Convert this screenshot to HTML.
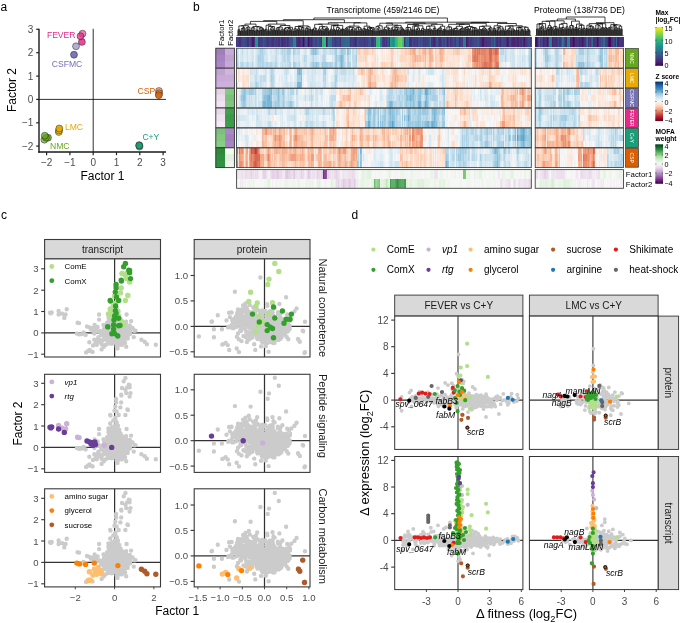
<!DOCTYPE html>
<html><head><meta charset="utf-8"><title>Figure</title>
<style>html,body{margin:0;padding:0;background:#fff;overflow:hidden;width:685px;height:623px;}svg{display:block;font-family:"Liberation Sans", sans-serif;will-change:transform;}</style>
</head><body>
<svg width="685" height="623" viewBox="0 0 685 623" font-family="'Liberation Sans', sans-serif">
<rect width="685" height="623" fill="#fff"/>
<text x="0.5" y="10.5" font-size="12">a</text>
<line x1="93.2" y1="28.8" x2="93.2" y2="152" stroke="#1a1a1a" stroke-width="0.9"/>
<line x1="39" y1="99.4" x2="166" y2="99.4" stroke="#1a1a1a" stroke-width="0.9"/>
<line x1="39" y1="28.8" x2="39" y2="152.7" stroke="#1a1a1a" stroke-width="1.4"/>
<line x1="38.3" y1="152" x2="166" y2="152" stroke="#1a1a1a" stroke-width="1.4"/>
<line x1="36.2" y1="146.1" x2="39" y2="146.1" stroke="#222" stroke-width="1.2"/>
<text x="33.4" y="149.7" font-size="10" text-anchor="end" fill="#4d4d4d">−2</text>
<line x1="46.6" y1="152" x2="46.6" y2="155.2" stroke="#222" stroke-width="1.2"/>
<text x="46.6" y="166.2" font-size="10" text-anchor="middle" fill="#4d4d4d">−2</text>
<line x1="36.2" y1="122.8" x2="39" y2="122.8" stroke="#222" stroke-width="1.2"/>
<text x="33.4" y="126.3" font-size="10" text-anchor="end" fill="#4d4d4d">−1</text>
<line x1="69.9" y1="152" x2="69.9" y2="155.2" stroke="#222" stroke-width="1.2"/>
<text x="69.9" y="166.2" font-size="10" text-anchor="middle" fill="#4d4d4d">−1</text>
<line x1="36.2" y1="99.4" x2="39" y2="99.4" stroke="#222" stroke-width="1.2"/>
<text x="33.4" y="103" font-size="10" text-anchor="end" fill="#4d4d4d">0</text>
<line x1="93.2" y1="152" x2="93.2" y2="155.2" stroke="#222" stroke-width="1.2"/>
<text x="93.2" y="166.2" font-size="10" text-anchor="middle" fill="#4d4d4d">0</text>
<line x1="36.2" y1="76.1" x2="39" y2="76.1" stroke="#222" stroke-width="1.2"/>
<text x="33.4" y="79.7" font-size="10" text-anchor="end" fill="#4d4d4d">1</text>
<line x1="116.5" y1="152" x2="116.5" y2="155.2" stroke="#222" stroke-width="1.2"/>
<text x="116.5" y="166.2" font-size="10" text-anchor="middle" fill="#4d4d4d">1</text>
<line x1="36.2" y1="52.7" x2="39" y2="52.7" stroke="#222" stroke-width="1.2"/>
<text x="33.4" y="56.3" font-size="10" text-anchor="end" fill="#4d4d4d">2</text>
<line x1="139.8" y1="152" x2="139.8" y2="155.2" stroke="#222" stroke-width="1.2"/>
<text x="139.8" y="166.2" font-size="10" text-anchor="middle" fill="#4d4d4d">2</text>
<line x1="36.2" y1="29.3" x2="39" y2="29.3" stroke="#222" stroke-width="1.2"/>
<text x="33.4" y="32.9" font-size="10" text-anchor="end" fill="#4d4d4d">3</text>
<line x1="163.1" y1="152" x2="163.1" y2="155.2" stroke="#222" stroke-width="1.2"/>
<text x="163.1" y="166.2" font-size="10" text-anchor="middle" fill="#4d4d4d">3</text>
<text x="102.4" y="180" font-size="12" text-anchor="middle">Factor 1</text>
<text x="16.3" y="90.1" font-size="12" text-anchor="middle" transform="rotate(-90 16.3 90.1)">Factor 2</text>
<circle cx="82.5" cy="33.7" r="3.45" fill="#e7298a" fill-opacity="0.6" stroke="#222" stroke-width="0.65" stroke-opacity="0.75"/>
<circle cx="81.9" cy="41.9" r="3.45" fill="#e7298a" fill-opacity="0.85" stroke="#222" stroke-width="0.65" stroke-opacity="0.75"/>
<circle cx="80.5" cy="36.2" r="3.45" fill="#e7298a" fill-opacity="0.75" stroke="#222" stroke-width="0.65" stroke-opacity="0.75"/>
<circle cx="74" cy="54.7" r="3.45" fill="#7570b3" fill-opacity="0.95" stroke="#222" stroke-width="0.65" stroke-opacity="0.75"/>
<circle cx="76" cy="46.3" r="3.45" fill="#7570b3" fill-opacity="0.55" stroke="#222" stroke-width="0.65" stroke-opacity="0.75"/>
<circle cx="159" cy="91" r="3.45" fill="#d95f02" fill-opacity="0.5" stroke="#222" stroke-width="0.65" stroke-opacity="0.75"/>
<circle cx="159.2" cy="93.3" r="3.45" fill="#d95f02" fill-opacity="0.45" stroke="#222" stroke-width="0.65" stroke-opacity="0.75"/>
<circle cx="158.8" cy="95.2" r="3.45" fill="#d95f02" fill-opacity="0.85" stroke="#222" stroke-width="0.65" stroke-opacity="0.75"/>
<circle cx="139.5" cy="146.6" r="3.45" fill="#1b9e77" fill-opacity="0.65" stroke="#222" stroke-width="0.65" stroke-opacity="0.75"/>
<circle cx="139.2" cy="145.1" r="3.45" fill="#1b9e77" fill-opacity="0.8" stroke="#222" stroke-width="0.65" stroke-opacity="0.75"/>
<circle cx="139.3" cy="145.6" r="3.45" fill="#1b9e77" fill-opacity="0.9" stroke="#222" stroke-width="0.65" stroke-opacity="0.75"/>
<circle cx="58.8" cy="132" r="3.45" fill="#e6ab02" fill-opacity="0.65" stroke="#222" stroke-width="0.65" stroke-opacity="0.75"/>
<circle cx="59" cy="130.5" r="3.45" fill="#e6ab02" fill-opacity="0.8" stroke="#222" stroke-width="0.65" stroke-opacity="0.75"/>
<circle cx="59.3" cy="128.5" r="3.45" fill="#e6ab02" fill-opacity="0.9" stroke="#222" stroke-width="0.65" stroke-opacity="0.75"/>
<circle cx="44.4" cy="139.7" r="3.45" fill="#66a61e" fill-opacity="0.65" stroke="#222" stroke-width="0.65" stroke-opacity="0.75"/>
<circle cx="48" cy="137.7" r="3.45" fill="#66a61e" fill-opacity="0.8" stroke="#222" stroke-width="0.65" stroke-opacity="0.75"/>
<circle cx="46" cy="137.7" r="3.45" fill="#66a61e" fill-opacity="0.9" stroke="#222" stroke-width="0.65" stroke-opacity="0.75"/>
<circle cx="44.8" cy="135.7" r="3.45" fill="#66a61e" fill-opacity="0.75" stroke="#222" stroke-width="0.65" stroke-opacity="0.75"/>
<text x="46.9" y="37.6" font-size="8.6" fill="#e7298a">FEVER</text>
<text x="51.7" y="67" font-size="8.6" fill="#7570b3">CSFMC</text>
<text x="137.6" y="93.8" font-size="8.6" fill="#d95f02">CSP</text>
<text x="142.4" y="140" font-size="8.6" fill="#1b9e77">C+Y</text>
<text x="64.9" y="130.4" font-size="8.6" fill="#e6ab02">LMC</text>
<text x="50" y="148.8" font-size="8.6" fill="#66a61e">NMC</text>
<text x="193" y="11" font-size="12">b</text>
<text x="383" y="12.6" font-size="8.6" text-anchor="middle">Transcriptome (459/2146 DE)</text>
<text x="579.5" y="12.6" font-size="8.6" text-anchor="middle">Proteome (138/736 DE)</text>
<path d="M237.9 35.4V30.4H238.6V35.4M239.2 35.4V31H239.8V35.4M238.2 30.4V29.5H239.5V31M240.5 35.4V31.3H241.1V35.4M240.8 31.3V30.7H241.7V35.4M242.4 35.4V31.3H243V35.4M241.3 30.7V28.5H242.7V31.3M242 28.5V28.3H243.7V35.4M244.3 35.4V30.4H244.9V35.4M242.8 28.3V27.5H244.6V30.4M238.9 29.5V25.9H243.7V27.5M245.6 35.4V31.1H246.2V35.4M247.5 35.4V30.5H248.1V35.4M246.8 35.4V29.8H247.8V30.5M247.3 29.8V29.3H248.8V35.4M245.9 31.1V27.9H248V29.3M250 35.4V30.3H250.7V35.4M249.4 35.4V30.1H250.4V30.3M247 27.9V27.2H249.9V30.1M241.3 25.9V25.7H248.4V27.2M251.3 35.4V30.4H251.9V35.4M253.2 35.4V30.5H253.9V35.4M252.6 35.4V30H253.5V30.5M254.5 35.4V31.1H255.1V35.4M253.1 30V27.8H254.8V31.1M251.6 30.4V27.7H253.9V27.8M255.8 35.4V30.6H256.4V35.4M257 35.4V30.8H257.7V35.4M257.4 30.8V30.3H258.3V35.4M256.1 30.6V30H257.8V30.3M259 35.4V30.8H259.6V35.4M260.2 35.4V30.3H260.9V35.4M260.6 30.3V30.1H261.5V35.4M259.3 30.8V27.9H261V30.1M263.4 35.4V30.2H264.1V35.4M262.8 35.4V28.9H263.7V30.2M262.2 35.4V28.7H263.3V28.9M260.2 27.9V27.7H262.7V28.7M257 30V26.9H261.4V27.7M252.8 27.7V26.5H259.2V26.9M244.9 25.7V24.1H256V26.5M265.3 35.4V30.3H266V35.4M264.7 35.4V29.9H265.7V30.3M266.6 35.4V31.3H267.3V35.4M265.2 29.9V29.3H266.9V31.3M268.5 35.4V30.7H269.2V35.4M267.9 35.4V29.7H268.8V30.7M269.8 35.4V31.4H270.4V35.4M271.1 35.4V29.9H271.7V35.4M270.1 31.4V29.2H271.4V29.9M272.4 35.4V30.4H273V35.4M272.7 30.4V29.5H273.6V35.4M270.8 29.2V27.8H273.2V29.5M274.3 35.4V30.2H274.9V35.4M272 27.8V26.6H274.6V30.2M268.4 29.7V26.5H273.3V26.6M266.1 29.3V25.2H270.8V26.5M275.5 35.4V30.4H276.2V35.4M275.9 30.4V30.3H276.8V35.4M277.5 35.4V30.3H278.1V35.4M277.8 30.3V29.4H278.7V35.4M276.3 30.3V28.1H278.3V29.4M280 35.4V31.2H280.6V35.4M279.4 35.4V30.1H280.3V31.2M277.3 28.1V27.5H279.8V30.1M281.3 35.4V31.2H281.9V35.4M282.6 35.4V30.5H283.2V35.4M281.6 31.2V29.3H282.9V30.5M278.6 27.5V27H282.2V29.3M284.5 35.4V29.9H285.1V35.4M283.8 35.4V29.4H284.8V29.9M285.7 35.4V31.1H286.4V35.4M284.3 29.4V28.5H286.1V31.1M287 35.4V31.1H287.7V35.4M287.3 31.1V30.4H288.3V35.4M288.9 35.4V30.4H289.6V35.4M287.8 30.4V28.7H289.3V30.4M290.2 35.4V30.9H290.8V35.4M288.5 28.7V28.3H290.5V30.9M285.2 28.5V27.5H289.5V28.3M291.5 35.4V30.5H292.1V35.4M292.8 35.4V30.9H293.4V35.4M291.8 30.5V29.1H293.1V30.9M287.4 27.5V27.3H292.4V29.1M280.4 27V25.5H289.9V27.3M268.4 25.2V24.1H285.2V25.5M250.4 24.1V21.4H276.8V24.1M294 35.4V31.3H294.7V35.4M295.3 35.4V31H295.9V35.4M295.6 31V29.5H296.6V35.4M294.4 31.3V28.4H296.1V29.5M297.2 35.4V29.9H297.9V35.4M297.5 29.9V29.7H298.5V35.4M299.1 35.4V30.1H299.8V35.4M298 29.7V28.3H299.5V30.1M300.4 35.4V30.9H301.1V35.4M301.7 35.4V30.3H302.3V35.4M300.7 30.9V29.3H302V30.3M301.4 29.3V27.6H303V35.4M303.6 35.4V30.3H304.2V35.4M302.2 27.6V27.1H303.9V30.3M298.7 28.3V26.9H303V27.1M295.2 28.4V26.5H300.9V26.9M305.5 35.4V31H306.2V35.4M304.9 35.4V30.4H305.8V31M307.4 35.4V30.5H308.1V35.4M306.8 35.4V29.2H307.7V30.5M307.3 29.2V28.7H308.7V35.4M305.4 30.4V28.3H308V28.7M310 35.4V30.2H310.6V35.4M310.3 30.2V29.5H311.3V35.4M309.3 35.4V29.3H310.8V29.5M306.7 28.3V26.9H310.1V29.3M298.1 26.5V25.9H308.4V26.9M263.6 21.4V20.7H303.2V25.9M311.9 35.4V29.9H312.5V35.4M312.2 29.9V29.7H313.2V35.4M313.8 35.4V30.5H314.4V35.4M312.7 29.7V29.4H314.1V30.5M315.1 35.4V30.1H315.7V35.4M316.4 35.4V31.2H317V35.4M315.4 30.1V28.4H316.7V31.2M313.4 29.4V28.1H316V28.4M317.6 35.4V30.5H318.3V35.4M317.9 30.5V30.3H318.9V35.4M319.5 35.4V30.7H320.2V35.4M319.9 30.7V30.2H320.8V35.4M318.4 30.3V29.1H320.3V30.2M321.5 35.4V30.8H322.1V35.4M323.4 35.4V31.2H324V35.4M322.7 35.4V29.5H323.7V31.2M321.8 30.8V28.4H323.2V29.5M325.3 35.4V30.1H325.9V35.4M325.6 30.1V29.7H326.6V35.4M324.6 35.4V29.1H326.1V29.7M325.4 29.1V28.8H327.2V35.4M328.5 35.4V31.2H329.1V35.4M327.8 35.4V29.4H328.8V31.2M326.3 28.8V28.2H328.3V29.4M322.5 28.4V26.8H327.3V28.2M319.4 29.1V26.7H324.9V26.8M314.7 28.1V24.3H322.1V26.7M329.7 35.4V30.5H330.4V35.4M330.1 30.5V30.3H331V35.4M331.7 35.4V30.5H332.3V35.4M330.5 30.3V29.2H332V30.5M333.6 35.4V30.2H334.2V35.4M333.9 30.2V30.1H334.8V35.4M332.9 35.4V29.1H334.4V30.1M335.5 35.4V30.6H336.1V35.4M336.8 35.4V30.1H337.4V35.4M335.8 30.6V29.8H337.1V30.1M338.7 35.4V31.1H339.3V35.4M338 35.4V30.2H339V31.1M339.9 35.4V30.1H340.6V35.4M338.5 30.2V28.8H340.3V30.1M336.4 29.8V27.6H339.4V28.8M333.7 29.1V25.8H337.9V27.6M331.3 29.2V25.6H335.8V25.8M341.2 35.4V30.5H341.9V35.4M341.5 30.5V29.1H342.5V35.4M343.1 35.4V30.3H343.8V35.4M342 29.1V29H343.5V30.3M333.5 25.6V25.4H342.7V29M318.4 24.3V24.1H338.1V25.4M345.1 35.4V30.5H345.7V35.4M344.4 35.4V29.6H345.4V30.5M346.3 35.4V30.2H347V35.4M344.9 29.6V28.8H346.6V30.2M345.8 28.8V28H347.6V35.4M348.2 35.4V31.1H348.9V35.4M349.5 35.4V30.7H350.2V35.4M348.6 31.1V29.2H349.8V30.7M350.8 35.4V30.4H351.4V35.4M351.1 30.4V29.5H352.1V35.4M352.7 35.4V30.2H353.3V35.4M351.6 29.5V29.3H353V30.2M354 35.4V30.7H354.6V35.4M352.3 29.3V27.8H354.3V30.7M349.2 29.2V27.2H353.3V27.8M346.7 28V27H351.2V27.2M355.9 35.4V31.4H356.5V35.4M356.2 31.4V30.8H357.2V35.4M355.3 35.4V29.1H356.7V30.8M357.8 35.4V31H358.4V35.4M358.1 31V29.6H359.1V35.4M356 29.1V27.8H358.6V29.6M359.7 35.4V30.9H360.4V35.4M361 35.4V30.4H361.6V35.4M361.3 30.4V29.3H362.3V35.4M360 30.9V29.1H361.8V29.3M357.3 27.8V27.6H360.9V29.1M349 27V26.1H359.1V27.6M362.9 35.4V30.8H363.5V35.4M364.2 35.4V30.2H364.8V35.4M364.5 30.2V28.8H365.5V35.4M363.2 30.8V28.6H365V28.8M366.1 35.4V30.9H366.7V35.4M366.4 30.9V29.5H367.4V35.4M366.9 29.5V29H368V35.4M368.6 35.4V29.7H369.3V35.4M371.2 35.4V30.6H371.8V35.4M370.6 35.4V30.4H371.5V30.6M369.9 35.4V30.2H371V30.4M370.5 30.2V28.6H372.5V35.4M369 29.7V28.3H371.5V28.6M373.1 35.4V30.7H373.7V35.4M374.4 35.4V31.4H375V35.4M373.4 30.7V28.7H374.7V31.4M370.2 28.3V27.6H374.1V28.7M367.4 29V27.4H372.1V27.6M364.1 28.6V26.2H369.8V27.4M354 26.1V22.9H366.9V26.2M328.3 24.1V22.7H360.5V22.9M283.4 20.7V19.7H344.4V22.7M375.7 35.4V30.5H376.3V35.4M376.9 35.4V31.4H377.6V35.4M378.2 35.4V31.3H378.8V35.4M377.3 31.4V28.8H378.5V31.3M380.1 35.4V30.7H380.8V35.4M379.5 35.4V30.4H380.4V30.7M377.9 28.8V27.8H380V30.4M376 30.5V26.4H378.9V27.8M381.4 35.4V30.3H382V35.4M381.7 30.3V30.1H382.7V35.4M377.5 26.4V25.8H382.2V30.1M383.3 35.4V30.8H383.9V35.4M385.2 35.4V30.2H385.9V35.4M384.6 35.4V29.3H385.5V30.2M383.6 30.8V29H385.1V29.3M386.5 35.4V30.6H387.1V35.4M387.8 35.4V30.2H388.4V35.4M388.1 30.2V30.1H389.1V35.4M386.8 30.6V29H388.6V30.1M389.7 35.4V30.1H390.3V35.4M387.7 29V28.6H390V30.1M384.3 29V27.2H388.9V28.6M391 35.4V30.4H391.6V35.4M392.9 35.4V29.9H393.5V35.4M392.2 35.4V29.7H393.2V29.9M391.3 30.4V28.3H392.7V29.7M394.2 35.4V29.9H394.8V35.4M394.5 29.9V29H395.4V35.4M396.1 35.4V30.1H396.7V35.4M396.4 30.1V30H397.3V35.4M396.9 30V29.5H398V35.4M395 29V27.8H397.4V29.5M398.6 35.4V31.1H399.3V35.4M396.2 27.8V27.2H398.9V31.1M392 28.3V27.1H397.6V27.2M399.9 35.4V30.4H400.5V35.4M401.2 35.4V30.3H401.8V35.4M404.4 35.4V30.9H405V35.4M403.7 35.4V30H404.7V30.9M403.1 35.4V29.8H404.2V30M402.4 35.4V29H403.6V29.8M401.5 30.3V28.4H403V29M400.2 30.4V27.4H402.3V28.4M394.8 27.1V25.4H401.2V27.4M386.6 27.2V25.1H398V25.4M379.8 25.8V23.2H392.3V25.1M405.6 35.4V30.2H406.3V35.4M406.9 35.4V29.8H407.5V35.4M408.2 35.4V31.3H408.8V35.4M407.2 29.8V29.2H408.5V31.3M409.5 35.4V31.2H410.1V35.4M409.8 31.2V29.9H410.7V35.4M410.3 29.9V29.1H411.4V35.4M407.9 29.2V27.7H410.8V29.1M406 30.2V27.5H409.3V27.7M412 35.4V30.4H412.6V35.4M412.3 30.4V30H413.3V35.4M414.6 35.4V29.9H415.2V35.4M413.9 35.4V29.5H414.9V29.9M415.8 35.4V31H416.5V35.4M417.7 35.4V30.8H418.4V35.4M417.1 35.4V29.5H418.1V30.8M416.2 31V29.4H417.6V29.5M419.7 35.4V30.4H420.3V35.4M419 35.4V29.9H420V30.4M416.9 29.4V28.2H419.5V29.9M414.4 29.5V26.1H418.2V28.2M412.8 30V25.9H416.3V26.1M420.9 35.4V30.5H421.6V35.4M421.3 30.5V30.1H422.2V35.4M423.5 35.4V31H424.1V35.4M422.8 35.4V30H423.8V31M423.3 30V29.6H424.8V35.4M421.7 30.1V28.4H424V29.6M414.5 25.9V25.8H422.9V28.4M407.6 27.5V24.5H418.7V25.8M426 35.4V31.1H426.7V35.4M425.4 35.4V29.8H426.4V31.1M425.9 29.8V29.1H427.3V35.4M429.2 35.4V31.2H429.9V35.4M428.6 35.4V30.1H429.5V31.2M428 35.4V29.4H429.1V30.1M430.5 35.4V30.2H431.1V35.4M430.8 30.2V30H431.8V35.4M428.5 29.4V29.1H431.3V30M426.6 29.1V26.2H429.9V29.1M432.4 35.4V30.9H433.1V35.4M432.7 30.9V30H433.7V35.4M434.3 35.4V30.4H435V35.4M433.2 30V28.3H434.6V30.4M435.6 35.4V30H436.2V35.4M433.9 28.3V28.1H435.9V30M428.2 26.2V26H434.9V28.1M436.9 35.4V29.9H437.5V35.4M437.2 29.9V29.7H438.2V35.4M437.7 29.7V29.6H438.8V35.4M439.4 35.4V30.1H440.1V35.4M439.7 30.1V29.9H440.7V35.4M438.2 29.6V28.2H440.2V29.9M441.3 35.4V30.5H442V35.4M439.2 28.2V28H441.7V30.5M442.6 35.4V31H443.3V35.4M442.9 31V29.8H443.9V35.4M443.4 29.8V29.6H444.5V35.4M445.2 35.4V31H445.8V35.4M444 29.6V29.4H445.5V31M440.4 28V26.2H444.7V29.4M431.6 26V24.3H442.6V26.2M413.2 24.5V23.8H437.1V24.3M386.1 23.2V23H425.1V23.8M447.1 35.4V30.7H447.7V35.4M446.4 35.4V30.3H447.4V30.7M448.4 35.4V30.7H449V35.4M448.7 30.7V29.9H449.6V35.4M450.3 35.4V30.7H450.9V35.4M450.6 30.7V29.4H451.5V35.4M451.1 29.4V29H452.2V35.4M449.2 29.9V27H451.6V29M446.9 30.3V26.9H450.4V27M452.8 35.4V30.1H453.5V35.4M454.1 35.4V30.1H454.7V35.4M453.1 30.1V28.9H454.4V30.1M455.4 35.4V30.7H456V35.4M455.7 30.7V30.4H456.6V35.4M453.8 28.9V28.4H456.2V30.4M457.9 35.4V30.7H458.6V35.4M457.3 35.4V30.2H458.2V30.7M455 28.4V28.2H457.8V30.2M459.2 35.4V30.3H459.8V35.4M459.5 30.3V29.4H460.5V35.4M461.1 35.4V31H461.7V35.4M460 29.4V29.3H461.4V31M460.7 29.3V28.6H462.4V35.4M463 35.4V31H463.7V35.4M461.5 28.6V28H463.3V31M456.4 28.2V26.3H462.4V28M465.6 35.4V30.4H466.2V35.4M465.9 30.4V29.2H466.8V35.4M464.9 35.4V29H466.4V29.2M464.3 35.4V27.8H465.7V29M468.1 35.4V30.8H468.8V35.4M468.4 30.8V28.9H469.4V35.4M467.5 35.4V28.7H468.9V28.9M465 27.8V27.5H468.2V28.7M470.7 35.4V30.6H471.3V35.4M470 35.4V29.1H471V30.6M472 35.4V30.9H472.6V35.4M472.3 30.9V30.4H473.2V35.4M475.1 35.4V30.2H475.8V35.4M474.5 35.4V29.9H475.5V30.2M473.9 35.4V28.7H475V29.9M477.1 35.4V29.9H477.7V35.4M476.4 35.4V29.7H477.4V29.9M474.4 28.7V28.1H476.9V29.7M472.7 30.4V27.6H475.7V28.1M470.5 29.1V27.4H474.2V27.6M466.6 27.5V26.5H472.4V27.4M459.4 26.3V24.4H469.5V26.5M448.7 26.9V24.3H464.4V24.4M478.3 35.4V30.8H479V35.4M479.6 35.4V30.5H480.2V35.4M479.9 30.5V29.6H480.9V35.4M478.6 30.8V29.3H480.4V29.6M482.2 35.4V30.2H482.8V35.4M481.5 35.4V29.5H482.5V30.2M483.4 35.4V30.3H484.1V35.4M482 29.5V29H483.7V30.3M485.3 35.4V30.5H486V35.4M486.6 35.4V30.3H487.3V35.4M485.7 30.5V29.6H486.9V30.3M484.7 35.4V28.8H486.3V29.6M482.9 29V28H485.5V28.8M479.5 29.3V26.4H484.2V28M487.9 35.4V31.3H488.5V35.4M489.2 35.4V30.8H489.8V35.4M490.4 35.4V30H491.1V35.4M489.5 30.8V28.9H490.8V30M488.2 31.3V28.7H490.1V28.9M491.7 35.4V31.3H492.4V35.4M489.2 28.7V27.8H492V31.3M481.9 26.4V26.1H490.6V27.8M456.5 24.3V23.3H486.2V26.1M493 35.4V30H493.6V35.4M495.5 35.4V30.7H496.2V35.4M494.9 35.4V30.5H495.9V30.7M494.3 35.4V28.4H495.4V30.5M493.3 30V28.2H494.8V28.4M496.8 35.4V30.3H497.5V35.4M498.7 35.4V31.5H499.4V35.4M498.1 35.4V28.9H499.1V31.5M500 35.4V30.9H500.6V35.4M500.3 30.9V30.2H501.3V35.4M498.6 28.9V28.1H500.8V30.2M497.1 30.3V27.4H499.7V28.1M501.9 35.4V30.7H502.6V35.4M503.2 35.4V30.7H503.8V35.4M502.2 30.7V28.7H503.5V30.7M498.4 27.4V26.8H502.9V28.7M494.1 28.2V25.8H500.6V26.8M504.5 35.4V30.7H505.1V35.4M505.7 35.4V31H506.4V35.4M504.8 30.7V29.6H506.1V31M507.7 35.4V31.1H508.3V35.4M507 35.4V30.2H508V31.1M507.5 30.2V30.1H508.9V35.4M509.6 35.4V30.5H510.2V35.4M508.2 30.1V28.6H509.9V30.5M510.9 35.4V30.8H511.5V35.4M509.1 28.6V27.8H511.2V30.8M505.4 29.6V26.1H510.1V27.8M512.8 35.4V31H513.4V35.4M514.7 35.4V30.8H515.3V35.4M514 35.4V30.2H515V30.8M513.1 31V30H514.5V30.2M512.1 35.4V29.1H513.8V30M507.8 26.1V25.9H513V29.1M516 35.4V30.2H516.6V35.4M516.3 30.2V30H517.2V35.4M517.9 35.4V30.6H518.5V35.4M518.2 30.6V30.4H519.1V35.4M519.8 35.4V31.5H520.4V35.4M521.1 35.4V29.9H521.7V35.4M522.3 35.4V30.1H523V35.4M521.4 29.9V29.5H522.6V30.1M520.1 31.5V27.7H522V29.5M518.7 30.4V27.5H521.1V27.7M516.7 30V27.3H519.9V27.5M523.6 35.4V30.9H524.2V35.4M525.5 35.4V31.1H526.2V35.4M524.9 35.4V30.2H525.8V31.1M523.9 30.9V29H525.4V30.2M526.8 35.4V30.9H527.4V35.4M528.1 35.4V30.4H528.7V35.4M529.3 35.4V30.8H530V35.4M528.4 30.4V30H529.7V30.8M527.1 30.9V29.2H529V30M524.6 29V27.3H528.1V29.2M518.3 27.3V26.9H526.4V27.3M510.4 25.9V25.8H522.3V26.9M497.4 25.8V23.5H516.3V25.8M471.4 23.3V22.4H506.9V23.5M405.6 23V22.2H489.1V22.4M313.9 19.7V18H447.4V22.2" fill="none" stroke="#000" stroke-width="0.75"/>
<path d="M537.1 35.4V29.2H537.8V35.4M536.5 35.4V29.1H537.5V29.2M538.4 35.4V30.7H539V35.4M538.7 30.7V28.6H539.6V35.4M541.5 35.4V30.7H542.1V35.4M540.9 35.4V28.5H541.8V30.7M541.4 28.5V27.7H542.8V35.4M540.3 35.4V27.2H542.1V27.7M543.4 35.4V29.6H544V35.4M541.2 27.2V26.1H543.7V29.6M539.2 28.6V24.2H542.4V26.1M537 29.1V24H540.8V24.2M544.6 35.4V30.7H545.3V35.4M545.9 35.4V30H546.5V35.4M545 30.7V28H546.2V30M538.9 24V23.6H545.6V28M547.1 35.4V29.8H547.8V35.4M548.4 35.4V29.1H549V35.4M548.7 29.1V28.9H549.6V35.4M547.5 29.8V27.5H549.2V28.9M552.1 35.4V30.1H552.8V35.4M551.5 35.4V27.5H552.5V30.1M550.9 35.4V27.4H552V27.5M550.3 35.4V26.9H551.4V27.4M548.3 27.5V25.6H550.9V26.9M542.2 23.6V21.3H549.6V25.6M553.4 35.4V30.5H554V35.4M554.6 35.4V29.1H555.3V35.4M555 29.1V28.9H555.9V35.4M557.1 35.4V30.2H557.8V35.4M556.5 35.4V28.4H557.5V30.2M555.4 28.9V26.7H557V28.4M553.7 30.5V26.4H556.2V26.7M545.9 21.3V21.1H555V26.4M558.4 35.4V29.5H559V35.4M560.3 35.4V30.2H560.9V35.4M559.7 35.4V27.9H560.6V30.2M558.7 29.5V27.7H560.1V27.9M562.2 35.4V30.1H562.8V35.4M561.5 35.4V27.5H562.5V30.1M563.4 35.4V29.6H564V35.4M563.7 29.6V29H564.7V35.4M562 27.5V27.4H564.2V29M559.4 27.7V24.3H563.1V27.4M565.3 35.4V30.3H565.9V35.4M566.5 35.4V29.1H567.2V35.4M565.6 30.3V27.8H566.8V29.1M566.2 27.8V26.7H567.8V35.4M561.3 24.3V23.4H567V26.7M550.4 21.1V20.8H564.1V23.4M568.4 35.4V29H569V35.4M568.7 29V28.8H569.7V35.4M570.3 35.4V30H570.9V35.4M569.2 28.8V26.9H570.6V30M571.5 35.4V29.4H572.2V35.4M571.8 29.4V28.4H572.8V35.4M573.4 35.4V29.1H574V35.4M572.3 28.4V25.9H573.7V29.1M569.9 26.9V25.5H573V25.9M575.3 35.4V29.3H575.9V35.4M574.7 35.4V28.9H575.6V29.3M575.1 28.9V27.6H576.5V35.4M575.8 27.6V27.3H577.2V35.4M578.4 35.4V29.8H579V35.4M577.8 35.4V28.9H578.7V29.8M579.7 35.4V30.5H580.3V35.4M578.3 28.9V28.6H580V30.5M582.2 35.4V30.6H582.8V35.4M581.5 35.4V28.9H582.5V30.6M580.9 35.4V27.7H582V28.9M579.1 28.6V25.3H581.5V27.7M584.7 35.4V30.2H585.3V35.4M584 35.4V28.4H585V30.2M583.4 35.4V28.2H584.5V28.4M580.3 25.3V25.2H584V28.2M576.5 27.3V24.1H582.1V25.2M571.5 25.5V21.1H579.3V24.1M557.3 20.8V19H575.4V21.1M585.9 35.4V28.7H586.5V35.4M587.2 35.4V29.7H587.8V35.4M586.2 28.7V28.5H587.5V29.7M589 35.4V29.3H589.7V35.4M588.4 35.4V29.1H589.4V29.3M590.9 35.4V29.6H591.5V35.4M590.3 35.4V28H591.2V29.6M588.9 29.1V26.4H590.8V28M592.2 35.4V29.7H592.8V35.4M594 35.4V30.1H594.7V35.4M593.4 35.4V28.6H594.4V30.1M592.5 29.7V27.2H593.9V28.6M589.8 26.4V26.2H593.2V27.2M586.9 28.5V25.2H591.5V26.2M595.9 35.4V29.2H596.5V35.4M595.3 35.4V28.6H596.2V29.2M597.2 35.4V30.2H597.8V35.4M598.4 35.4V29.9H599V35.4M597.5 30.2V28.3H598.7V29.9M600.3 35.4V29.3H600.9V35.4M599.7 35.4V29.1H600.6V29.3M598.1 28.3V25.7H600.1V29.1M595.8 28.6V24.9H599.1V25.7M602.8 35.4V29.4H603.4V35.4M602.2 35.4V28.3H603.1V29.4M602.6 28.3V28.1H604.1V35.4M601.6 35.4V27.4H603.3V28.1M597.4 24.9V23.9H602.4V27.4M605.3 35.4V29.9H605.9V35.4M605.6 29.9V28.5H606.6V35.4M606.1 28.5V28H607.2V35.4M604.7 35.4V27.7H606.6V28M599.9 23.9V23.7H605.7V27.7M589.2 25.2V23.6H602.8V23.7M607.8 35.4V29.1H608.4V35.4M609.1 35.4V29.8H609.7V35.4M608.1 29.1V27.9H609.4V29.8M610.3 35.4V28.9H610.9V35.4M608.7 27.9V27.7H610.6V28.9M611.6 35.4V30.2H612.2V35.4M609.7 27.7V27.1H611.9V30.2M612.8 35.4V30.3H613.4V35.4M614.1 35.4V29.1H614.7V35.4M615.9 35.4V29.6H616.6V35.4M617.2 35.4V30.3H617.8V35.4M616.2 29.6V28.2H617.5V30.3M615.3 35.4V27.2H616.9V28.2M614.4 29.1V25.8H616.1V27.2M613.1 30.3V25.6H615.2V25.8M619.1 35.4V30.5H619.7V35.4M619.4 30.5V28.7H620.3V35.4M618.4 35.4V28.2H619.8V28.7M620.9 35.4V29.8H621.6V35.4M621.2 29.8V29.2H622.2V35.4M619.1 28.2V26.2H621.7V29.2M614.2 25.6V25H620.4V26.2M610.8 27.1V24.6H617.3V25M596 23.6V22.7H614V24.6M566.3 19V17H605V22.7" fill="none" stroke="#000" stroke-width="0.75"/>
<line x1="236.6" y1="35.6" x2="531.3" y2="35.6" stroke="#000" stroke-width="0.6"/>
<line x1="535.2" y1="35.6" x2="623.5" y2="35.6" stroke="#000" stroke-width="0.6"/>
<path d="M236 37.4h1v9.1h-1zM238 37.4h1v9.1h-1zM258 37.4h1v9.1h-1zM259 37.4h1v9.1h-1zM261 37.4h1v9.1h-1zM268 37.4h1v9.1h-1zM271 37.4h1v9.1h-1zM276 37.4h1v9.1h-1zM283 37.4h1v9.1h-1zM285 37.4h1v9.1h-1zM288 37.4h1v9.1h-1zM296 37.4h1v9.1h-1zM310 37.4h1v9.1h-1zM312 37.4h1v9.1h-1zM327 37.4h1v9.1h-1zM335 37.4h1v9.1h-1zM350 37.4h1v9.1h-1zM353 37.4h1v9.1h-1zM354 37.4h1v9.1h-1zM356 37.4h1v9.1h-1zM364 37.4h1v9.1h-1zM371 37.4h1v9.1h-1zM373 37.4h1v9.1h-1zM383 37.4h1v9.1h-1zM384 37.4h1v9.1h-1zM386 37.4h1v9.1h-1zM389 37.4h1v9.1h-1zM404 37.4h1v9.1h-1zM414 37.4h1v9.1h-1zM417 37.4h1v9.1h-1zM423 37.4h1v9.1h-1zM425 37.4h1v9.1h-1zM432 37.4h1v9.1h-1zM435 37.4h1v9.1h-1zM441 37.4h1v9.1h-1zM448 37.4h1v9.1h-1zM451 37.4h1v9.1h-1zM455 37.4h1v9.1h-1zM460 37.4h1v9.1h-1zM462 37.4h1v9.1h-1zM470 37.4h1v9.1h-1zM471 37.4h1v9.1h-1zM480 37.4h1v9.1h-1zM485 37.4h1v9.1h-1zM487 37.4h1v9.1h-1zM488 37.4h1v9.1h-1zM489 37.4h1v9.1h-1zM490 37.4h1v9.1h-1zM499 37.4h1v9.1h-1zM519 37.4h1v9.1h-1zM525 37.4h1v9.1h-1zM526 37.4h1v9.1h-1z" fill="#433880" shape-rendering="crispEdges"/>
<path d="M237 37.4h1v9.1h-1zM241 37.4h1v9.1h-1zM245 37.4h1v9.1h-1zM246 37.4h1v9.1h-1zM250 37.4h1v9.1h-1zM260 37.4h1v9.1h-1zM262 37.4h1v9.1h-1zM265 37.4h1v9.1h-1zM266 37.4h1v9.1h-1zM269 37.4h1v9.1h-1zM270 37.4h1v9.1h-1zM274 37.4h1v9.1h-1zM275 37.4h1v9.1h-1zM277 37.4h1v9.1h-1zM286 37.4h1v9.1h-1zM301 37.4h1v9.1h-1zM307 37.4h1v9.1h-1zM315 37.4h1v9.1h-1zM316 37.4h1v9.1h-1zM319 37.4h1v9.1h-1zM320 37.4h1v9.1h-1zM332 37.4h1v9.1h-1zM334 37.4h1v9.1h-1zM336 37.4h1v9.1h-1zM337 37.4h1v9.1h-1zM339 37.4h1v9.1h-1zM351 37.4h1v9.1h-1zM352 37.4h1v9.1h-1zM359 37.4h1v9.1h-1zM360 37.4h1v9.1h-1zM361 37.4h1v9.1h-1zM362 37.4h1v9.1h-1zM363 37.4h1v9.1h-1zM365 37.4h1v9.1h-1zM366 37.4h1v9.1h-1zM367 37.4h1v9.1h-1zM375 37.4h1v9.1h-1zM382 37.4h1v9.1h-1zM385 37.4h1v9.1h-1zM413 37.4h1v9.1h-1zM415 37.4h1v9.1h-1zM416 37.4h1v9.1h-1zM420 37.4h1v9.1h-1zM424 37.4h1v9.1h-1zM426 37.4h1v9.1h-1zM427 37.4h1v9.1h-1zM428 37.4h1v9.1h-1zM438 37.4h1v9.1h-1zM443 37.4h1v9.1h-1zM444 37.4h1v9.1h-1zM446 37.4h1v9.1h-1zM452 37.4h1v9.1h-1zM454 37.4h1v9.1h-1zM461 37.4h1v9.1h-1zM469 37.4h1v9.1h-1zM472 37.4h1v9.1h-1zM473 37.4h1v9.1h-1zM476 37.4h1v9.1h-1zM479 37.4h1v9.1h-1zM493 37.4h1v9.1h-1zM495 37.4h1v9.1h-1zM498 37.4h1v9.1h-1zM501 37.4h1v9.1h-1zM503 37.4h1v9.1h-1zM504 37.4h1v9.1h-1zM505 37.4h1v9.1h-1zM509 37.4h1v9.1h-1zM510 37.4h1v9.1h-1zM522 37.4h1v9.1h-1zM527 37.4h1v9.1h-1zM530 37.4h1v9.1h-1z" fill="#404286" shape-rendering="crispEdges"/>
<path d="M239 37.4h1v9.1h-1zM240 37.4h1v9.1h-1zM247 37.4h1v9.1h-1zM248 37.4h1v9.1h-1zM251 37.4h1v9.1h-1zM254 37.4h1v9.1h-1zM267 37.4h1v9.1h-1zM272 37.4h1v9.1h-1zM273 37.4h1v9.1h-1zM278 37.4h1v9.1h-1zM279 37.4h1v9.1h-1zM281 37.4h1v9.1h-1zM284 37.4h1v9.1h-1zM287 37.4h1v9.1h-1zM297 37.4h1v9.1h-1zM300 37.4h1v9.1h-1zM302 37.4h1v9.1h-1zM304 37.4h1v9.1h-1zM321 37.4h1v9.1h-1zM340 37.4h1v9.1h-1zM372 37.4h1v9.1h-1zM409 37.4h1v9.1h-1zM410 37.4h1v9.1h-1zM411 37.4h1v9.1h-1zM431 37.4h1v9.1h-1zM439 37.4h1v9.1h-1zM440 37.4h1v9.1h-1zM450 37.4h1v9.1h-1zM459 37.4h1v9.1h-1zM468 37.4h1v9.1h-1zM481 37.4h1v9.1h-1zM484 37.4h1v9.1h-1zM486 37.4h1v9.1h-1zM496 37.4h1v9.1h-1zM506 37.4h1v9.1h-1zM511 37.4h1v9.1h-1zM515 37.4h1v9.1h-1zM516 37.4h1v9.1h-1zM520 37.4h1v9.1h-1zM521 37.4h1v9.1h-1z" fill="#462f7b" shape-rendering="crispEdges"/>
<path d="M242 37.4h1v9.1h-1zM243 37.4h1v9.1h-1zM244 37.4h1v9.1h-1zM249 37.4h1v9.1h-1zM264 37.4h1v9.1h-1zM280 37.4h1v9.1h-1zM289 37.4h1v9.1h-1zM290 37.4h1v9.1h-1zM292 37.4h1v9.1h-1zM305 37.4h1v9.1h-1zM313 37.4h1v9.1h-1zM314 37.4h1v9.1h-1zM317 37.4h1v9.1h-1zM333 37.4h1v9.1h-1zM338 37.4h1v9.1h-1zM357 37.4h1v9.1h-1zM358 37.4h1v9.1h-1zM368 37.4h1v9.1h-1zM374 37.4h1v9.1h-1zM387 37.4h1v9.1h-1zM412 37.4h1v9.1h-1zM418 37.4h1v9.1h-1zM422 37.4h1v9.1h-1zM429 37.4h1v9.1h-1zM436 37.4h1v9.1h-1zM449 37.4h1v9.1h-1zM453 37.4h1v9.1h-1zM458 37.4h1v9.1h-1zM474 37.4h1v9.1h-1zM475 37.4h1v9.1h-1zM491 37.4h1v9.1h-1zM492 37.4h1v9.1h-1zM502 37.4h1v9.1h-1zM528 37.4h1v9.1h-1zM529 37.4h1v9.1h-1zM531 37.4h1v9.1h-1z" fill="#3d4c8a" shape-rendering="crispEdges"/>
<path d="M252 37.4h1v9.1h-1zM253 37.4h1v9.1h-1zM326 37.4h1v9.1h-1zM466 37.4h1v9.1h-1zM482 37.4h1v9.1h-1zM483 37.4h1v9.1h-1zM507 37.4h1v9.1h-1zM524 37.4h1v9.1h-1z" fill="#46186a" shape-rendering="crispEdges"/>
<path d="M255 37.4h1v9.1h-1zM256 37.4h1v9.1h-1zM392 37.4h1v9.1h-1z" fill="#22908c" shape-rendering="crispEdges"/>
<path d="M257 37.4h1v9.1h-1zM391 37.4h1v9.1h-1zM394 37.4h1v9.1h-1z" fill="#20988a" shape-rendering="crispEdges"/>
<path d="M263 37.4h1v9.1h-1zM291 37.4h1v9.1h-1zM306 37.4h1v9.1h-1zM318 37.4h1v9.1h-1zM349 37.4h1v9.1h-1zM369 37.4h1v9.1h-1zM370 37.4h1v9.1h-1zM388 37.4h1v9.1h-1zM405 37.4h1v9.1h-1zM419 37.4h1v9.1h-1zM421 37.4h1v9.1h-1zM437 37.4h1v9.1h-1zM442 37.4h1v9.1h-1zM445 37.4h1v9.1h-1zM456 37.4h1v9.1h-1zM457 37.4h1v9.1h-1zM477 37.4h1v9.1h-1zM478 37.4h1v9.1h-1z" fill="#39558b" shape-rendering="crispEdges"/>
<path d="M282 37.4h1v9.1h-1zM298 37.4h1v9.1h-1zM299 37.4h1v9.1h-1zM309 37.4h1v9.1h-1zM311 37.4h1v9.1h-1zM355 37.4h1v9.1h-1zM433 37.4h1v9.1h-1zM434 37.4h1v9.1h-1zM447 37.4h1v9.1h-1zM467 37.4h1v9.1h-1zM497 37.4h1v9.1h-1zM500 37.4h1v9.1h-1zM508 37.4h1v9.1h-1zM512 37.4h1v9.1h-1zM513 37.4h1v9.1h-1zM514 37.4h1v9.1h-1zM517 37.4h1v9.1h-1zM518 37.4h1v9.1h-1zM523 37.4h1v9.1h-1z" fill="#482474" shape-rendering="crispEdges"/>
<path d="M293 37.4h1v9.1h-1zM295 37.4h1v9.1h-1zM393 37.4h1v9.1h-1z" fill="#25888d" shape-rendering="crispEdges"/>
<path d="M294 37.4h1v9.1h-1zM328 37.4h1v9.1h-1zM380 37.4h1v9.1h-1zM463 37.4h1v9.1h-1zM465 37.4h1v9.1h-1z" fill="#277f8e" shape-rendering="crispEdges"/>
<path d="M303 37.4h1v9.1h-1zM308 37.4h1v9.1h-1z" fill="#450d5f" shape-rendering="crispEdges"/>
<path d="M322 37.4h1v9.1h-1zM324 37.4h1v9.1h-1zM325 37.4h1v9.1h-1zM376 37.4h1v9.1h-1zM377 37.4h1v9.1h-1zM378 37.4h1v9.1h-1zM395 37.4h1v9.1h-1zM396 37.4h1v9.1h-1zM403 37.4h1v9.1h-1z" fill="#35b779" shape-rendering="crispEdges"/>
<path d="M323 37.4h1v9.1h-1z" fill="#2eaf7e" shape-rendering="crispEdges"/>
<path d="M329 37.4h1v9.1h-1zM331 37.4h1v9.1h-1zM381 37.4h1v9.1h-1zM464 37.4h1v9.1h-1z" fill="#2a788e" shape-rendering="crispEdges"/>
<path d="M330 37.4h1v9.1h-1zM348 37.4h1v9.1h-1zM406 37.4h1v9.1h-1zM408 37.4h1v9.1h-1zM430 37.4h1v9.1h-1z" fill="#2e708e" shape-rendering="crispEdges"/>
<path d="M341 37.4h1v9.1h-1zM342 37.4h1v9.1h-1zM343 37.4h1v9.1h-1zM344 37.4h1v9.1h-1zM347 37.4h1v9.1h-1z" fill="#355f8c" shape-rendering="crispEdges"/>
<path d="M345 37.4h1v9.1h-1zM346 37.4h1v9.1h-1zM407 37.4h1v9.1h-1zM494 37.4h1v9.1h-1z" fill="#31688e" shape-rendering="crispEdges"/>
<path d="M379 37.4h1v9.1h-1zM397 37.4h1v9.1h-1zM402 37.4h1v9.1h-1z" fill="#46be6f" shape-rendering="crispEdges"/>
<path d="M390 37.4h1v9.1h-1z" fill="#21a087" shape-rendering="crispEdges"/>
<path d="M398 37.4h1v9.1h-1zM399 37.4h1v9.1h-1zM400 37.4h1v9.1h-1z" fill="#68cc5b" shape-rendering="crispEdges"/>
<path d="M401 37.4h1v9.1h-1z" fill="#7cd14f" shape-rendering="crispEdges"/>
<path d="M535 37.4h1v9.1h-1zM547 37.4h1v9.1h-1zM574 37.4h1v9.1h-1zM582 37.4h1v9.1h-1zM608 37.4h1v9.1h-1z" fill="#46186a" shape-rendering="crispEdges"/>
<path d="M536 37.4h1v9.1h-1zM573 37.4h1v9.1h-1zM597 37.4h1v9.1h-1zM610 37.4h1v9.1h-1z" fill="#450d5f" shape-rendering="crispEdges"/>
<path d="M537 37.4h1v9.1h-1zM543 37.4h1v9.1h-1zM552 37.4h1v9.1h-1zM570 37.4h1v9.1h-1zM572 37.4h1v9.1h-1zM579 37.4h1v9.1h-1zM581 37.4h1v9.1h-1zM583 37.4h1v9.1h-1zM598 37.4h1v9.1h-1zM617 37.4h1v9.1h-1zM618 37.4h1v9.1h-1z" fill="#482474" shape-rendering="crispEdges"/>
<path d="M538 37.4h1v9.1h-1zM542 37.4h1v9.1h-1zM589 37.4h1v9.1h-1zM599 37.4h1v9.1h-1zM600 37.4h1v9.1h-1zM605 37.4h1v9.1h-1zM606 37.4h1v9.1h-1zM614 37.4h1v9.1h-1z" fill="#404286" shape-rendering="crispEdges"/>
<path d="M539 37.4h1v9.1h-1zM563 37.4h1v9.1h-1zM592 37.4h1v9.1h-1zM616 37.4h1v9.1h-1z" fill="#31688e" shape-rendering="crispEdges"/>
<path d="M540 37.4h1v9.1h-1zM545 37.4h1v9.1h-1zM548 37.4h1v9.1h-1zM554 37.4h1v9.1h-1zM557 37.4h1v9.1h-1zM559 37.4h1v9.1h-1zM560 37.4h1v9.1h-1zM565 37.4h1v9.1h-1zM575 37.4h1v9.1h-1zM577 37.4h1v9.1h-1zM578 37.4h1v9.1h-1zM584 37.4h1v9.1h-1zM585 37.4h1v9.1h-1zM590 37.4h1v9.1h-1zM595 37.4h1v9.1h-1zM607 37.4h1v9.1h-1zM611 37.4h1v9.1h-1zM612 37.4h1v9.1h-1zM620 37.4h1v9.1h-1zM623 37.4h1v9.1h-1z" fill="#433880" shape-rendering="crispEdges"/>
<path d="M541 37.4h1v9.1h-1zM558 37.4h1v9.1h-1zM561 37.4h1v9.1h-1zM564 37.4h1v9.1h-1zM602 37.4h1v9.1h-1zM613 37.4h1v9.1h-1z" fill="#3d4c8a" shape-rendering="crispEdges"/>
<path d="M544 37.4h1v9.1h-1zM546 37.4h1v9.1h-1zM553 37.4h1v9.1h-1zM555 37.4h1v9.1h-1zM556 37.4h1v9.1h-1zM566 37.4h1v9.1h-1zM571 37.4h1v9.1h-1zM576 37.4h1v9.1h-1zM580 37.4h1v9.1h-1zM588 37.4h1v9.1h-1zM593 37.4h1v9.1h-1zM594 37.4h1v9.1h-1zM596 37.4h1v9.1h-1zM615 37.4h1v9.1h-1zM619 37.4h1v9.1h-1zM621 37.4h1v9.1h-1zM622 37.4h1v9.1h-1z" fill="#462f7b" shape-rendering="crispEdges"/>
<path d="M549 37.4h1v9.1h-1zM550 37.4h1v9.1h-1zM551 37.4h1v9.1h-1zM567 37.4h1v9.1h-1zM568 37.4h1v9.1h-1z" fill="#277f8e" shape-rendering="crispEdges"/>
<path d="M562 37.4h1v9.1h-1zM587 37.4h1v9.1h-1z" fill="#2a788e" shape-rendering="crispEdges"/>
<path d="M569 37.4h1v9.1h-1z" fill="#25888d" shape-rendering="crispEdges"/>
<path d="M586 37.4h1v9.1h-1zM603 37.4h1v9.1h-1z" fill="#355f8c" shape-rendering="crispEdges"/>
<path d="M591 37.4h1v9.1h-1zM601 37.4h1v9.1h-1z" fill="#39558b" shape-rendering="crispEdges"/>
<path d="M604 37.4h1v9.1h-1z" fill="#2e708e" shape-rendering="crispEdges"/>
<path d="M609 37.4h1v9.1h-1z" fill="#440154" shape-rendering="crispEdges"/>
<path d="M236 48.2h1v6.7h-1zM236 54.9h1v6.7h-1zM237 61.5h1v6.7h-1zM258 54.9h1v6.7h-1zM260 48.2h1v6.7h-1zM260 54.9h1v6.7h-1zM262 48.2h1v6.7h-1zM262 61.5h1v6.7h-1zM287 48.2h1v6.7h-1zM288 48.2h1v6.7h-1zM289 48.2h1v6.7h-1zM293 48.2h1v6.7h-1zM293 61.5h1v6.7h-1zM294 61.5h1v6.7h-1zM311 48.2h1v6.7h-1zM312 61.5h1v6.7h-1zM314 61.5h1v6.7h-1zM315 61.5h1v6.7h-1zM317 61.5h1v6.7h-1zM318 61.5h1v6.7h-1zM323 61.5h1v6.7h-1zM324 61.5h1v6.7h-1zM326 61.5h1v6.7h-1zM327 61.5h1v6.7h-1zM330 61.5h1v6.7h-1zM335 48.2h1v6.7h-1zM335 54.9h1v6.7h-1zM336 48.2h1v6.7h-1zM339 54.9h1v6.7h-1zM343 48.2h1v6.7h-1zM343 61.5h1v6.7h-1zM344 48.2h1v6.7h-1zM348 61.5h1v6.7h-1zM529 54.9h1v6.7h-1zM529 61.5h1v6.7h-1zM530 61.5h1v6.7h-1zM256 81.5h1v6.7h-1zM271 74.9h1v6.7h-1zM297 74.9h1v6.7h-1zM298 74.9h1v6.7h-1zM299 74.9h1v6.7h-1zM300 74.9h1v6.7h-1zM324 68.2h1v6.7h-1zM325 68.2h1v6.7h-1zM335 74.9h1v6.7h-1zM335 81.5h1v6.7h-1zM336 74.9h1v6.7h-1zM242 88.2h1v6.6h-1zM242 101.4h1v6.6h-1zM245 101.4h1v6.6h-1zM250 88.2h1v6.6h-1zM252 88.2h1v6.6h-1zM253 88.2h1v6.6h-1zM255 88.2h1v6.6h-1zM263 88.2h1v6.6h-1zM264 88.2h1v6.6h-1zM266 88.2h1v6.6h-1zM276 88.2h1v6.6h-1zM276 101.4h1v6.6h-1zM277 88.2h1v6.6h-1zM277 94.8h1v6.6h-1zM277 101.4h1v6.6h-1zM279 88.2h1v6.6h-1zM279 94.8h1v6.6h-1zM279 101.4h1v6.6h-1zM283 94.8h1v6.6h-1zM289 101.4h1v6.6h-1zM388 101.4h1v6.6h-1zM399 94.8h1v6.6h-1zM400 101.4h1v6.6h-1zM404 88.2h1v6.6h-1zM405 88.2h1v6.6h-1zM405 101.4h1v6.6h-1zM407 88.2h1v6.6h-1zM407 101.4h1v6.6h-1zM408 88.2h1v6.6h-1zM408 101.4h1v6.6h-1zM409 88.2h1v6.6h-1zM411 101.4h1v6.6h-1zM412 101.4h1v6.6h-1zM414 94.8h1v6.6h-1zM415 94.8h1v6.6h-1zM417 94.8h1v6.6h-1zM417 101.4h1v6.6h-1zM421 88.2h1v6.6h-1zM421 101.4h1v6.6h-1zM424 88.2h1v6.6h-1zM428 94.8h1v6.6h-1zM428 101.4h1v6.6h-1zM429 88.2h1v6.6h-1zM432 94.8h1v6.6h-1zM433 88.2h1v6.6h-1zM433 94.8h1v6.6h-1zM434 94.8h1v6.6h-1zM435 94.8h1v6.6h-1zM443 88.2h1v6.6h-1zM444 94.8h1v6.6h-1zM444 101.4h1v6.6h-1zM333 108h1v6.7h-1zM366 121.3h1v6.7h-1zM375 108h1v6.7h-1zM380 114.6h1v6.7h-1zM382 114.6h1v6.7h-1zM383 114.6h1v6.7h-1zM383 121.3h1v6.7h-1zM384 108h1v6.7h-1zM385 121.3h1v6.7h-1zM388 108h1v6.7h-1zM388 114.6h1v6.7h-1zM396 114.6h1v6.7h-1zM396 121.3h1v6.7h-1zM397 108h1v6.7h-1zM402 108h1v6.7h-1zM402 121.3h1v6.7h-1zM406 114.6h1v6.7h-1zM407 108h1v6.7h-1zM407 121.3h1v6.7h-1zM410 108h1v6.7h-1zM411 121.3h1v6.7h-1zM413 121.3h1v6.7h-1zM414 108h1v6.7h-1zM414 121.3h1v6.7h-1zM415 108h1v6.7h-1zM417 114.6h1v6.7h-1zM419 114.6h1v6.7h-1zM423 121.3h1v6.7h-1zM426 108h1v6.7h-1zM426 114.6h1v6.7h-1zM430 121.3h1v6.7h-1zM436 114.6h1v6.7h-1zM437 108h1v6.7h-1zM437 114.6h1v6.7h-1zM437 121.3h1v6.7h-1zM438 108h1v6.7h-1zM439 108h1v6.7h-1zM442 114.6h1v6.7h-1zM442 121.3h1v6.7h-1zM443 114.6h1v6.7h-1zM462 134.5h1v6.7h-1zM462 141.2h1v6.7h-1zM466 127.9h1v6.7h-1zM466 134.5h1v6.7h-1zM466 141.2h1v6.7h-1zM480 134.5h1v6.7h-1zM481 127.9h1v6.7h-1zM481 134.5h1v6.7h-1zM486 127.9h1v6.7h-1zM487 134.5h1v6.7h-1zM491 127.9h1v6.7h-1zM493 127.9h1v6.7h-1zM498 127.9h1v6.7h-1zM498 141.2h1v6.7h-1zM499 141.2h1v6.7h-1zM501 141.2h1v6.7h-1zM503 127.9h1v6.7h-1zM508 127.9h1v6.7h-1zM508 134.5h1v6.7h-1zM510 134.5h1v6.7h-1zM515 141.2h1v6.7h-1zM518 141.2h1v6.7h-1zM519 127.9h1v6.7h-1zM520 141.2h1v6.7h-1zM525 141.2h1v6.7h-1zM527 141.2h1v6.7h-1zM528 127.9h1v6.7h-1zM528 141.2h1v6.7h-1zM530 134.5h1v6.7h-1zM530 141.2h1v6.7h-1zM358 161h1v6.6h-1zM447 154.4h1v6.6h-1zM459 154.4h1v6.6h-1zM462 147.8h1v6.6h-1zM463 147.8h1v6.6h-1zM463 154.4h1v6.6h-1zM463 161h1v6.6h-1zM465 147.8h1v6.6h-1zM480 154.4h1v6.6h-1zM493 147.8h1v6.6h-1zM494 161h1v6.6h-1zM495 154.4h1v6.6h-1zM496 154.4h1v6.6h-1zM498 147.8h1v6.6h-1zM498 154.4h1v6.6h-1zM498 161h1v6.6h-1zM499 161h1v6.6h-1zM505 147.8h1v6.6h-1zM517 147.8h1v6.6h-1zM518 147.8h1v6.6h-1z" fill="#a7d0e4" shape-rendering="crispEdges"/>
<path d="M236 61.5h1v6.7h-1zM237 54.9h1v6.7h-1zM241 61.5h1v6.7h-1zM242 61.5h1v6.7h-1zM247 61.5h1v6.7h-1zM252 61.5h1v6.7h-1zM258 61.5h1v6.7h-1zM259 54.9h1v6.7h-1zM259 61.5h1v6.7h-1zM260 61.5h1v6.7h-1zM261 48.2h1v6.7h-1zM261 54.9h1v6.7h-1zM262 54.9h1v6.7h-1zM263 54.9h1v6.7h-1zM263 61.5h1v6.7h-1zM266 61.5h1v6.7h-1zM267 61.5h1v6.7h-1zM270 61.5h1v6.7h-1zM271 61.5h1v6.7h-1zM275 61.5h1v6.7h-1zM276 61.5h1v6.7h-1zM282 48.2h1v6.7h-1zM284 48.2h1v6.7h-1zM284 54.9h1v6.7h-1zM287 54.9h1v6.7h-1zM288 54.9h1v6.7h-1zM289 54.9h1v6.7h-1zM289 61.5h1v6.7h-1zM290 48.2h1v6.7h-1zM290 61.5h1v6.7h-1zM294 48.2h1v6.7h-1zM295 61.5h1v6.7h-1zM299 61.5h1v6.7h-1zM304 54.9h1v6.7h-1zM311 61.5h1v6.7h-1zM313 54.9h1v6.7h-1zM317 48.2h1v6.7h-1zM323 54.9h1v6.7h-1zM324 54.9h1v6.7h-1zM328 61.5h1v6.7h-1zM329 61.5h1v6.7h-1zM331 61.5h1v6.7h-1zM332 61.5h1v6.7h-1zM334 48.2h1v6.7h-1zM337 54.9h1v6.7h-1zM338 54.9h1v6.7h-1zM339 61.5h1v6.7h-1zM340 48.2h1v6.7h-1zM344 61.5h1v6.7h-1zM345 48.2h1v6.7h-1zM347 54.9h1v6.7h-1zM347 61.5h1v6.7h-1zM348 54.9h1v6.7h-1zM349 48.2h1v6.7h-1zM349 61.5h1v6.7h-1zM350 48.2h1v6.7h-1zM350 61.5h1v6.7h-1zM356 48.2h1v6.7h-1zM356 61.5h1v6.7h-1zM501 48.2h1v6.7h-1zM503 48.2h1v6.7h-1zM505 54.9h1v6.7h-1zM529 48.2h1v6.7h-1zM530 48.2h1v6.7h-1zM530 54.9h1v6.7h-1zM531 54.9h1v6.7h-1zM255 81.5h1v6.7h-1zM257 81.5h1v6.7h-1zM271 68.2h1v6.7h-1zM271 81.5h1v6.7h-1zM272 68.2h1v6.7h-1zM272 74.9h1v6.7h-1zM272 81.5h1v6.7h-1zM273 74.9h1v6.7h-1zM323 68.2h1v6.7h-1zM323 74.9h1v6.7h-1zM325 74.9h1v6.7h-1zM241 88.2h1v6.6h-1zM241 101.4h1v6.6h-1zM246 88.2h1v6.6h-1zM247 88.2h1v6.6h-1zM248 88.2h1v6.6h-1zM262 88.2h1v6.6h-1zM262 94.8h1v6.6h-1zM273 88.2h1v6.6h-1zM273 101.4h1v6.6h-1zM274 88.2h1v6.6h-1zM274 101.4h1v6.6h-1zM275 88.2h1v6.6h-1zM275 94.8h1v6.6h-1zM282 94.8h1v6.6h-1zM282 101.4h1v6.6h-1zM284 88.2h1v6.6h-1zM284 94.8h1v6.6h-1zM284 101.4h1v6.6h-1zM288 101.4h1v6.6h-1zM290 88.2h1v6.6h-1zM291 88.2h1v6.6h-1zM292 88.2h1v6.6h-1zM292 101.4h1v6.6h-1zM293 88.2h1v6.6h-1zM296 88.2h1v6.6h-1zM311 94.8h1v6.6h-1zM387 101.4h1v6.6h-1zM388 94.8h1v6.6h-1zM389 88.2h1v6.6h-1zM389 94.8h1v6.6h-1zM390 88.2h1v6.6h-1zM390 94.8h1v6.6h-1zM391 88.2h1v6.6h-1zM391 94.8h1v6.6h-1zM392 88.2h1v6.6h-1zM393 101.4h1v6.6h-1zM394 101.4h1v6.6h-1zM395 101.4h1v6.6h-1zM396 101.4h1v6.6h-1zM398 94.8h1v6.6h-1zM399 101.4h1v6.6h-1zM400 88.2h1v6.6h-1zM401 101.4h1v6.6h-1zM402 94.8h1v6.6h-1zM402 101.4h1v6.6h-1zM404 94.8h1v6.6h-1zM404 101.4h1v6.6h-1zM405 94.8h1v6.6h-1zM409 101.4h1v6.6h-1zM415 88.2h1v6.6h-1zM415 101.4h1v6.6h-1zM416 88.2h1v6.6h-1zM416 101.4h1v6.6h-1zM417 88.2h1v6.6h-1zM422 88.2h1v6.6h-1zM423 101.4h1v6.6h-1zM430 94.8h1v6.6h-1zM431 88.2h1v6.6h-1zM431 94.8h1v6.6h-1zM432 88.2h1v6.6h-1zM434 88.2h1v6.6h-1zM435 88.2h1v6.6h-1zM436 94.8h1v6.6h-1zM437 94.8h1v6.6h-1zM442 88.2h1v6.6h-1zM443 94.8h1v6.6h-1zM443 101.4h1v6.6h-1zM269 108h1v6.7h-1zM275 108h1v6.7h-1zM306 108h1v6.7h-1zM306 121.3h1v6.7h-1zM307 108h1v6.7h-1zM308 108h1v6.7h-1zM323 108h1v6.7h-1zM333 114.6h1v6.7h-1zM334 114.6h1v6.7h-1zM365 108h1v6.7h-1zM365 114.6h1v6.7h-1zM367 108h1v6.7h-1zM371 108h1v6.7h-1zM371 121.3h1v6.7h-1zM372 121.3h1v6.7h-1zM375 114.6h1v6.7h-1zM375 121.3h1v6.7h-1zM377 108h1v6.7h-1zM377 121.3h1v6.7h-1zM380 108h1v6.7h-1zM381 121.3h1v6.7h-1zM383 108h1v6.7h-1zM387 108h1v6.7h-1zM387 121.3h1v6.7h-1zM395 108h1v6.7h-1zM395 114.6h1v6.7h-1zM395 121.3h1v6.7h-1zM397 121.3h1v6.7h-1zM398 108h1v6.7h-1zM399 108h1v6.7h-1zM399 121.3h1v6.7h-1zM400 121.3h1v6.7h-1zM404 121.3h1v6.7h-1zM405 114.6h1v6.7h-1zM406 121.3h1v6.7h-1zM412 108h1v6.7h-1zM412 114.6h1v6.7h-1zM413 108h1v6.7h-1zM413 114.6h1v6.7h-1zM414 114.6h1v6.7h-1zM415 114.6h1v6.7h-1zM416 108h1v6.7h-1zM416 114.6h1v6.7h-1zM417 108h1v6.7h-1zM421 108h1v6.7h-1zM421 121.3h1v6.7h-1zM423 114.6h1v6.7h-1zM425 114.6h1v6.7h-1zM427 114.6h1v6.7h-1zM428 108h1v6.7h-1zM431 108h1v6.7h-1zM431 114.6h1v6.7h-1zM438 114.6h1v6.7h-1zM439 121.3h1v6.7h-1zM441 108h1v6.7h-1zM444 114.6h1v6.7h-1zM462 127.9h1v6.7h-1zM464 134.5h1v6.7h-1zM464 141.2h1v6.7h-1zM467 127.9h1v6.7h-1zM468 134.5h1v6.7h-1zM468 141.2h1v6.7h-1zM471 127.9h1v6.7h-1zM472 127.9h1v6.7h-1zM473 127.9h1v6.7h-1zM475 127.9h1v6.7h-1zM475 134.5h1v6.7h-1zM476 134.5h1v6.7h-1zM477 134.5h1v6.7h-1zM480 127.9h1v6.7h-1zM481 141.2h1v6.7h-1zM482 141.2h1v6.7h-1zM484 127.9h1v6.7h-1zM484 141.2h1v6.7h-1zM485 127.9h1v6.7h-1zM486 134.5h1v6.7h-1zM488 141.2h1v6.7h-1zM489 127.9h1v6.7h-1zM491 141.2h1v6.7h-1zM493 134.5h1v6.7h-1zM497 127.9h1v6.7h-1zM497 134.5h1v6.7h-1zM497 141.2h1v6.7h-1zM498 134.5h1v6.7h-1zM499 127.9h1v6.7h-1zM499 134.5h1v6.7h-1zM500 141.2h1v6.7h-1zM501 127.9h1v6.7h-1zM502 127.9h1v6.7h-1zM502 141.2h1v6.7h-1zM505 134.5h1v6.7h-1zM508 141.2h1v6.7h-1zM509 127.9h1v6.7h-1zM512 134.5h1v6.7h-1zM514 127.9h1v6.7h-1zM519 141.2h1v6.7h-1zM526 141.2h1v6.7h-1zM527 127.9h1v6.7h-1zM358 154.4h1v6.6h-1zM445 147.8h1v6.6h-1zM445 154.4h1v6.6h-1zM446 147.8h1v6.6h-1zM447 147.8h1v6.6h-1zM448 154.4h1v6.6h-1zM452 154.4h1v6.6h-1zM453 154.4h1v6.6h-1zM456 147.8h1v6.6h-1zM456 154.4h1v6.6h-1zM458 147.8h1v6.6h-1zM459 147.8h1v6.6h-1zM459 161h1v6.6h-1zM460 161h1v6.6h-1zM461 147.8h1v6.6h-1zM461 154.4h1v6.6h-1zM462 154.4h1v6.6h-1zM464 147.8h1v6.6h-1zM464 161h1v6.6h-1zM465 161h1v6.6h-1zM466 147.8h1v6.6h-1zM468 147.8h1v6.6h-1zM468 154.4h1v6.6h-1zM472 154.4h1v6.6h-1zM474 154.4h1v6.6h-1zM492 147.8h1v6.6h-1zM493 161h1v6.6h-1zM494 154.4h1v6.6h-1zM499 147.8h1v6.6h-1zM503 147.8h1v6.6h-1zM504 154.4h1v6.6h-1zM508 147.8h1v6.6h-1zM509 147.8h1v6.6h-1zM517 154.4h1v6.6h-1zM526 161h1v6.6h-1z" fill="#b4d6e8" shape-rendering="crispEdges"/>
<path d="M237 48.2h1v6.7h-1zM238 61.5h1v6.7h-1zM240 61.5h1v6.7h-1zM242 48.2h1v6.7h-1zM243 61.5h1v6.7h-1zM246 61.5h1v6.7h-1zM248 61.5h1v6.7h-1zM257 54.9h1v6.7h-1zM257 61.5h1v6.7h-1zM258 48.2h1v6.7h-1zM259 48.2h1v6.7h-1zM261 61.5h1v6.7h-1zM263 48.2h1v6.7h-1zM264 48.2h1v6.7h-1zM264 61.5h1v6.7h-1zM265 61.5h1v6.7h-1zM268 61.5h1v6.7h-1zM269 61.5h1v6.7h-1zM272 61.5h1v6.7h-1zM274 61.5h1v6.7h-1zM275 54.9h1v6.7h-1zM276 48.2h1v6.7h-1zM276 54.9h1v6.7h-1zM281 48.2h1v6.7h-1zM282 54.9h1v6.7h-1zM282 61.5h1v6.7h-1zM283 48.2h1v6.7h-1zM283 54.9h1v6.7h-1zM285 48.2h1v6.7h-1zM285 54.9h1v6.7h-1zM285 61.5h1v6.7h-1zM286 48.2h1v6.7h-1zM287 61.5h1v6.7h-1zM288 61.5h1v6.7h-1zM293 54.9h1v6.7h-1zM295 48.2h1v6.7h-1zM296 61.5h1v6.7h-1zM297 48.2h1v6.7h-1zM298 48.2h1v6.7h-1zM298 61.5h1v6.7h-1zM299 48.2h1v6.7h-1zM305 54.9h1v6.7h-1zM305 61.5h1v6.7h-1zM306 54.9h1v6.7h-1zM310 48.2h1v6.7h-1zM310 61.5h1v6.7h-1zM312 54.9h1v6.7h-1zM318 48.2h1v6.7h-1zM319 61.5h1v6.7h-1zM321 61.5h1v6.7h-1zM322 54.9h1v6.7h-1zM323 48.2h1v6.7h-1zM324 48.2h1v6.7h-1zM325 48.2h1v6.7h-1zM325 54.9h1v6.7h-1zM330 48.2h1v6.7h-1zM332 48.2h1v6.7h-1zM334 61.5h1v6.7h-1zM337 61.5h1v6.7h-1zM339 48.2h1v6.7h-1zM344 54.9h1v6.7h-1zM345 61.5h1v6.7h-1zM352 48.2h1v6.7h-1zM352 54.9h1v6.7h-1zM353 48.2h1v6.7h-1zM353 54.9h1v6.7h-1zM353 61.5h1v6.7h-1zM354 54.9h1v6.7h-1zM354 61.5h1v6.7h-1zM355 54.9h1v6.7h-1zM355 61.5h1v6.7h-1zM500 48.2h1v6.7h-1zM502 48.2h1v6.7h-1zM505 48.2h1v6.7h-1zM522 54.9h1v6.7h-1zM528 54.9h1v6.7h-1zM255 74.9h1v6.7h-1zM256 68.2h1v6.7h-1zM256 74.9h1v6.7h-1zM258 81.5h1v6.7h-1zM260 74.9h1v6.7h-1zM260 81.5h1v6.7h-1zM261 74.9h1v6.7h-1zM263 74.9h1v6.7h-1zM264 74.9h1v6.7h-1zM265 74.9h1v6.7h-1zM270 68.2h1v6.7h-1zM270 74.9h1v6.7h-1zM273 68.2h1v6.7h-1zM273 81.5h1v6.7h-1zM286 68.2h1v6.7h-1zM324 74.9h1v6.7h-1zM324 81.5h1v6.7h-1zM325 81.5h1v6.7h-1zM334 81.5h1v6.7h-1zM335 68.2h1v6.7h-1zM336 68.2h1v6.7h-1zM336 81.5h1v6.7h-1zM337 68.2h1v6.7h-1zM341 68.2h1v6.7h-1zM342 68.2h1v6.7h-1zM343 68.2h1v6.7h-1zM344 68.2h1v6.7h-1zM345 68.2h1v6.7h-1zM353 68.2h1v6.7h-1zM240 94.8h1v6.6h-1zM246 94.8h1v6.6h-1zM246 101.4h1v6.6h-1zM249 94.8h1v6.6h-1zM249 101.4h1v6.6h-1zM251 94.8h1v6.6h-1zM254 88.2h1v6.6h-1zM255 94.8h1v6.6h-1zM255 101.4h1v6.6h-1zM272 88.2h1v6.6h-1zM272 101.4h1v6.6h-1zM273 94.8h1v6.6h-1zM274 94.8h1v6.6h-1zM276 94.8h1v6.6h-1zM280 88.2h1v6.6h-1zM280 94.8h1v6.6h-1zM280 101.4h1v6.6h-1zM281 88.2h1v6.6h-1zM281 94.8h1v6.6h-1zM281 101.4h1v6.6h-1zM286 101.4h1v6.6h-1zM287 101.4h1v6.6h-1zM288 88.2h1v6.6h-1zM288 94.8h1v6.6h-1zM290 94.8h1v6.6h-1zM291 94.8h1v6.6h-1zM293 101.4h1v6.6h-1zM297 88.2h1v6.6h-1zM305 94.8h1v6.6h-1zM309 94.8h1v6.6h-1zM311 88.2h1v6.6h-1zM311 101.4h1v6.6h-1zM312 94.8h1v6.6h-1zM331 94.8h1v6.6h-1zM331 101.4h1v6.6h-1zM332 94.8h1v6.6h-1zM332 101.4h1v6.6h-1zM333 94.8h1v6.6h-1zM334 94.8h1v6.6h-1zM335 94.8h1v6.6h-1zM387 94.8h1v6.6h-1zM388 88.2h1v6.6h-1zM392 94.8h1v6.6h-1zM393 94.8h1v6.6h-1zM396 88.2h1v6.6h-1zM396 94.8h1v6.6h-1zM397 94.8h1v6.6h-1zM397 101.4h1v6.6h-1zM398 101.4h1v6.6h-1zM399 88.2h1v6.6h-1zM400 94.8h1v6.6h-1zM401 88.2h1v6.6h-1zM401 94.8h1v6.6h-1zM402 88.2h1v6.6h-1zM403 94.8h1v6.6h-1zM416 94.8h1v6.6h-1zM421 94.8h1v6.6h-1zM422 101.4h1v6.6h-1zM423 88.2h1v6.6h-1zM424 94.8h1v6.6h-1zM429 94.8h1v6.6h-1zM429 101.4h1v6.6h-1zM434 101.4h1v6.6h-1zM435 101.4h1v6.6h-1zM436 101.4h1v6.6h-1zM437 101.4h1v6.6h-1zM439 88.2h1v6.6h-1zM439 101.4h1v6.6h-1zM440 101.4h1v6.6h-1zM257 114.6h1v6.7h-1zM268 108h1v6.7h-1zM268 121.3h1v6.7h-1zM269 121.3h1v6.7h-1zM270 121.3h1v6.7h-1zM294 114.6h1v6.7h-1zM305 108h1v6.7h-1zM307 121.3h1v6.7h-1zM310 121.3h1v6.7h-1zM311 121.3h1v6.7h-1zM312 121.3h1v6.7h-1zM323 121.3h1v6.7h-1zM324 108h1v6.7h-1zM332 108h1v6.7h-1zM333 121.3h1v6.7h-1zM334 108h1v6.7h-1zM366 108h1v6.7h-1zM367 114.6h1v6.7h-1zM371 114.6h1v6.7h-1zM372 114.6h1v6.7h-1zM376 108h1v6.7h-1zM377 114.6h1v6.7h-1zM381 114.6h1v6.7h-1zM382 108h1v6.7h-1zM386 108h1v6.7h-1zM386 114.6h1v6.7h-1zM386 121.3h1v6.7h-1zM387 114.6h1v6.7h-1zM397 114.6h1v6.7h-1zM398 121.3h1v6.7h-1zM399 114.6h1v6.7h-1zM400 114.6h1v6.7h-1zM404 108h1v6.7h-1zM406 108h1v6.7h-1zM411 108h1v6.7h-1zM411 114.6h1v6.7h-1zM421 114.6h1v6.7h-1zM422 114.6h1v6.7h-1zM424 114.6h1v6.7h-1zM428 114.6h1v6.7h-1zM429 108h1v6.7h-1zM429 114.6h1v6.7h-1zM438 121.3h1v6.7h-1zM440 108h1v6.7h-1zM441 121.3h1v6.7h-1zM463 134.5h1v6.7h-1zM463 141.2h1v6.7h-1zM464 127.9h1v6.7h-1zM465 134.5h1v6.7h-1zM467 134.5h1v6.7h-1zM467 141.2h1v6.7h-1zM468 127.9h1v6.7h-1zM470 127.9h1v6.7h-1zM472 141.2h1v6.7h-1zM473 134.5h1v6.7h-1zM473 141.2h1v6.7h-1zM474 134.5h1v6.7h-1zM476 127.9h1v6.7h-1zM479 134.5h1v6.7h-1zM480 141.2h1v6.7h-1zM482 127.9h1v6.7h-1zM482 134.5h1v6.7h-1zM485 134.5h1v6.7h-1zM488 127.9h1v6.7h-1zM489 141.2h1v6.7h-1zM490 127.9h1v6.7h-1zM491 134.5h1v6.7h-1zM493 141.2h1v6.7h-1zM494 134.5h1v6.7h-1zM496 134.5h1v6.7h-1zM500 127.9h1v6.7h-1zM500 134.5h1v6.7h-1zM503 134.5h1v6.7h-1zM505 127.9h1v6.7h-1zM505 141.2h1v6.7h-1zM506 134.5h1v6.7h-1zM509 141.2h1v6.7h-1zM510 127.9h1v6.7h-1zM513 127.9h1v6.7h-1zM513 141.2h1v6.7h-1zM357 147.8h1v6.6h-1zM357 154.4h1v6.6h-1zM358 147.8h1v6.6h-1zM448 147.8h1v6.6h-1zM452 147.8h1v6.6h-1zM453 147.8h1v6.6h-1zM453 161h1v6.6h-1zM454 147.8h1v6.6h-1zM454 154.4h1v6.6h-1zM456 161h1v6.6h-1zM457 147.8h1v6.6h-1zM457 154.4h1v6.6h-1zM458 161h1v6.6h-1zM461 161h1v6.6h-1zM462 161h1v6.6h-1zM464 154.4h1v6.6h-1zM465 154.4h1v6.6h-1zM466 154.4h1v6.6h-1zM466 161h1v6.6h-1zM469 147.8h1v6.6h-1zM469 154.4h1v6.6h-1zM472 147.8h1v6.6h-1zM473 147.8h1v6.6h-1zM473 154.4h1v6.6h-1zM474 147.8h1v6.6h-1zM476 154.4h1v6.6h-1zM480 161h1v6.6h-1zM481 154.4h1v6.6h-1zM481 161h1v6.6h-1zM485 154.4h1v6.6h-1zM493 154.4h1v6.6h-1zM500 154.4h1v6.6h-1zM503 154.4h1v6.6h-1zM504 161h1v6.6h-1zM505 161h1v6.6h-1zM509 161h1v6.6h-1zM516 147.8h1v6.6h-1zM518 161h1v6.6h-1zM524 161h1v6.6h-1zM525 161h1v6.6h-1zM526 147.8h1v6.6h-1zM528 154.4h1v6.6h-1z" fill="#c1ddec" shape-rendering="crispEdges"/>
<path d="M238 48.2h1v6.7h-1zM238 54.9h1v6.7h-1zM242 54.9h1v6.7h-1zM244 61.5h1v6.7h-1zM245 61.5h1v6.7h-1zM247 48.2h1v6.7h-1zM247 54.9h1v6.7h-1zM249 61.5h1v6.7h-1zM250 61.5h1v6.7h-1zM251 61.5h1v6.7h-1zM252 48.2h1v6.7h-1zM252 54.9h1v6.7h-1zM253 54.9h1v6.7h-1zM253 61.5h1v6.7h-1zM256 54.9h1v6.7h-1zM256 61.5h1v6.7h-1zM257 48.2h1v6.7h-1zM264 54.9h1v6.7h-1zM265 48.2h1v6.7h-1zM266 48.2h1v6.7h-1zM266 54.9h1v6.7h-1zM273 61.5h1v6.7h-1zM275 48.2h1v6.7h-1zM277 48.2h1v6.7h-1zM277 61.5h1v6.7h-1zM278 48.2h1v6.7h-1zM280 48.2h1v6.7h-1zM280 61.5h1v6.7h-1zM281 61.5h1v6.7h-1zM283 61.5h1v6.7h-1zM284 61.5h1v6.7h-1zM286 54.9h1v6.7h-1zM286 61.5h1v6.7h-1zM290 54.9h1v6.7h-1zM294 54.9h1v6.7h-1zM296 48.2h1v6.7h-1zM297 61.5h1v6.7h-1zM298 54.9h1v6.7h-1zM299 54.9h1v6.7h-1zM303 54.9h1v6.7h-1zM304 61.5h1v6.7h-1zM305 48.2h1v6.7h-1zM306 61.5h1v6.7h-1zM311 54.9h1v6.7h-1zM314 54.9h1v6.7h-1zM315 54.9h1v6.7h-1zM316 54.9h1v6.7h-1zM320 61.5h1v6.7h-1zM326 48.2h1v6.7h-1zM329 48.2h1v6.7h-1zM331 48.2h1v6.7h-1zM333 48.2h1v6.7h-1zM333 61.5h1v6.7h-1zM334 54.9h1v6.7h-1zM337 48.2h1v6.7h-1zM338 61.5h1v6.7h-1zM345 54.9h1v6.7h-1zM349 54.9h1v6.7h-1zM350 54.9h1v6.7h-1zM352 61.5h1v6.7h-1zM354 48.2h1v6.7h-1zM355 48.2h1v6.7h-1zM500 54.9h1v6.7h-1zM501 54.9h1v6.7h-1zM502 54.9h1v6.7h-1zM504 48.2h1v6.7h-1zM506 48.2h1v6.7h-1zM506 54.9h1v6.7h-1zM510 54.9h1v6.7h-1zM511 48.2h1v6.7h-1zM512 48.2h1v6.7h-1zM512 54.9h1v6.7h-1zM512 61.5h1v6.7h-1zM513 48.2h1v6.7h-1zM513 54.9h1v6.7h-1zM513 61.5h1v6.7h-1zM514 54.9h1v6.7h-1zM514 61.5h1v6.7h-1zM520 61.5h1v6.7h-1zM522 61.5h1v6.7h-1zM524 54.9h1v6.7h-1zM524 61.5h1v6.7h-1zM528 48.2h1v6.7h-1zM528 61.5h1v6.7h-1zM531 48.2h1v6.7h-1zM531 61.5h1v6.7h-1zM236 81.5h1v6.7h-1zM250 68.2h1v6.7h-1zM250 81.5h1v6.7h-1zM251 68.2h1v6.7h-1zM251 81.5h1v6.7h-1zM252 81.5h1v6.7h-1zM254 81.5h1v6.7h-1zM261 81.5h1v6.7h-1zM262 74.9h1v6.7h-1zM265 68.2h1v6.7h-1zM270 81.5h1v6.7h-1zM274 74.9h1v6.7h-1zM274 81.5h1v6.7h-1zM284 68.2h1v6.7h-1zM285 68.2h1v6.7h-1zM286 74.9h1v6.7h-1zM286 81.5h1v6.7h-1zM287 68.2h1v6.7h-1zM287 81.5h1v6.7h-1zM290 81.5h1v6.7h-1zM294 81.5h1v6.7h-1zM295 81.5h1v6.7h-1zM296 81.5h1v6.7h-1zM310 81.5h1v6.7h-1zM311 81.5h1v6.7h-1zM312 68.2h1v6.7h-1zM312 74.9h1v6.7h-1zM312 81.5h1v6.7h-1zM314 81.5h1v6.7h-1zM315 68.2h1v6.7h-1zM323 81.5h1v6.7h-1zM331 81.5h1v6.7h-1zM332 81.5h1v6.7h-1zM333 81.5h1v6.7h-1zM334 68.2h1v6.7h-1zM334 74.9h1v6.7h-1zM337 74.9h1v6.7h-1zM339 68.2h1v6.7h-1zM340 68.2h1v6.7h-1zM344 74.9h1v6.7h-1zM345 74.9h1v6.7h-1zM346 68.2h1v6.7h-1zM349 68.2h1v6.7h-1zM350 68.2h1v6.7h-1zM353 74.9h1v6.7h-1zM408 68.2h1v6.7h-1zM419 68.2h1v6.7h-1zM428 68.2h1v6.7h-1zM430 68.2h1v6.7h-1zM431 68.2h1v6.7h-1zM432 68.2h1v6.7h-1zM442 74.9h1v6.7h-1zM442 81.5h1v6.7h-1zM240 101.4h1v6.6h-1zM247 94.8h1v6.6h-1zM247 101.4h1v6.6h-1zM248 94.8h1v6.6h-1zM248 101.4h1v6.6h-1zM250 101.4h1v6.6h-1zM251 101.4h1v6.6h-1zM252 101.4h1v6.6h-1zM256 88.2h1v6.6h-1zM256 94.8h1v6.6h-1zM256 101.4h1v6.6h-1zM258 94.8h1v6.6h-1zM258 101.4h1v6.6h-1zM259 101.4h1v6.6h-1zM260 101.4h1v6.6h-1zM261 101.4h1v6.6h-1zM272 94.8h1v6.6h-1zM285 101.4h1v6.6h-1zM287 88.2h1v6.6h-1zM287 94.8h1v6.6h-1zM289 88.2h1v6.6h-1zM289 94.8h1v6.6h-1zM296 94.8h1v6.6h-1zM296 101.4h1v6.6h-1zM297 94.8h1v6.6h-1zM297 101.4h1v6.6h-1zM310 94.8h1v6.6h-1zM313 94.8h1v6.6h-1zM315 88.2h1v6.6h-1zM315 94.8h1v6.6h-1zM316 88.2h1v6.6h-1zM317 88.2h1v6.6h-1zM317 94.8h1v6.6h-1zM320 88.2h1v6.6h-1zM321 88.2h1v6.6h-1zM322 88.2h1v6.6h-1zM329 94.8h1v6.6h-1zM330 94.8h1v6.6h-1zM330 101.4h1v6.6h-1zM334 101.4h1v6.6h-1zM386 94.8h1v6.6h-1zM386 101.4h1v6.6h-1zM387 88.2h1v6.6h-1zM393 88.2h1v6.6h-1zM394 88.2h1v6.6h-1zM394 94.8h1v6.6h-1zM395 88.2h1v6.6h-1zM397 88.2h1v6.6h-1zM398 88.2h1v6.6h-1zM403 88.2h1v6.6h-1zM403 101.4h1v6.6h-1zM422 94.8h1v6.6h-1zM423 94.8h1v6.6h-1zM430 101.4h1v6.6h-1zM433 101.4h1v6.6h-1zM436 88.2h1v6.6h-1zM437 88.2h1v6.6h-1zM439 94.8h1v6.6h-1zM440 88.2h1v6.6h-1zM441 88.2h1v6.6h-1zM442 101.4h1v6.6h-1zM480 88.2h1v6.6h-1zM485 94.8h1v6.6h-1zM491 101.4h1v6.6h-1zM492 101.4h1v6.6h-1zM494 101.4h1v6.6h-1zM238 114.6h1v6.7h-1zM239 114.6h1v6.7h-1zM252 108h1v6.7h-1zM256 108h1v6.7h-1zM256 114.6h1v6.7h-1zM256 121.3h1v6.7h-1zM259 121.3h1v6.7h-1zM270 108h1v6.7h-1zM276 108h1v6.7h-1zM289 114.6h1v6.7h-1zM291 114.6h1v6.7h-1zM292 114.6h1v6.7h-1zM293 114.6h1v6.7h-1zM294 108h1v6.7h-1zM294 121.3h1v6.7h-1zM295 114.6h1v6.7h-1zM295 121.3h1v6.7h-1zM305 121.3h1v6.7h-1zM306 114.6h1v6.7h-1zM307 114.6h1v6.7h-1zM308 114.6h1v6.7h-1zM308 121.3h1v6.7h-1zM309 108h1v6.7h-1zM309 121.3h1v6.7h-1zM310 108h1v6.7h-1zM312 108h1v6.7h-1zM312 114.6h1v6.7h-1zM313 121.3h1v6.7h-1zM316 121.3h1v6.7h-1zM318 108h1v6.7h-1zM322 108h1v6.7h-1zM322 121.3h1v6.7h-1zM324 121.3h1v6.7h-1zM325 108h1v6.7h-1zM325 121.3h1v6.7h-1zM329 108h1v6.7h-1zM331 108h1v6.7h-1zM332 114.6h1v6.7h-1zM334 121.3h1v6.7h-1zM372 108h1v6.7h-1zM376 114.6h1v6.7h-1zM376 121.3h1v6.7h-1zM381 108h1v6.7h-1zM398 114.6h1v6.7h-1zM400 108h1v6.7h-1zM405 121.3h1v6.7h-1zM430 108h1v6.7h-1zM439 114.6h1v6.7h-1zM440 121.3h1v6.7h-1zM441 114.6h1v6.7h-1zM246 134.5h1v6.7h-1zM247 141.2h1v6.7h-1zM460 141.2h1v6.7h-1zM461 134.5h1v6.7h-1zM461 141.2h1v6.7h-1zM463 127.9h1v6.7h-1zM465 127.9h1v6.7h-1zM469 127.9h1v6.7h-1zM469 134.5h1v6.7h-1zM470 134.5h1v6.7h-1zM470 141.2h1v6.7h-1zM471 134.5h1v6.7h-1zM471 141.2h1v6.7h-1zM472 134.5h1v6.7h-1zM474 127.9h1v6.7h-1zM474 141.2h1v6.7h-1zM477 127.9h1v6.7h-1zM478 134.5h1v6.7h-1zM479 127.9h1v6.7h-1zM483 127.9h1v6.7h-1zM483 141.2h1v6.7h-1zM484 134.5h1v6.7h-1zM488 134.5h1v6.7h-1zM489 134.5h1v6.7h-1zM490 141.2h1v6.7h-1zM494 127.9h1v6.7h-1zM495 134.5h1v6.7h-1zM496 127.9h1v6.7h-1zM496 141.2h1v6.7h-1zM501 134.5h1v6.7h-1zM506 127.9h1v6.7h-1zM506 141.2h1v6.7h-1zM507 127.9h1v6.7h-1zM507 134.5h1v6.7h-1zM507 141.2h1v6.7h-1zM512 127.9h1v6.7h-1zM514 141.2h1v6.7h-1zM380 161h1v6.6h-1zM381 161h1v6.6h-1zM382 161h1v6.6h-1zM390 147.8h1v6.6h-1zM390 161h1v6.6h-1zM391 154.4h1v6.6h-1zM391 161h1v6.6h-1zM395 161h1v6.6h-1zM396 161h1v6.6h-1zM397 161h1v6.6h-1zM398 161h1v6.6h-1zM450 147.8h1v6.6h-1zM450 154.4h1v6.6h-1zM450 161h1v6.6h-1zM451 147.8h1v6.6h-1zM451 154.4h1v6.6h-1zM451 161h1v6.6h-1zM452 161h1v6.6h-1zM467 147.8h1v6.6h-1zM467 154.4h1v6.6h-1zM468 161h1v6.6h-1zM471 154.4h1v6.6h-1zM475 154.4h1v6.6h-1zM476 147.8h1v6.6h-1zM482 154.4h1v6.6h-1zM485 161h1v6.6h-1zM486 154.4h1v6.6h-1zM487 154.4h1v6.6h-1zM488 154.4h1v6.6h-1zM489 154.4h1v6.6h-1zM490 147.8h1v6.6h-1zM490 154.4h1v6.6h-1zM491 147.8h1v6.6h-1zM491 154.4h1v6.6h-1zM492 154.4h1v6.6h-1zM492 161h1v6.6h-1zM500 147.8h1v6.6h-1zM501 154.4h1v6.6h-1zM505 154.4h1v6.6h-1zM506 147.8h1v6.6h-1zM508 161h1v6.6h-1zM517 161h1v6.6h-1zM518 154.4h1v6.6h-1zM519 147.8h1v6.6h-1zM524 147.8h1v6.6h-1zM525 154.4h1v6.6h-1zM526 154.4h1v6.6h-1zM527 154.4h1v6.6h-1zM527 161h1v6.6h-1zM528 161h1v6.6h-1z" fill="#cee4ef" shape-rendering="crispEdges"/>
<path d="M239 48.2h1v6.7h-1zM254 48.2h1v6.7h-1zM254 54.9h1v6.7h-1zM269 54.9h1v6.7h-1zM307 48.2h1v6.7h-1zM308 48.2h1v6.7h-1zM327 54.9h1v6.7h-1zM328 54.9h1v6.7h-1zM329 54.9h1v6.7h-1zM330 54.9h1v6.7h-1zM331 54.9h1v6.7h-1zM504 61.5h1v6.7h-1zM506 61.5h1v6.7h-1zM509 61.5h1v6.7h-1zM515 48.2h1v6.7h-1zM516 54.9h1v6.7h-1zM516 61.5h1v6.7h-1zM518 48.2h1v6.7h-1zM521 48.2h1v6.7h-1zM525 48.2h1v6.7h-1zM239 81.5h1v6.7h-1zM259 68.2h1v6.7h-1zM267 74.9h1v6.7h-1zM268 74.9h1v6.7h-1zM268 81.5h1v6.7h-1zM276 68.2h1v6.7h-1zM276 74.9h1v6.7h-1zM276 81.5h1v6.7h-1zM277 68.2h1v6.7h-1zM277 81.5h1v6.7h-1zM278 74.9h1v6.7h-1zM279 68.2h1v6.7h-1zM280 68.2h1v6.7h-1zM280 74.9h1v6.7h-1zM280 81.5h1v6.7h-1zM288 74.9h1v6.7h-1zM289 74.9h1v6.7h-1zM292 68.2h1v6.7h-1zM305 68.2h1v6.7h-1zM306 74.9h1v6.7h-1zM328 68.2h1v6.7h-1zM328 74.9h1v6.7h-1zM329 68.2h1v6.7h-1zM330 74.9h1v6.7h-1zM331 68.2h1v6.7h-1zM332 68.2h1v6.7h-1zM338 81.5h1v6.7h-1zM342 81.5h1v6.7h-1zM387 68.2h1v6.7h-1zM409 68.2h1v6.7h-1zM409 81.5h1v6.7h-1zM410 68.2h1v6.7h-1zM410 81.5h1v6.7h-1zM411 68.2h1v6.7h-1zM411 74.9h1v6.7h-1zM411 81.5h1v6.7h-1zM412 68.2h1v6.7h-1zM412 81.5h1v6.7h-1zM413 81.5h1v6.7h-1zM415 74.9h1v6.7h-1zM417 68.2h1v6.7h-1zM417 74.9h1v6.7h-1zM420 81.5h1v6.7h-1zM425 68.2h1v6.7h-1zM427 81.5h1v6.7h-1zM433 81.5h1v6.7h-1zM434 81.5h1v6.7h-1zM435 68.2h1v6.7h-1zM436 68.2h1v6.7h-1zM438 74.9h1v6.7h-1zM439 68.2h1v6.7h-1zM439 74.9h1v6.7h-1zM439 81.5h1v6.7h-1zM440 68.2h1v6.7h-1zM440 81.5h1v6.7h-1zM466 74.9h1v6.7h-1zM467 68.2h1v6.7h-1zM467 74.9h1v6.7h-1zM486 74.9h1v6.7h-1zM500 74.9h1v6.7h-1zM502 68.2h1v6.7h-1zM503 68.2h1v6.7h-1zM503 74.9h1v6.7h-1zM504 68.2h1v6.7h-1zM505 68.2h1v6.7h-1zM505 74.9h1v6.7h-1zM506 81.5h1v6.7h-1zM238 88.2h1v6.6h-1zM295 94.8h1v6.6h-1zM299 88.2h1v6.6h-1zM299 101.4h1v6.6h-1zM300 101.4h1v6.6h-1zM301 101.4h1v6.6h-1zM302 101.4h1v6.6h-1zM303 88.2h1v6.6h-1zM304 101.4h1v6.6h-1zM306 88.2h1v6.6h-1zM306 101.4h1v6.6h-1zM314 88.2h1v6.6h-1zM314 94.8h1v6.6h-1zM314 101.4h1v6.6h-1zM319 94.8h1v6.6h-1zM323 88.2h1v6.6h-1zM323 94.8h1v6.6h-1zM324 88.2h1v6.6h-1zM324 94.8h1v6.6h-1zM326 94.8h1v6.6h-1zM327 94.8h1v6.6h-1zM327 101.4h1v6.6h-1zM328 101.4h1v6.6h-1zM368 88.2h1v6.6h-1zM370 94.8h1v6.6h-1zM370 101.4h1v6.6h-1zM371 94.8h1v6.6h-1zM371 101.4h1v6.6h-1zM372 88.2h1v6.6h-1zM373 101.4h1v6.6h-1zM376 88.2h1v6.6h-1zM376 94.8h1v6.6h-1zM377 101.4h1v6.6h-1zM378 101.4h1v6.6h-1zM379 88.2h1v6.6h-1zM379 101.4h1v6.6h-1zM384 94.8h1v6.6h-1zM385 94.8h1v6.6h-1zM472 94.8h1v6.6h-1zM472 101.4h1v6.6h-1zM473 88.2h1v6.6h-1zM473 101.4h1v6.6h-1zM474 101.4h1v6.6h-1zM475 94.8h1v6.6h-1zM476 94.8h1v6.6h-1zM477 94.8h1v6.6h-1zM479 88.2h1v6.6h-1zM479 94.8h1v6.6h-1zM480 101.4h1v6.6h-1zM482 88.2h1v6.6h-1zM482 94.8h1v6.6h-1zM488 88.2h1v6.6h-1zM489 94.8h1v6.6h-1zM489 101.4h1v6.6h-1zM493 88.2h1v6.6h-1zM495 94.8h1v6.6h-1zM498 94.8h1v6.6h-1zM499 101.4h1v6.6h-1zM242 121.3h1v6.7h-1zM244 108h1v6.7h-1zM245 108h1v6.7h-1zM249 114.6h1v6.7h-1zM250 114.6h1v6.7h-1zM251 114.6h1v6.7h-1zM254 121.3h1v6.7h-1zM255 114.6h1v6.7h-1zM255 121.3h1v6.7h-1zM273 121.3h1v6.7h-1zM276 114.6h1v6.7h-1zM278 114.6h1v6.7h-1zM279 114.6h1v6.7h-1zM283 108h1v6.7h-1zM283 114.6h1v6.7h-1zM283 121.3h1v6.7h-1zM284 114.6h1v6.7h-1zM285 108h1v6.7h-1zM285 121.3h1v6.7h-1zM286 121.3h1v6.7h-1zM297 108h1v6.7h-1zM298 108h1v6.7h-1zM300 114.6h1v6.7h-1zM303 121.3h1v6.7h-1zM304 114.6h1v6.7h-1zM319 114.6h1v6.7h-1zM320 114.6h1v6.7h-1zM321 114.6h1v6.7h-1zM327 114.6h1v6.7h-1zM327 121.3h1v6.7h-1zM328 114.6h1v6.7h-1zM328 121.3h1v6.7h-1zM330 114.6h1v6.7h-1zM330 121.3h1v6.7h-1zM335 114.6h1v6.7h-1zM445 121.3h1v6.7h-1zM446 108h1v6.7h-1zM446 114.6h1v6.7h-1zM447 108h1v6.7h-1zM447 121.3h1v6.7h-1zM451 114.6h1v6.7h-1zM452 114.6h1v6.7h-1zM457 121.3h1v6.7h-1zM459 121.3h1v6.7h-1zM479 108h1v6.7h-1zM480 108h1v6.7h-1zM481 108h1v6.7h-1zM487 114.6h1v6.7h-1zM488 114.6h1v6.7h-1zM489 114.6h1v6.7h-1zM490 114.6h1v6.7h-1zM490 121.3h1v6.7h-1zM497 108h1v6.7h-1zM497 114.6h1v6.7h-1zM498 108h1v6.7h-1zM531 114.6h1v6.7h-1zM237 134.5h1v6.7h-1zM240 127.9h1v6.7h-1zM240 134.5h1v6.7h-1zM242 127.9h1v6.7h-1zM243 134.5h1v6.7h-1zM244 127.9h1v6.7h-1zM244 141.2h1v6.7h-1zM254 127.9h1v6.7h-1zM259 127.9h1v6.7h-1zM260 127.9h1v6.7h-1zM338 134.5h1v6.7h-1zM338 141.2h1v6.7h-1zM339 134.5h1v6.7h-1zM341 134.5h1v6.7h-1zM341 141.2h1v6.7h-1zM427 141.2h1v6.7h-1zM428 134.5h1v6.7h-1zM428 141.2h1v6.7h-1zM429 127.9h1v6.7h-1zM430 127.9h1v6.7h-1zM431 127.9h1v6.7h-1zM433 127.9h1v6.7h-1zM433 134.5h1v6.7h-1zM435 127.9h1v6.7h-1zM435 134.5h1v6.7h-1zM436 127.9h1v6.7h-1zM442 127.9h1v6.7h-1zM444 141.2h1v6.7h-1zM446 127.9h1v6.7h-1zM446 134.5h1v6.7h-1zM446 141.2h1v6.7h-1zM447 141.2h1v6.7h-1zM458 127.9h1v6.7h-1zM458 134.5h1v6.7h-1zM363 161h1v6.6h-1zM365 154.4h1v6.6h-1zM366 154.4h1v6.6h-1zM367 154.4h1v6.6h-1zM367 161h1v6.6h-1zM370 161h1v6.6h-1zM371 147.8h1v6.6h-1zM377 147.8h1v6.6h-1zM377 154.4h1v6.6h-1zM379 147.8h1v6.6h-1zM382 147.8h1v6.6h-1zM383 147.8h1v6.6h-1zM384 147.8h1v6.6h-1zM384 154.4h1v6.6h-1zM385 161h1v6.6h-1zM387 147.8h1v6.6h-1zM387 161h1v6.6h-1zM388 154.4h1v6.6h-1zM393 147.8h1v6.6h-1zM395 154.4h1v6.6h-1zM397 154.4h1v6.6h-1zM398 154.4h1v6.6h-1zM399 154.4h1v6.6h-1zM478 147.8h1v6.6h-1zM478 161h1v6.6h-1zM484 147.8h1v6.6h-1zM502 161h1v6.6h-1zM512 147.8h1v6.6h-1zM512 154.4h1v6.6h-1zM512 161h1v6.6h-1zM513 154.4h1v6.6h-1zM514 154.4h1v6.6h-1zM515 154.4h1v6.6h-1zM521 154.4h1v6.6h-1zM529 147.8h1v6.6h-1zM530 147.8h1v6.6h-1z" fill="#eff3f6" shape-rendering="crispEdges"/>
<path d="M239 54.9h1v6.7h-1zM239 61.5h1v6.7h-1zM244 54.9h1v6.7h-1zM249 48.2h1v6.7h-1zM254 61.5h1v6.7h-1zM268 48.2h1v6.7h-1zM268 54.9h1v6.7h-1zM269 48.2h1v6.7h-1zM279 54.9h1v6.7h-1zM279 61.5h1v6.7h-1zM291 54.9h1v6.7h-1zM292 54.9h1v6.7h-1zM292 61.5h1v6.7h-1zM300 48.2h1v6.7h-1zM300 54.9h1v6.7h-1zM301 48.2h1v6.7h-1zM301 54.9h1v6.7h-1zM302 48.2h1v6.7h-1zM319 54.9h1v6.7h-1zM346 54.9h1v6.7h-1zM351 48.2h1v6.7h-1zM351 54.9h1v6.7h-1zM351 61.5h1v6.7h-1zM502 61.5h1v6.7h-1zM503 61.5h1v6.7h-1zM515 54.9h1v6.7h-1zM515 61.5h1v6.7h-1zM521 54.9h1v6.7h-1zM521 61.5h1v6.7h-1zM526 54.9h1v6.7h-1zM526 61.5h1v6.7h-1zM527 61.5h1v6.7h-1zM236 68.2h1v6.7h-1zM236 74.9h1v6.7h-1zM260 68.2h1v6.7h-1zM261 68.2h1v6.7h-1zM262 68.2h1v6.7h-1zM267 68.2h1v6.7h-1zM268 68.2h1v6.7h-1zM269 81.5h1v6.7h-1zM275 68.2h1v6.7h-1zM275 74.9h1v6.7h-1zM275 81.5h1v6.7h-1zM278 68.2h1v6.7h-1zM278 81.5h1v6.7h-1zM279 81.5h1v6.7h-1zM281 68.2h1v6.7h-1zM281 81.5h1v6.7h-1zM282 68.2h1v6.7h-1zM283 68.2h1v6.7h-1zM283 74.9h1v6.7h-1zM289 68.2h1v6.7h-1zM290 68.2h1v6.7h-1zM291 74.9h1v6.7h-1zM292 74.9h1v6.7h-1zM293 81.5h1v6.7h-1zM302 74.9h1v6.7h-1zM302 81.5h1v6.7h-1zM303 74.9h1v6.7h-1zM303 81.5h1v6.7h-1zM306 68.2h1v6.7h-1zM307 81.5h1v6.7h-1zM316 74.9h1v6.7h-1zM317 74.9h1v6.7h-1zM318 74.9h1v6.7h-1zM320 74.9h1v6.7h-1zM321 68.2h1v6.7h-1zM321 74.9h1v6.7h-1zM321 81.5h1v6.7h-1zM328 81.5h1v6.7h-1zM329 81.5h1v6.7h-1zM330 81.5h1v6.7h-1zM331 74.9h1v6.7h-1zM333 68.2h1v6.7h-1zM339 81.5h1v6.7h-1zM340 81.5h1v6.7h-1zM341 81.5h1v6.7h-1zM346 81.5h1v6.7h-1zM347 81.5h1v6.7h-1zM350 81.5h1v6.7h-1zM354 81.5h1v6.7h-1zM355 68.2h1v6.7h-1zM356 74.9h1v6.7h-1zM356 81.5h1v6.7h-1zM407 74.9h1v6.7h-1zM412 74.9h1v6.7h-1zM414 68.2h1v6.7h-1zM414 74.9h1v6.7h-1zM415 68.2h1v6.7h-1zM418 81.5h1v6.7h-1zM419 81.5h1v6.7h-1zM420 68.2h1v6.7h-1zM420 74.9h1v6.7h-1zM426 81.5h1v6.7h-1zM427 68.2h1v6.7h-1zM434 68.2h1v6.7h-1zM441 68.2h1v6.7h-1zM441 81.5h1v6.7h-1zM444 68.2h1v6.7h-1zM466 81.5h1v6.7h-1zM501 74.9h1v6.7h-1zM502 74.9h1v6.7h-1zM526 74.9h1v6.7h-1zM237 88.2h1v6.6h-1zM237 94.8h1v6.6h-1zM238 94.8h1v6.6h-1zM238 101.4h1v6.6h-1zM257 88.2h1v6.6h-1zM257 94.8h1v6.6h-1zM257 101.4h1v6.6h-1zM260 94.8h1v6.6h-1zM294 94.8h1v6.6h-1zM295 88.2h1v6.6h-1zM295 101.4h1v6.6h-1zM299 94.8h1v6.6h-1zM300 88.2h1v6.6h-1zM301 88.2h1v6.6h-1zM301 94.8h1v6.6h-1zM302 94.8h1v6.6h-1zM303 101.4h1v6.6h-1zM304 88.2h1v6.6h-1zM307 88.2h1v6.6h-1zM307 101.4h1v6.6h-1zM308 88.2h1v6.6h-1zM318 94.8h1v6.6h-1zM318 101.4h1v6.6h-1zM319 101.4h1v6.6h-1zM320 94.8h1v6.6h-1zM320 101.4h1v6.6h-1zM321 101.4h1v6.6h-1zM324 101.4h1v6.6h-1zM326 101.4h1v6.6h-1zM329 88.2h1v6.6h-1zM330 88.2h1v6.6h-1zM371 88.2h1v6.6h-1zM374 101.4h1v6.6h-1zM375 94.8h1v6.6h-1zM379 94.8h1v6.6h-1zM381 101.4h1v6.6h-1zM382 88.2h1v6.6h-1zM382 101.4h1v6.6h-1zM383 94.8h1v6.6h-1zM438 88.2h1v6.6h-1zM438 94.8h1v6.6h-1zM438 101.4h1v6.6h-1zM472 88.2h1v6.6h-1zM473 94.8h1v6.6h-1zM478 88.2h1v6.6h-1zM478 94.8h1v6.6h-1zM483 88.2h1v6.6h-1zM483 94.8h1v6.6h-1zM488 94.8h1v6.6h-1zM488 101.4h1v6.6h-1zM490 88.2h1v6.6h-1zM492 88.2h1v6.6h-1zM493 94.8h1v6.6h-1zM494 88.2h1v6.6h-1zM495 88.2h1v6.6h-1zM495 101.4h1v6.6h-1zM497 88.2h1v6.6h-1zM497 101.4h1v6.6h-1zM237 108h1v6.7h-1zM240 108h1v6.7h-1zM240 121.3h1v6.7h-1zM241 108h1v6.7h-1zM241 121.3h1v6.7h-1zM242 108h1v6.7h-1zM243 108h1v6.7h-1zM243 121.3h1v6.7h-1zM244 121.3h1v6.7h-1zM245 121.3h1v6.7h-1zM246 108h1v6.7h-1zM249 121.3h1v6.7h-1zM250 121.3h1v6.7h-1zM252 121.3h1v6.7h-1zM253 114.6h1v6.7h-1zM254 114.6h1v6.7h-1zM255 108h1v6.7h-1zM262 108h1v6.7h-1zM262 114.6h1v6.7h-1zM263 108h1v6.7h-1zM263 114.6h1v6.7h-1zM263 121.3h1v6.7h-1zM264 114.6h1v6.7h-1zM265 108h1v6.7h-1zM266 114.6h1v6.7h-1zM267 114.6h1v6.7h-1zM270 114.6h1v6.7h-1zM274 121.3h1v6.7h-1zM276 121.3h1v6.7h-1zM281 114.6h1v6.7h-1zM281 121.3h1v6.7h-1zM284 108h1v6.7h-1zM286 108h1v6.7h-1zM286 114.6h1v6.7h-1zM290 108h1v6.7h-1zM290 121.3h1v6.7h-1zM291 121.3h1v6.7h-1zM292 108h1v6.7h-1zM292 121.3h1v6.7h-1zM298 121.3h1v6.7h-1zM299 108h1v6.7h-1zM299 121.3h1v6.7h-1zM301 108h1v6.7h-1zM302 108h1v6.7h-1zM302 121.3h1v6.7h-1zM303 108h1v6.7h-1zM314 114.6h1v6.7h-1zM315 114.6h1v6.7h-1zM322 114.6h1v6.7h-1zM325 114.6h1v6.7h-1zM326 114.6h1v6.7h-1zM329 121.3h1v6.7h-1zM330 108h1v6.7h-1zM331 121.3h1v6.7h-1zM446 121.3h1v6.7h-1zM447 114.6h1v6.7h-1zM458 121.3h1v6.7h-1zM470 114.6h1v6.7h-1zM471 121.3h1v6.7h-1zM531 108h1v6.7h-1zM531 121.3h1v6.7h-1zM237 127.9h1v6.7h-1zM238 141.2h1v6.7h-1zM239 134.5h1v6.7h-1zM241 134.5h1v6.7h-1zM242 134.5h1v6.7h-1zM245 127.9h1v6.7h-1zM246 127.9h1v6.7h-1zM247 127.9h1v6.7h-1zM248 141.2h1v6.7h-1zM253 134.5h1v6.7h-1zM254 134.5h1v6.7h-1zM255 134.5h1v6.7h-1zM337 141.2h1v6.7h-1zM431 134.5h1v6.7h-1zM431 141.2h1v6.7h-1zM434 127.9h1v6.7h-1zM434 134.5h1v6.7h-1zM442 141.2h1v6.7h-1zM447 127.9h1v6.7h-1zM447 134.5h1v6.7h-1zM455 134.5h1v6.7h-1zM456 134.5h1v6.7h-1zM457 134.5h1v6.7h-1zM478 141.2h1v6.7h-1zM492 141.2h1v6.7h-1zM504 134.5h1v6.7h-1zM504 141.2h1v6.7h-1zM511 127.9h1v6.7h-1zM511 141.2h1v6.7h-1zM236 147.8h1v6.6h-1zM362 147.8h1v6.6h-1zM362 154.4h1v6.6h-1zM363 147.8h1v6.6h-1zM364 154.4h1v6.6h-1zM371 161h1v6.6h-1zM372 161h1v6.6h-1zM373 147.8h1v6.6h-1zM373 154.4h1v6.6h-1zM373 161h1v6.6h-1zM374 161h1v6.6h-1zM376 147.8h1v6.6h-1zM376 154.4h1v6.6h-1zM377 161h1v6.6h-1zM378 147.8h1v6.6h-1zM378 154.4h1v6.6h-1zM379 154.4h1v6.6h-1zM380 147.8h1v6.6h-1zM383 154.4h1v6.6h-1zM384 161h1v6.6h-1zM388 147.8h1v6.6h-1zM388 161h1v6.6h-1zM393 161h1v6.6h-1zM394 147.8h1v6.6h-1zM394 154.4h1v6.6h-1zM395 147.8h1v6.6h-1zM396 147.8h1v6.6h-1zM397 147.8h1v6.6h-1zM449 147.8h1v6.6h-1zM449 154.4h1v6.6h-1zM449 161h1v6.6h-1zM455 147.8h1v6.6h-1zM455 154.4h1v6.6h-1zM455 161h1v6.6h-1zM470 147.8h1v6.6h-1zM470 154.4h1v6.6h-1zM470 161h1v6.6h-1zM478 154.4h1v6.6h-1zM483 147.8h1v6.6h-1zM485 147.8h1v6.6h-1zM486 147.8h1v6.6h-1zM488 147.8h1v6.6h-1zM510 154.4h1v6.6h-1zM511 161h1v6.6h-1zM514 147.8h1v6.6h-1zM515 147.8h1v6.6h-1zM520 154.4h1v6.6h-1zM522 154.4h1v6.6h-1zM531 161h1v6.6h-1z" fill="#e7f0f4" shape-rendering="crispEdges"/>
<path d="M240 48.2h1v6.7h-1zM240 54.9h1v6.7h-1zM241 48.2h1v6.7h-1zM241 54.9h1v6.7h-1zM243 48.2h1v6.7h-1zM243 54.9h1v6.7h-1zM246 48.2h1v6.7h-1zM250 48.2h1v6.7h-1zM251 48.2h1v6.7h-1zM251 54.9h1v6.7h-1zM253 48.2h1v6.7h-1zM255 54.9h1v6.7h-1zM255 61.5h1v6.7h-1zM256 48.2h1v6.7h-1zM265 54.9h1v6.7h-1zM267 54.9h1v6.7h-1zM270 48.2h1v6.7h-1zM271 48.2h1v6.7h-1zM271 54.9h1v6.7h-1zM272 54.9h1v6.7h-1zM273 54.9h1v6.7h-1zM274 48.2h1v6.7h-1zM274 54.9h1v6.7h-1zM277 54.9h1v6.7h-1zM278 61.5h1v6.7h-1zM281 54.9h1v6.7h-1zM295 54.9h1v6.7h-1zM296 54.9h1v6.7h-1zM297 54.9h1v6.7h-1zM302 54.9h1v6.7h-1zM303 61.5h1v6.7h-1zM304 48.2h1v6.7h-1zM306 48.2h1v6.7h-1zM309 61.5h1v6.7h-1zM310 54.9h1v6.7h-1zM317 54.9h1v6.7h-1zM318 54.9h1v6.7h-1zM319 48.2h1v6.7h-1zM320 48.2h1v6.7h-1zM320 54.9h1v6.7h-1zM321 54.9h1v6.7h-1zM322 48.2h1v6.7h-1zM327 48.2h1v6.7h-1zM328 48.2h1v6.7h-1zM332 54.9h1v6.7h-1zM338 48.2h1v6.7h-1zM503 54.9h1v6.7h-1zM504 54.9h1v6.7h-1zM507 48.2h1v6.7h-1zM510 48.2h1v6.7h-1zM511 54.9h1v6.7h-1zM511 61.5h1v6.7h-1zM514 48.2h1v6.7h-1zM517 61.5h1v6.7h-1zM519 54.9h1v6.7h-1zM519 61.5h1v6.7h-1zM520 48.2h1v6.7h-1zM520 54.9h1v6.7h-1zM522 48.2h1v6.7h-1zM523 54.9h1v6.7h-1zM524 48.2h1v6.7h-1zM525 54.9h1v6.7h-1zM250 74.9h1v6.7h-1zM252 68.2h1v6.7h-1zM253 68.2h1v6.7h-1zM253 81.5h1v6.7h-1zM254 68.2h1v6.7h-1zM254 74.9h1v6.7h-1zM255 68.2h1v6.7h-1zM257 68.2h1v6.7h-1zM257 74.9h1v6.7h-1zM258 74.9h1v6.7h-1zM259 74.9h1v6.7h-1zM259 81.5h1v6.7h-1zM262 81.5h1v6.7h-1zM263 81.5h1v6.7h-1zM265 81.5h1v6.7h-1zM266 68.2h1v6.7h-1zM266 74.9h1v6.7h-1zM274 68.2h1v6.7h-1zM284 81.5h1v6.7h-1zM285 74.9h1v6.7h-1zM285 81.5h1v6.7h-1zM288 68.2h1v6.7h-1zM288 81.5h1v6.7h-1zM291 81.5h1v6.7h-1zM296 74.9h1v6.7h-1zM303 68.2h1v6.7h-1zM307 68.2h1v6.7h-1zM308 68.2h1v6.7h-1zM308 74.9h1v6.7h-1zM309 81.5h1v6.7h-1zM310 74.9h1v6.7h-1zM311 68.2h1v6.7h-1zM311 74.9h1v6.7h-1zM313 68.2h1v6.7h-1zM313 74.9h1v6.7h-1zM313 81.5h1v6.7h-1zM314 68.2h1v6.7h-1zM314 74.9h1v6.7h-1zM315 81.5h1v6.7h-1zM318 81.5h1v6.7h-1zM326 68.2h1v6.7h-1zM337 81.5h1v6.7h-1zM339 74.9h1v6.7h-1zM341 74.9h1v6.7h-1zM342 74.9h1v6.7h-1zM343 74.9h1v6.7h-1zM347 68.2h1v6.7h-1zM348 68.2h1v6.7h-1zM348 74.9h1v6.7h-1zM349 74.9h1v6.7h-1zM349 81.5h1v6.7h-1zM351 68.2h1v6.7h-1zM352 68.2h1v6.7h-1zM352 81.5h1v6.7h-1zM353 81.5h1v6.7h-1zM354 74.9h1v6.7h-1zM407 68.2h1v6.7h-1zM408 81.5h1v6.7h-1zM413 68.2h1v6.7h-1zM413 74.9h1v6.7h-1zM419 74.9h1v6.7h-1zM429 68.2h1v6.7h-1zM433 68.2h1v6.7h-1zM442 68.2h1v6.7h-1zM443 68.2h1v6.7h-1zM443 74.9h1v6.7h-1zM443 81.5h1v6.7h-1zM239 94.8h1v6.6h-1zM239 101.4h1v6.6h-1zM240 88.2h1v6.6h-1zM250 94.8h1v6.6h-1zM252 94.8h1v6.6h-1zM253 94.8h1v6.6h-1zM253 101.4h1v6.6h-1zM254 94.8h1v6.6h-1zM254 101.4h1v6.6h-1zM258 88.2h1v6.6h-1zM259 88.2h1v6.6h-1zM261 88.2h1v6.6h-1zM261 94.8h1v6.6h-1zM285 88.2h1v6.6h-1zM285 94.8h1v6.6h-1zM286 94.8h1v6.6h-1zM292 94.8h1v6.6h-1zM293 94.8h1v6.6h-1zM294 88.2h1v6.6h-1zM294 101.4h1v6.6h-1zM304 94.8h1v6.6h-1zM305 88.2h1v6.6h-1zM307 94.8h1v6.6h-1zM309 88.2h1v6.6h-1zM310 88.2h1v6.6h-1zM312 101.4h1v6.6h-1zM313 88.2h1v6.6h-1zM315 101.4h1v6.6h-1zM316 94.8h1v6.6h-1zM316 101.4h1v6.6h-1zM317 101.4h1v6.6h-1zM321 94.8h1v6.6h-1zM329 101.4h1v6.6h-1zM331 88.2h1v6.6h-1zM333 88.2h1v6.6h-1zM333 101.4h1v6.6h-1zM334 88.2h1v6.6h-1zM335 88.2h1v6.6h-1zM335 101.4h1v6.6h-1zM370 88.2h1v6.6h-1zM376 101.4h1v6.6h-1zM380 88.2h1v6.6h-1zM380 94.8h1v6.6h-1zM381 94.8h1v6.6h-1zM395 94.8h1v6.6h-1zM431 101.4h1v6.6h-1zM441 94.8h1v6.6h-1zM441 101.4h1v6.6h-1zM442 94.8h1v6.6h-1zM480 94.8h1v6.6h-1zM481 94.8h1v6.6h-1zM485 88.2h1v6.6h-1zM486 94.8h1v6.6h-1zM487 94.8h1v6.6h-1zM490 94.8h1v6.6h-1zM490 101.4h1v6.6h-1zM491 94.8h1v6.6h-1zM492 94.8h1v6.6h-1zM493 101.4h1v6.6h-1zM494 94.8h1v6.6h-1zM496 101.4h1v6.6h-1zM237 114.6h1v6.7h-1zM238 108h1v6.7h-1zM238 121.3h1v6.7h-1zM240 114.6h1v6.7h-1zM241 114.6h1v6.7h-1zM242 114.6h1v6.7h-1zM243 114.6h1v6.7h-1zM244 114.6h1v6.7h-1zM245 114.6h1v6.7h-1zM248 108h1v6.7h-1zM254 108h1v6.7h-1zM257 108h1v6.7h-1zM257 121.3h1v6.7h-1zM258 114.6h1v6.7h-1zM258 121.3h1v6.7h-1zM259 114.6h1v6.7h-1zM260 121.3h1v6.7h-1zM261 121.3h1v6.7h-1zM267 108h1v6.7h-1zM267 121.3h1v6.7h-1zM268 114.6h1v6.7h-1zM271 108h1v6.7h-1zM271 121.3h1v6.7h-1zM272 108h1v6.7h-1zM273 108h1v6.7h-1zM274 108h1v6.7h-1zM280 108h1v6.7h-1zM281 108h1v6.7h-1zM282 108h1v6.7h-1zM282 114.6h1v6.7h-1zM282 121.3h1v6.7h-1zM287 114.6h1v6.7h-1zM288 114.6h1v6.7h-1zM289 108h1v6.7h-1zM290 114.6h1v6.7h-1zM295 108h1v6.7h-1zM300 121.3h1v6.7h-1zM304 108h1v6.7h-1zM309 114.6h1v6.7h-1zM310 114.6h1v6.7h-1zM311 108h1v6.7h-1zM313 108h1v6.7h-1zM314 108h1v6.7h-1zM314 121.3h1v6.7h-1zM316 108h1v6.7h-1zM316 114.6h1v6.7h-1zM317 108h1v6.7h-1zM317 114.6h1v6.7h-1zM317 121.3h1v6.7h-1zM318 121.3h1v6.7h-1zM319 108h1v6.7h-1zM320 108h1v6.7h-1zM321 108h1v6.7h-1zM321 121.3h1v6.7h-1zM323 114.6h1v6.7h-1zM326 108h1v6.7h-1zM327 108h1v6.7h-1zM328 108h1v6.7h-1zM331 114.6h1v6.7h-1zM366 114.6h1v6.7h-1zM379 121.3h1v6.7h-1zM430 114.6h1v6.7h-1zM440 114.6h1v6.7h-1zM238 127.9h1v6.7h-1zM239 127.9h1v6.7h-1zM245 134.5h1v6.7h-1zM246 141.2h1v6.7h-1zM247 134.5h1v6.7h-1zM429 134.5h1v6.7h-1zM429 141.2h1v6.7h-1zM430 134.5h1v6.7h-1zM448 127.9h1v6.7h-1zM448 134.5h1v6.7h-1zM460 127.9h1v6.7h-1zM460 134.5h1v6.7h-1zM461 127.9h1v6.7h-1zM465 141.2h1v6.7h-1zM469 141.2h1v6.7h-1zM475 141.2h1v6.7h-1zM476 141.2h1v6.7h-1zM477 141.2h1v6.7h-1zM483 134.5h1v6.7h-1zM490 134.5h1v6.7h-1zM495 127.9h1v6.7h-1zM502 134.5h1v6.7h-1zM510 141.2h1v6.7h-1zM512 141.2h1v6.7h-1zM516 127.9h1v6.7h-1zM516 134.5h1v6.7h-1zM236 154.4h1v6.6h-1zM363 154.4h1v6.6h-1zM374 154.4h1v6.6h-1zM378 161h1v6.6h-1zM390 154.4h1v6.6h-1zM391 147.8h1v6.6h-1zM392 154.4h1v6.6h-1zM392 161h1v6.6h-1zM394 161h1v6.6h-1zM399 161h1v6.6h-1zM454 161h1v6.6h-1zM457 161h1v6.6h-1zM467 161h1v6.6h-1zM469 161h1v6.6h-1zM471 147.8h1v6.6h-1zM474 161h1v6.6h-1zM475 147.8h1v6.6h-1zM479 154.4h1v6.6h-1zM479 161h1v6.6h-1zM480 147.8h1v6.6h-1zM482 161h1v6.6h-1zM483 154.4h1v6.6h-1zM484 154.4h1v6.6h-1zM484 161h1v6.6h-1zM487 161h1v6.6h-1zM489 147.8h1v6.6h-1zM489 161h1v6.6h-1zM490 161h1v6.6h-1zM500 161h1v6.6h-1zM501 147.8h1v6.6h-1zM502 154.4h1v6.6h-1zM503 161h1v6.6h-1zM506 161h1v6.6h-1zM507 147.8h1v6.6h-1zM507 161h1v6.6h-1zM508 154.4h1v6.6h-1zM509 154.4h1v6.6h-1zM510 147.8h1v6.6h-1zM516 154.4h1v6.6h-1zM519 161h1v6.6h-1zM520 147.8h1v6.6h-1zM520 161h1v6.6h-1zM521 147.8h1v6.6h-1zM522 147.8h1v6.6h-1zM522 161h1v6.6h-1zM523 147.8h1v6.6h-1zM523 161h1v6.6h-1zM525 147.8h1v6.6h-1zM527 147.8h1v6.6h-1zM528 147.8h1v6.6h-1z" fill="#d7e8f1" shape-rendering="crispEdges"/>
<path d="M244 48.2h1v6.7h-1zM245 48.2h1v6.7h-1zM245 54.9h1v6.7h-1zM246 54.9h1v6.7h-1zM248 48.2h1v6.7h-1zM248 54.9h1v6.7h-1zM249 54.9h1v6.7h-1zM250 54.9h1v6.7h-1zM255 48.2h1v6.7h-1zM267 48.2h1v6.7h-1zM270 54.9h1v6.7h-1zM272 48.2h1v6.7h-1zM273 48.2h1v6.7h-1zM278 54.9h1v6.7h-1zM279 48.2h1v6.7h-1zM280 54.9h1v6.7h-1zM291 48.2h1v6.7h-1zM291 61.5h1v6.7h-1zM292 48.2h1v6.7h-1zM300 61.5h1v6.7h-1zM301 61.5h1v6.7h-1zM302 61.5h1v6.7h-1zM303 48.2h1v6.7h-1zM307 54.9h1v6.7h-1zM307 61.5h1v6.7h-1zM308 54.9h1v6.7h-1zM308 61.5h1v6.7h-1zM309 48.2h1v6.7h-1zM309 54.9h1v6.7h-1zM321 48.2h1v6.7h-1zM326 54.9h1v6.7h-1zM333 54.9h1v6.7h-1zM346 48.2h1v6.7h-1zM346 61.5h1v6.7h-1zM500 61.5h1v6.7h-1zM501 61.5h1v6.7h-1zM505 61.5h1v6.7h-1zM507 54.9h1v6.7h-1zM508 48.2h1v6.7h-1zM508 54.9h1v6.7h-1zM509 48.2h1v6.7h-1zM509 54.9h1v6.7h-1zM510 61.5h1v6.7h-1zM517 48.2h1v6.7h-1zM517 54.9h1v6.7h-1zM518 54.9h1v6.7h-1zM518 61.5h1v6.7h-1zM519 48.2h1v6.7h-1zM523 48.2h1v6.7h-1zM523 61.5h1v6.7h-1zM525 61.5h1v6.7h-1zM527 54.9h1v6.7h-1zM237 81.5h1v6.7h-1zM251 74.9h1v6.7h-1zM252 74.9h1v6.7h-1zM253 74.9h1v6.7h-1zM258 68.2h1v6.7h-1zM263 68.2h1v6.7h-1zM264 68.2h1v6.7h-1zM264 81.5h1v6.7h-1zM266 81.5h1v6.7h-1zM269 68.2h1v6.7h-1zM269 74.9h1v6.7h-1zM279 74.9h1v6.7h-1zM281 74.9h1v6.7h-1zM282 74.9h1v6.7h-1zM282 81.5h1v6.7h-1zM283 81.5h1v6.7h-1zM284 74.9h1v6.7h-1zM287 74.9h1v6.7h-1zM289 81.5h1v6.7h-1zM290 74.9h1v6.7h-1zM292 81.5h1v6.7h-1zM294 68.2h1v6.7h-1zM294 74.9h1v6.7h-1zM295 68.2h1v6.7h-1zM295 74.9h1v6.7h-1zM296 68.2h1v6.7h-1zM302 68.2h1v6.7h-1zM304 68.2h1v6.7h-1zM307 74.9h1v6.7h-1zM308 81.5h1v6.7h-1zM309 68.2h1v6.7h-1zM309 74.9h1v6.7h-1zM310 68.2h1v6.7h-1zM315 74.9h1v6.7h-1zM316 68.2h1v6.7h-1zM316 81.5h1v6.7h-1zM317 68.2h1v6.7h-1zM317 81.5h1v6.7h-1zM318 68.2h1v6.7h-1zM319 68.2h1v6.7h-1zM319 74.9h1v6.7h-1zM319 81.5h1v6.7h-1zM320 68.2h1v6.7h-1zM320 81.5h1v6.7h-1zM322 68.2h1v6.7h-1zM322 74.9h1v6.7h-1zM322 81.5h1v6.7h-1zM326 74.9h1v6.7h-1zM326 81.5h1v6.7h-1zM327 68.2h1v6.7h-1zM327 74.9h1v6.7h-1zM327 81.5h1v6.7h-1zM332 74.9h1v6.7h-1zM333 74.9h1v6.7h-1zM338 68.2h1v6.7h-1zM338 74.9h1v6.7h-1zM340 74.9h1v6.7h-1zM343 81.5h1v6.7h-1zM344 81.5h1v6.7h-1zM345 81.5h1v6.7h-1zM346 74.9h1v6.7h-1zM347 74.9h1v6.7h-1zM348 81.5h1v6.7h-1zM350 74.9h1v6.7h-1zM351 74.9h1v6.7h-1zM351 81.5h1v6.7h-1zM352 74.9h1v6.7h-1zM354 68.2h1v6.7h-1zM355 74.9h1v6.7h-1zM355 81.5h1v6.7h-1zM407 81.5h1v6.7h-1zM408 74.9h1v6.7h-1zM418 68.2h1v6.7h-1zM418 74.9h1v6.7h-1zM426 68.2h1v6.7h-1zM428 81.5h1v6.7h-1zM429 81.5h1v6.7h-1zM430 81.5h1v6.7h-1zM431 81.5h1v6.7h-1zM432 81.5h1v6.7h-1zM440 74.9h1v6.7h-1zM441 74.9h1v6.7h-1zM444 74.9h1v6.7h-1zM444 81.5h1v6.7h-1zM467 81.5h1v6.7h-1zM237 101.4h1v6.6h-1zM239 88.2h1v6.6h-1zM259 94.8h1v6.6h-1zM260 88.2h1v6.6h-1zM286 88.2h1v6.6h-1zM298 88.2h1v6.6h-1zM298 94.8h1v6.6h-1zM298 101.4h1v6.6h-1zM300 94.8h1v6.6h-1zM303 94.8h1v6.6h-1zM305 101.4h1v6.6h-1zM306 94.8h1v6.6h-1zM308 94.8h1v6.6h-1zM309 101.4h1v6.6h-1zM310 101.4h1v6.6h-1zM312 88.2h1v6.6h-1zM313 101.4h1v6.6h-1zM318 88.2h1v6.6h-1zM319 88.2h1v6.6h-1zM322 94.8h1v6.6h-1zM322 101.4h1v6.6h-1zM332 88.2h1v6.6h-1zM375 101.4h1v6.6h-1zM380 101.4h1v6.6h-1zM381 88.2h1v6.6h-1zM382 94.8h1v6.6h-1zM386 88.2h1v6.6h-1zM432 101.4h1v6.6h-1zM440 94.8h1v6.6h-1zM474 88.2h1v6.6h-1zM474 94.8h1v6.6h-1zM481 88.2h1v6.6h-1zM484 88.2h1v6.6h-1zM484 94.8h1v6.6h-1zM485 101.4h1v6.6h-1zM486 88.2h1v6.6h-1zM486 101.4h1v6.6h-1zM487 88.2h1v6.6h-1zM487 101.4h1v6.6h-1zM491 88.2h1v6.6h-1zM496 88.2h1v6.6h-1zM498 88.2h1v6.6h-1zM498 101.4h1v6.6h-1zM499 88.2h1v6.6h-1zM237 121.3h1v6.7h-1zM239 108h1v6.7h-1zM239 121.3h1v6.7h-1zM246 114.6h1v6.7h-1zM246 121.3h1v6.7h-1zM247 108h1v6.7h-1zM247 114.6h1v6.7h-1zM247 121.3h1v6.7h-1zM248 114.6h1v6.7h-1zM248 121.3h1v6.7h-1zM249 108h1v6.7h-1zM250 108h1v6.7h-1zM251 108h1v6.7h-1zM252 114.6h1v6.7h-1zM253 108h1v6.7h-1zM258 108h1v6.7h-1zM259 108h1v6.7h-1zM260 108h1v6.7h-1zM260 114.6h1v6.7h-1zM261 108h1v6.7h-1zM261 114.6h1v6.7h-1zM262 121.3h1v6.7h-1zM264 108h1v6.7h-1zM264 121.3h1v6.7h-1zM265 114.6h1v6.7h-1zM265 121.3h1v6.7h-1zM266 108h1v6.7h-1zM266 121.3h1v6.7h-1zM269 114.6h1v6.7h-1zM272 121.3h1v6.7h-1zM275 121.3h1v6.7h-1zM277 108h1v6.7h-1zM278 108h1v6.7h-1zM279 108h1v6.7h-1zM280 114.6h1v6.7h-1zM280 121.3h1v6.7h-1zM284 121.3h1v6.7h-1zM287 108h1v6.7h-1zM287 121.3h1v6.7h-1zM288 108h1v6.7h-1zM288 121.3h1v6.7h-1zM289 121.3h1v6.7h-1zM291 108h1v6.7h-1zM293 108h1v6.7h-1zM293 121.3h1v6.7h-1zM296 108h1v6.7h-1zM296 114.6h1v6.7h-1zM296 121.3h1v6.7h-1zM300 108h1v6.7h-1zM301 121.3h1v6.7h-1zM304 121.3h1v6.7h-1zM305 114.6h1v6.7h-1zM311 114.6h1v6.7h-1zM313 114.6h1v6.7h-1zM315 108h1v6.7h-1zM315 121.3h1v6.7h-1zM318 114.6h1v6.7h-1zM319 121.3h1v6.7h-1zM320 121.3h1v6.7h-1zM324 114.6h1v6.7h-1zM326 121.3h1v6.7h-1zM329 114.6h1v6.7h-1zM332 121.3h1v6.7h-1zM379 108h1v6.7h-1zM379 114.6h1v6.7h-1zM401 108h1v6.7h-1zM401 114.6h1v6.7h-1zM401 121.3h1v6.7h-1zM403 108h1v6.7h-1zM403 114.6h1v6.7h-1zM403 121.3h1v6.7h-1zM405 108h1v6.7h-1zM470 121.3h1v6.7h-1zM499 108h1v6.7h-1zM238 134.5h1v6.7h-1zM241 127.9h1v6.7h-1zM244 134.5h1v6.7h-1zM245 141.2h1v6.7h-1zM248 134.5h1v6.7h-1zM430 141.2h1v6.7h-1zM448 141.2h1v6.7h-1zM478 127.9h1v6.7h-1zM479 141.2h1v6.7h-1zM492 127.9h1v6.7h-1zM492 134.5h1v6.7h-1zM494 141.2h1v6.7h-1zM495 141.2h1v6.7h-1zM504 127.9h1v6.7h-1zM511 134.5h1v6.7h-1zM516 141.2h1v6.7h-1zM236 161h1v6.6h-1zM359 147.8h1v6.6h-1zM359 154.4h1v6.6h-1zM359 161h1v6.6h-1zM374 147.8h1v6.6h-1zM375 147.8h1v6.6h-1zM375 154.4h1v6.6h-1zM375 161h1v6.6h-1zM376 161h1v6.6h-1zM379 161h1v6.6h-1zM380 154.4h1v6.6h-1zM381 147.8h1v6.6h-1zM381 154.4h1v6.6h-1zM382 154.4h1v6.6h-1zM383 161h1v6.6h-1zM389 147.8h1v6.6h-1zM389 154.4h1v6.6h-1zM389 161h1v6.6h-1zM392 147.8h1v6.6h-1zM398 147.8h1v6.6h-1zM399 147.8h1v6.6h-1zM471 161h1v6.6h-1zM472 161h1v6.6h-1zM473 161h1v6.6h-1zM475 161h1v6.6h-1zM476 161h1v6.6h-1zM477 147.8h1v6.6h-1zM477 154.4h1v6.6h-1zM479 147.8h1v6.6h-1zM481 147.8h1v6.6h-1zM482 147.8h1v6.6h-1zM483 161h1v6.6h-1zM486 161h1v6.6h-1zM487 147.8h1v6.6h-1zM488 161h1v6.6h-1zM491 161h1v6.6h-1zM501 161h1v6.6h-1zM502 147.8h1v6.6h-1zM506 154.4h1v6.6h-1zM507 154.4h1v6.6h-1zM510 161h1v6.6h-1zM511 147.8h1v6.6h-1zM511 154.4h1v6.6h-1zM513 147.8h1v6.6h-1zM516 161h1v6.6h-1zM519 154.4h1v6.6h-1zM521 161h1v6.6h-1zM523 154.4h1v6.6h-1zM524 154.4h1v6.6h-1zM529 154.4h1v6.6h-1zM529 161h1v6.6h-1zM530 154.4h1v6.6h-1zM530 161h1v6.6h-1zM531 154.4h1v6.6h-1z" fill="#dfecf3" shape-rendering="crispEdges"/>
<path d="M312 48.2h1v6.7h-1zM313 61.5h1v6.7h-1zM314 48.2h1v6.7h-1zM316 48.2h1v6.7h-1zM322 61.5h1v6.7h-1zM325 61.5h1v6.7h-1zM335 61.5h1v6.7h-1zM336 54.9h1v6.7h-1zM336 61.5h1v6.7h-1zM340 61.5h1v6.7h-1zM341 48.2h1v6.7h-1zM342 48.2h1v6.7h-1zM343 54.9h1v6.7h-1zM348 48.2h1v6.7h-1zM356 54.9h1v6.7h-1zM241 94.8h1v6.6h-1zM242 94.8h1v6.6h-1zM243 88.2h1v6.6h-1zM243 101.4h1v6.6h-1zM244 101.4h1v6.6h-1zM245 88.2h1v6.6h-1zM245 94.8h1v6.6h-1zM249 88.2h1v6.6h-1zM251 88.2h1v6.6h-1zM262 101.4h1v6.6h-1zM263 94.8h1v6.6h-1zM265 88.2h1v6.6h-1zM267 88.2h1v6.6h-1zM268 88.2h1v6.6h-1zM275 101.4h1v6.6h-1zM278 101.4h1v6.6h-1zM282 88.2h1v6.6h-1zM283 88.2h1v6.6h-1zM283 101.4h1v6.6h-1zM290 101.4h1v6.6h-1zM291 101.4h1v6.6h-1zM406 101.4h1v6.6h-1zM408 94.8h1v6.6h-1zM411 88.2h1v6.6h-1zM414 88.2h1v6.6h-1zM414 101.4h1v6.6h-1zM418 88.2h1v6.6h-1zM418 94.8h1v6.6h-1zM419 88.2h1v6.6h-1zM424 101.4h1v6.6h-1zM425 94.8h1v6.6h-1zM427 94.8h1v6.6h-1zM428 88.2h1v6.6h-1zM430 88.2h1v6.6h-1zM365 121.3h1v6.7h-1zM367 121.3h1v6.7h-1zM369 114.6h1v6.7h-1zM370 114.6h1v6.7h-1zM370 121.3h1v6.7h-1zM373 108h1v6.7h-1zM373 114.6h1v6.7h-1zM373 121.3h1v6.7h-1zM374 108h1v6.7h-1zM374 114.6h1v6.7h-1zM374 121.3h1v6.7h-1zM378 108h1v6.7h-1zM378 114.6h1v6.7h-1zM384 114.6h1v6.7h-1zM384 121.3h1v6.7h-1zM385 108h1v6.7h-1zM385 114.6h1v6.7h-1zM388 121.3h1v6.7h-1zM389 114.6h1v6.7h-1zM391 108h1v6.7h-1zM391 114.6h1v6.7h-1zM393 108h1v6.7h-1zM394 108h1v6.7h-1zM394 114.6h1v6.7h-1zM396 108h1v6.7h-1zM402 114.6h1v6.7h-1zM407 114.6h1v6.7h-1zM409 121.3h1v6.7h-1zM410 114.6h1v6.7h-1zM410 121.3h1v6.7h-1zM412 121.3h1v6.7h-1zM415 121.3h1v6.7h-1zM416 121.3h1v6.7h-1zM417 121.3h1v6.7h-1zM418 108h1v6.7h-1zM418 114.6h1v6.7h-1zM419 108h1v6.7h-1zM419 121.3h1v6.7h-1zM420 108h1v6.7h-1zM420 114.6h1v6.7h-1zM420 121.3h1v6.7h-1zM422 108h1v6.7h-1zM422 121.3h1v6.7h-1zM423 108h1v6.7h-1zM424 108h1v6.7h-1zM424 121.3h1v6.7h-1zM425 108h1v6.7h-1zM427 108h1v6.7h-1zM429 121.3h1v6.7h-1zM432 114.6h1v6.7h-1zM433 114.6h1v6.7h-1zM442 108h1v6.7h-1zM443 108h1v6.7h-1zM443 121.3h1v6.7h-1zM444 121.3h1v6.7h-1zM485 141.2h1v6.7h-1zM486 141.2h1v6.7h-1zM487 127.9h1v6.7h-1zM487 141.2h1v6.7h-1zM503 141.2h1v6.7h-1zM513 134.5h1v6.7h-1zM514 134.5h1v6.7h-1zM518 127.9h1v6.7h-1zM525 127.9h1v6.7h-1zM526 127.9h1v6.7h-1zM526 134.5h1v6.7h-1zM527 134.5h1v6.7h-1zM528 134.5h1v6.7h-1zM529 127.9h1v6.7h-1zM529 134.5h1v6.7h-1zM529 141.2h1v6.7h-1zM530 127.9h1v6.7h-1zM357 161h1v6.6h-1zM360 154.4h1v6.6h-1zM361 154.4h1v6.6h-1zM361 161h1v6.6h-1zM445 161h1v6.6h-1zM446 154.4h1v6.6h-1zM448 161h1v6.6h-1zM458 154.4h1v6.6h-1zM460 147.8h1v6.6h-1zM460 154.4h1v6.6h-1zM495 161h1v6.6h-1zM496 161h1v6.6h-1zM499 154.4h1v6.6h-1zM504 147.8h1v6.6h-1z" fill="#9ac9e0" shape-rendering="crispEdges"/>
<path d="M313 48.2h1v6.7h-1zM315 48.2h1v6.7h-1zM316 61.5h1v6.7h-1zM340 54.9h1v6.7h-1zM342 54.9h1v6.7h-1zM342 61.5h1v6.7h-1zM347 48.2h1v6.7h-1zM297 68.2h1v6.7h-1zM298 68.2h1v6.7h-1zM300 68.2h1v6.7h-1zM301 68.2h1v6.7h-1zM301 74.9h1v6.7h-1zM301 81.5h1v6.7h-1zM243 94.8h1v6.6h-1zM244 88.2h1v6.6h-1zM244 94.8h1v6.6h-1zM264 94.8h1v6.6h-1zM265 94.8h1v6.6h-1zM266 94.8h1v6.6h-1zM266 101.4h1v6.6h-1zM269 88.2h1v6.6h-1zM270 88.2h1v6.6h-1zM270 94.8h1v6.6h-1zM271 94.8h1v6.6h-1zM278 88.2h1v6.6h-1zM278 94.8h1v6.6h-1zM389 101.4h1v6.6h-1zM392 101.4h1v6.6h-1zM406 88.2h1v6.6h-1zM406 94.8h1v6.6h-1zM407 94.8h1v6.6h-1zM409 94.8h1v6.6h-1zM410 88.2h1v6.6h-1zM410 101.4h1v6.6h-1zM411 94.8h1v6.6h-1zM412 88.2h1v6.6h-1zM412 94.8h1v6.6h-1zM413 94.8h1v6.6h-1zM413 101.4h1v6.6h-1zM419 94.8h1v6.6h-1zM420 88.2h1v6.6h-1zM420 94.8h1v6.6h-1zM427 101.4h1v6.6h-1zM444 88.2h1v6.6h-1zM368 108h1v6.7h-1zM368 114.6h1v6.7h-1zM369 108h1v6.7h-1zM370 108h1v6.7h-1zM378 121.3h1v6.7h-1zM380 121.3h1v6.7h-1zM382 121.3h1v6.7h-1zM389 108h1v6.7h-1zM389 121.3h1v6.7h-1zM390 114.6h1v6.7h-1zM391 121.3h1v6.7h-1zM392 108h1v6.7h-1zM392 114.6h1v6.7h-1zM393 114.6h1v6.7h-1zM394 121.3h1v6.7h-1zM404 114.6h1v6.7h-1zM408 108h1v6.7h-1zM408 121.3h1v6.7h-1zM409 108h1v6.7h-1zM409 114.6h1v6.7h-1zM418 121.3h1v6.7h-1zM425 121.3h1v6.7h-1zM426 121.3h1v6.7h-1zM432 108h1v6.7h-1zM433 108h1v6.7h-1zM435 108h1v6.7h-1zM435 114.6h1v6.7h-1zM435 121.3h1v6.7h-1zM436 108h1v6.7h-1zM436 121.3h1v6.7h-1zM444 108h1v6.7h-1zM236 134.5h1v6.7h-1zM236 141.2h1v6.7h-1zM509 134.5h1v6.7h-1zM515 127.9h1v6.7h-1zM517 141.2h1v6.7h-1zM519 134.5h1v6.7h-1zM520 127.9h1v6.7h-1zM521 141.2h1v6.7h-1zM522 141.2h1v6.7h-1zM524 141.2h1v6.7h-1zM525 134.5h1v6.7h-1zM360 161h1v6.6h-1zM361 147.8h1v6.6h-1zM447 161h1v6.6h-1zM494 147.8h1v6.6h-1zM496 147.8h1v6.6h-1zM497 147.8h1v6.6h-1zM497 154.4h1v6.6h-1z" fill="#8bc1dc" shape-rendering="crispEdges"/>
<path d="M341 54.9h1v6.7h-1zM341 61.5h1v6.7h-1zM297 81.5h1v6.7h-1zM298 81.5h1v6.7h-1zM299 68.2h1v6.7h-1zM299 81.5h1v6.7h-1zM300 81.5h1v6.7h-1zM263 101.4h1v6.6h-1zM264 101.4h1v6.6h-1zM265 101.4h1v6.6h-1zM267 94.8h1v6.6h-1zM267 101.4h1v6.6h-1zM268 94.8h1v6.6h-1zM268 101.4h1v6.6h-1zM269 101.4h1v6.6h-1zM270 101.4h1v6.6h-1zM271 88.2h1v6.6h-1zM271 101.4h1v6.6h-1zM390 101.4h1v6.6h-1zM391 101.4h1v6.6h-1zM410 94.8h1v6.6h-1zM413 88.2h1v6.6h-1zM418 101.4h1v6.6h-1zM420 101.4h1v6.6h-1zM426 94.8h1v6.6h-1zM426 101.4h1v6.6h-1zM427 88.2h1v6.6h-1zM390 108h1v6.7h-1zM390 121.3h1v6.7h-1zM393 121.3h1v6.7h-1zM427 121.3h1v6.7h-1zM428 121.3h1v6.7h-1zM431 121.3h1v6.7h-1zM433 121.3h1v6.7h-1zM434 108h1v6.7h-1zM434 114.6h1v6.7h-1zM434 121.3h1v6.7h-1zM515 134.5h1v6.7h-1zM517 127.9h1v6.7h-1zM518 134.5h1v6.7h-1zM520 134.5h1v6.7h-1zM521 127.9h1v6.7h-1zM522 127.9h1v6.7h-1zM523 141.2h1v6.7h-1zM524 127.9h1v6.7h-1zM524 134.5h1v6.7h-1zM531 134.5h1v6.7h-1zM531 141.2h1v6.7h-1zM360 147.8h1v6.6h-1zM446 161h1v6.6h-1zM495 147.8h1v6.6h-1zM497 161h1v6.6h-1z" fill="#7bb6d6" shape-rendering="crispEdges"/>
<path d="M357 48.2h1v6.7h-1zM359 54.9h1v6.7h-1zM360 48.2h1v6.7h-1zM360 54.9h1v6.7h-1zM363 48.2h1v6.7h-1zM363 54.9h1v6.7h-1zM366 54.9h1v6.7h-1zM366 61.5h1v6.7h-1zM368 48.2h1v6.7h-1zM372 61.5h1v6.7h-1zM373 48.2h1v6.7h-1zM375 54.9h1v6.7h-1zM381 61.5h1v6.7h-1zM383 61.5h1v6.7h-1zM386 61.5h1v6.7h-1zM387 61.5h1v6.7h-1zM390 61.5h1v6.7h-1zM393 48.2h1v6.7h-1zM393 61.5h1v6.7h-1zM400 54.9h1v6.7h-1zM401 48.2h1v6.7h-1zM401 54.9h1v6.7h-1zM402 48.2h1v6.7h-1zM402 54.9h1v6.7h-1zM403 54.9h1v6.7h-1zM404 48.2h1v6.7h-1zM404 54.9h1v6.7h-1zM405 54.9h1v6.7h-1zM406 54.9h1v6.7h-1zM407 48.2h1v6.7h-1zM409 61.5h1v6.7h-1zM411 54.9h1v6.7h-1zM411 61.5h1v6.7h-1zM417 48.2h1v6.7h-1zM417 61.5h1v6.7h-1zM418 48.2h1v6.7h-1zM418 61.5h1v6.7h-1zM419 61.5h1v6.7h-1zM421 48.2h1v6.7h-1zM424 61.5h1v6.7h-1zM427 54.9h1v6.7h-1zM428 54.9h1v6.7h-1zM428 61.5h1v6.7h-1zM432 61.5h1v6.7h-1zM435 61.5h1v6.7h-1zM436 48.2h1v6.7h-1zM437 54.9h1v6.7h-1zM438 48.2h1v6.7h-1zM438 54.9h1v6.7h-1zM438 61.5h1v6.7h-1zM439 61.5h1v6.7h-1zM442 61.5h1v6.7h-1zM444 54.9h1v6.7h-1zM454 48.2h1v6.7h-1zM467 61.5h1v6.7h-1zM468 48.2h1v6.7h-1zM469 48.2h1v6.7h-1zM470 48.2h1v6.7h-1zM243 81.5h1v6.7h-1zM358 68.2h1v6.7h-1zM359 68.2h1v6.7h-1zM360 68.2h1v6.7h-1zM366 68.2h1v6.7h-1zM367 68.2h1v6.7h-1zM367 74.9h1v6.7h-1zM367 81.5h1v6.7h-1zM372 74.9h1v6.7h-1zM373 68.2h1v6.7h-1zM374 68.2h1v6.7h-1zM375 68.2h1v6.7h-1zM376 81.5h1v6.7h-1zM382 68.2h1v6.7h-1zM390 74.9h1v6.7h-1zM391 68.2h1v6.7h-1zM391 74.9h1v6.7h-1zM398 68.2h1v6.7h-1zM399 68.2h1v6.7h-1zM400 68.2h1v6.7h-1zM400 81.5h1v6.7h-1zM403 74.9h1v6.7h-1zM404 68.2h1v6.7h-1zM404 74.9h1v6.7h-1zM405 68.2h1v6.7h-1zM405 81.5h1v6.7h-1zM456 81.5h1v6.7h-1zM464 68.2h1v6.7h-1zM475 74.9h1v6.7h-1zM475 81.5h1v6.7h-1zM483 68.2h1v6.7h-1zM483 81.5h1v6.7h-1zM485 81.5h1v6.7h-1zM487 81.5h1v6.7h-1zM488 81.5h1v6.7h-1zM490 68.2h1v6.7h-1zM491 74.9h1v6.7h-1zM492 74.9h1v6.7h-1zM492 81.5h1v6.7h-1zM493 74.9h1v6.7h-1zM494 81.5h1v6.7h-1zM495 81.5h1v6.7h-1zM496 81.5h1v6.7h-1zM498 81.5h1v6.7h-1zM500 81.5h1v6.7h-1zM513 81.5h1v6.7h-1zM522 81.5h1v6.7h-1zM524 81.5h1v6.7h-1zM530 68.2h1v6.7h-1zM340 88.2h1v6.6h-1zM340 94.8h1v6.6h-1zM343 101.4h1v6.6h-1zM348 88.2h1v6.6h-1zM350 101.4h1v6.6h-1zM354 94.8h1v6.6h-1zM356 88.2h1v6.6h-1zM356 94.8h1v6.6h-1zM356 101.4h1v6.6h-1zM358 88.2h1v6.6h-1zM359 88.2h1v6.6h-1zM365 94.8h1v6.6h-1zM369 94.8h1v6.6h-1zM369 101.4h1v6.6h-1zM449 101.4h1v6.6h-1zM453 88.2h1v6.6h-1zM454 88.2h1v6.6h-1zM456 88.2h1v6.6h-1zM456 101.4h1v6.6h-1zM457 94.8h1v6.6h-1zM460 88.2h1v6.6h-1zM460 94.8h1v6.6h-1zM464 101.4h1v6.6h-1zM468 101.4h1v6.6h-1zM504 101.4h1v6.6h-1zM506 88.2h1v6.6h-1zM506 94.8h1v6.6h-1zM506 101.4h1v6.6h-1zM507 88.2h1v6.6h-1zM507 101.4h1v6.6h-1zM508 88.2h1v6.6h-1zM509 94.8h1v6.6h-1zM510 101.4h1v6.6h-1zM512 88.2h1v6.6h-1zM519 94.8h1v6.6h-1zM525 101.4h1v6.6h-1zM526 94.8h1v6.6h-1zM527 101.4h1v6.6h-1zM530 88.2h1v6.6h-1zM530 101.4h1v6.6h-1zM346 108h1v6.7h-1zM346 121.3h1v6.7h-1zM353 121.3h1v6.7h-1zM354 108h1v6.7h-1zM364 108h1v6.7h-1zM364 114.6h1v6.7h-1zM460 121.3h1v6.7h-1zM461 108h1v6.7h-1zM462 121.3h1v6.7h-1zM464 114.6h1v6.7h-1zM466 108h1v6.7h-1zM466 121.3h1v6.7h-1zM467 108h1v6.7h-1zM467 121.3h1v6.7h-1zM469 114.6h1v6.7h-1zM473 108h1v6.7h-1zM473 114.6h1v6.7h-1zM474 108h1v6.7h-1zM502 108h1v6.7h-1zM507 114.6h1v6.7h-1zM508 108h1v6.7h-1zM511 114.6h1v6.7h-1zM511 121.3h1v6.7h-1zM525 108h1v6.7h-1zM526 108h1v6.7h-1zM529 114.6h1v6.7h-1zM268 141.2h1v6.7h-1zM272 134.5h1v6.7h-1zM287 127.9h1v6.7h-1zM289 134.5h1v6.7h-1zM293 127.9h1v6.7h-1zM304 134.5h1v6.7h-1zM305 134.5h1v6.7h-1zM307 127.9h1v6.7h-1zM308 127.9h1v6.7h-1zM308 134.5h1v6.7h-1zM309 134.5h1v6.7h-1zM313 141.2h1v6.7h-1zM314 134.5h1v6.7h-1zM316 127.9h1v6.7h-1zM316 134.5h1v6.7h-1zM316 141.2h1v6.7h-1zM317 127.9h1v6.7h-1zM318 134.5h1v6.7h-1zM318 141.2h1v6.7h-1zM319 127.9h1v6.7h-1zM320 134.5h1v6.7h-1zM322 127.9h1v6.7h-1zM322 141.2h1v6.7h-1zM323 127.9h1v6.7h-1zM323 141.2h1v6.7h-1zM324 134.5h1v6.7h-1zM326 127.9h1v6.7h-1zM327 127.9h1v6.7h-1zM336 127.9h1v6.7h-1zM336 134.5h1v6.7h-1zM345 141.2h1v6.7h-1zM350 134.5h1v6.7h-1zM351 127.9h1v6.7h-1zM353 127.9h1v6.7h-1zM353 141.2h1v6.7h-1zM354 127.9h1v6.7h-1zM356 141.2h1v6.7h-1zM359 127.9h1v6.7h-1zM359 141.2h1v6.7h-1zM363 127.9h1v6.7h-1zM363 141.2h1v6.7h-1zM364 134.5h1v6.7h-1zM365 127.9h1v6.7h-1zM365 141.2h1v6.7h-1zM366 127.9h1v6.7h-1zM366 141.2h1v6.7h-1zM367 127.9h1v6.7h-1zM369 127.9h1v6.7h-1zM370 134.5h1v6.7h-1zM371 134.5h1v6.7h-1zM372 134.5h1v6.7h-1zM374 127.9h1v6.7h-1zM375 127.9h1v6.7h-1zM376 141.2h1v6.7h-1zM377 141.2h1v6.7h-1zM378 134.5h1v6.7h-1zM380 134.5h1v6.7h-1zM381 127.9h1v6.7h-1zM381 134.5h1v6.7h-1zM382 141.2h1v6.7h-1zM385 127.9h1v6.7h-1zM385 134.5h1v6.7h-1zM386 141.2h1v6.7h-1zM389 127.9h1v6.7h-1zM393 141.2h1v6.7h-1zM394 127.9h1v6.7h-1zM394 141.2h1v6.7h-1zM395 141.2h1v6.7h-1zM396 134.5h1v6.7h-1zM397 134.5h1v6.7h-1zM398 127.9h1v6.7h-1zM400 127.9h1v6.7h-1zM403 141.2h1v6.7h-1zM404 141.2h1v6.7h-1zM406 134.5h1v6.7h-1zM408 134.5h1v6.7h-1zM408 141.2h1v6.7h-1zM453 141.2h1v6.7h-1zM238 147.8h1v6.6h-1zM262 147.8h1v6.6h-1zM265 147.8h1v6.6h-1zM265 161h1v6.6h-1zM271 147.8h1v6.6h-1zM271 154.4h1v6.6h-1zM277 154.4h1v6.6h-1zM278 154.4h1v6.6h-1zM287 161h1v6.6h-1zM289 161h1v6.6h-1zM291 161h1v6.6h-1zM292 161h1v6.6h-1zM298 161h1v6.6h-1zM305 154.4h1v6.6h-1zM305 161h1v6.6h-1zM315 147.8h1v6.6h-1zM315 154.4h1v6.6h-1zM327 154.4h1v6.6h-1zM328 147.8h1v6.6h-1zM330 154.4h1v6.6h-1zM332 147.8h1v6.6h-1zM332 161h1v6.6h-1zM334 154.4h1v6.6h-1zM335 154.4h1v6.6h-1zM336 147.8h1v6.6h-1zM346 154.4h1v6.6h-1zM348 147.8h1v6.6h-1zM348 161h1v6.6h-1zM349 147.8h1v6.6h-1zM350 147.8h1v6.6h-1zM400 161h1v6.6h-1zM401 161h1v6.6h-1zM403 161h1v6.6h-1zM406 154.4h1v6.6h-1zM407 147.8h1v6.6h-1zM408 147.8h1v6.6h-1zM408 161h1v6.6h-1zM409 147.8h1v6.6h-1zM410 154.4h1v6.6h-1zM411 154.4h1v6.6h-1zM411 161h1v6.6h-1zM412 154.4h1v6.6h-1zM412 161h1v6.6h-1zM415 154.4h1v6.6h-1zM416 154.4h1v6.6h-1zM416 161h1v6.6h-1zM417 154.4h1v6.6h-1zM417 161h1v6.6h-1zM418 147.8h1v6.6h-1zM418 161h1v6.6h-1zM420 147.8h1v6.6h-1zM421 161h1v6.6h-1zM422 154.4h1v6.6h-1zM423 154.4h1v6.6h-1zM424 147.8h1v6.6h-1zM425 147.8h1v6.6h-1zM425 154.4h1v6.6h-1zM425 161h1v6.6h-1zM430 147.8h1v6.6h-1zM430 154.4h1v6.6h-1zM430 161h1v6.6h-1zM431 154.4h1v6.6h-1zM431 161h1v6.6h-1zM433 161h1v6.6h-1zM435 147.8h1v6.6h-1zM435 161h1v6.6h-1zM442 147.8h1v6.6h-1zM444 154.4h1v6.6h-1z" fill="#fdd9c4" shape-rendering="crispEdges"/>
<path d="M357 54.9h1v6.7h-1zM357 61.5h1v6.7h-1zM358 61.5h1v6.7h-1zM359 61.5h1v6.7h-1zM360 61.5h1v6.7h-1zM363 61.5h1v6.7h-1zM367 54.9h1v6.7h-1zM367 61.5h1v6.7h-1zM368 61.5h1v6.7h-1zM371 48.2h1v6.7h-1zM371 61.5h1v6.7h-1zM372 54.9h1v6.7h-1zM373 54.9h1v6.7h-1zM380 61.5h1v6.7h-1zM382 48.2h1v6.7h-1zM382 54.9h1v6.7h-1zM384 54.9h1v6.7h-1zM386 54.9h1v6.7h-1zM388 48.2h1v6.7h-1zM388 54.9h1v6.7h-1zM389 54.9h1v6.7h-1zM390 54.9h1v6.7h-1zM393 54.9h1v6.7h-1zM395 48.2h1v6.7h-1zM397 54.9h1v6.7h-1zM399 54.9h1v6.7h-1zM400 48.2h1v6.7h-1zM402 61.5h1v6.7h-1zM403 61.5h1v6.7h-1zM404 61.5h1v6.7h-1zM407 54.9h1v6.7h-1zM407 61.5h1v6.7h-1zM422 61.5h1v6.7h-1zM426 61.5h1v6.7h-1zM433 61.5h1v6.7h-1zM445 48.2h1v6.7h-1zM446 48.2h1v6.7h-1zM446 61.5h1v6.7h-1zM448 54.9h1v6.7h-1zM448 61.5h1v6.7h-1zM449 54.9h1v6.7h-1zM450 54.9h1v6.7h-1zM451 54.9h1v6.7h-1zM451 61.5h1v6.7h-1zM452 54.9h1v6.7h-1zM453 61.5h1v6.7h-1zM454 54.9h1v6.7h-1zM454 61.5h1v6.7h-1zM455 54.9h1v6.7h-1zM455 61.5h1v6.7h-1zM456 54.9h1v6.7h-1zM457 54.9h1v6.7h-1zM457 61.5h1v6.7h-1zM458 61.5h1v6.7h-1zM459 54.9h1v6.7h-1zM462 48.2h1v6.7h-1zM463 61.5h1v6.7h-1zM464 48.2h1v6.7h-1zM464 54.9h1v6.7h-1zM465 48.2h1v6.7h-1zM465 54.9h1v6.7h-1zM466 48.2h1v6.7h-1zM466 54.9h1v6.7h-1zM467 48.2h1v6.7h-1zM471 48.2h1v6.7h-1zM471 54.9h1v6.7h-1zM499 48.2h1v6.7h-1zM499 54.9h1v6.7h-1zM239 68.2h1v6.7h-1zM242 68.2h1v6.7h-1zM242 81.5h1v6.7h-1zM243 68.2h1v6.7h-1zM244 74.9h1v6.7h-1zM245 74.9h1v6.7h-1zM245 81.5h1v6.7h-1zM246 81.5h1v6.7h-1zM248 68.2h1v6.7h-1zM357 68.2h1v6.7h-1zM358 81.5h1v6.7h-1zM361 74.9h1v6.7h-1zM362 74.9h1v6.7h-1zM362 81.5h1v6.7h-1zM366 81.5h1v6.7h-1zM377 68.2h1v6.7h-1zM380 68.2h1v6.7h-1zM380 74.9h1v6.7h-1zM383 68.2h1v6.7h-1zM384 81.5h1v6.7h-1zM385 81.5h1v6.7h-1zM388 81.5h1v6.7h-1zM389 74.9h1v6.7h-1zM390 68.2h1v6.7h-1zM399 81.5h1v6.7h-1zM406 68.2h1v6.7h-1zM416 81.5h1v6.7h-1zM423 74.9h1v6.7h-1zM423 81.5h1v6.7h-1zM445 68.2h1v6.7h-1zM445 74.9h1v6.7h-1zM445 81.5h1v6.7h-1zM446 68.2h1v6.7h-1zM446 81.5h1v6.7h-1zM447 68.2h1v6.7h-1zM448 68.2h1v6.7h-1zM449 68.2h1v6.7h-1zM451 68.2h1v6.7h-1zM452 68.2h1v6.7h-1zM453 81.5h1v6.7h-1zM454 74.9h1v6.7h-1zM455 81.5h1v6.7h-1zM456 74.9h1v6.7h-1zM457 74.9h1v6.7h-1zM460 81.5h1v6.7h-1zM462 81.5h1v6.7h-1zM463 81.5h1v6.7h-1zM464 74.9h1v6.7h-1zM473 74.9h1v6.7h-1zM475 68.2h1v6.7h-1zM476 74.9h1v6.7h-1zM479 68.2h1v6.7h-1zM479 74.9h1v6.7h-1zM480 68.2h1v6.7h-1zM480 74.9h1v6.7h-1zM480 81.5h1v6.7h-1zM482 74.9h1v6.7h-1zM482 81.5h1v6.7h-1zM484 81.5h1v6.7h-1zM488 68.2h1v6.7h-1zM488 74.9h1v6.7h-1zM494 68.2h1v6.7h-1zM495 68.2h1v6.7h-1zM495 74.9h1v6.7h-1zM499 68.2h1v6.7h-1zM502 81.5h1v6.7h-1zM512 74.9h1v6.7h-1zM512 81.5h1v6.7h-1zM513 68.2h1v6.7h-1zM515 68.2h1v6.7h-1zM518 81.5h1v6.7h-1zM520 68.2h1v6.7h-1zM520 81.5h1v6.7h-1zM521 68.2h1v6.7h-1zM525 68.2h1v6.7h-1zM525 81.5h1v6.7h-1zM529 74.9h1v6.7h-1zM529 81.5h1v6.7h-1zM530 81.5h1v6.7h-1zM531 81.5h1v6.7h-1zM336 88.2h1v6.6h-1zM336 101.4h1v6.6h-1zM339 88.2h1v6.6h-1zM346 88.2h1v6.6h-1zM346 101.4h1v6.6h-1zM347 101.4h1v6.6h-1zM352 88.2h1v6.6h-1zM352 94.8h1v6.6h-1zM353 94.8h1v6.6h-1zM353 101.4h1v6.6h-1zM357 88.2h1v6.6h-1zM357 94.8h1v6.6h-1zM358 101.4h1v6.6h-1zM359 101.4h1v6.6h-1zM360 101.4h1v6.6h-1zM361 94.8h1v6.6h-1zM362 94.8h1v6.6h-1zM363 94.8h1v6.6h-1zM364 88.2h1v6.6h-1zM364 94.8h1v6.6h-1zM365 88.2h1v6.6h-1zM367 94.8h1v6.6h-1zM368 101.4h1v6.6h-1zM445 94.8h1v6.6h-1zM446 88.2h1v6.6h-1zM449 88.2h1v6.6h-1zM450 101.4h1v6.6h-1zM451 88.2h1v6.6h-1zM452 88.2h1v6.6h-1zM452 94.8h1v6.6h-1zM452 101.4h1v6.6h-1zM454 101.4h1v6.6h-1zM458 88.2h1v6.6h-1zM458 101.4h1v6.6h-1zM459 88.2h1v6.6h-1zM459 94.8h1v6.6h-1zM460 101.4h1v6.6h-1zM461 101.4h1v6.6h-1zM463 88.2h1v6.6h-1zM463 94.8h1v6.6h-1zM463 101.4h1v6.6h-1zM464 94.8h1v6.6h-1zM465 94.8h1v6.6h-1zM466 88.2h1v6.6h-1zM466 94.8h1v6.6h-1zM467 88.2h1v6.6h-1zM468 94.8h1v6.6h-1zM469 94.8h1v6.6h-1zM469 101.4h1v6.6h-1zM470 94.8h1v6.6h-1zM470 101.4h1v6.6h-1zM471 88.2h1v6.6h-1zM471 101.4h1v6.6h-1zM531 88.2h1v6.6h-1zM272 114.6h1v6.7h-1zM273 114.6h1v6.7h-1zM336 108h1v6.7h-1zM337 108h1v6.7h-1zM338 121.3h1v6.7h-1zM339 121.3h1v6.7h-1zM344 108h1v6.7h-1zM344 114.6h1v6.7h-1zM344 121.3h1v6.7h-1zM345 121.3h1v6.7h-1zM350 108h1v6.7h-1zM350 114.6h1v6.7h-1zM351 108h1v6.7h-1zM352 108h1v6.7h-1zM355 121.3h1v6.7h-1zM356 114.6h1v6.7h-1zM356 121.3h1v6.7h-1zM357 114.6h1v6.7h-1zM357 121.3h1v6.7h-1zM358 121.3h1v6.7h-1zM359 108h1v6.7h-1zM359 114.6h1v6.7h-1zM455 114.6h1v6.7h-1zM461 121.3h1v6.7h-1zM463 114.6h1v6.7h-1zM465 114.6h1v6.7h-1zM466 114.6h1v6.7h-1zM468 114.6h1v6.7h-1zM469 121.3h1v6.7h-1zM471 108h1v6.7h-1zM472 114.6h1v6.7h-1zM474 114.6h1v6.7h-1zM476 121.3h1v6.7h-1zM477 108h1v6.7h-1zM480 121.3h1v6.7h-1zM481 121.3h1v6.7h-1zM482 121.3h1v6.7h-1zM483 121.3h1v6.7h-1zM484 121.3h1v6.7h-1zM491 108h1v6.7h-1zM492 108h1v6.7h-1zM496 121.3h1v6.7h-1zM498 121.3h1v6.7h-1zM499 121.3h1v6.7h-1zM505 108h1v6.7h-1zM515 114.6h1v6.7h-1zM516 108h1v6.7h-1zM516 114.6h1v6.7h-1zM516 121.3h1v6.7h-1zM517 121.3h1v6.7h-1zM519 121.3h1v6.7h-1zM520 108h1v6.7h-1zM520 121.3h1v6.7h-1zM521 114.6h1v6.7h-1zM524 108h1v6.7h-1zM525 114.6h1v6.7h-1zM527 121.3h1v6.7h-1zM256 127.9h1v6.7h-1zM256 141.2h1v6.7h-1zM257 141.2h1v6.7h-1zM261 141.2h1v6.7h-1zM269 134.5h1v6.7h-1zM285 127.9h1v6.7h-1zM285 141.2h1v6.7h-1zM286 134.5h1v6.7h-1zM292 134.5h1v6.7h-1zM317 141.2h1v6.7h-1zM321 127.9h1v6.7h-1zM321 134.5h1v6.7h-1zM321 141.2h1v6.7h-1zM328 134.5h1v6.7h-1zM336 141.2h1v6.7h-1zM342 134.5h1v6.7h-1zM344 127.9h1v6.7h-1zM345 134.5h1v6.7h-1zM347 134.5h1v6.7h-1zM355 127.9h1v6.7h-1zM355 141.2h1v6.7h-1zM357 127.9h1v6.7h-1zM358 127.9h1v6.7h-1zM358 134.5h1v6.7h-1zM370 127.9h1v6.7h-1zM371 127.9h1v6.7h-1zM372 141.2h1v6.7h-1zM378 127.9h1v6.7h-1zM379 127.9h1v6.7h-1zM379 141.2h1v6.7h-1zM380 141.2h1v6.7h-1zM381 141.2h1v6.7h-1zM392 134.5h1v6.7h-1zM393 134.5h1v6.7h-1zM397 141.2h1v6.7h-1zM399 134.5h1v6.7h-1zM411 127.9h1v6.7h-1zM411 141.2h1v6.7h-1zM425 134.5h1v6.7h-1zM440 127.9h1v6.7h-1zM451 141.2h1v6.7h-1zM452 127.9h1v6.7h-1zM453 127.9h1v6.7h-1zM244 147.8h1v6.6h-1zM244 154.4h1v6.6h-1zM244 161h1v6.6h-1zM248 147.8h1v6.6h-1zM248 154.4h1v6.6h-1zM248 161h1v6.6h-1zM264 147.8h1v6.6h-1zM306 147.8h1v6.6h-1zM306 161h1v6.6h-1zM315 161h1v6.6h-1zM316 147.8h1v6.6h-1zM316 161h1v6.6h-1zM322 161h1v6.6h-1zM369 147.8h1v6.6h-1zM403 154.4h1v6.6h-1zM405 154.4h1v6.6h-1zM422 161h1v6.6h-1zM426 147.8h1v6.6h-1zM427 147.8h1v6.6h-1zM427 154.4h1v6.6h-1zM429 147.8h1v6.6h-1zM437 154.4h1v6.6h-1zM438 147.8h1v6.6h-1zM438 161h1v6.6h-1zM439 147.8h1v6.6h-1zM439 154.4h1v6.6h-1zM439 161h1v6.6h-1zM440 161h1v6.6h-1zM443 161h1v6.6h-1zM444 161h1v6.6h-1z" fill="#fbe6d9" shape-rendering="crispEdges"/>
<path d="M358 48.2h1v6.7h-1zM359 48.2h1v6.7h-1zM364 48.2h1v6.7h-1zM365 48.2h1v6.7h-1zM365 54.9h1v6.7h-1zM366 48.2h1v6.7h-1zM367 48.2h1v6.7h-1zM372 48.2h1v6.7h-1zM382 61.5h1v6.7h-1zM384 61.5h1v6.7h-1zM391 48.2h1v6.7h-1zM391 54.9h1v6.7h-1zM392 48.2h1v6.7h-1zM392 54.9h1v6.7h-1zM392 61.5h1v6.7h-1zM405 48.2h1v6.7h-1zM406 48.2h1v6.7h-1zM408 48.2h1v6.7h-1zM409 48.2h1v6.7h-1zM410 54.9h1v6.7h-1zM410 61.5h1v6.7h-1zM412 61.5h1v6.7h-1zM414 61.5h1v6.7h-1zM415 61.5h1v6.7h-1zM420 48.2h1v6.7h-1zM421 54.9h1v6.7h-1zM422 54.9h1v6.7h-1zM424 54.9h1v6.7h-1zM426 48.2h1v6.7h-1zM427 48.2h1v6.7h-1zM428 48.2h1v6.7h-1zM431 61.5h1v6.7h-1zM433 54.9h1v6.7h-1zM435 48.2h1v6.7h-1zM435 54.9h1v6.7h-1zM436 54.9h1v6.7h-1zM436 61.5h1v6.7h-1zM439 54.9h1v6.7h-1zM440 61.5h1v6.7h-1zM443 54.9h1v6.7h-1zM444 48.2h1v6.7h-1zM453 48.2h1v6.7h-1zM455 48.2h1v6.7h-1zM456 48.2h1v6.7h-1zM458 48.2h1v6.7h-1zM459 48.2h1v6.7h-1zM468 54.9h1v6.7h-1zM468 61.5h1v6.7h-1zM469 54.9h1v6.7h-1zM470 54.9h1v6.7h-1zM363 68.2h1v6.7h-1zM364 68.2h1v6.7h-1zM371 74.9h1v6.7h-1zM374 74.9h1v6.7h-1zM375 74.9h1v6.7h-1zM390 81.5h1v6.7h-1zM392 68.2h1v6.7h-1zM393 81.5h1v6.7h-1zM396 81.5h1v6.7h-1zM397 68.2h1v6.7h-1zM397 81.5h1v6.7h-1zM399 74.9h1v6.7h-1zM400 74.9h1v6.7h-1zM401 74.9h1v6.7h-1zM402 74.9h1v6.7h-1zM405 74.9h1v6.7h-1zM406 74.9h1v6.7h-1zM489 68.2h1v6.7h-1zM489 74.9h1v6.7h-1zM490 74.9h1v6.7h-1zM499 81.5h1v6.7h-1zM339 101.4h1v6.6h-1zM342 94.8h1v6.6h-1zM342 101.4h1v6.6h-1zM344 101.4h1v6.6h-1zM345 94.8h1v6.6h-1zM349 88.2h1v6.6h-1zM349 101.4h1v6.6h-1zM354 101.4h1v6.6h-1zM355 101.4h1v6.6h-1zM361 88.2h1v6.6h-1zM362 88.2h1v6.6h-1zM446 101.4h1v6.6h-1zM448 101.4h1v6.6h-1zM455 88.2h1v6.6h-1zM456 94.8h1v6.6h-1zM457 88.2h1v6.6h-1zM466 101.4h1v6.6h-1zM467 101.4h1v6.6h-1zM501 88.2h1v6.6h-1zM503 94.8h1v6.6h-1zM507 94.8h1v6.6h-1zM508 94.8h1v6.6h-1zM511 88.2h1v6.6h-1zM513 88.2h1v6.6h-1zM514 88.2h1v6.6h-1zM514 101.4h1v6.6h-1zM516 88.2h1v6.6h-1zM516 94.8h1v6.6h-1zM517 94.8h1v6.6h-1zM519 101.4h1v6.6h-1zM520 94.8h1v6.6h-1zM521 94.8h1v6.6h-1zM524 101.4h1v6.6h-1zM527 88.2h1v6.6h-1zM346 114.6h1v6.7h-1zM347 108h1v6.7h-1zM353 108h1v6.7h-1zM462 108h1v6.7h-1zM463 108h1v6.7h-1zM463 121.3h1v6.7h-1zM469 108h1v6.7h-1zM502 114.6h1v6.7h-1zM505 121.3h1v6.7h-1zM506 114.6h1v6.7h-1zM507 121.3h1v6.7h-1zM508 114.6h1v6.7h-1zM509 114.6h1v6.7h-1zM509 121.3h1v6.7h-1zM510 121.3h1v6.7h-1zM512 114.6h1v6.7h-1zM512 121.3h1v6.7h-1zM513 108h1v6.7h-1zM513 121.3h1v6.7h-1zM514 108h1v6.7h-1zM527 108h1v6.7h-1zM528 108h1v6.7h-1zM264 134.5h1v6.7h-1zM272 127.9h1v6.7h-1zM272 141.2h1v6.7h-1zM276 127.9h1v6.7h-1zM277 127.9h1v6.7h-1zM278 127.9h1v6.7h-1zM282 127.9h1v6.7h-1zM286 127.9h1v6.7h-1zM286 141.2h1v6.7h-1zM293 141.2h1v6.7h-1zM298 127.9h1v6.7h-1zM299 127.9h1v6.7h-1zM300 127.9h1v6.7h-1zM301 127.9h1v6.7h-1zM302 127.9h1v6.7h-1zM303 127.9h1v6.7h-1zM303 134.5h1v6.7h-1zM305 127.9h1v6.7h-1zM305 141.2h1v6.7h-1zM306 134.5h1v6.7h-1zM309 127.9h1v6.7h-1zM310 134.5h1v6.7h-1zM310 141.2h1v6.7h-1zM313 134.5h1v6.7h-1zM314 127.9h1v6.7h-1zM320 127.9h1v6.7h-1zM320 141.2h1v6.7h-1zM324 127.9h1v6.7h-1zM327 141.2h1v6.7h-1zM329 141.2h1v6.7h-1zM331 141.2h1v6.7h-1zM332 141.2h1v6.7h-1zM334 141.2h1v6.7h-1zM335 141.2h1v6.7h-1zM346 127.9h1v6.7h-1zM346 134.5h1v6.7h-1zM346 141.2h1v6.7h-1zM350 141.2h1v6.7h-1zM351 134.5h1v6.7h-1zM351 141.2h1v6.7h-1zM354 141.2h1v6.7h-1zM355 134.5h1v6.7h-1zM356 134.5h1v6.7h-1zM359 134.5h1v6.7h-1zM363 134.5h1v6.7h-1zM365 134.5h1v6.7h-1zM367 141.2h1v6.7h-1zM368 127.9h1v6.7h-1zM373 127.9h1v6.7h-1zM374 134.5h1v6.7h-1zM374 141.2h1v6.7h-1zM375 141.2h1v6.7h-1zM377 134.5h1v6.7h-1zM382 134.5h1v6.7h-1zM383 141.2h1v6.7h-1zM386 127.9h1v6.7h-1zM386 134.5h1v6.7h-1zM387 127.9h1v6.7h-1zM387 141.2h1v6.7h-1zM389 134.5h1v6.7h-1zM390 127.9h1v6.7h-1zM392 127.9h1v6.7h-1zM392 141.2h1v6.7h-1zM393 127.9h1v6.7h-1zM395 127.9h1v6.7h-1zM396 127.9h1v6.7h-1zM398 134.5h1v6.7h-1zM402 134.5h1v6.7h-1zM403 127.9h1v6.7h-1zM403 134.5h1v6.7h-1zM404 134.5h1v6.7h-1zM406 141.2h1v6.7h-1zM408 127.9h1v6.7h-1zM438 134.5h1v6.7h-1zM439 127.9h1v6.7h-1zM439 141.2h1v6.7h-1zM245 147.8h1v6.6h-1zM260 147.8h1v6.6h-1zM261 147.8h1v6.6h-1zM263 147.8h1v6.6h-1zM264 154.4h1v6.6h-1zM265 154.4h1v6.6h-1zM266 147.8h1v6.6h-1zM271 161h1v6.6h-1zM272 147.8h1v6.6h-1zM272 161h1v6.6h-1zM273 147.8h1v6.6h-1zM273 161h1v6.6h-1zM275 161h1v6.6h-1zM276 154.4h1v6.6h-1zM276 161h1v6.6h-1zM279 154.4h1v6.6h-1zM279 161h1v6.6h-1zM280 161h1v6.6h-1zM281 161h1v6.6h-1zM285 154.4h1v6.6h-1zM285 161h1v6.6h-1zM286 161h1v6.6h-1zM287 154.4h1v6.6h-1zM288 147.8h1v6.6h-1zM292 147.8h1v6.6h-1zM293 161h1v6.6h-1zM294 161h1v6.6h-1zM296 161h1v6.6h-1zM297 147.8h1v6.6h-1zM297 161h1v6.6h-1zM298 147.8h1v6.6h-1zM299 147.8h1v6.6h-1zM299 161h1v6.6h-1zM301 147.8h1v6.6h-1zM301 161h1v6.6h-1zM304 147.8h1v6.6h-1zM304 161h1v6.6h-1zM307 147.8h1v6.6h-1zM307 154.4h1v6.6h-1zM316 154.4h1v6.6h-1zM323 147.8h1v6.6h-1zM323 154.4h1v6.6h-1zM324 147.8h1v6.6h-1zM325 147.8h1v6.6h-1zM326 147.8h1v6.6h-1zM328 154.4h1v6.6h-1zM329 147.8h1v6.6h-1zM329 154.4h1v6.6h-1zM331 147.8h1v6.6h-1zM333 154.4h1v6.6h-1zM335 161h1v6.6h-1zM337 161h1v6.6h-1zM342 154.4h1v6.6h-1zM342 161h1v6.6h-1zM343 154.4h1v6.6h-1zM347 147.8h1v6.6h-1zM347 154.4h1v6.6h-1zM350 154.4h1v6.6h-1zM355 161h1v6.6h-1zM400 147.8h1v6.6h-1zM402 147.8h1v6.6h-1zM402 154.4h1v6.6h-1zM404 161h1v6.6h-1zM405 161h1v6.6h-1zM406 147.8h1v6.6h-1zM407 161h1v6.6h-1zM410 161h1v6.6h-1zM412 147.8h1v6.6h-1zM414 147.8h1v6.6h-1zM415 147.8h1v6.6h-1zM416 147.8h1v6.6h-1zM418 154.4h1v6.6h-1zM420 154.4h1v6.6h-1zM420 161h1v6.6h-1zM421 154.4h1v6.6h-1zM424 154.4h1v6.6h-1zM424 161h1v6.6h-1zM443 147.8h1v6.6h-1zM444 147.8h1v6.6h-1z" fill="#fbceb6" shape-rendering="crispEdges"/>
<path d="M358 54.9h1v6.7h-1zM361 48.2h1v6.7h-1zM361 54.9h1v6.7h-1zM362 48.2h1v6.7h-1zM362 54.9h1v6.7h-1zM364 54.9h1v6.7h-1zM365 61.5h1v6.7h-1zM369 48.2h1v6.7h-1zM370 48.2h1v6.7h-1zM373 61.5h1v6.7h-1zM374 48.2h1v6.7h-1zM374 54.9h1v6.7h-1zM374 61.5h1v6.7h-1zM375 48.2h1v6.7h-1zM375 61.5h1v6.7h-1zM377 54.9h1v6.7h-1zM377 61.5h1v6.7h-1zM385 61.5h1v6.7h-1zM388 61.5h1v6.7h-1zM389 61.5h1v6.7h-1zM390 48.2h1v6.7h-1zM395 61.5h1v6.7h-1zM397 48.2h1v6.7h-1zM401 61.5h1v6.7h-1zM403 48.2h1v6.7h-1zM405 61.5h1v6.7h-1zM406 61.5h1v6.7h-1zM408 54.9h1v6.7h-1zM408 61.5h1v6.7h-1zM409 54.9h1v6.7h-1zM416 48.2h1v6.7h-1zM416 61.5h1v6.7h-1zM420 61.5h1v6.7h-1zM423 61.5h1v6.7h-1zM426 54.9h1v6.7h-1zM427 61.5h1v6.7h-1zM433 48.2h1v6.7h-1zM437 48.2h1v6.7h-1zM437 61.5h1v6.7h-1zM443 61.5h1v6.7h-1zM444 61.5h1v6.7h-1zM446 54.9h1v6.7h-1zM447 48.2h1v6.7h-1zM447 54.9h1v6.7h-1zM447 61.5h1v6.7h-1zM448 48.2h1v6.7h-1zM449 48.2h1v6.7h-1zM449 61.5h1v6.7h-1zM450 48.2h1v6.7h-1zM450 61.5h1v6.7h-1zM451 48.2h1v6.7h-1zM452 48.2h1v6.7h-1zM452 61.5h1v6.7h-1zM453 54.9h1v6.7h-1zM458 54.9h1v6.7h-1zM460 48.2h1v6.7h-1zM461 48.2h1v6.7h-1zM463 48.2h1v6.7h-1zM465 61.5h1v6.7h-1zM466 61.5h1v6.7h-1zM467 54.9h1v6.7h-1zM469 61.5h1v6.7h-1zM470 61.5h1v6.7h-1zM499 61.5h1v6.7h-1zM238 68.2h1v6.7h-1zM238 74.9h1v6.7h-1zM242 74.9h1v6.7h-1zM243 74.9h1v6.7h-1zM244 81.5h1v6.7h-1zM246 74.9h1v6.7h-1zM247 74.9h1v6.7h-1zM248 74.9h1v6.7h-1zM248 81.5h1v6.7h-1zM363 74.9h1v6.7h-1zM363 81.5h1v6.7h-1zM364 74.9h1v6.7h-1zM364 81.5h1v6.7h-1zM366 74.9h1v6.7h-1zM373 74.9h1v6.7h-1zM376 68.2h1v6.7h-1zM376 74.9h1v6.7h-1zM377 74.9h1v6.7h-1zM378 74.9h1v6.7h-1zM382 74.9h1v6.7h-1zM383 74.9h1v6.7h-1zM384 74.9h1v6.7h-1zM389 81.5h1v6.7h-1zM398 81.5h1v6.7h-1zM401 68.2h1v6.7h-1zM401 81.5h1v6.7h-1zM402 68.2h1v6.7h-1zM402 81.5h1v6.7h-1zM403 68.2h1v6.7h-1zM403 81.5h1v6.7h-1zM404 81.5h1v6.7h-1zM453 68.2h1v6.7h-1zM453 74.9h1v6.7h-1zM454 68.2h1v6.7h-1zM455 68.2h1v6.7h-1zM455 74.9h1v6.7h-1zM456 68.2h1v6.7h-1zM457 68.2h1v6.7h-1zM457 81.5h1v6.7h-1zM458 81.5h1v6.7h-1zM464 81.5h1v6.7h-1zM481 68.2h1v6.7h-1zM481 81.5h1v6.7h-1zM482 68.2h1v6.7h-1zM485 68.2h1v6.7h-1zM486 81.5h1v6.7h-1zM487 68.2h1v6.7h-1zM491 68.2h1v6.7h-1zM493 81.5h1v6.7h-1zM494 74.9h1v6.7h-1zM496 68.2h1v6.7h-1zM497 68.2h1v6.7h-1zM497 81.5h1v6.7h-1zM498 68.2h1v6.7h-1zM501 81.5h1v6.7h-1zM513 74.9h1v6.7h-1zM514 81.5h1v6.7h-1zM515 74.9h1v6.7h-1zM515 81.5h1v6.7h-1zM521 81.5h1v6.7h-1zM522 68.2h1v6.7h-1zM524 68.2h1v6.7h-1zM529 68.2h1v6.7h-1zM530 74.9h1v6.7h-1zM531 68.2h1v6.7h-1zM531 74.9h1v6.7h-1zM338 101.4h1v6.6h-1zM341 88.2h1v6.6h-1zM341 94.8h1v6.6h-1zM342 88.2h1v6.6h-1zM344 88.2h1v6.6h-1zM345 101.4h1v6.6h-1zM347 88.2h1v6.6h-1zM348 101.4h1v6.6h-1zM354 88.2h1v6.6h-1zM355 88.2h1v6.6h-1zM355 94.8h1v6.6h-1zM358 94.8h1v6.6h-1zM359 94.8h1v6.6h-1zM360 94.8h1v6.6h-1zM363 88.2h1v6.6h-1zM368 94.8h1v6.6h-1zM445 101.4h1v6.6h-1zM446 94.8h1v6.6h-1zM447 88.2h1v6.6h-1zM447 94.8h1v6.6h-1zM448 88.2h1v6.6h-1zM448 94.8h1v6.6h-1zM451 94.8h1v6.6h-1zM451 101.4h1v6.6h-1zM453 94.8h1v6.6h-1zM453 101.4h1v6.6h-1zM454 94.8h1v6.6h-1zM457 101.4h1v6.6h-1zM461 88.2h1v6.6h-1zM461 94.8h1v6.6h-1zM462 88.2h1v6.6h-1zM462 94.8h1v6.6h-1zM462 101.4h1v6.6h-1zM465 101.4h1v6.6h-1zM467 94.8h1v6.6h-1zM471 94.8h1v6.6h-1zM504 88.2h1v6.6h-1zM504 94.8h1v6.6h-1zM505 88.2h1v6.6h-1zM505 94.8h1v6.6h-1zM505 101.4h1v6.6h-1zM508 101.4h1v6.6h-1zM509 88.2h1v6.6h-1zM509 101.4h1v6.6h-1zM510 88.2h1v6.6h-1zM526 88.2h1v6.6h-1zM531 101.4h1v6.6h-1zM236 108h1v6.7h-1zM236 114.6h1v6.7h-1zM236 121.3h1v6.7h-1zM336 121.3h1v6.7h-1zM337 121.3h1v6.7h-1zM350 121.3h1v6.7h-1zM351 121.3h1v6.7h-1zM352 114.6h1v6.7h-1zM352 121.3h1v6.7h-1zM353 114.6h1v6.7h-1zM354 114.6h1v6.7h-1zM354 121.3h1v6.7h-1zM355 108h1v6.7h-1zM355 114.6h1v6.7h-1zM356 108h1v6.7h-1zM358 114.6h1v6.7h-1zM359 121.3h1v6.7h-1zM460 114.6h1v6.7h-1zM467 114.6h1v6.7h-1zM468 108h1v6.7h-1zM468 121.3h1v6.7h-1zM472 108h1v6.7h-1zM475 108h1v6.7h-1zM475 114.6h1v6.7h-1zM476 108h1v6.7h-1zM476 114.6h1v6.7h-1zM477 114.6h1v6.7h-1zM477 121.3h1v6.7h-1zM500 114.6h1v6.7h-1zM505 114.6h1v6.7h-1zM506 108h1v6.7h-1zM507 108h1v6.7h-1zM509 108h1v6.7h-1zM510 108h1v6.7h-1zM511 108h1v6.7h-1zM512 108h1v6.7h-1zM517 108h1v6.7h-1zM517 114.6h1v6.7h-1zM518 108h1v6.7h-1zM518 114.6h1v6.7h-1zM518 121.3h1v6.7h-1zM519 108h1v6.7h-1zM519 114.6h1v6.7h-1zM521 108h1v6.7h-1zM521 121.3h1v6.7h-1zM527 114.6h1v6.7h-1zM528 114.6h1v6.7h-1zM529 108h1v6.7h-1zM267 134.5h1v6.7h-1zM267 141.2h1v6.7h-1zM268 134.5h1v6.7h-1zM269 141.2h1v6.7h-1zM270 134.5h1v6.7h-1zM270 141.2h1v6.7h-1zM271 134.5h1v6.7h-1zM271 141.2h1v6.7h-1zM287 141.2h1v6.7h-1zM307 134.5h1v6.7h-1zM307 141.2h1v6.7h-1zM308 141.2h1v6.7h-1zM309 141.2h1v6.7h-1zM314 141.2h1v6.7h-1zM315 127.9h1v6.7h-1zM315 134.5h1v6.7h-1zM315 141.2h1v6.7h-1zM317 134.5h1v6.7h-1zM318 127.9h1v6.7h-1zM319 134.5h1v6.7h-1zM319 141.2h1v6.7h-1zM322 134.5h1v6.7h-1zM323 134.5h1v6.7h-1zM342 127.9h1v6.7h-1zM342 141.2h1v6.7h-1zM344 141.2h1v6.7h-1zM345 127.9h1v6.7h-1zM347 127.9h1v6.7h-1zM347 141.2h1v6.7h-1zM348 141.2h1v6.7h-1zM350 127.9h1v6.7h-1zM356 127.9h1v6.7h-1zM357 134.5h1v6.7h-1zM364 127.9h1v6.7h-1zM364 141.2h1v6.7h-1zM369 141.2h1v6.7h-1zM372 127.9h1v6.7h-1zM376 127.9h1v6.7h-1zM377 127.9h1v6.7h-1zM378 141.2h1v6.7h-1zM379 134.5h1v6.7h-1zM380 127.9h1v6.7h-1zM385 141.2h1v6.7h-1zM390 134.5h1v6.7h-1zM394 134.5h1v6.7h-1zM395 134.5h1v6.7h-1zM396 141.2h1v6.7h-1zM397 127.9h1v6.7h-1zM398 141.2h1v6.7h-1zM402 127.9h1v6.7h-1zM402 141.2h1v6.7h-1zM411 134.5h1v6.7h-1zM437 134.5h1v6.7h-1zM438 127.9h1v6.7h-1zM440 134.5h1v6.7h-1zM452 141.2h1v6.7h-1zM454 141.2h1v6.7h-1zM238 154.4h1v6.6h-1zM238 161h1v6.6h-1zM264 161h1v6.6h-1zM266 161h1v6.6h-1zM273 154.4h1v6.6h-1zM277 161h1v6.6h-1zM278 161h1v6.6h-1zM288 161h1v6.6h-1zM290 161h1v6.6h-1zM305 147.8h1v6.6h-1zM306 154.4h1v6.6h-1zM307 161h1v6.6h-1zM317 147.8h1v6.6h-1zM317 161h1v6.6h-1zM327 147.8h1v6.6h-1zM331 154.4h1v6.6h-1zM336 154.4h1v6.6h-1zM336 161h1v6.6h-1zM348 154.4h1v6.6h-1zM349 154.4h1v6.6h-1zM401 147.8h1v6.6h-1zM403 147.8h1v6.6h-1zM404 147.8h1v6.6h-1zM404 154.4h1v6.6h-1zM405 147.8h1v6.6h-1zM407 154.4h1v6.6h-1zM409 161h1v6.6h-1zM414 154.4h1v6.6h-1zM414 161h1v6.6h-1zM415 161h1v6.6h-1zM417 147.8h1v6.6h-1zM421 147.8h1v6.6h-1zM423 161h1v6.6h-1zM426 154.4h1v6.6h-1zM426 161h1v6.6h-1zM429 154.4h1v6.6h-1zM429 161h1v6.6h-1zM431 147.8h1v6.6h-1zM433 147.8h1v6.6h-1zM433 154.4h1v6.6h-1zM435 154.4h1v6.6h-1zM437 147.8h1v6.6h-1zM437 161h1v6.6h-1zM440 147.8h1v6.6h-1zM440 154.4h1v6.6h-1zM441 147.8h1v6.6h-1zM442 154.4h1v6.6h-1zM442 161h1v6.6h-1zM443 154.4h1v6.6h-1z" fill="#fce0cf" shape-rendering="crispEdges"/>
<path d="M361 61.5h1v6.7h-1zM362 61.5h1v6.7h-1zM364 61.5h1v6.7h-1zM369 61.5h1v6.7h-1zM370 54.9h1v6.7h-1zM370 61.5h1v6.7h-1zM371 54.9h1v6.7h-1zM376 61.5h1v6.7h-1zM377 48.2h1v6.7h-1zM381 48.2h1v6.7h-1zM381 54.9h1v6.7h-1zM383 54.9h1v6.7h-1zM384 48.2h1v6.7h-1zM386 48.2h1v6.7h-1zM387 54.9h1v6.7h-1zM389 48.2h1v6.7h-1zM394 48.2h1v6.7h-1zM394 54.9h1v6.7h-1zM394 61.5h1v6.7h-1zM395 54.9h1v6.7h-1zM397 61.5h1v6.7h-1zM398 48.2h1v6.7h-1zM398 54.9h1v6.7h-1zM399 48.2h1v6.7h-1zM400 61.5h1v6.7h-1zM421 61.5h1v6.7h-1zM434 48.2h1v6.7h-1zM434 54.9h1v6.7h-1zM445 54.9h1v6.7h-1zM456 61.5h1v6.7h-1zM459 61.5h1v6.7h-1zM462 54.9h1v6.7h-1zM462 61.5h1v6.7h-1zM463 54.9h1v6.7h-1zM464 61.5h1v6.7h-1zM471 61.5h1v6.7h-1zM239 74.9h1v6.7h-1zM240 74.9h1v6.7h-1zM244 68.2h1v6.7h-1zM246 68.2h1v6.7h-1zM247 68.2h1v6.7h-1zM247 81.5h1v6.7h-1zM357 81.5h1v6.7h-1zM359 81.5h1v6.7h-1zM361 81.5h1v6.7h-1zM377 81.5h1v6.7h-1zM379 74.9h1v6.7h-1zM380 81.5h1v6.7h-1zM381 68.2h1v6.7h-1zM383 81.5h1v6.7h-1zM384 68.2h1v6.7h-1zM385 68.2h1v6.7h-1zM385 74.9h1v6.7h-1zM386 74.9h1v6.7h-1zM386 81.5h1v6.7h-1zM387 74.9h1v6.7h-1zM388 74.9h1v6.7h-1zM406 81.5h1v6.7h-1zM421 81.5h1v6.7h-1zM422 74.9h1v6.7h-1zM422 81.5h1v6.7h-1zM424 81.5h1v6.7h-1zM446 74.9h1v6.7h-1zM447 74.9h1v6.7h-1zM447 81.5h1v6.7h-1zM448 74.9h1v6.7h-1zM448 81.5h1v6.7h-1zM454 81.5h1v6.7h-1zM458 68.2h1v6.7h-1zM458 74.9h1v6.7h-1zM461 81.5h1v6.7h-1zM462 68.2h1v6.7h-1zM463 68.2h1v6.7h-1zM463 74.9h1v6.7h-1zM465 68.2h1v6.7h-1zM468 68.2h1v6.7h-1zM469 68.2h1v6.7h-1zM469 74.9h1v6.7h-1zM469 81.5h1v6.7h-1zM471 68.2h1v6.7h-1zM471 74.9h1v6.7h-1zM471 81.5h1v6.7h-1zM473 81.5h1v6.7h-1zM474 81.5h1v6.7h-1zM476 81.5h1v6.7h-1zM479 81.5h1v6.7h-1zM481 74.9h1v6.7h-1zM483 74.9h1v6.7h-1zM484 68.2h1v6.7h-1zM486 68.2h1v6.7h-1zM487 74.9h1v6.7h-1zM496 74.9h1v6.7h-1zM498 74.9h1v6.7h-1zM500 68.2h1v6.7h-1zM503 81.5h1v6.7h-1zM504 81.5h1v6.7h-1zM508 74.9h1v6.7h-1zM509 68.2h1v6.7h-1zM509 74.9h1v6.7h-1zM510 68.2h1v6.7h-1zM510 74.9h1v6.7h-1zM511 68.2h1v6.7h-1zM511 74.9h1v6.7h-1zM512 68.2h1v6.7h-1zM514 68.2h1v6.7h-1zM514 74.9h1v6.7h-1zM516 74.9h1v6.7h-1zM516 81.5h1v6.7h-1zM517 68.2h1v6.7h-1zM517 81.5h1v6.7h-1zM519 81.5h1v6.7h-1zM523 81.5h1v6.7h-1zM526 68.2h1v6.7h-1zM526 81.5h1v6.7h-1zM337 101.4h1v6.6h-1zM339 94.8h1v6.6h-1zM343 88.2h1v6.6h-1zM345 88.2h1v6.6h-1zM351 88.2h1v6.6h-1zM351 94.8h1v6.6h-1zM351 101.4h1v6.6h-1zM352 101.4h1v6.6h-1zM353 88.2h1v6.6h-1zM357 101.4h1v6.6h-1zM364 101.4h1v6.6h-1zM365 101.4h1v6.6h-1zM367 101.4h1v6.6h-1zM369 88.2h1v6.6h-1zM383 101.4h1v6.6h-1zM384 101.4h1v6.6h-1zM445 88.2h1v6.6h-1zM449 94.8h1v6.6h-1zM450 88.2h1v6.6h-1zM450 94.8h1v6.6h-1zM458 94.8h1v6.6h-1zM464 88.2h1v6.6h-1zM465 88.2h1v6.6h-1zM468 88.2h1v6.6h-1zM469 88.2h1v6.6h-1zM470 88.2h1v6.6h-1zM477 101.4h1v6.6h-1zM483 101.4h1v6.6h-1zM500 88.2h1v6.6h-1zM500 94.8h1v6.6h-1zM500 101.4h1v6.6h-1zM518 88.2h1v6.6h-1zM518 94.8h1v6.6h-1zM518 101.4h1v6.6h-1zM526 101.4h1v6.6h-1zM271 114.6h1v6.7h-1zM302 114.6h1v6.7h-1zM303 114.6h1v6.7h-1zM336 114.6h1v6.7h-1zM337 114.6h1v6.7h-1zM338 108h1v6.7h-1zM338 114.6h1v6.7h-1zM339 108h1v6.7h-1zM342 114.6h1v6.7h-1zM343 108h1v6.7h-1zM343 114.6h1v6.7h-1zM343 121.3h1v6.7h-1zM345 108h1v6.7h-1zM345 114.6h1v6.7h-1zM349 108h1v6.7h-1zM349 114.6h1v6.7h-1zM349 121.3h1v6.7h-1zM351 114.6h1v6.7h-1zM357 108h1v6.7h-1zM358 108h1v6.7h-1zM361 114.6h1v6.7h-1zM362 114.6h1v6.7h-1zM362 121.3h1v6.7h-1zM364 121.3h1v6.7h-1zM445 114.6h1v6.7h-1zM450 121.3h1v6.7h-1zM451 121.3h1v6.7h-1zM453 121.3h1v6.7h-1zM454 114.6h1v6.7h-1zM456 114.6h1v6.7h-1zM461 114.6h1v6.7h-1zM462 114.6h1v6.7h-1zM475 121.3h1v6.7h-1zM482 108h1v6.7h-1zM482 114.6h1v6.7h-1zM483 108h1v6.7h-1zM484 108h1v6.7h-1zM486 108h1v6.7h-1zM487 108h1v6.7h-1zM488 108h1v6.7h-1zM493 121.3h1v6.7h-1zM494 108h1v6.7h-1zM494 114.6h1v6.7h-1zM496 108h1v6.7h-1zM500 108h1v6.7h-1zM501 108h1v6.7h-1zM501 114.6h1v6.7h-1zM515 108h1v6.7h-1zM515 121.3h1v6.7h-1zM520 114.6h1v6.7h-1zM522 108h1v6.7h-1zM525 121.3h1v6.7h-1zM526 114.6h1v6.7h-1zM526 121.3h1v6.7h-1zM528 121.3h1v6.7h-1zM529 121.3h1v6.7h-1zM530 108h1v6.7h-1zM530 114.6h1v6.7h-1zM251 141.2h1v6.7h-1zM252 127.9h1v6.7h-1zM252 141.2h1v6.7h-1zM257 127.9h1v6.7h-1zM258 141.2h1v6.7h-1zM261 127.9h1v6.7h-1zM261 134.5h1v6.7h-1zM285 134.5h1v6.7h-1zM287 134.5h1v6.7h-1zM288 127.9h1v6.7h-1zM288 141.2h1v6.7h-1zM292 127.9h1v6.7h-1zM292 141.2h1v6.7h-1zM328 127.9h1v6.7h-1zM328 141.2h1v6.7h-1zM339 127.9h1v6.7h-1zM340 141.2h1v6.7h-1zM343 127.9h1v6.7h-1zM343 141.2h1v6.7h-1zM344 134.5h1v6.7h-1zM348 127.9h1v6.7h-1zM357 141.2h1v6.7h-1zM358 141.2h1v6.7h-1zM371 141.2h1v6.7h-1zM391 127.9h1v6.7h-1zM391 141.2h1v6.7h-1zM399 127.9h1v6.7h-1zM399 141.2h1v6.7h-1zM424 134.5h1v6.7h-1zM432 127.9h1v6.7h-1zM437 141.2h1v6.7h-1zM440 141.2h1v6.7h-1zM441 134.5h1v6.7h-1zM451 127.9h1v6.7h-1zM456 141.2h1v6.7h-1zM459 141.2h1v6.7h-1zM314 147.8h1v6.6h-1zM314 154.4h1v6.6h-1zM322 147.8h1v6.6h-1zM322 154.4h1v6.6h-1zM332 154.4h1v6.6h-1zM365 161h1v6.6h-1zM366 147.8h1v6.6h-1zM367 147.8h1v6.6h-1zM368 147.8h1v6.6h-1zM370 147.8h1v6.6h-1zM408 154.4h1v6.6h-1zM409 154.4h1v6.6h-1zM413 147.8h1v6.6h-1zM419 147.8h1v6.6h-1zM419 154.4h1v6.6h-1zM419 161h1v6.6h-1zM422 147.8h1v6.6h-1zM423 147.8h1v6.6h-1zM427 161h1v6.6h-1zM428 154.4h1v6.6h-1zM428 161h1v6.6h-1zM432 147.8h1v6.6h-1zM432 154.4h1v6.6h-1zM432 161h1v6.6h-1zM436 161h1v6.6h-1zM438 154.4h1v6.6h-1zM441 154.4h1v6.6h-1zM441 161h1v6.6h-1zM515 161h1v6.6h-1z" fill="#faebe3" shape-rendering="crispEdges"/>
<path d="M368 54.9h1v6.7h-1zM369 54.9h1v6.7h-1zM376 48.2h1v6.7h-1zM376 54.9h1v6.7h-1zM378 54.9h1v6.7h-1zM378 61.5h1v6.7h-1zM379 61.5h1v6.7h-1zM380 48.2h1v6.7h-1zM380 54.9h1v6.7h-1zM383 48.2h1v6.7h-1zM387 48.2h1v6.7h-1zM396 48.2h1v6.7h-1zM396 54.9h1v6.7h-1zM396 61.5h1v6.7h-1zM398 61.5h1v6.7h-1zM399 61.5h1v6.7h-1zM434 61.5h1v6.7h-1zM445 61.5h1v6.7h-1zM460 54.9h1v6.7h-1zM461 54.9h1v6.7h-1zM461 61.5h1v6.7h-1zM237 68.2h1v6.7h-1zM240 68.2h1v6.7h-1zM241 74.9h1v6.7h-1zM245 68.2h1v6.7h-1zM249 68.2h1v6.7h-1zM249 74.9h1v6.7h-1zM249 81.5h1v6.7h-1zM305 74.9h1v6.7h-1zM357 74.9h1v6.7h-1zM358 74.9h1v6.7h-1zM365 68.2h1v6.7h-1zM365 74.9h1v6.7h-1zM365 81.5h1v6.7h-1zM378 68.2h1v6.7h-1zM378 81.5h1v6.7h-1zM379 68.2h1v6.7h-1zM379 81.5h1v6.7h-1zM381 74.9h1v6.7h-1zM381 81.5h1v6.7h-1zM382 81.5h1v6.7h-1zM386 68.2h1v6.7h-1zM387 81.5h1v6.7h-1zM410 74.9h1v6.7h-1zM415 81.5h1v6.7h-1zM416 68.2h1v6.7h-1zM416 74.9h1v6.7h-1zM417 81.5h1v6.7h-1zM421 68.2h1v6.7h-1zM421 74.9h1v6.7h-1zM422 68.2h1v6.7h-1zM423 68.2h1v6.7h-1zM424 74.9h1v6.7h-1zM425 74.9h1v6.7h-1zM425 81.5h1v6.7h-1zM428 74.9h1v6.7h-1zM429 74.9h1v6.7h-1zM433 74.9h1v6.7h-1zM449 74.9h1v6.7h-1zM449 81.5h1v6.7h-1zM450 68.2h1v6.7h-1zM450 74.9h1v6.7h-1zM450 81.5h1v6.7h-1zM451 74.9h1v6.7h-1zM451 81.5h1v6.7h-1zM452 74.9h1v6.7h-1zM452 81.5h1v6.7h-1zM459 81.5h1v6.7h-1zM462 74.9h1v6.7h-1zM465 74.9h1v6.7h-1zM468 74.9h1v6.7h-1zM470 68.2h1v6.7h-1zM470 74.9h1v6.7h-1zM470 81.5h1v6.7h-1zM472 74.9h1v6.7h-1zM472 81.5h1v6.7h-1zM473 68.2h1v6.7h-1zM474 68.2h1v6.7h-1zM474 74.9h1v6.7h-1zM476 68.2h1v6.7h-1zM477 68.2h1v6.7h-1zM477 74.9h1v6.7h-1zM477 81.5h1v6.7h-1zM478 68.2h1v6.7h-1zM478 74.9h1v6.7h-1zM478 81.5h1v6.7h-1zM484 74.9h1v6.7h-1zM485 74.9h1v6.7h-1zM492 68.2h1v6.7h-1zM493 68.2h1v6.7h-1zM497 74.9h1v6.7h-1zM507 74.9h1v6.7h-1zM508 68.2h1v6.7h-1zM508 81.5h1v6.7h-1zM509 81.5h1v6.7h-1zM510 81.5h1v6.7h-1zM511 81.5h1v6.7h-1zM516 68.2h1v6.7h-1zM517 74.9h1v6.7h-1zM518 68.2h1v6.7h-1zM519 68.2h1v6.7h-1zM521 74.9h1v6.7h-1zM523 68.2h1v6.7h-1zM524 74.9h1v6.7h-1zM527 68.2h1v6.7h-1zM527 81.5h1v6.7h-1zM528 68.2h1v6.7h-1zM528 74.9h1v6.7h-1zM528 81.5h1v6.7h-1zM328 88.2h1v6.6h-1zM337 88.2h1v6.6h-1zM338 88.2h1v6.6h-1zM362 101.4h1v6.6h-1zM363 101.4h1v6.6h-1zM366 88.2h1v6.6h-1zM366 94.8h1v6.6h-1zM366 101.4h1v6.6h-1zM367 88.2h1v6.6h-1zM383 88.2h1v6.6h-1zM384 88.2h1v6.6h-1zM459 101.4h1v6.6h-1zM475 101.4h1v6.6h-1zM476 101.4h1v6.6h-1zM478 101.4h1v6.6h-1zM481 101.4h1v6.6h-1zM497 94.8h1v6.6h-1zM277 114.6h1v6.7h-1zM277 121.3h1v6.7h-1zM278 121.3h1v6.7h-1zM297 114.6h1v6.7h-1zM298 114.6h1v6.7h-1zM335 121.3h1v6.7h-1zM339 114.6h1v6.7h-1zM341 108h1v6.7h-1zM341 114.6h1v6.7h-1zM341 121.3h1v6.7h-1zM342 108h1v6.7h-1zM342 121.3h1v6.7h-1zM360 108h1v6.7h-1zM360 114.6h1v6.7h-1zM360 121.3h1v6.7h-1zM361 121.3h1v6.7h-1zM362 108h1v6.7h-1zM363 114.6h1v6.7h-1zM448 108h1v6.7h-1zM449 121.3h1v6.7h-1zM450 108h1v6.7h-1zM452 121.3h1v6.7h-1zM453 108h1v6.7h-1zM453 114.6h1v6.7h-1zM454 121.3h1v6.7h-1zM455 108h1v6.7h-1zM455 121.3h1v6.7h-1zM456 108h1v6.7h-1zM457 114.6h1v6.7h-1zM458 108h1v6.7h-1zM458 114.6h1v6.7h-1zM459 108h1v6.7h-1zM470 108h1v6.7h-1zM471 114.6h1v6.7h-1zM473 121.3h1v6.7h-1zM474 121.3h1v6.7h-1zM478 114.6h1v6.7h-1zM478 121.3h1v6.7h-1zM479 121.3h1v6.7h-1zM481 114.6h1v6.7h-1zM483 114.6h1v6.7h-1zM484 114.6h1v6.7h-1zM485 108h1v6.7h-1zM485 121.3h1v6.7h-1zM486 114.6h1v6.7h-1zM489 108h1v6.7h-1zM490 108h1v6.7h-1zM491 114.6h1v6.7h-1zM493 108h1v6.7h-1zM494 121.3h1v6.7h-1zM495 108h1v6.7h-1zM495 114.6h1v6.7h-1zM496 114.6h1v6.7h-1zM497 121.3h1v6.7h-1zM522 121.3h1v6.7h-1zM523 108h1v6.7h-1zM523 114.6h1v6.7h-1zM523 121.3h1v6.7h-1zM524 114.6h1v6.7h-1zM524 121.3h1v6.7h-1zM241 141.2h1v6.7h-1zM242 141.2h1v6.7h-1zM243 141.2h1v6.7h-1zM249 127.9h1v6.7h-1zM249 141.2h1v6.7h-1zM250 127.9h1v6.7h-1zM250 141.2h1v6.7h-1zM251 127.9h1v6.7h-1zM251 134.5h1v6.7h-1zM256 134.5h1v6.7h-1zM257 134.5h1v6.7h-1zM258 127.9h1v6.7h-1zM259 141.2h1v6.7h-1zM260 141.2h1v6.7h-1zM288 134.5h1v6.7h-1zM338 127.9h1v6.7h-1zM340 127.9h1v6.7h-1zM343 134.5h1v6.7h-1zM348 134.5h1v6.7h-1zM349 127.9h1v6.7h-1zM349 134.5h1v6.7h-1zM349 141.2h1v6.7h-1zM370 141.2h1v6.7h-1zM391 134.5h1v6.7h-1zM423 134.5h1v6.7h-1zM424 127.9h1v6.7h-1zM425 127.9h1v6.7h-1zM425 141.2h1v6.7h-1zM426 134.5h1v6.7h-1zM427 127.9h1v6.7h-1zM428 127.9h1v6.7h-1zM432 134.5h1v6.7h-1zM432 141.2h1v6.7h-1zM433 141.2h1v6.7h-1zM437 127.9h1v6.7h-1zM441 127.9h1v6.7h-1zM443 134.5h1v6.7h-1zM445 127.9h1v6.7h-1zM445 134.5h1v6.7h-1zM449 141.2h1v6.7h-1zM450 127.9h1v6.7h-1zM450 141.2h1v6.7h-1zM451 134.5h1v6.7h-1zM452 134.5h1v6.7h-1zM453 134.5h1v6.7h-1zM454 127.9h1v6.7h-1zM454 134.5h1v6.7h-1zM455 141.2h1v6.7h-1zM457 141.2h1v6.7h-1zM459 127.9h1v6.7h-1zM459 134.5h1v6.7h-1zM314 161h1v6.6h-1zM364 161h1v6.6h-1zM365 147.8h1v6.6h-1zM370 154.4h1v6.6h-1zM413 154.4h1v6.6h-1zM413 161h1v6.6h-1zM428 147.8h1v6.6h-1zM434 147.8h1v6.6h-1zM434 154.4h1v6.6h-1zM434 161h1v6.6h-1zM436 147.8h1v6.6h-1zM436 154.4h1v6.6h-1zM513 161h1v6.6h-1zM514 161h1v6.6h-1z" fill="#f8f1ed" shape-rendering="crispEdges"/>
<path d="M378 48.2h1v6.7h-1zM379 48.2h1v6.7h-1zM379 54.9h1v6.7h-1zM385 48.2h1v6.7h-1zM385 54.9h1v6.7h-1zM460 61.5h1v6.7h-1zM507 61.5h1v6.7h-1zM508 61.5h1v6.7h-1zM516 48.2h1v6.7h-1zM526 48.2h1v6.7h-1zM527 48.2h1v6.7h-1zM237 74.9h1v6.7h-1zM238 81.5h1v6.7h-1zM240 81.5h1v6.7h-1zM241 68.2h1v6.7h-1zM241 81.5h1v6.7h-1zM267 81.5h1v6.7h-1zM277 74.9h1v6.7h-1zM291 68.2h1v6.7h-1zM293 68.2h1v6.7h-1zM293 74.9h1v6.7h-1zM304 74.9h1v6.7h-1zM304 81.5h1v6.7h-1zM305 81.5h1v6.7h-1zM306 81.5h1v6.7h-1zM329 74.9h1v6.7h-1zM330 68.2h1v6.7h-1zM356 68.2h1v6.7h-1zM359 74.9h1v6.7h-1zM360 74.9h1v6.7h-1zM360 81.5h1v6.7h-1zM388 68.2h1v6.7h-1zM389 68.2h1v6.7h-1zM409 74.9h1v6.7h-1zM414 81.5h1v6.7h-1zM424 68.2h1v6.7h-1zM426 74.9h1v6.7h-1zM427 74.9h1v6.7h-1zM430 74.9h1v6.7h-1zM431 74.9h1v6.7h-1zM432 74.9h1v6.7h-1zM434 74.9h1v6.7h-1zM435 74.9h1v6.7h-1zM435 81.5h1v6.7h-1zM436 74.9h1v6.7h-1zM436 81.5h1v6.7h-1zM437 68.2h1v6.7h-1zM437 74.9h1v6.7h-1zM437 81.5h1v6.7h-1zM438 68.2h1v6.7h-1zM438 81.5h1v6.7h-1zM459 68.2h1v6.7h-1zM459 74.9h1v6.7h-1zM460 68.2h1v6.7h-1zM460 74.9h1v6.7h-1zM461 68.2h1v6.7h-1zM461 74.9h1v6.7h-1zM465 81.5h1v6.7h-1zM466 68.2h1v6.7h-1zM468 81.5h1v6.7h-1zM472 68.2h1v6.7h-1zM499 74.9h1v6.7h-1zM501 68.2h1v6.7h-1zM504 74.9h1v6.7h-1zM505 81.5h1v6.7h-1zM506 68.2h1v6.7h-1zM506 74.9h1v6.7h-1zM507 68.2h1v6.7h-1zM507 81.5h1v6.7h-1zM518 74.9h1v6.7h-1zM519 74.9h1v6.7h-1zM520 74.9h1v6.7h-1zM522 74.9h1v6.7h-1zM523 74.9h1v6.7h-1zM525 74.9h1v6.7h-1zM527 74.9h1v6.7h-1zM302 88.2h1v6.6h-1zM308 101.4h1v6.6h-1zM323 101.4h1v6.6h-1zM325 88.2h1v6.6h-1zM325 94.8h1v6.6h-1zM325 101.4h1v6.6h-1zM326 88.2h1v6.6h-1zM327 88.2h1v6.6h-1zM328 94.8h1v6.6h-1zM336 94.8h1v6.6h-1zM337 94.8h1v6.6h-1zM338 94.8h1v6.6h-1zM361 101.4h1v6.6h-1zM372 94.8h1v6.6h-1zM372 101.4h1v6.6h-1zM373 88.2h1v6.6h-1zM373 94.8h1v6.6h-1zM374 88.2h1v6.6h-1zM374 94.8h1v6.6h-1zM375 88.2h1v6.6h-1zM377 88.2h1v6.6h-1zM377 94.8h1v6.6h-1zM378 88.2h1v6.6h-1zM378 94.8h1v6.6h-1zM385 88.2h1v6.6h-1zM385 101.4h1v6.6h-1zM475 88.2h1v6.6h-1zM476 88.2h1v6.6h-1zM477 88.2h1v6.6h-1zM479 101.4h1v6.6h-1zM482 101.4h1v6.6h-1zM484 101.4h1v6.6h-1zM489 88.2h1v6.6h-1zM496 94.8h1v6.6h-1zM499 94.8h1v6.6h-1zM251 121.3h1v6.7h-1zM253 121.3h1v6.7h-1zM274 114.6h1v6.7h-1zM275 114.6h1v6.7h-1zM279 121.3h1v6.7h-1zM285 114.6h1v6.7h-1zM297 121.3h1v6.7h-1zM299 114.6h1v6.7h-1zM301 114.6h1v6.7h-1zM335 108h1v6.7h-1zM340 108h1v6.7h-1zM340 114.6h1v6.7h-1zM340 121.3h1v6.7h-1zM361 108h1v6.7h-1zM363 108h1v6.7h-1zM363 121.3h1v6.7h-1zM445 108h1v6.7h-1zM448 114.6h1v6.7h-1zM448 121.3h1v6.7h-1zM449 108h1v6.7h-1zM449 114.6h1v6.7h-1zM450 114.6h1v6.7h-1zM451 108h1v6.7h-1zM452 108h1v6.7h-1zM454 108h1v6.7h-1zM456 121.3h1v6.7h-1zM457 108h1v6.7h-1zM459 114.6h1v6.7h-1zM472 121.3h1v6.7h-1zM478 108h1v6.7h-1zM479 114.6h1v6.7h-1zM480 114.6h1v6.7h-1zM485 114.6h1v6.7h-1zM486 121.3h1v6.7h-1zM487 121.3h1v6.7h-1zM488 121.3h1v6.7h-1zM489 121.3h1v6.7h-1zM491 121.3h1v6.7h-1zM492 114.6h1v6.7h-1zM492 121.3h1v6.7h-1zM493 114.6h1v6.7h-1zM495 121.3h1v6.7h-1zM498 114.6h1v6.7h-1zM499 114.6h1v6.7h-1zM522 114.6h1v6.7h-1zM530 121.3h1v6.7h-1zM237 141.2h1v6.7h-1zM239 141.2h1v6.7h-1zM240 141.2h1v6.7h-1zM243 127.9h1v6.7h-1zM248 127.9h1v6.7h-1zM249 134.5h1v6.7h-1zM250 134.5h1v6.7h-1zM252 134.5h1v6.7h-1zM253 127.9h1v6.7h-1zM253 141.2h1v6.7h-1zM254 141.2h1v6.7h-1zM255 127.9h1v6.7h-1zM255 141.2h1v6.7h-1zM258 134.5h1v6.7h-1zM259 134.5h1v6.7h-1zM260 134.5h1v6.7h-1zM337 127.9h1v6.7h-1zM337 134.5h1v6.7h-1zM339 141.2h1v6.7h-1zM340 134.5h1v6.7h-1zM341 127.9h1v6.7h-1zM423 127.9h1v6.7h-1zM423 141.2h1v6.7h-1zM424 141.2h1v6.7h-1zM426 127.9h1v6.7h-1zM426 141.2h1v6.7h-1zM427 134.5h1v6.7h-1zM434 141.2h1v6.7h-1zM435 141.2h1v6.7h-1zM436 134.5h1v6.7h-1zM436 141.2h1v6.7h-1zM441 141.2h1v6.7h-1zM442 134.5h1v6.7h-1zM443 127.9h1v6.7h-1zM443 141.2h1v6.7h-1zM444 127.9h1v6.7h-1zM444 134.5h1v6.7h-1zM445 141.2h1v6.7h-1zM449 127.9h1v6.7h-1zM449 134.5h1v6.7h-1zM450 134.5h1v6.7h-1zM455 127.9h1v6.7h-1zM456 127.9h1v6.7h-1zM457 127.9h1v6.7h-1zM458 141.2h1v6.7h-1zM362 161h1v6.6h-1zM364 147.8h1v6.6h-1zM366 161h1v6.6h-1zM368 154.4h1v6.6h-1zM368 161h1v6.6h-1zM369 154.4h1v6.6h-1zM369 161h1v6.6h-1zM371 154.4h1v6.6h-1zM372 147.8h1v6.6h-1zM372 154.4h1v6.6h-1zM385 147.8h1v6.6h-1zM385 154.4h1v6.6h-1zM386 147.8h1v6.6h-1zM386 154.4h1v6.6h-1zM386 161h1v6.6h-1zM387 154.4h1v6.6h-1zM393 154.4h1v6.6h-1zM396 154.4h1v6.6h-1zM477 161h1v6.6h-1zM531 147.8h1v6.6h-1z" fill="#f7f7f7" shape-rendering="crispEdges"/>
<path d="M391 61.5h1v6.7h-1zM411 48.2h1v6.7h-1zM412 54.9h1v6.7h-1zM413 54.9h1v6.7h-1zM413 61.5h1v6.7h-1zM416 54.9h1v6.7h-1zM418 54.9h1v6.7h-1zM419 48.2h1v6.7h-1zM419 54.9h1v6.7h-1zM422 48.2h1v6.7h-1zM423 54.9h1v6.7h-1zM425 61.5h1v6.7h-1zM429 61.5h1v6.7h-1zM432 48.2h1v6.7h-1zM439 48.2h1v6.7h-1zM441 61.5h1v6.7h-1zM443 48.2h1v6.7h-1zM457 48.2h1v6.7h-1zM361 68.2h1v6.7h-1zM362 68.2h1v6.7h-1zM368 68.2h1v6.7h-1zM368 74.9h1v6.7h-1zM369 68.2h1v6.7h-1zM371 68.2h1v6.7h-1zM371 81.5h1v6.7h-1zM372 68.2h1v6.7h-1zM372 81.5h1v6.7h-1zM373 81.5h1v6.7h-1zM374 81.5h1v6.7h-1zM392 74.9h1v6.7h-1zM393 68.2h1v6.7h-1zM393 74.9h1v6.7h-1zM394 74.9h1v6.7h-1zM394 81.5h1v6.7h-1zM396 68.2h1v6.7h-1zM396 74.9h1v6.7h-1zM398 74.9h1v6.7h-1zM491 81.5h1v6.7h-1zM340 101.4h1v6.6h-1zM341 101.4h1v6.6h-1zM343 94.8h1v6.6h-1zM344 94.8h1v6.6h-1zM346 94.8h1v6.6h-1zM347 94.8h1v6.6h-1zM350 88.2h1v6.6h-1zM350 94.8h1v6.6h-1zM360 88.2h1v6.6h-1zM455 94.8h1v6.6h-1zM455 101.4h1v6.6h-1zM501 101.4h1v6.6h-1zM503 88.2h1v6.6h-1zM503 101.4h1v6.6h-1zM510 94.8h1v6.6h-1zM511 101.4h1v6.6h-1zM512 94.8h1v6.6h-1zM512 101.4h1v6.6h-1zM513 101.4h1v6.6h-1zM514 94.8h1v6.6h-1zM515 88.2h1v6.6h-1zM516 101.4h1v6.6h-1zM517 101.4h1v6.6h-1zM519 88.2h1v6.6h-1zM521 101.4h1v6.6h-1zM525 88.2h1v6.6h-1zM525 94.8h1v6.6h-1zM528 88.2h1v6.6h-1zM528 101.4h1v6.6h-1zM529 88.2h1v6.6h-1zM529 101.4h1v6.6h-1zM531 94.8h1v6.6h-1zM347 114.6h1v6.7h-1zM347 121.3h1v6.7h-1zM348 108h1v6.7h-1zM348 114.6h1v6.7h-1zM460 108h1v6.7h-1zM465 108h1v6.7h-1zM500 121.3h1v6.7h-1zM501 121.3h1v6.7h-1zM503 108h1v6.7h-1zM503 114.6h1v6.7h-1zM504 108h1v6.7h-1zM506 121.3h1v6.7h-1zM508 121.3h1v6.7h-1zM510 114.6h1v6.7h-1zM513 114.6h1v6.7h-1zM514 114.6h1v6.7h-1zM514 121.3h1v6.7h-1zM263 134.5h1v6.7h-1zM264 141.2h1v6.7h-1zM265 134.5h1v6.7h-1zM265 141.2h1v6.7h-1zM266 134.5h1v6.7h-1zM266 141.2h1v6.7h-1zM269 127.9h1v6.7h-1zM273 141.2h1v6.7h-1zM274 127.9h1v6.7h-1zM276 141.2h1v6.7h-1zM281 127.9h1v6.7h-1zM282 134.5h1v6.7h-1zM282 141.2h1v6.7h-1zM283 127.9h1v6.7h-1zM283 134.5h1v6.7h-1zM284 134.5h1v6.7h-1zM289 127.9h1v6.7h-1zM289 141.2h1v6.7h-1zM291 127.9h1v6.7h-1zM291 141.2h1v6.7h-1zM293 134.5h1v6.7h-1zM294 127.9h1v6.7h-1zM297 127.9h1v6.7h-1zM298 141.2h1v6.7h-1zM299 141.2h1v6.7h-1zM300 134.5h1v6.7h-1zM300 141.2h1v6.7h-1zM301 134.5h1v6.7h-1zM302 134.5h1v6.7h-1zM303 141.2h1v6.7h-1zM304 127.9h1v6.7h-1zM304 141.2h1v6.7h-1zM306 127.9h1v6.7h-1zM306 141.2h1v6.7h-1zM310 127.9h1v6.7h-1zM311 141.2h1v6.7h-1zM313 127.9h1v6.7h-1zM324 141.2h1v6.7h-1zM325 127.9h1v6.7h-1zM325 141.2h1v6.7h-1zM326 134.5h1v6.7h-1zM326 141.2h1v6.7h-1zM327 134.5h1v6.7h-1zM329 127.9h1v6.7h-1zM330 141.2h1v6.7h-1zM333 141.2h1v6.7h-1zM334 134.5h1v6.7h-1zM352 127.9h1v6.7h-1zM352 141.2h1v6.7h-1zM353 134.5h1v6.7h-1zM360 141.2h1v6.7h-1zM362 127.9h1v6.7h-1zM362 141.2h1v6.7h-1zM366 134.5h1v6.7h-1zM368 141.2h1v6.7h-1zM369 134.5h1v6.7h-1zM373 141.2h1v6.7h-1zM376 134.5h1v6.7h-1zM383 127.9h1v6.7h-1zM383 134.5h1v6.7h-1zM384 141.2h1v6.7h-1zM387 134.5h1v6.7h-1zM388 127.9h1v6.7h-1zM390 141.2h1v6.7h-1zM400 141.2h1v6.7h-1zM401 127.9h1v6.7h-1zM401 141.2h1v6.7h-1zM404 127.9h1v6.7h-1zM405 141.2h1v6.7h-1zM406 127.9h1v6.7h-1zM407 134.5h1v6.7h-1zM407 141.2h1v6.7h-1zM418 134.5h1v6.7h-1zM438 141.2h1v6.7h-1zM439 134.5h1v6.7h-1zM245 154.4h1v6.6h-1zM245 161h1v6.6h-1zM266 154.4h1v6.6h-1zM267 161h1v6.6h-1zM270 147.8h1v6.6h-1zM272 154.4h1v6.6h-1zM274 154.4h1v6.6h-1zM274 161h1v6.6h-1zM275 154.4h1v6.6h-1zM278 147.8h1v6.6h-1zM280 147.8h1v6.6h-1zM280 154.4h1v6.6h-1zM281 147.8h1v6.6h-1zM281 154.4h1v6.6h-1zM283 161h1v6.6h-1zM284 161h1v6.6h-1zM286 154.4h1v6.6h-1zM287 147.8h1v6.6h-1zM288 154.4h1v6.6h-1zM289 147.8h1v6.6h-1zM291 147.8h1v6.6h-1zM296 147.8h1v6.6h-1zM298 154.4h1v6.6h-1zM299 154.4h1v6.6h-1zM300 147.8h1v6.6h-1zM300 161h1v6.6h-1zM302 161h1v6.6h-1zM303 147.8h1v6.6h-1zM303 161h1v6.6h-1zM304 154.4h1v6.6h-1zM308 161h1v6.6h-1zM309 147.8h1v6.6h-1zM310 147.8h1v6.6h-1zM310 154.4h1v6.6h-1zM310 161h1v6.6h-1zM313 147.8h1v6.6h-1zM317 154.4h1v6.6h-1zM321 147.8h1v6.6h-1zM321 154.4h1v6.6h-1zM323 161h1v6.6h-1zM324 154.4h1v6.6h-1zM326 154.4h1v6.6h-1zM330 147.8h1v6.6h-1zM331 161h1v6.6h-1zM334 147.8h1v6.6h-1zM334 161h1v6.6h-1zM335 147.8h1v6.6h-1zM337 147.8h1v6.6h-1zM337 154.4h1v6.6h-1zM341 154.4h1v6.6h-1zM341 161h1v6.6h-1zM343 161h1v6.6h-1zM344 154.4h1v6.6h-1zM344 161h1v6.6h-1zM346 147.8h1v6.6h-1zM347 161h1v6.6h-1zM349 161h1v6.6h-1zM354 161h1v6.6h-1zM356 161h1v6.6h-1zM400 154.4h1v6.6h-1zM401 154.4h1v6.6h-1zM402 161h1v6.6h-1zM410 147.8h1v6.6h-1zM411 147.8h1v6.6h-1z" fill="#f9c2a7" shape-rendering="crispEdges"/>
<path d="M410 48.2h1v6.7h-1zM412 48.2h1v6.7h-1zM414 54.9h1v6.7h-1zM415 48.2h1v6.7h-1zM417 54.9h1v6.7h-1zM420 54.9h1v6.7h-1zM423 48.2h1v6.7h-1zM424 48.2h1v6.7h-1zM425 54.9h1v6.7h-1zM429 54.9h1v6.7h-1zM430 61.5h1v6.7h-1zM431 48.2h1v6.7h-1zM431 54.9h1v6.7h-1zM432 54.9h1v6.7h-1zM440 54.9h1v6.7h-1zM441 48.2h1v6.7h-1zM441 54.9h1v6.7h-1zM442 48.2h1v6.7h-1zM442 54.9h1v6.7h-1zM472 61.5h1v6.7h-1zM368 81.5h1v6.7h-1zM369 74.9h1v6.7h-1zM370 74.9h1v6.7h-1zM375 81.5h1v6.7h-1zM391 81.5h1v6.7h-1zM392 81.5h1v6.7h-1zM394 68.2h1v6.7h-1zM395 68.2h1v6.7h-1zM395 81.5h1v6.7h-1zM397 74.9h1v6.7h-1zM236 88.2h1v6.6h-1zM236 94.8h1v6.6h-1zM236 101.4h1v6.6h-1zM348 94.8h1v6.6h-1zM349 94.8h1v6.6h-1zM447 101.4h1v6.6h-1zM501 94.8h1v6.6h-1zM502 88.2h1v6.6h-1zM502 94.8h1v6.6h-1zM502 101.4h1v6.6h-1zM511 94.8h1v6.6h-1zM515 94.8h1v6.6h-1zM515 101.4h1v6.6h-1zM517 88.2h1v6.6h-1zM520 101.4h1v6.6h-1zM521 88.2h1v6.6h-1zM524 88.2h1v6.6h-1zM524 94.8h1v6.6h-1zM530 94.8h1v6.6h-1zM464 108h1v6.7h-1zM464 121.3h1v6.7h-1zM465 121.3h1v6.7h-1zM504 114.6h1v6.7h-1zM262 127.9h1v6.7h-1zM262 134.5h1v6.7h-1zM262 141.2h1v6.7h-1zM263 127.9h1v6.7h-1zM263 141.2h1v6.7h-1zM264 127.9h1v6.7h-1zM267 127.9h1v6.7h-1zM268 127.9h1v6.7h-1zM270 127.9h1v6.7h-1zM271 127.9h1v6.7h-1zM273 127.9h1v6.7h-1zM273 134.5h1v6.7h-1zM274 141.2h1v6.7h-1zM277 141.2h1v6.7h-1zM278 141.2h1v6.7h-1zM280 127.9h1v6.7h-1zM281 141.2h1v6.7h-1zM283 141.2h1v6.7h-1zM284 127.9h1v6.7h-1zM284 141.2h1v6.7h-1zM290 127.9h1v6.7h-1zM291 134.5h1v6.7h-1zM297 141.2h1v6.7h-1zM298 134.5h1v6.7h-1zM299 134.5h1v6.7h-1zM301 141.2h1v6.7h-1zM302 141.2h1v6.7h-1zM311 127.9h1v6.7h-1zM311 134.5h1v6.7h-1zM312 134.5h1v6.7h-1zM312 141.2h1v6.7h-1zM325 134.5h1v6.7h-1zM329 134.5h1v6.7h-1zM331 127.9h1v6.7h-1zM332 127.9h1v6.7h-1zM334 127.9h1v6.7h-1zM335 127.9h1v6.7h-1zM335 134.5h1v6.7h-1zM354 134.5h1v6.7h-1zM360 127.9h1v6.7h-1zM361 127.9h1v6.7h-1zM361 134.5h1v6.7h-1zM361 141.2h1v6.7h-1zM362 134.5h1v6.7h-1zM367 134.5h1v6.7h-1zM368 134.5h1v6.7h-1zM373 134.5h1v6.7h-1zM375 134.5h1v6.7h-1zM382 127.9h1v6.7h-1zM384 127.9h1v6.7h-1zM384 134.5h1v6.7h-1zM388 134.5h1v6.7h-1zM388 141.2h1v6.7h-1zM389 141.2h1v6.7h-1zM400 134.5h1v6.7h-1zM401 134.5h1v6.7h-1zM405 127.9h1v6.7h-1zM405 134.5h1v6.7h-1zM410 127.9h1v6.7h-1zM410 141.2h1v6.7h-1zM415 134.5h1v6.7h-1zM415 141.2h1v6.7h-1zM417 134.5h1v6.7h-1zM418 141.2h1v6.7h-1zM419 134.5h1v6.7h-1zM243 154.4h1v6.6h-1zM247 154.4h1v6.6h-1zM262 161h1v6.6h-1zM267 147.8h1v6.6h-1zM269 147.8h1v6.6h-1zM270 154.4h1v6.6h-1zM270 161h1v6.6h-1zM274 147.8h1v6.6h-1zM275 147.8h1v6.6h-1zM277 147.8h1v6.6h-1zM279 147.8h1v6.6h-1zM282 154.4h1v6.6h-1zM282 161h1v6.6h-1zM283 147.8h1v6.6h-1zM283 154.4h1v6.6h-1zM284 154.4h1v6.6h-1zM285 147.8h1v6.6h-1zM286 147.8h1v6.6h-1zM289 154.4h1v6.6h-1zM290 147.8h1v6.6h-1zM293 147.8h1v6.6h-1zM294 147.8h1v6.6h-1zM295 161h1v6.6h-1zM296 154.4h1v6.6h-1zM297 154.4h1v6.6h-1zM301 154.4h1v6.6h-1zM303 154.4h1v6.6h-1zM308 147.8h1v6.6h-1zM309 154.4h1v6.6h-1zM309 161h1v6.6h-1zM311 147.8h1v6.6h-1zM312 147.8h1v6.6h-1zM312 161h1v6.6h-1zM313 161h1v6.6h-1zM318 147.8h1v6.6h-1zM318 154.4h1v6.6h-1zM318 161h1v6.6h-1zM319 154.4h1v6.6h-1zM320 161h1v6.6h-1zM321 161h1v6.6h-1zM324 161h1v6.6h-1zM325 154.4h1v6.6h-1zM325 161h1v6.6h-1zM326 161h1v6.6h-1zM327 161h1v6.6h-1zM328 161h1v6.6h-1zM333 147.8h1v6.6h-1zM333 161h1v6.6h-1zM338 154.4h1v6.6h-1zM338 161h1v6.6h-1zM340 154.4h1v6.6h-1zM340 161h1v6.6h-1zM341 147.8h1v6.6h-1zM342 147.8h1v6.6h-1zM345 154.4h1v6.6h-1zM346 161h1v6.6h-1zM350 161h1v6.6h-1zM353 161h1v6.6h-1zM355 154.4h1v6.6h-1zM406 161h1v6.6h-1z" fill="#f7b799" shape-rendering="crispEdges"/>
<path d="M413 48.2h1v6.7h-1zM414 48.2h1v6.7h-1zM415 54.9h1v6.7h-1zM425 48.2h1v6.7h-1zM429 48.2h1v6.7h-1zM430 48.2h1v6.7h-1zM430 54.9h1v6.7h-1zM440 48.2h1v6.7h-1zM473 61.5h1v6.7h-1zM493 61.5h1v6.7h-1zM369 81.5h1v6.7h-1zM370 68.2h1v6.7h-1zM395 74.9h1v6.7h-1zM489 81.5h1v6.7h-1zM490 81.5h1v6.7h-1zM513 94.8h1v6.6h-1zM520 88.2h1v6.6h-1zM522 94.8h1v6.6h-1zM523 94.8h1v6.6h-1zM523 101.4h1v6.6h-1zM527 94.8h1v6.6h-1zM348 121.3h1v6.7h-1zM274 134.5h1v6.7h-1zM275 127.9h1v6.7h-1zM275 141.2h1v6.7h-1zM276 134.5h1v6.7h-1zM277 134.5h1v6.7h-1zM278 134.5h1v6.7h-1zM279 127.9h1v6.7h-1zM281 134.5h1v6.7h-1zM290 134.5h1v6.7h-1zM290 141.2h1v6.7h-1zM294 141.2h1v6.7h-1zM295 127.9h1v6.7h-1zM295 141.2h1v6.7h-1zM296 127.9h1v6.7h-1zM296 141.2h1v6.7h-1zM297 134.5h1v6.7h-1zM312 127.9h1v6.7h-1zM330 127.9h1v6.7h-1zM330 134.5h1v6.7h-1zM331 134.5h1v6.7h-1zM332 134.5h1v6.7h-1zM333 134.5h1v6.7h-1zM352 134.5h1v6.7h-1zM360 134.5h1v6.7h-1zM407 127.9h1v6.7h-1zM409 127.9h1v6.7h-1zM409 141.2h1v6.7h-1zM413 141.2h1v6.7h-1zM414 127.9h1v6.7h-1zM414 141.2h1v6.7h-1zM415 127.9h1v6.7h-1zM416 134.5h1v6.7h-1zM417 141.2h1v6.7h-1zM419 141.2h1v6.7h-1zM422 127.9h1v6.7h-1zM241 154.4h1v6.6h-1zM242 154.4h1v6.6h-1zM243 147.8h1v6.6h-1zM243 161h1v6.6h-1zM246 147.8h1v6.6h-1zM246 154.4h1v6.6h-1zM247 161h1v6.6h-1zM249 147.8h1v6.6h-1zM249 161h1v6.6h-1zM260 154.4h1v6.6h-1zM260 161h1v6.6h-1zM261 154.4h1v6.6h-1zM261 161h1v6.6h-1zM262 154.4h1v6.6h-1zM263 154.4h1v6.6h-1zM263 161h1v6.6h-1zM269 161h1v6.6h-1zM276 147.8h1v6.6h-1zM282 147.8h1v6.6h-1zM284 147.8h1v6.6h-1zM290 154.4h1v6.6h-1zM295 147.8h1v6.6h-1zM300 154.4h1v6.6h-1zM302 147.8h1v6.6h-1zM302 154.4h1v6.6h-1zM308 154.4h1v6.6h-1zM311 161h1v6.6h-1zM319 147.8h1v6.6h-1zM319 161h1v6.6h-1zM320 147.8h1v6.6h-1zM320 154.4h1v6.6h-1zM329 161h1v6.6h-1zM330 161h1v6.6h-1zM338 147.8h1v6.6h-1zM339 161h1v6.6h-1zM340 147.8h1v6.6h-1zM345 161h1v6.6h-1zM351 147.8h1v6.6h-1zM351 154.4h1v6.6h-1zM352 147.8h1v6.6h-1zM352 154.4h1v6.6h-1zM352 161h1v6.6h-1zM354 154.4h1v6.6h-1zM355 147.8h1v6.6h-1zM356 154.4h1v6.6h-1z" fill="#f5ac8b" shape-rendering="crispEdges"/>
<path d="M472 48.2h1v6.7h-1zM472 54.9h1v6.7h-1zM473 48.2h1v6.7h-1zM476 48.2h1v6.7h-1zM476 61.5h1v6.7h-1zM477 61.5h1v6.7h-1zM478 54.9h1v6.7h-1zM479 54.9h1v6.7h-1zM479 61.5h1v6.7h-1zM480 48.2h1v6.7h-1zM481 54.9h1v6.7h-1zM481 61.5h1v6.7h-1zM482 54.9h1v6.7h-1zM483 54.9h1v6.7h-1zM486 48.2h1v6.7h-1zM486 54.9h1v6.7h-1zM487 48.2h1v6.7h-1zM487 54.9h1v6.7h-1zM488 48.2h1v6.7h-1zM488 54.9h1v6.7h-1zM492 48.2h1v6.7h-1zM492 54.9h1v6.7h-1zM494 54.9h1v6.7h-1zM497 54.9h1v6.7h-1zM498 48.2h1v6.7h-1zM522 88.2h1v6.6h-1zM266 127.9h1v6.7h-1zM275 134.5h1v6.7h-1zM279 134.5h1v6.7h-1zM295 134.5h1v6.7h-1zM296 134.5h1v6.7h-1zM412 127.9h1v6.7h-1zM413 127.9h1v6.7h-1zM413 134.5h1v6.7h-1zM418 127.9h1v6.7h-1zM420 141.2h1v6.7h-1zM421 127.9h1v6.7h-1zM421 134.5h1v6.7h-1zM421 141.2h1v6.7h-1zM422 134.5h1v6.7h-1zM237 154.4h1v6.6h-1zM239 154.4h1v6.6h-1zM239 161h1v6.6h-1zM240 161h1v6.6h-1zM241 147.8h1v6.6h-1zM241 161h1v6.6h-1zM242 147.8h1v6.6h-1zM250 147.8h1v6.6h-1zM250 154.4h1v6.6h-1zM250 161h1v6.6h-1zM252 154.4h1v6.6h-1zM252 161h1v6.6h-1zM339 147.8h1v6.6h-1z" fill="#eb9173" shape-rendering="crispEdges"/>
<path d="M473 54.9h1v6.7h-1zM474 48.2h1v6.7h-1zM476 54.9h1v6.7h-1zM478 48.2h1v6.7h-1zM481 48.2h1v6.7h-1zM482 48.2h1v6.7h-1zM482 61.5h1v6.7h-1zM483 48.2h1v6.7h-1zM483 61.5h1v6.7h-1zM484 48.2h1v6.7h-1zM484 54.9h1v6.7h-1zM485 48.2h1v6.7h-1zM485 54.9h1v6.7h-1zM487 61.5h1v6.7h-1zM488 61.5h1v6.7h-1zM491 61.5h1v6.7h-1zM493 48.2h1v6.7h-1zM494 48.2h1v6.7h-1zM495 54.9h1v6.7h-1zM495 61.5h1v6.7h-1zM496 54.9h1v6.7h-1zM498 61.5h1v6.7h-1zM412 134.5h1v6.7h-1zM251 161h1v6.6h-1zM253 154.4h1v6.6h-1zM258 147.8h1v6.6h-1zM258 161h1v6.6h-1zM268 154.4h1v6.6h-1z" fill="#e58268" shape-rendering="crispEdges"/>
<path d="M474 54.9h1v6.7h-1zM475 48.2h1v6.7h-1zM475 54.9h1v6.7h-1zM477 48.2h1v6.7h-1zM477 54.9h1v6.7h-1zM479 48.2h1v6.7h-1zM484 61.5h1v6.7h-1zM485 61.5h1v6.7h-1zM486 61.5h1v6.7h-1zM489 54.9h1v6.7h-1zM489 61.5h1v6.7h-1zM490 61.5h1v6.7h-1zM491 54.9h1v6.7h-1zM496 61.5h1v6.7h-1zM497 48.2h1v6.7h-1zM497 61.5h1v6.7h-1zM237 161h1v6.6h-1zM239 147.8h1v6.6h-1zM251 154.4h1v6.6h-1zM253 161h1v6.6h-1zM254 154.4h1v6.6h-1zM257 161h1v6.6h-1zM258 154.4h1v6.6h-1zM259 161h1v6.6h-1z" fill="#df745c" shape-rendering="crispEdges"/>
<path d="M474 61.5h1v6.7h-1zM475 61.5h1v6.7h-1zM478 61.5h1v6.7h-1zM480 54.9h1v6.7h-1zM480 61.5h1v6.7h-1zM492 61.5h1v6.7h-1zM493 54.9h1v6.7h-1zM494 61.5h1v6.7h-1zM498 54.9h1v6.7h-1zM370 81.5h1v6.7h-1zM522 101.4h1v6.6h-1zM523 88.2h1v6.6h-1zM528 94.8h1v6.6h-1zM529 94.8h1v6.6h-1zM502 121.3h1v6.7h-1zM503 121.3h1v6.7h-1zM504 121.3h1v6.7h-1zM265 127.9h1v6.7h-1zM279 141.2h1v6.7h-1zM280 134.5h1v6.7h-1zM280 141.2h1v6.7h-1zM294 134.5h1v6.7h-1zM333 127.9h1v6.7h-1zM409 134.5h1v6.7h-1zM410 134.5h1v6.7h-1zM412 141.2h1v6.7h-1zM414 134.5h1v6.7h-1zM416 127.9h1v6.7h-1zM416 141.2h1v6.7h-1zM417 127.9h1v6.7h-1zM419 127.9h1v6.7h-1zM420 127.9h1v6.7h-1zM420 134.5h1v6.7h-1zM422 141.2h1v6.7h-1zM240 147.8h1v6.6h-1zM240 154.4h1v6.6h-1zM242 161h1v6.6h-1zM246 161h1v6.6h-1zM247 147.8h1v6.6h-1zM249 154.4h1v6.6h-1zM259 147.8h1v6.6h-1zM267 154.4h1v6.6h-1zM268 147.8h1v6.6h-1zM268 161h1v6.6h-1zM269 154.4h1v6.6h-1zM291 154.4h1v6.6h-1zM292 154.4h1v6.6h-1zM293 154.4h1v6.6h-1zM294 154.4h1v6.6h-1zM295 154.4h1v6.6h-1zM311 154.4h1v6.6h-1zM312 154.4h1v6.6h-1zM313 154.4h1v6.6h-1zM339 154.4h1v6.6h-1zM343 147.8h1v6.6h-1zM344 147.8h1v6.6h-1zM345 147.8h1v6.6h-1zM351 161h1v6.6h-1zM353 147.8h1v6.6h-1zM353 154.4h1v6.6h-1zM354 147.8h1v6.6h-1zM356 147.8h1v6.6h-1z" fill="#f19f7e" shape-rendering="crispEdges"/>
<path d="M489 48.2h1v6.7h-1zM490 48.2h1v6.7h-1zM490 54.9h1v6.7h-1zM491 48.2h1v6.7h-1zM495 48.2h1v6.7h-1zM496 48.2h1v6.7h-1zM237 147.8h1v6.6h-1zM252 147.8h1v6.6h-1zM253 147.8h1v6.6h-1zM254 161h1v6.6h-1zM255 154.4h1v6.6h-1zM256 154.4h1v6.6h-1zM256 161h1v6.6h-1zM257 147.8h1v6.6h-1zM257 154.4h1v6.6h-1zM259 154.4h1v6.6h-1z" fill="#d86651" shape-rendering="crispEdges"/>
<path d="M269 94.8h1v6.6h-1zM419 101.4h1v6.6h-1zM425 88.2h1v6.6h-1zM425 101.4h1v6.6h-1zM426 88.2h1v6.6h-1zM368 121.3h1v6.7h-1zM369 121.3h1v6.7h-1zM408 114.6h1v6.7h-1zM432 121.3h1v6.7h-1zM236 127.9h1v6.7h-1zM521 134.5h1v6.7h-1zM522 134.5h1v6.7h-1zM523 127.9h1v6.7h-1zM531 127.9h1v6.7h-1z" fill="#6aacd0" shape-rendering="crispEdges"/>
<path d="M392 121.3h1v6.7h-1zM517 134.5h1v6.7h-1zM523 134.5h1v6.7h-1z" fill="#5aa2cb" shape-rendering="crispEdges"/>
<path d="M251 147.8h1v6.6h-1zM254 147.8h1v6.6h-1zM255 161h1v6.6h-1z" fill="#d25749" shape-rendering="crispEdges"/>
<path d="M255 147.8h1v6.6h-1z" fill="#c2393b" shape-rendering="crispEdges"/>
<path d="M256 147.8h1v6.6h-1z" fill="#ca4842" shape-rendering="crispEdges"/>
<path d="M535 48.2h1v6.7h-1zM543 54.9h1v6.7h-1zM544 54.9h1v6.7h-1zM548 48.2h1v6.7h-1zM548 61.5h1v6.7h-1zM549 48.2h1v6.7h-1zM549 61.5h1v6.7h-1zM558 61.5h1v6.7h-1zM559 54.9h1v6.7h-1zM560 54.9h1v6.7h-1zM561 54.9h1v6.7h-1zM576 48.2h1v6.7h-1zM577 54.9h1v6.7h-1zM584 48.2h1v6.7h-1zM585 54.9h1v6.7h-1zM586 48.2h1v6.7h-1zM586 54.9h1v6.7h-1zM590 48.2h1v6.7h-1zM591 48.2h1v6.7h-1zM591 61.5h1v6.7h-1zM592 48.2h1v6.7h-1zM593 48.2h1v6.7h-1zM593 61.5h1v6.7h-1zM594 48.2h1v6.7h-1zM594 61.5h1v6.7h-1zM598 48.2h1v6.7h-1zM599 61.5h1v6.7h-1zM605 54.9h1v6.7h-1zM556 74.9h1v6.7h-1zM556 81.5h1v6.7h-1zM557 81.5h1v6.7h-1zM559 68.2h1v6.7h-1zM561 68.2h1v6.7h-1zM567 68.2h1v6.7h-1zM569 68.2h1v6.7h-1zM581 74.9h1v6.7h-1zM583 68.2h1v6.7h-1zM583 81.5h1v6.7h-1zM584 68.2h1v6.7h-1zM586 68.2h1v6.7h-1zM591 74.9h1v6.7h-1zM596 74.9h1v6.7h-1zM597 74.9h1v6.7h-1zM597 81.5h1v6.7h-1zM598 68.2h1v6.7h-1zM535 88.2h1v6.6h-1zM535 94.8h1v6.6h-1zM536 94.8h1v6.6h-1zM536 101.4h1v6.6h-1zM538 94.8h1v6.6h-1zM541 88.2h1v6.6h-1zM541 94.8h1v6.6h-1zM546 88.2h1v6.6h-1zM546 94.8h1v6.6h-1zM546 101.4h1v6.6h-1zM547 88.2h1v6.6h-1zM548 88.2h1v6.6h-1zM548 101.4h1v6.6h-1zM549 88.2h1v6.6h-1zM549 101.4h1v6.6h-1zM551 88.2h1v6.6h-1zM552 88.2h1v6.6h-1zM552 94.8h1v6.6h-1zM554 94.8h1v6.6h-1zM555 94.8h1v6.6h-1zM558 88.2h1v6.6h-1zM558 101.4h1v6.6h-1zM565 94.8h1v6.6h-1zM568 94.8h1v6.6h-1zM571 88.2h1v6.6h-1zM572 101.4h1v6.6h-1zM574 94.8h1v6.6h-1zM574 101.4h1v6.6h-1zM576 94.8h1v6.6h-1zM577 94.8h1v6.6h-1zM577 101.4h1v6.6h-1zM535 108h1v6.7h-1zM536 108h1v6.7h-1zM536 114.6h1v6.7h-1zM536 121.3h1v6.7h-1zM537 114.6h1v6.7h-1zM538 121.3h1v6.7h-1zM541 114.6h1v6.7h-1zM543 108h1v6.7h-1zM545 108h1v6.7h-1zM547 108h1v6.7h-1zM547 121.3h1v6.7h-1zM550 108h1v6.7h-1zM551 108h1v6.7h-1zM555 121.3h1v6.7h-1zM556 121.3h1v6.7h-1zM557 114.6h1v6.7h-1zM557 121.3h1v6.7h-1zM558 114.6h1v6.7h-1zM558 121.3h1v6.7h-1zM560 108h1v6.7h-1zM561 108h1v6.7h-1zM562 108h1v6.7h-1zM563 108h1v6.7h-1zM565 108h1v6.7h-1zM566 108h1v6.7h-1zM566 121.3h1v6.7h-1zM567 108h1v6.7h-1zM568 108h1v6.7h-1zM568 121.3h1v6.7h-1zM569 114.6h1v6.7h-1zM569 121.3h1v6.7h-1zM570 114.6h1v6.7h-1zM570 121.3h1v6.7h-1zM571 114.6h1v6.7h-1zM572 121.3h1v6.7h-1zM573 114.6h1v6.7h-1zM576 114.6h1v6.7h-1zM576 121.3h1v6.7h-1zM578 121.3h1v6.7h-1zM598 127.9h1v6.7h-1zM599 127.9h1v6.7h-1zM599 141.2h1v6.7h-1zM601 141.2h1v6.7h-1zM609 134.5h1v6.7h-1zM610 134.5h1v6.7h-1zM610 141.2h1v6.7h-1zM612 127.9h1v6.7h-1zM612 141.2h1v6.7h-1zM614 127.9h1v6.7h-1zM614 134.5h1v6.7h-1zM614 141.2h1v6.7h-1zM618 134.5h1v6.7h-1zM620 127.9h1v6.7h-1zM607 147.8h1v6.6h-1zM610 161h1v6.6h-1zM612 161h1v6.6h-1zM615 154.4h1v6.6h-1zM616 154.4h1v6.6h-1zM620 147.8h1v6.6h-1zM621 147.8h1v6.6h-1zM622 147.8h1v6.6h-1zM623 161h1v6.6h-1z" fill="#cee4ef" shape-rendering="crispEdges"/>
<path d="M535 54.9h1v6.7h-1zM541 61.5h1v6.7h-1zM543 61.5h1v6.7h-1zM544 61.5h1v6.7h-1zM550 61.5h1v6.7h-1zM551 54.9h1v6.7h-1zM552 54.9h1v6.7h-1zM553 54.9h1v6.7h-1zM553 61.5h1v6.7h-1zM554 48.2h1v6.7h-1zM554 54.9h1v6.7h-1zM554 61.5h1v6.7h-1zM559 48.2h1v6.7h-1zM559 61.5h1v6.7h-1zM577 48.2h1v6.7h-1zM590 54.9h1v6.7h-1zM591 54.9h1v6.7h-1zM592 54.9h1v6.7h-1zM593 54.9h1v6.7h-1zM594 54.9h1v6.7h-1zM596 54.9h1v6.7h-1zM597 54.9h1v6.7h-1zM557 74.9h1v6.7h-1zM558 74.9h1v6.7h-1zM559 74.9h1v6.7h-1zM561 74.9h1v6.7h-1zM566 68.2h1v6.7h-1zM569 74.9h1v6.7h-1zM573 74.9h1v6.7h-1zM580 74.9h1v6.7h-1zM587 68.2h1v6.7h-1zM589 74.9h1v6.7h-1zM590 74.9h1v6.7h-1zM590 81.5h1v6.7h-1zM591 68.2h1v6.7h-1zM591 81.5h1v6.7h-1zM595 68.2h1v6.7h-1zM595 74.9h1v6.7h-1zM598 74.9h1v6.7h-1zM599 68.2h1v6.7h-1zM537 88.2h1v6.6h-1zM537 101.4h1v6.6h-1zM541 101.4h1v6.6h-1zM544 88.2h1v6.6h-1zM544 94.8h1v6.6h-1zM545 88.2h1v6.6h-1zM545 101.4h1v6.6h-1zM547 101.4h1v6.6h-1zM550 88.2h1v6.6h-1zM566 94.8h1v6.6h-1zM571 101.4h1v6.6h-1zM578 94.8h1v6.6h-1zM579 94.8h1v6.6h-1zM535 121.3h1v6.7h-1zM537 108h1v6.7h-1zM537 121.3h1v6.7h-1zM541 121.3h1v6.7h-1zM544 108h1v6.7h-1zM545 121.3h1v6.7h-1zM546 108h1v6.7h-1zM546 121.3h1v6.7h-1zM547 114.6h1v6.7h-1zM548 108h1v6.7h-1zM548 114.6h1v6.7h-1zM549 114.6h1v6.7h-1zM549 121.3h1v6.7h-1zM554 108h1v6.7h-1zM554 121.3h1v6.7h-1zM555 108h1v6.7h-1zM556 108h1v6.7h-1zM558 108h1v6.7h-1zM567 121.3h1v6.7h-1zM571 121.3h1v6.7h-1zM576 108h1v6.7h-1zM578 108h1v6.7h-1zM584 127.9h1v6.7h-1zM584 134.5h1v6.7h-1zM587 127.9h1v6.7h-1zM589 127.9h1v6.7h-1zM589 134.5h1v6.7h-1zM596 134.5h1v6.7h-1zM596 141.2h1v6.7h-1zM597 134.5h1v6.7h-1zM597 141.2h1v6.7h-1zM599 134.5h1v6.7h-1zM600 141.2h1v6.7h-1zM608 134.5h1v6.7h-1zM609 127.9h1v6.7h-1zM610 127.9h1v6.7h-1zM616 141.2h1v6.7h-1zM619 127.9h1v6.7h-1zM608 147.8h1v6.6h-1zM609 161h1v6.6h-1zM610 147.8h1v6.6h-1zM610 154.4h1v6.6h-1zM611 147.8h1v6.6h-1zM611 154.4h1v6.6h-1zM613 154.4h1v6.6h-1zM613 161h1v6.6h-1zM614 154.4h1v6.6h-1zM617 154.4h1v6.6h-1zM623 147.8h1v6.6h-1z" fill="#d7e8f1" shape-rendering="crispEdges"/>
<path d="M535 61.5h1v6.7h-1zM536 48.2h1v6.7h-1zM536 54.9h1v6.7h-1zM543 48.2h1v6.7h-1zM544 48.2h1v6.7h-1zM549 54.9h1v6.7h-1zM550 54.9h1v6.7h-1zM555 54.9h1v6.7h-1zM555 61.5h1v6.7h-1zM558 48.2h1v6.7h-1zM558 54.9h1v6.7h-1zM576 54.9h1v6.7h-1zM576 61.5h1v6.7h-1zM577 61.5h1v6.7h-1zM578 48.2h1v6.7h-1zM578 54.9h1v6.7h-1zM579 54.9h1v6.7h-1zM580 54.9h1v6.7h-1zM581 54.9h1v6.7h-1zM582 54.9h1v6.7h-1zM583 54.9h1v6.7h-1zM585 48.2h1v6.7h-1zM585 61.5h1v6.7h-1zM586 61.5h1v6.7h-1zM588 54.9h1v6.7h-1zM589 48.2h1v6.7h-1zM589 54.9h1v6.7h-1zM590 61.5h1v6.7h-1zM592 61.5h1v6.7h-1zM598 54.9h1v6.7h-1zM599 48.2h1v6.7h-1zM604 54.9h1v6.7h-1zM604 61.5h1v6.7h-1zM605 48.2h1v6.7h-1zM605 61.5h1v6.7h-1zM556 68.2h1v6.7h-1zM558 68.2h1v6.7h-1zM582 68.2h1v6.7h-1zM584 81.5h1v6.7h-1zM585 68.2h1v6.7h-1zM588 81.5h1v6.7h-1zM589 81.5h1v6.7h-1zM597 68.2h1v6.7h-1zM535 101.4h1v6.6h-1zM538 88.2h1v6.6h-1zM538 101.4h1v6.6h-1zM545 94.8h1v6.6h-1zM547 94.8h1v6.6h-1zM548 94.8h1v6.6h-1zM549 94.8h1v6.6h-1zM550 94.8h1v6.6h-1zM550 101.4h1v6.6h-1zM551 94.8h1v6.6h-1zM552 101.4h1v6.6h-1zM553 88.2h1v6.6h-1zM554 88.2h1v6.6h-1zM555 88.2h1v6.6h-1zM560 88.2h1v6.6h-1zM565 88.2h1v6.6h-1zM565 101.4h1v6.6h-1zM567 94.8h1v6.6h-1zM570 88.2h1v6.6h-1zM572 88.2h1v6.6h-1zM575 94.8h1v6.6h-1zM575 101.4h1v6.6h-1zM576 101.4h1v6.6h-1zM578 101.4h1v6.6h-1zM579 101.4h1v6.6h-1zM535 114.6h1v6.7h-1zM538 108h1v6.7h-1zM542 108h1v6.7h-1zM548 121.3h1v6.7h-1zM550 114.6h1v6.7h-1zM550 121.3h1v6.7h-1zM553 108h1v6.7h-1zM553 121.3h1v6.7h-1zM554 114.6h1v6.7h-1zM555 114.6h1v6.7h-1zM556 114.6h1v6.7h-1zM559 114.6h1v6.7h-1zM559 121.3h1v6.7h-1zM561 121.3h1v6.7h-1zM562 121.3h1v6.7h-1zM564 108h1v6.7h-1zM567 114.6h1v6.7h-1zM568 114.6h1v6.7h-1zM569 108h1v6.7h-1zM570 108h1v6.7h-1zM571 108h1v6.7h-1zM572 114.6h1v6.7h-1zM573 121.3h1v6.7h-1zM574 108h1v6.7h-1zM575 108h1v6.7h-1zM575 114.6h1v6.7h-1zM575 121.3h1v6.7h-1zM578 114.6h1v6.7h-1zM579 108h1v6.7h-1zM579 121.3h1v6.7h-1zM583 127.9h1v6.7h-1zM583 134.5h1v6.7h-1zM598 134.5h1v6.7h-1zM598 141.2h1v6.7h-1zM611 127.9h1v6.7h-1zM611 134.5h1v6.7h-1zM612 134.5h1v6.7h-1zM613 127.9h1v6.7h-1zM616 127.9h1v6.7h-1zM616 134.5h1v6.7h-1zM617 127.9h1v6.7h-1zM617 134.5h1v6.7h-1zM619 134.5h1v6.7h-1zM608 154.4h1v6.6h-1zM608 161h1v6.6h-1zM611 161h1v6.6h-1zM613 147.8h1v6.6h-1zM614 161h1v6.6h-1zM617 161h1v6.6h-1zM618 154.4h1v6.6h-1zM619 147.8h1v6.6h-1zM619 154.4h1v6.6h-1zM619 161h1v6.6h-1zM620 154.4h1v6.6h-1zM622 161h1v6.6h-1z" fill="#c1ddec" shape-rendering="crispEdges"/>
<path d="M536 61.5h1v6.7h-1zM545 61.5h1v6.7h-1zM546 61.5h1v6.7h-1zM555 48.2h1v6.7h-1zM556 48.2h1v6.7h-1zM556 54.9h1v6.7h-1zM557 48.2h1v6.7h-1zM557 54.9h1v6.7h-1zM557 61.5h1v6.7h-1zM584 61.5h1v6.7h-1zM588 48.2h1v6.7h-1zM588 61.5h1v6.7h-1zM589 61.5h1v6.7h-1zM604 48.2h1v6.7h-1zM606 48.2h1v6.7h-1zM606 54.9h1v6.7h-1zM606 61.5h1v6.7h-1zM557 68.2h1v6.7h-1zM580 68.2h1v6.7h-1zM580 81.5h1v6.7h-1zM581 68.2h1v6.7h-1zM581 81.5h1v6.7h-1zM582 81.5h1v6.7h-1zM585 81.5h1v6.7h-1zM586 81.5h1v6.7h-1zM587 81.5h1v6.7h-1zM596 68.2h1v6.7h-1zM539 88.2h1v6.6h-1zM540 88.2h1v6.6h-1zM540 101.4h1v6.6h-1zM551 101.4h1v6.6h-1zM553 94.8h1v6.6h-1zM553 101.4h1v6.6h-1zM555 101.4h1v6.6h-1zM558 94.8h1v6.6h-1zM559 88.2h1v6.6h-1zM559 101.4h1v6.6h-1zM560 94.8h1v6.6h-1zM560 101.4h1v6.6h-1zM561 88.2h1v6.6h-1zM561 101.4h1v6.6h-1zM566 88.2h1v6.6h-1zM566 101.4h1v6.6h-1zM569 88.2h1v6.6h-1zM569 101.4h1v6.6h-1zM570 101.4h1v6.6h-1zM577 88.2h1v6.6h-1zM578 88.2h1v6.6h-1zM579 88.2h1v6.6h-1zM538 114.6h1v6.7h-1zM539 121.3h1v6.7h-1zM540 121.3h1v6.7h-1zM541 108h1v6.7h-1zM551 114.6h1v6.7h-1zM551 121.3h1v6.7h-1zM560 114.6h1v6.7h-1zM560 121.3h1v6.7h-1zM563 121.3h1v6.7h-1zM564 121.3h1v6.7h-1zM565 121.3h1v6.7h-1zM572 108h1v6.7h-1zM573 108h1v6.7h-1zM574 114.6h1v6.7h-1zM574 121.3h1v6.7h-1zM579 114.6h1v6.7h-1zM611 141.2h1v6.7h-1zM613 134.5h1v6.7h-1zM613 141.2h1v6.7h-1zM615 134.5h1v6.7h-1zM615 141.2h1v6.7h-1zM620 134.5h1v6.7h-1zM621 134.5h1v6.7h-1zM623 134.5h1v6.7h-1zM607 154.4h1v6.6h-1zM607 161h1v6.6h-1zM615 161h1v6.6h-1zM616 147.8h1v6.6h-1zM616 161h1v6.6h-1zM618 161h1v6.6h-1zM620 161h1v6.6h-1zM621 154.4h1v6.6h-1zM621 161h1v6.6h-1zM622 154.4h1v6.6h-1zM623 154.4h1v6.6h-1z" fill="#b4d6e8" shape-rendering="crispEdges"/>
<path d="M537 48.2h1v6.7h-1zM537 54.9h1v6.7h-1zM537 61.5h1v6.7h-1zM538 48.2h1v6.7h-1zM538 54.9h1v6.7h-1zM539 48.2h1v6.7h-1zM540 48.2h1v6.7h-1zM540 54.9h1v6.7h-1zM540 61.5h1v6.7h-1zM542 48.2h1v6.7h-1zM542 54.9h1v6.7h-1zM542 61.5h1v6.7h-1zM562 54.9h1v6.7h-1zM535 81.5h1v6.7h-1zM549 68.2h1v6.7h-1zM555 74.9h1v6.7h-1zM560 68.2h1v6.7h-1zM560 74.9h1v6.7h-1zM560 81.5h1v6.7h-1zM562 81.5h1v6.7h-1zM563 74.9h1v6.7h-1zM563 81.5h1v6.7h-1zM564 74.9h1v6.7h-1zM565 68.2h1v6.7h-1zM565 74.9h1v6.7h-1zM565 81.5h1v6.7h-1zM566 74.9h1v6.7h-1zM566 81.5h1v6.7h-1zM568 81.5h1v6.7h-1zM572 81.5h1v6.7h-1zM574 68.2h1v6.7h-1zM574 81.5h1v6.7h-1zM584 74.9h1v6.7h-1zM588 74.9h1v6.7h-1zM592 68.2h1v6.7h-1zM593 68.2h1v6.7h-1zM593 81.5h1v6.7h-1zM594 81.5h1v6.7h-1zM595 81.5h1v6.7h-1zM599 74.9h1v6.7h-1zM542 101.4h1v6.6h-1zM543 101.4h1v6.6h-1zM556 88.2h1v6.6h-1zM556 94.8h1v6.6h-1zM556 101.4h1v6.6h-1zM557 88.2h1v6.6h-1zM557 94.8h1v6.6h-1zM573 94.8h1v6.6h-1zM580 101.4h1v6.6h-1zM584 101.4h1v6.6h-1zM601 108h1v6.7h-1zM605 121.3h1v6.7h-1zM622 108h1v6.7h-1zM622 121.3h1v6.7h-1zM586 127.9h1v6.7h-1zM588 134.5h1v6.7h-1zM590 141.2h1v6.7h-1zM591 127.9h1v6.7h-1zM591 141.2h1v6.7h-1zM594 141.2h1v6.7h-1zM595 127.9h1v6.7h-1zM605 134.5h1v6.7h-1zM618 141.2h1v6.7h-1zM619 141.2h1v6.7h-1zM622 141.2h1v6.7h-1zM560 147.8h1v6.6h-1zM562 147.8h1v6.6h-1zM563 147.8h1v6.6h-1zM563 161h1v6.6h-1zM574 147.8h1v6.6h-1zM574 154.4h1v6.6h-1zM574 161h1v6.6h-1zM575 161h1v6.6h-1zM596 154.4h1v6.6h-1zM597 154.4h1v6.6h-1z" fill="#eff3f6" shape-rendering="crispEdges"/>
<path d="M538 61.5h1v6.7h-1zM539 54.9h1v6.7h-1zM539 61.5h1v6.7h-1zM541 54.9h1v6.7h-1zM551 48.2h1v6.7h-1zM552 48.2h1v6.7h-1zM553 48.2h1v6.7h-1zM596 61.5h1v6.7h-1zM597 48.2h1v6.7h-1zM597 61.5h1v6.7h-1zM555 68.2h1v6.7h-1zM555 81.5h1v6.7h-1zM559 81.5h1v6.7h-1zM561 81.5h1v6.7h-1zM562 74.9h1v6.7h-1zM564 68.2h1v6.7h-1zM567 81.5h1v6.7h-1zM568 74.9h1v6.7h-1zM569 81.5h1v6.7h-1zM570 74.9h1v6.7h-1zM573 68.2h1v6.7h-1zM573 81.5h1v6.7h-1zM582 74.9h1v6.7h-1zM588 68.2h1v6.7h-1zM590 68.2h1v6.7h-1zM592 81.5h1v6.7h-1zM593 74.9h1v6.7h-1zM594 68.2h1v6.7h-1zM599 81.5h1v6.7h-1zM542 88.2h1v6.6h-1zM542 94.8h1v6.6h-1zM557 101.4h1v6.6h-1zM569 94.8h1v6.6h-1zM570 94.8h1v6.6h-1zM571 94.8h1v6.6h-1zM573 88.2h1v6.6h-1zM573 101.4h1v6.6h-1zM588 101.4h1v6.6h-1zM589 88.2h1v6.6h-1zM589 101.4h1v6.6h-1zM590 101.4h1v6.6h-1zM543 114.6h1v6.7h-1zM544 114.6h1v6.7h-1zM545 114.6h1v6.7h-1zM549 108h1v6.7h-1zM552 108h1v6.7h-1zM577 108h1v6.7h-1zM577 114.6h1v6.7h-1zM577 121.3h1v6.7h-1zM601 121.3h1v6.7h-1zM583 141.2h1v6.7h-1zM585 134.5h1v6.7h-1zM587 134.5h1v6.7h-1zM589 141.2h1v6.7h-1zM591 134.5h1v6.7h-1zM592 134.5h1v6.7h-1zM593 134.5h1v6.7h-1zM596 127.9h1v6.7h-1zM600 134.5h1v6.7h-1zM602 127.9h1v6.7h-1zM602 134.5h1v6.7h-1zM602 141.2h1v6.7h-1zM603 134.5h1v6.7h-1zM603 141.2h1v6.7h-1zM605 127.9h1v6.7h-1zM605 141.2h1v6.7h-1zM606 134.5h1v6.7h-1zM607 134.5h1v6.7h-1zM607 141.2h1v6.7h-1zM608 141.2h1v6.7h-1zM620 141.2h1v6.7h-1zM621 127.9h1v6.7h-1zM623 141.2h1v6.7h-1zM609 154.4h1v6.6h-1zM612 154.4h1v6.6h-1z" fill="#e7f0f4" shape-rendering="crispEdges"/>
<path d="M541 48.2h1v6.7h-1zM550 48.2h1v6.7h-1zM551 61.5h1v6.7h-1zM552 61.5h1v6.7h-1zM560 48.2h1v6.7h-1zM560 61.5h1v6.7h-1zM561 48.2h1v6.7h-1zM561 61.5h1v6.7h-1zM584 54.9h1v6.7h-1zM595 48.2h1v6.7h-1zM595 54.9h1v6.7h-1zM595 61.5h1v6.7h-1zM596 48.2h1v6.7h-1zM598 61.5h1v6.7h-1zM603 48.2h1v6.7h-1zM603 54.9h1v6.7h-1zM603 61.5h1v6.7h-1zM558 81.5h1v6.7h-1zM562 68.2h1v6.7h-1zM563 68.2h1v6.7h-1zM567 74.9h1v6.7h-1zM568 68.2h1v6.7h-1zM570 68.2h1v6.7h-1zM571 68.2h1v6.7h-1zM571 74.9h1v6.7h-1zM571 81.5h1v6.7h-1zM572 68.2h1v6.7h-1zM572 74.9h1v6.7h-1zM574 74.9h1v6.7h-1zM585 74.9h1v6.7h-1zM586 74.9h1v6.7h-1zM587 74.9h1v6.7h-1zM589 68.2h1v6.7h-1zM592 74.9h1v6.7h-1zM594 74.9h1v6.7h-1zM596 81.5h1v6.7h-1zM598 81.5h1v6.7h-1zM536 88.2h1v6.6h-1zM537 94.8h1v6.6h-1zM543 88.2h1v6.6h-1zM543 94.8h1v6.6h-1zM544 101.4h1v6.6h-1zM562 88.2h1v6.6h-1zM562 94.8h1v6.6h-1zM562 101.4h1v6.6h-1zM572 94.8h1v6.6h-1zM588 88.2h1v6.6h-1zM590 88.2h1v6.6h-1zM542 114.6h1v6.7h-1zM542 121.3h1v6.7h-1zM543 121.3h1v6.7h-1zM544 121.3h1v6.7h-1zM546 114.6h1v6.7h-1zM552 114.6h1v6.7h-1zM552 121.3h1v6.7h-1zM557 108h1v6.7h-1zM559 108h1v6.7h-1zM585 127.9h1v6.7h-1zM588 127.9h1v6.7h-1zM590 127.9h1v6.7h-1zM590 134.5h1v6.7h-1zM594 134.5h1v6.7h-1zM595 134.5h1v6.7h-1zM595 141.2h1v6.7h-1zM597 127.9h1v6.7h-1zM600 127.9h1v6.7h-1zM601 127.9h1v6.7h-1zM601 134.5h1v6.7h-1zM603 127.9h1v6.7h-1zM606 127.9h1v6.7h-1zM606 141.2h1v6.7h-1zM607 127.9h1v6.7h-1zM608 127.9h1v6.7h-1zM609 141.2h1v6.7h-1zM617 141.2h1v6.7h-1zM618 127.9h1v6.7h-1zM622 127.9h1v6.7h-1zM623 127.9h1v6.7h-1zM609 147.8h1v6.6h-1zM612 147.8h1v6.6h-1z" fill="#dfecf3" shape-rendering="crispEdges"/>
<path d="M545 48.2h1v6.7h-1zM545 54.9h1v6.7h-1zM547 54.9h1v6.7h-1zM578 61.5h1v6.7h-1zM580 61.5h1v6.7h-1zM582 61.5h1v6.7h-1zM587 61.5h1v6.7h-1zM600 48.2h1v6.7h-1zM601 48.2h1v6.7h-1zM601 54.9h1v6.7h-1zM601 61.5h1v6.7h-1zM602 48.2h1v6.7h-1zM602 54.9h1v6.7h-1zM602 61.5h1v6.7h-1zM563 88.2h1v6.6h-1zM563 94.8h1v6.6h-1zM567 88.2h1v6.6h-1zM568 88.2h1v6.6h-1zM568 101.4h1v6.6h-1zM539 108h1v6.7h-1zM540 108h1v6.7h-1zM565 114.6h1v6.7h-1z" fill="#9ac9e0" shape-rendering="crispEdges"/>
<path d="M546 48.2h1v6.7h-1zM546 54.9h1v6.7h-1zM547 48.2h1v6.7h-1zM547 61.5h1v6.7h-1zM548 54.9h1v6.7h-1zM556 61.5h1v6.7h-1zM579 48.2h1v6.7h-1zM580 48.2h1v6.7h-1zM581 48.2h1v6.7h-1zM582 48.2h1v6.7h-1zM583 48.2h1v6.7h-1zM587 48.2h1v6.7h-1zM587 54.9h1v6.7h-1zM599 54.9h1v6.7h-1zM600 61.5h1v6.7h-1zM539 94.8h1v6.6h-1zM539 101.4h1v6.6h-1zM540 94.8h1v6.6h-1zM554 101.4h1v6.6h-1zM559 94.8h1v6.6h-1zM561 94.8h1v6.6h-1zM563 101.4h1v6.6h-1zM564 88.2h1v6.6h-1zM564 94.8h1v6.6h-1zM564 101.4h1v6.6h-1zM567 101.4h1v6.6h-1zM574 88.2h1v6.6h-1zM575 88.2h1v6.6h-1zM576 88.2h1v6.6h-1zM539 114.6h1v6.7h-1zM540 114.6h1v6.7h-1zM553 114.6h1v6.7h-1zM561 114.6h1v6.7h-1zM562 114.6h1v6.7h-1zM563 114.6h1v6.7h-1zM564 114.6h1v6.7h-1zM566 114.6h1v6.7h-1zM615 127.9h1v6.7h-1zM622 134.5h1v6.7h-1zM614 147.8h1v6.6h-1zM615 147.8h1v6.6h-1zM617 147.8h1v6.6h-1zM618 147.8h1v6.6h-1z" fill="#a7d0e4" shape-rendering="crispEdges"/>
<path d="M562 48.2h1v6.7h-1zM562 61.5h1v6.7h-1zM535 68.2h1v6.7h-1zM538 68.2h1v6.7h-1zM545 68.2h1v6.7h-1zM545 74.9h1v6.7h-1zM546 74.9h1v6.7h-1zM550 68.2h1v6.7h-1zM551 68.2h1v6.7h-1zM564 81.5h1v6.7h-1zM570 81.5h1v6.7h-1zM583 74.9h1v6.7h-1zM580 88.2h1v6.6h-1zM581 101.4h1v6.6h-1zM585 101.4h1v6.6h-1zM588 94.8h1v6.6h-1zM596 101.4h1v6.6h-1zM608 94.8h1v6.6h-1zM609 94.8h1v6.6h-1zM617 94.8h1v6.6h-1zM622 101.4h1v6.6h-1zM583 114.6h1v6.7h-1zM585 108h1v6.7h-1zM599 108h1v6.7h-1zM599 121.3h1v6.7h-1zM600 108h1v6.7h-1zM601 114.6h1v6.7h-1zM602 108h1v6.7h-1zM602 121.3h1v6.7h-1zM615 108h1v6.7h-1zM621 108h1v6.7h-1zM584 141.2h1v6.7h-1zM586 134.5h1v6.7h-1zM587 141.2h1v6.7h-1zM588 141.2h1v6.7h-1zM592 141.2h1v6.7h-1zM593 141.2h1v6.7h-1zM594 127.9h1v6.7h-1zM604 127.9h1v6.7h-1zM604 134.5h1v6.7h-1zM604 141.2h1v6.7h-1zM621 141.2h1v6.7h-1zM560 154.4h1v6.6h-1zM560 161h1v6.6h-1zM561 147.8h1v6.6h-1zM562 154.4h1v6.6h-1zM562 161h1v6.6h-1zM563 154.4h1v6.6h-1zM564 147.8h1v6.6h-1zM564 161h1v6.6h-1zM565 147.8h1v6.6h-1zM566 147.8h1v6.6h-1zM566 154.4h1v6.6h-1zM573 147.8h1v6.6h-1zM573 161h1v6.6h-1zM575 147.8h1v6.6h-1zM575 154.4h1v6.6h-1zM576 154.4h1v6.6h-1zM576 161h1v6.6h-1zM577 154.4h1v6.6h-1zM577 161h1v6.6h-1zM597 161h1v6.6h-1zM598 154.4h1v6.6h-1z" fill="#f7f7f7" shape-rendering="crispEdges"/>
<path d="M563 48.2h1v6.7h-1zM563 61.5h1v6.7h-1zM564 48.2h1v6.7h-1zM609 54.9h1v6.7h-1zM611 54.9h1v6.7h-1zM616 48.2h1v6.7h-1zM616 54.9h1v6.7h-1zM618 48.2h1v6.7h-1zM618 61.5h1v6.7h-1zM623 54.9h1v6.7h-1zM577 68.2h1v6.7h-1zM577 74.9h1v6.7h-1zM578 68.2h1v6.7h-1zM578 74.9h1v6.7h-1zM578 81.5h1v6.7h-1zM614 88.2h1v6.6h-1zM614 101.4h1v6.6h-1zM535 134.5h1v6.7h-1zM542 134.5h1v6.7h-1zM543 134.5h1v6.7h-1zM544 141.2h1v6.7h-1zM545 141.2h1v6.7h-1zM548 141.2h1v6.7h-1zM549 141.2h1v6.7h-1zM550 141.2h1v6.7h-1zM552 141.2h1v6.7h-1zM553 141.2h1v6.7h-1zM557 127.9h1v6.7h-1zM558 141.2h1v6.7h-1zM560 134.5h1v6.7h-1zM561 127.9h1v6.7h-1zM563 127.9h1v6.7h-1zM564 127.9h1v6.7h-1zM565 127.9h1v6.7h-1zM566 134.5h1v6.7h-1zM567 134.5h1v6.7h-1zM569 134.5h1v6.7h-1zM570 127.9h1v6.7h-1zM542 161h1v6.6h-1zM545 161h1v6.6h-1zM546 147.8h1v6.6h-1zM546 161h1v6.6h-1zM547 161h1v6.6h-1zM548 161h1v6.6h-1zM550 147.8h1v6.6h-1zM550 154.4h1v6.6h-1zM551 154.4h1v6.6h-1zM555 147.8h1v6.6h-1zM555 154.4h1v6.6h-1zM556 147.8h1v6.6h-1zM557 161h1v6.6h-1zM578 161h1v6.6h-1zM580 161h1v6.6h-1zM581 147.8h1v6.6h-1zM590 154.4h1v6.6h-1zM590 161h1v6.6h-1z" fill="#f7b799" shape-rendering="crispEdges"/>
<path d="M563 54.9h1v6.7h-1zM564 54.9h1v6.7h-1zM565 48.2h1v6.7h-1zM565 61.5h1v6.7h-1zM571 54.9h1v6.7h-1zM572 48.2h1v6.7h-1zM572 54.9h1v6.7h-1zM573 48.2h1v6.7h-1zM573 54.9h1v6.7h-1zM574 48.2h1v6.7h-1zM575 48.2h1v6.7h-1zM607 48.2h1v6.7h-1zM607 54.9h1v6.7h-1zM607 61.5h1v6.7h-1zM608 48.2h1v6.7h-1zM608 61.5h1v6.7h-1zM613 48.2h1v6.7h-1zM613 61.5h1v6.7h-1zM614 48.2h1v6.7h-1zM620 48.2h1v6.7h-1zM620 54.9h1v6.7h-1zM620 61.5h1v6.7h-1zM622 48.2h1v6.7h-1zM622 61.5h1v6.7h-1zM541 74.9h1v6.7h-1zM554 74.9h1v6.7h-1zM579 68.2h1v6.7h-1zM600 68.2h1v6.7h-1zM604 74.9h1v6.7h-1zM604 81.5h1v6.7h-1zM605 68.2h1v6.7h-1zM606 68.2h1v6.7h-1zM608 81.5h1v6.7h-1zM609 81.5h1v6.7h-1zM610 74.9h1v6.7h-1zM610 81.5h1v6.7h-1zM611 68.2h1v6.7h-1zM611 81.5h1v6.7h-1zM612 74.9h1v6.7h-1zM612 81.5h1v6.7h-1zM613 68.2h1v6.7h-1zM613 74.9h1v6.7h-1zM613 81.5h1v6.7h-1zM614 68.2h1v6.7h-1zM614 74.9h1v6.7h-1zM617 68.2h1v6.7h-1zM619 74.9h1v6.7h-1zM619 81.5h1v6.7h-1zM621 68.2h1v6.7h-1zM609 88.2h1v6.6h-1zM610 88.2h1v6.6h-1zM610 101.4h1v6.6h-1zM612 101.4h1v6.6h-1zM613 101.4h1v6.6h-1zM616 88.2h1v6.6h-1zM616 101.4h1v6.6h-1zM620 101.4h1v6.6h-1zM621 94.8h1v6.6h-1zM589 108h1v6.7h-1zM592 114.6h1v6.7h-1zM594 114.6h1v6.7h-1zM595 114.6h1v6.7h-1zM604 114.6h1v6.7h-1zM608 114.6h1v6.7h-1zM609 114.6h1v6.7h-1zM613 114.6h1v6.7h-1zM613 121.3h1v6.7h-1zM618 108h1v6.7h-1zM618 121.3h1v6.7h-1zM536 127.9h1v6.7h-1zM536 141.2h1v6.7h-1zM538 127.9h1v6.7h-1zM538 141.2h1v6.7h-1zM539 134.5h1v6.7h-1zM540 127.9h1v6.7h-1zM540 141.2h1v6.7h-1zM541 127.9h1v6.7h-1zM541 141.2h1v6.7h-1zM549 134.5h1v6.7h-1zM551 127.9h1v6.7h-1zM554 134.5h1v6.7h-1zM559 127.9h1v6.7h-1zM570 134.5h1v6.7h-1zM573 141.2h1v6.7h-1zM575 141.2h1v6.7h-1zM576 127.9h1v6.7h-1zM579 141.2h1v6.7h-1zM580 141.2h1v6.7h-1zM535 147.8h1v6.6h-1zM535 161h1v6.6h-1zM536 147.8h1v6.6h-1zM536 154.4h1v6.6h-1zM537 147.8h1v6.6h-1zM538 147.8h1v6.6h-1zM539 161h1v6.6h-1zM540 154.4h1v6.6h-1zM540 161h1v6.6h-1zM541 147.8h1v6.6h-1zM547 154.4h1v6.6h-1zM551 147.8h1v6.6h-1zM554 154.4h1v6.6h-1zM554 161h1v6.6h-1zM558 161h1v6.6h-1zM595 147.8h1v6.6h-1z" fill="#fdd9c4" shape-rendering="crispEdges"/>
<path d="M564 61.5h1v6.7h-1zM609 48.2h1v6.7h-1zM609 61.5h1v6.7h-1zM610 54.9h1v6.7h-1zM611 48.2h1v6.7h-1zM613 54.9h1v6.7h-1zM615 48.2h1v6.7h-1zM615 54.9h1v6.7h-1zM615 61.5h1v6.7h-1zM617 48.2h1v6.7h-1zM618 54.9h1v6.7h-1zM552 74.9h1v6.7h-1zM576 74.9h1v6.7h-1zM577 81.5h1v6.7h-1zM600 74.9h1v6.7h-1zM606 81.5h1v6.7h-1zM612 88.2h1v6.6h-1zM615 88.2h1v6.6h-1zM615 101.4h1v6.6h-1zM589 114.6h1v6.7h-1zM590 114.6h1v6.7h-1zM537 127.9h1v6.7h-1zM537 134.5h1v6.7h-1zM542 141.2h1v6.7h-1zM543 127.9h1v6.7h-1zM543 141.2h1v6.7h-1zM544 127.9h1v6.7h-1zM547 127.9h1v6.7h-1zM547 134.5h1v6.7h-1zM550 127.9h1v6.7h-1zM551 141.2h1v6.7h-1zM554 127.9h1v6.7h-1zM554 141.2h1v6.7h-1zM555 127.9h1v6.7h-1zM555 141.2h1v6.7h-1zM558 127.9h1v6.7h-1zM558 134.5h1v6.7h-1zM559 141.2h1v6.7h-1zM560 141.2h1v6.7h-1zM570 141.2h1v6.7h-1zM573 127.9h1v6.7h-1zM577 141.2h1v6.7h-1zM582 141.2h1v6.7h-1zM537 154.4h1v6.6h-1zM538 154.4h1v6.6h-1zM543 147.8h1v6.6h-1zM543 154.4h1v6.6h-1zM549 161h1v6.6h-1zM550 161h1v6.6h-1zM551 161h1v6.6h-1zM557 154.4h1v6.6h-1zM559 154.4h1v6.6h-1zM559 161h1v6.6h-1z" fill="#f9c2a7" shape-rendering="crispEdges"/>
<path d="M565 54.9h1v6.7h-1zM566 48.2h1v6.7h-1zM566 54.9h1v6.7h-1zM567 48.2h1v6.7h-1zM568 48.2h1v6.7h-1zM568 54.9h1v6.7h-1zM569 54.9h1v6.7h-1zM574 54.9h1v6.7h-1zM574 61.5h1v6.7h-1zM621 61.5h1v6.7h-1zM536 74.9h1v6.7h-1zM537 74.9h1v6.7h-1zM538 74.9h1v6.7h-1zM540 68.2h1v6.7h-1zM540 81.5h1v6.7h-1zM541 68.2h1v6.7h-1zM541 81.5h1v6.7h-1zM542 74.9h1v6.7h-1zM548 74.9h1v6.7h-1zM548 81.5h1v6.7h-1zM550 74.9h1v6.7h-1zM552 68.2h1v6.7h-1zM602 68.2h1v6.7h-1zM603 81.5h1v6.7h-1zM609 68.2h1v6.7h-1zM610 68.2h1v6.7h-1zM614 81.5h1v6.7h-1zM615 68.2h1v6.7h-1zM618 81.5h1v6.7h-1zM620 74.9h1v6.7h-1zM621 74.9h1v6.7h-1zM622 68.2h1v6.7h-1zM622 81.5h1v6.7h-1zM581 94.8h1v6.6h-1zM582 88.2h1v6.6h-1zM582 94.8h1v6.6h-1zM583 88.2h1v6.6h-1zM585 94.8h1v6.6h-1zM586 94.8h1v6.6h-1zM587 94.8h1v6.6h-1zM591 94.8h1v6.6h-1zM592 94.8h1v6.6h-1zM594 94.8h1v6.6h-1zM595 94.8h1v6.6h-1zM598 88.2h1v6.6h-1zM598 94.8h1v6.6h-1zM598 101.4h1v6.6h-1zM600 101.4h1v6.6h-1zM602 88.2h1v6.6h-1zM602 94.8h1v6.6h-1zM603 101.4h1v6.6h-1zM605 88.2h1v6.6h-1zM607 101.4h1v6.6h-1zM608 88.2h1v6.6h-1zM608 101.4h1v6.6h-1zM615 94.8h1v6.6h-1zM618 88.2h1v6.6h-1zM621 88.2h1v6.6h-1zM623 88.2h1v6.6h-1zM580 108h1v6.7h-1zM581 108h1v6.7h-1zM581 121.3h1v6.7h-1zM582 108h1v6.7h-1zM582 121.3h1v6.7h-1zM583 108h1v6.7h-1zM587 114.6h1v6.7h-1zM587 121.3h1v6.7h-1zM588 108h1v6.7h-1zM590 108h1v6.7h-1zM591 108h1v6.7h-1zM594 121.3h1v6.7h-1zM596 108h1v6.7h-1zM596 121.3h1v6.7h-1zM597 114.6h1v6.7h-1zM598 108h1v6.7h-1zM598 121.3h1v6.7h-1zM603 114.6h1v6.7h-1zM604 108h1v6.7h-1zM606 108h1v6.7h-1zM608 121.3h1v6.7h-1zM609 108h1v6.7h-1zM609 121.3h1v6.7h-1zM611 121.3h1v6.7h-1zM612 114.6h1v6.7h-1zM614 121.3h1v6.7h-1zM619 114.6h1v6.7h-1zM619 121.3h1v6.7h-1zM623 114.6h1v6.7h-1zM539 127.9h1v6.7h-1zM539 141.2h1v6.7h-1zM546 127.9h1v6.7h-1zM546 134.5h1v6.7h-1zM546 141.2h1v6.7h-1zM551 134.5h1v6.7h-1zM573 134.5h1v6.7h-1zM579 134.5h1v6.7h-1zM580 134.5h1v6.7h-1zM581 134.5h1v6.7h-1zM582 134.5h1v6.7h-1zM553 154.4h1v6.6h-1zM553 161h1v6.6h-1zM569 154.4h1v6.6h-1zM570 154.4h1v6.6h-1zM571 154.4h1v6.6h-1zM571 161h1v6.6h-1zM582 147.8h1v6.6h-1zM582 154.4h1v6.6h-1zM582 161h1v6.6h-1zM595 154.4h1v6.6h-1zM595 161h1v6.6h-1zM599 147.8h1v6.6h-1zM599 161h1v6.6h-1zM601 147.8h1v6.6h-1zM604 147.8h1v6.6h-1zM604 154.4h1v6.6h-1zM605 147.8h1v6.6h-1zM605 154.4h1v6.6h-1zM605 161h1v6.6h-1zM606 147.8h1v6.6h-1z" fill="#fbe6d9" shape-rendering="crispEdges"/>
<path d="M566 61.5h1v6.7h-1zM567 61.5h1v6.7h-1zM571 61.5h1v6.7h-1zM572 61.5h1v6.7h-1zM608 54.9h1v6.7h-1zM610 48.2h1v6.7h-1zM610 61.5h1v6.7h-1zM611 61.5h1v6.7h-1zM612 54.9h1v6.7h-1zM614 54.9h1v6.7h-1zM614 61.5h1v6.7h-1zM616 61.5h1v6.7h-1zM617 54.9h1v6.7h-1zM617 61.5h1v6.7h-1zM622 54.9h1v6.7h-1zM623 48.2h1v6.7h-1zM623 61.5h1v6.7h-1zM553 74.9h1v6.7h-1zM576 68.2h1v6.7h-1zM576 81.5h1v6.7h-1zM579 74.9h1v6.7h-1zM600 81.5h1v6.7h-1zM602 74.9h1v6.7h-1zM605 74.9h1v6.7h-1zM605 81.5h1v6.7h-1zM606 74.9h1v6.7h-1zM608 74.9h1v6.7h-1zM611 74.9h1v6.7h-1zM612 68.2h1v6.7h-1zM618 68.2h1v6.7h-1zM619 68.2h1v6.7h-1zM613 88.2h1v6.6h-1zM619 88.2h1v6.6h-1zM620 88.2h1v6.6h-1zM620 94.8h1v6.6h-1zM588 114.6h1v6.7h-1zM589 121.3h1v6.7h-1zM591 114.6h1v6.7h-1zM593 114.6h1v6.7h-1zM596 114.6h1v6.7h-1zM535 127.9h1v6.7h-1zM535 141.2h1v6.7h-1zM536 134.5h1v6.7h-1zM537 141.2h1v6.7h-1zM538 134.5h1v6.7h-1zM540 134.5h1v6.7h-1zM541 134.5h1v6.7h-1zM542 127.9h1v6.7h-1zM548 127.9h1v6.7h-1zM548 134.5h1v6.7h-1zM549 127.9h1v6.7h-1zM552 127.9h1v6.7h-1zM553 127.9h1v6.7h-1zM555 134.5h1v6.7h-1zM559 134.5h1v6.7h-1zM560 127.9h1v6.7h-1zM566 127.9h1v6.7h-1zM571 127.9h1v6.7h-1zM572 127.9h1v6.7h-1zM574 127.9h1v6.7h-1zM574 141.2h1v6.7h-1zM576 134.5h1v6.7h-1zM576 141.2h1v6.7h-1zM577 127.9h1v6.7h-1zM577 134.5h1v6.7h-1zM578 141.2h1v6.7h-1zM581 141.2h1v6.7h-1zM535 154.4h1v6.6h-1zM537 161h1v6.6h-1zM538 161h1v6.6h-1zM539 154.4h1v6.6h-1zM541 154.4h1v6.6h-1zM541 161h1v6.6h-1zM542 147.8h1v6.6h-1zM542 154.4h1v6.6h-1zM544 154.4h1v6.6h-1zM545 154.4h1v6.6h-1zM546 154.4h1v6.6h-1zM547 147.8h1v6.6h-1zM548 147.8h1v6.6h-1zM548 154.4h1v6.6h-1zM549 147.8h1v6.6h-1zM549 154.4h1v6.6h-1zM557 147.8h1v6.6h-1zM559 147.8h1v6.6h-1z" fill="#fbceb6" shape-rendering="crispEdges"/>
<path d="M567 54.9h1v6.7h-1zM568 61.5h1v6.7h-1zM569 61.5h1v6.7h-1zM570 54.9h1v6.7h-1zM570 61.5h1v6.7h-1zM571 48.2h1v6.7h-1zM573 61.5h1v6.7h-1zM575 54.9h1v6.7h-1zM575 61.5h1v6.7h-1zM612 48.2h1v6.7h-1zM612 61.5h1v6.7h-1zM621 48.2h1v6.7h-1zM621 54.9h1v6.7h-1zM539 74.9h1v6.7h-1zM540 74.9h1v6.7h-1zM551 74.9h1v6.7h-1zM552 81.5h1v6.7h-1zM579 81.5h1v6.7h-1zM602 81.5h1v6.7h-1zM603 68.2h1v6.7h-1zM603 74.9h1v6.7h-1zM604 68.2h1v6.7h-1zM608 68.2h1v6.7h-1zM609 74.9h1v6.7h-1zM616 68.2h1v6.7h-1zM617 81.5h1v6.7h-1zM618 74.9h1v6.7h-1zM620 68.2h1v6.7h-1zM621 81.5h1v6.7h-1zM593 94.8h1v6.6h-1zM599 88.2h1v6.6h-1zM599 101.4h1v6.6h-1zM600 88.2h1v6.6h-1zM603 88.2h1v6.6h-1zM605 101.4h1v6.6h-1zM607 88.2h1v6.6h-1zM609 101.4h1v6.6h-1zM611 88.2h1v6.6h-1zM611 101.4h1v6.6h-1zM612 94.8h1v6.6h-1zM614 94.8h1v6.6h-1zM619 94.8h1v6.6h-1zM619 101.4h1v6.6h-1zM622 94.8h1v6.6h-1zM580 121.3h1v6.7h-1zM588 121.3h1v6.7h-1zM590 121.3h1v6.7h-1zM591 121.3h1v6.7h-1zM598 114.6h1v6.7h-1zM605 114.6h1v6.7h-1zM606 114.6h1v6.7h-1zM608 108h1v6.7h-1zM610 114.6h1v6.7h-1zM611 114.6h1v6.7h-1zM612 121.3h1v6.7h-1zM614 114.6h1v6.7h-1zM618 114.6h1v6.7h-1zM619 108h1v6.7h-1zM550 134.5h1v6.7h-1zM552 134.5h1v6.7h-1zM553 134.5h1v6.7h-1zM571 141.2h1v6.7h-1zM572 141.2h1v6.7h-1zM574 134.5h1v6.7h-1zM575 127.9h1v6.7h-1zM575 134.5h1v6.7h-1zM578 134.5h1v6.7h-1zM581 127.9h1v6.7h-1zM582 127.9h1v6.7h-1zM536 161h1v6.6h-1zM539 147.8h1v6.6h-1zM540 147.8h1v6.6h-1zM552 154.4h1v6.6h-1zM552 161h1v6.6h-1zM554 147.8h1v6.6h-1zM558 147.8h1v6.6h-1zM558 154.4h1v6.6h-1zM601 154.4h1v6.6h-1zM603 154.4h1v6.6h-1z" fill="#fce0cf" shape-rendering="crispEdges"/>
<path d="M569 48.2h1v6.7h-1zM570 48.2h1v6.7h-1zM619 48.2h1v6.7h-1zM619 54.9h1v6.7h-1zM619 61.5h1v6.7h-1zM536 81.5h1v6.7h-1zM537 81.5h1v6.7h-1zM539 68.2h1v6.7h-1zM539 81.5h1v6.7h-1zM543 74.9h1v6.7h-1zM543 81.5h1v6.7h-1zM544 68.2h1v6.7h-1zM544 74.9h1v6.7h-1zM544 81.5h1v6.7h-1zM546 81.5h1v6.7h-1zM547 68.2h1v6.7h-1zM549 74.9h1v6.7h-1zM549 81.5h1v6.7h-1zM550 81.5h1v6.7h-1zM551 81.5h1v6.7h-1zM553 68.2h1v6.7h-1zM553 81.5h1v6.7h-1zM575 68.2h1v6.7h-1zM575 74.9h1v6.7h-1zM575 81.5h1v6.7h-1zM601 68.2h1v6.7h-1zM601 74.9h1v6.7h-1zM601 81.5h1v6.7h-1zM607 81.5h1v6.7h-1zM615 74.9h1v6.7h-1zM615 81.5h1v6.7h-1zM616 74.9h1v6.7h-1zM616 81.5h1v6.7h-1zM617 74.9h1v6.7h-1zM620 81.5h1v6.7h-1zM623 68.2h1v6.7h-1zM581 88.2h1v6.6h-1zM582 101.4h1v6.6h-1zM583 94.8h1v6.6h-1zM584 88.2h1v6.6h-1zM585 88.2h1v6.6h-1zM586 88.2h1v6.6h-1zM591 101.4h1v6.6h-1zM593 88.2h1v6.6h-1zM593 101.4h1v6.6h-1zM594 88.2h1v6.6h-1zM594 101.4h1v6.6h-1zM595 88.2h1v6.6h-1zM595 101.4h1v6.6h-1zM597 88.2h1v6.6h-1zM599 94.8h1v6.6h-1zM600 94.8h1v6.6h-1zM601 88.2h1v6.6h-1zM601 94.8h1v6.6h-1zM601 101.4h1v6.6h-1zM602 101.4h1v6.6h-1zM603 94.8h1v6.6h-1zM604 88.2h1v6.6h-1zM604 94.8h1v6.6h-1zM604 101.4h1v6.6h-1zM605 94.8h1v6.6h-1zM606 101.4h1v6.6h-1zM610 94.8h1v6.6h-1zM613 94.8h1v6.6h-1zM616 94.8h1v6.6h-1zM617 88.2h1v6.6h-1zM618 94.8h1v6.6h-1zM618 101.4h1v6.6h-1zM622 88.2h1v6.6h-1zM623 94.8h1v6.6h-1zM583 121.3h1v6.7h-1zM584 108h1v6.7h-1zM584 114.6h1v6.7h-1zM584 121.3h1v6.7h-1zM585 121.3h1v6.7h-1zM586 121.3h1v6.7h-1zM587 108h1v6.7h-1zM592 121.3h1v6.7h-1zM593 108h1v6.7h-1zM593 121.3h1v6.7h-1zM594 108h1v6.7h-1zM595 108h1v6.7h-1zM595 121.3h1v6.7h-1zM599 114.6h1v6.7h-1zM600 114.6h1v6.7h-1zM602 114.6h1v6.7h-1zM603 108h1v6.7h-1zM605 108h1v6.7h-1zM606 121.3h1v6.7h-1zM610 121.3h1v6.7h-1zM613 108h1v6.7h-1zM614 108h1v6.7h-1zM615 121.3h1v6.7h-1zM616 114.6h1v6.7h-1zM617 114.6h1v6.7h-1zM617 121.3h1v6.7h-1zM620 114.6h1v6.7h-1zM621 114.6h1v6.7h-1zM622 114.6h1v6.7h-1zM572 134.5h1v6.7h-1zM578 127.9h1v6.7h-1zM579 127.9h1v6.7h-1zM580 127.9h1v6.7h-1zM585 141.2h1v6.7h-1zM552 147.8h1v6.6h-1zM567 147.8h1v6.6h-1zM567 154.4h1v6.6h-1zM567 161h1v6.6h-1zM568 147.8h1v6.6h-1zM568 154.4h1v6.6h-1zM568 161h1v6.6h-1zM569 161h1v6.6h-1zM570 147.8h1v6.6h-1zM570 161h1v6.6h-1zM571 147.8h1v6.6h-1zM572 147.8h1v6.6h-1zM572 154.4h1v6.6h-1zM577 147.8h1v6.6h-1zM596 147.8h1v6.6h-1zM596 161h1v6.6h-1zM599 154.4h1v6.6h-1zM600 147.8h1v6.6h-1zM600 154.4h1v6.6h-1zM601 161h1v6.6h-1zM603 147.8h1v6.6h-1zM603 161h1v6.6h-1zM604 161h1v6.6h-1zM606 154.4h1v6.6h-1z" fill="#faebe3" shape-rendering="crispEdges"/>
<path d="M579 61.5h1v6.7h-1zM581 61.5h1v6.7h-1zM583 61.5h1v6.7h-1zM600 54.9h1v6.7h-1z" fill="#8bc1dc" shape-rendering="crispEdges"/>
<path d="M535 74.9h1v6.7h-1zM536 68.2h1v6.7h-1zM537 68.2h1v6.7h-1zM538 81.5h1v6.7h-1zM542 68.2h1v6.7h-1zM542 81.5h1v6.7h-1zM543 68.2h1v6.7h-1zM545 81.5h1v6.7h-1zM546 68.2h1v6.7h-1zM547 74.9h1v6.7h-1zM547 81.5h1v6.7h-1zM548 68.2h1v6.7h-1zM554 68.2h1v6.7h-1zM554 81.5h1v6.7h-1zM607 68.2h1v6.7h-1zM607 74.9h1v6.7h-1zM622 74.9h1v6.7h-1zM623 74.9h1v6.7h-1zM623 81.5h1v6.7h-1zM580 94.8h1v6.6h-1zM583 101.4h1v6.6h-1zM584 94.8h1v6.6h-1zM586 101.4h1v6.6h-1zM587 88.2h1v6.6h-1zM587 101.4h1v6.6h-1zM589 94.8h1v6.6h-1zM590 94.8h1v6.6h-1zM591 88.2h1v6.6h-1zM592 88.2h1v6.6h-1zM592 101.4h1v6.6h-1zM596 88.2h1v6.6h-1zM596 94.8h1v6.6h-1zM597 94.8h1v6.6h-1zM597 101.4h1v6.6h-1zM606 88.2h1v6.6h-1zM606 94.8h1v6.6h-1zM607 94.8h1v6.6h-1zM611 94.8h1v6.6h-1zM617 101.4h1v6.6h-1zM621 101.4h1v6.6h-1zM623 101.4h1v6.6h-1zM580 114.6h1v6.7h-1zM581 114.6h1v6.7h-1zM582 114.6h1v6.7h-1zM585 114.6h1v6.7h-1zM586 108h1v6.7h-1zM586 114.6h1v6.7h-1zM592 108h1v6.7h-1zM597 108h1v6.7h-1zM597 121.3h1v6.7h-1zM600 121.3h1v6.7h-1zM603 121.3h1v6.7h-1zM604 121.3h1v6.7h-1zM607 108h1v6.7h-1zM607 114.6h1v6.7h-1zM607 121.3h1v6.7h-1zM610 108h1v6.7h-1zM611 108h1v6.7h-1zM612 108h1v6.7h-1zM615 114.6h1v6.7h-1zM616 108h1v6.7h-1zM616 121.3h1v6.7h-1zM617 108h1v6.7h-1zM620 108h1v6.7h-1zM620 121.3h1v6.7h-1zM621 121.3h1v6.7h-1zM623 108h1v6.7h-1zM623 121.3h1v6.7h-1zM571 134.5h1v6.7h-1zM586 141.2h1v6.7h-1zM592 127.9h1v6.7h-1zM593 127.9h1v6.7h-1zM553 147.8h1v6.6h-1zM561 154.4h1v6.6h-1zM561 161h1v6.6h-1zM564 154.4h1v6.6h-1zM565 154.4h1v6.6h-1zM565 161h1v6.6h-1zM566 161h1v6.6h-1zM569 147.8h1v6.6h-1zM572 161h1v6.6h-1zM573 154.4h1v6.6h-1zM576 147.8h1v6.6h-1zM597 147.8h1v6.6h-1zM598 147.8h1v6.6h-1zM598 161h1v6.6h-1zM600 161h1v6.6h-1zM602 147.8h1v6.6h-1zM602 154.4h1v6.6h-1zM602 161h1v6.6h-1zM606 161h1v6.6h-1z" fill="#f8f1ed" shape-rendering="crispEdges"/>
<path d="M544 134.5h1v6.7h-1zM545 127.9h1v6.7h-1zM547 141.2h1v6.7h-1zM556 127.9h1v6.7h-1zM556 134.5h1v6.7h-1zM556 141.2h1v6.7h-1zM557 134.5h1v6.7h-1zM557 141.2h1v6.7h-1zM561 141.2h1v6.7h-1zM562 127.9h1v6.7h-1zM562 141.2h1v6.7h-1zM566 141.2h1v6.7h-1zM567 127.9h1v6.7h-1zM567 141.2h1v6.7h-1zM568 134.5h1v6.7h-1zM544 147.8h1v6.6h-1zM555 161h1v6.6h-1zM556 154.4h1v6.6h-1zM578 147.8h1v6.6h-1zM579 161h1v6.6h-1zM580 147.8h1v6.6h-1zM580 154.4h1v6.6h-1zM581 161h1v6.6h-1zM589 161h1v6.6h-1zM591 154.4h1v6.6h-1z" fill="#f5ac8b" shape-rendering="crispEdges"/>
<path d="M545 134.5h1v6.7h-1zM564 134.5h1v6.7h-1zM564 141.2h1v6.7h-1zM568 127.9h1v6.7h-1zM543 161h1v6.6h-1zM544 161h1v6.6h-1zM545 147.8h1v6.6h-1zM556 161h1v6.6h-1zM578 154.4h1v6.6h-1zM579 147.8h1v6.6h-1zM579 154.4h1v6.6h-1zM581 154.4h1v6.6h-1zM583 147.8h1v6.6h-1zM584 147.8h1v6.6h-1zM586 147.8h1v6.6h-1zM587 147.8h1v6.6h-1zM587 161h1v6.6h-1zM589 147.8h1v6.6h-1zM589 154.4h1v6.6h-1zM590 147.8h1v6.6h-1zM591 147.8h1v6.6h-1zM591 161h1v6.6h-1zM592 147.8h1v6.6h-1zM592 154.4h1v6.6h-1zM594 154.4h1v6.6h-1z" fill="#f19f7e" shape-rendering="crispEdges"/>
<path d="M561 134.5h1v6.7h-1zM562 134.5h1v6.7h-1zM563 134.5h1v6.7h-1zM563 141.2h1v6.7h-1zM565 134.5h1v6.7h-1zM565 141.2h1v6.7h-1zM568 141.2h1v6.7h-1zM569 127.9h1v6.7h-1zM569 141.2h1v6.7h-1zM584 161h1v6.6h-1zM585 147.8h1v6.6h-1zM585 161h1v6.6h-1zM586 161h1v6.6h-1zM587 154.4h1v6.6h-1zM588 154.4h1v6.6h-1zM588 161h1v6.6h-1zM592 161h1v6.6h-1z" fill="#eb9173" shape-rendering="crispEdges"/>
<path d="M583 154.4h1v6.6h-1zM594 147.8h1v6.6h-1z" fill="#df745c" shape-rendering="crispEdges"/>
<path d="M583 161h1v6.6h-1zM584 154.4h1v6.6h-1zM585 154.4h1v6.6h-1zM586 154.4h1v6.6h-1zM588 147.8h1v6.6h-1zM593 154.4h1v6.6h-1zM594 161h1v6.6h-1z" fill="#e58268" shape-rendering="crispEdges"/>
<path d="M593 147.8h1v6.6h-1zM593 161h1v6.6h-1z" fill="#d86651" shape-rendering="crispEdges"/>
<rect x="236.6" y="48.2" width="294.7" height="20" fill="none" stroke="#3a3a3a" stroke-width="0.8"/>
<rect x="535.2" y="48.2" width="88.3" height="20" fill="none" stroke="#3a3a3a" stroke-width="0.8"/>
<rect x="236.6" y="68.2" width="294.7" height="20" fill="none" stroke="#3a3a3a" stroke-width="0.8"/>
<rect x="535.2" y="68.2" width="88.3" height="20" fill="none" stroke="#3a3a3a" stroke-width="0.8"/>
<rect x="236.6" y="88.2" width="294.7" height="19.8" fill="none" stroke="#3a3a3a" stroke-width="0.8"/>
<rect x="535.2" y="88.2" width="88.3" height="19.8" fill="none" stroke="#3a3a3a" stroke-width="0.8"/>
<rect x="236.6" y="108" width="294.7" height="19.9" fill="none" stroke="#3a3a3a" stroke-width="0.8"/>
<rect x="535.2" y="108" width="88.3" height="19.9" fill="none" stroke="#3a3a3a" stroke-width="0.8"/>
<rect x="236.6" y="127.9" width="294.7" height="19.9" fill="none" stroke="#3a3a3a" stroke-width="0.8"/>
<rect x="535.2" y="127.9" width="88.3" height="19.9" fill="none" stroke="#3a3a3a" stroke-width="0.8"/>
<rect x="236.6" y="147.8" width="294.7" height="19.8" fill="none" stroke="#3a3a3a" stroke-width="0.8"/>
<rect x="535.2" y="147.8" width="88.3" height="19.8" fill="none" stroke="#3a3a3a" stroke-width="0.8"/>
<rect x="215.8" y="48.2" width="9.3" height="20" fill="#a783c1"/>
<rect x="225.1" y="48.2" width="9.3" height="20" fill="#c6a9d6"/>
<rect x="215.8" y="48.2" width="9.3" height="6.7" fill="#a07eb9"/>
<rect x="225.1" y="48.2" width="9.3" height="6.7" fill="#caacda"/>
<rect x="215.8" y="54.9" width="9.3" height="6.7" fill="#a783c1"/>
<rect x="225.1" y="54.9" width="9.3" height="6.7" fill="#c0a4d0"/>
<rect x="215.8" y="61.5" width="9.3" height="6.7" fill="#ac87c7"/>
<rect x="225.1" y="61.5" width="9.3" height="6.7" fill="#c6a9d6"/>
<rect x="215.8" y="48.2" width="18.6" height="20" fill="none" stroke="#333" stroke-width="0.9"/>
<rect x="215.8" y="68.2" width="9.3" height="20" fill="#c8aad8"/>
<rect x="225.1" y="68.2" width="9.3" height="20" fill="#cdb1db"/>
<rect x="215.8" y="68.2" width="9.3" height="6.7" fill="#c0a3cf"/>
<rect x="225.1" y="68.2" width="9.3" height="6.7" fill="#d1b5df"/>
<rect x="215.8" y="74.9" width="9.3" height="6.7" fill="#c8aad8"/>
<rect x="225.1" y="74.9" width="9.3" height="6.7" fill="#c7acd4"/>
<rect x="215.8" y="81.5" width="9.3" height="6.7" fill="#ceafde"/>
<rect x="225.1" y="81.5" width="9.3" height="6.7" fill="#cdb1db"/>
<rect x="215.8" y="68.2" width="18.6" height="20" fill="none" stroke="#333" stroke-width="0.9"/>
<rect x="215.8" y="88.2" width="9.3" height="19.8" fill="#ecdcee"/>
<rect x="225.1" y="88.2" width="9.3" height="19.8" fill="#80c680"/>
<rect x="215.8" y="88.2" width="9.3" height="6.6" fill="#e3d3e4"/>
<rect x="225.1" y="88.2" width="9.3" height="6.6" fill="#83ca83"/>
<rect x="215.8" y="94.8" width="9.3" height="6.6" fill="#ecdcee"/>
<rect x="225.1" y="94.8" width="9.3" height="6.6" fill="#7cc07c"/>
<rect x="215.8" y="101.4" width="9.3" height="6.6" fill="#f3e3f5"/>
<rect x="225.1" y="101.4" width="9.3" height="6.6" fill="#80c680"/>
<rect x="215.8" y="88.2" width="18.6" height="19.8" fill="none" stroke="#333" stroke-width="0.9"/>
<rect x="215.8" y="108" width="9.3" height="19.9" fill="#efe2f1"/>
<rect x="225.1" y="108" width="9.3" height="19.9" fill="#3e9d4c"/>
<rect x="215.8" y="108" width="9.3" height="6.7" fill="#e5d9e7"/>
<rect x="225.1" y="108" width="9.3" height="6.7" fill="#3fa04e"/>
<rect x="215.8" y="114.6" width="9.3" height="6.7" fill="#efe2f1"/>
<rect x="225.1" y="114.6" width="9.3" height="6.7" fill="#3c984a"/>
<rect x="215.8" y="121.3" width="9.3" height="6.7" fill="#f6e9f8"/>
<rect x="225.1" y="121.3" width="9.3" height="6.7" fill="#3e9d4c"/>
<rect x="215.8" y="108" width="18.6" height="19.9" fill="none" stroke="#333" stroke-width="0.9"/>
<rect x="215.8" y="127.9" width="9.3" height="19.9" fill="#82c882"/>
<rect x="225.1" y="127.9" width="9.3" height="19.9" fill="#a884c2"/>
<rect x="215.8" y="127.9" width="9.3" height="6.7" fill="#7dc07d"/>
<rect x="225.1" y="127.9" width="9.3" height="6.7" fill="#ab87c6"/>
<rect x="215.8" y="134.5" width="9.3" height="6.7" fill="#82c882"/>
<rect x="225.1" y="134.5" width="9.3" height="6.7" fill="#a380bc"/>
<rect x="215.8" y="141.2" width="9.3" height="6.7" fill="#86ce86"/>
<rect x="225.1" y="141.2" width="9.3" height="6.7" fill="#a884c2"/>
<rect x="215.8" y="127.9" width="18.6" height="19.9" fill="none" stroke="#333" stroke-width="0.9"/>
<rect x="215.8" y="147.8" width="9.3" height="19.8" fill="#2f8e40"/>
<rect x="225.1" y="147.8" width="9.3" height="19.8" fill="#eef6ec"/>
<rect x="215.8" y="147.8" width="9.3" height="6.6" fill="#2d883d"/>
<rect x="225.1" y="147.8" width="9.3" height="6.6" fill="#f3fbf1"/>
<rect x="215.8" y="154.4" width="9.3" height="6.6" fill="#2f8e40"/>
<rect x="225.1" y="154.4" width="9.3" height="6.6" fill="#e7efe5"/>
<rect x="215.8" y="161" width="9.3" height="6.6" fill="#309242"/>
<rect x="225.1" y="161" width="9.3" height="6.6" fill="#eef6ec"/>
<rect x="215.8" y="147.8" width="18.6" height="19.8" fill="none" stroke="#333" stroke-width="0.9"/>
<text x="223.6" y="45.8" font-size="7.7" transform="rotate(-90 223.6 45.8)">Factor1</text>
<text x="232.9" y="45.8" font-size="7.7" transform="rotate(-90 232.9 45.8)">Factor2</text>
<rect x="625.6" y="48.6" width="12.8" height="19.2" fill="#66a61e" stroke="#333" stroke-width="0.7"/>
<text x="630.3" y="58.2" font-size="5" text-anchor="middle" fill="#fff" transform="rotate(90 630.3 58.2)">NMC</text>
<rect x="625.6" y="68.6" width="12.8" height="19.2" fill="#e6ab02" stroke="#333" stroke-width="0.7"/>
<text x="630.3" y="78.2" font-size="5" text-anchor="middle" fill="#fff" transform="rotate(90 630.3 78.2)">LMC</text>
<rect x="625.6" y="88.6" width="12.8" height="19" fill="#7570b3" stroke="#333" stroke-width="0.7"/>
<text x="630.3" y="98.1" font-size="5" text-anchor="middle" fill="#fff" transform="rotate(90 630.3 98.1)">CSFMC</text>
<rect x="625.6" y="108.4" width="12.8" height="19.1" fill="#e7298a" stroke="#333" stroke-width="0.7"/>
<text x="630.3" y="118" font-size="5" text-anchor="middle" fill="#fff" transform="rotate(90 630.3 118)">FEVER</text>
<rect x="625.6" y="128.3" width="12.8" height="19.1" fill="#1b9e77" stroke="#333" stroke-width="0.7"/>
<text x="630.3" y="137.9" font-size="5" text-anchor="middle" fill="#fff" transform="rotate(90 630.3 137.9)">C+Y</text>
<rect x="625.6" y="148.2" width="12.8" height="19" fill="#d95f02" stroke="#333" stroke-width="0.7"/>
<text x="630.3" y="157.7" font-size="5" text-anchor="middle" fill="#fff" transform="rotate(90 630.3 157.7)">CSP</text>
<path d="M236 169.6h1v9.3h-1zM245 169.6h1v9.3h-1zM246 169.6h1v9.3h-1zM250 169.6h1v9.3h-1zM253 169.6h1v9.3h-1zM255 169.6h1v9.3h-1zM257 169.6h1v9.3h-1zM271 169.6h1v9.3h-1zM275 169.6h1v9.3h-1zM279 169.6h1v9.3h-1zM280 169.6h1v9.3h-1zM281 169.6h1v9.3h-1zM290 169.6h1v9.3h-1zM291 169.6h1v9.3h-1zM302 169.6h1v9.3h-1zM303 169.6h1v9.3h-1zM307 169.6h1v9.3h-1zM310 169.6h1v9.3h-1zM318 169.6h1v9.3h-1zM319 169.6h1v9.3h-1zM329 169.6h1v9.3h-1zM334 169.6h1v9.3h-1zM335 169.6h1v9.3h-1zM337 169.6h1v9.3h-1zM352 169.6h1v9.3h-1zM353 169.6h1v9.3h-1z" fill="#eadaea" shape-rendering="crispEdges"/>
<path d="M237 169.6h1v9.3h-1zM241 169.6h1v9.3h-1zM242 169.6h1v9.3h-1zM247 169.6h1v9.3h-1zM248 169.6h1v9.3h-1zM249 169.6h1v9.3h-1zM252 169.6h1v9.3h-1zM256 169.6h1v9.3h-1zM262 169.6h1v9.3h-1zM266 169.6h1v9.3h-1zM270 169.6h1v9.3h-1zM292 169.6h1v9.3h-1zM295 169.6h1v9.3h-1zM296 169.6h1v9.3h-1zM299 169.6h1v9.3h-1zM300 169.6h1v9.3h-1zM312 169.6h1v9.3h-1zM313 169.6h1v9.3h-1zM314 169.6h1v9.3h-1zM316 169.6h1v9.3h-1zM320 169.6h1v9.3h-1zM330 169.6h1v9.3h-1zM332 169.6h1v9.3h-1zM338 169.6h1v9.3h-1zM339 169.6h1v9.3h-1zM343 169.6h1v9.3h-1zM348 169.6h1v9.3h-1zM349 169.6h1v9.3h-1zM350 169.6h1v9.3h-1zM351 169.6h1v9.3h-1zM354 169.6h1v9.3h-1zM435 169.6h1v9.3h-1zM436 169.6h1v9.3h-1z" fill="#ede1ee" shape-rendering="crispEdges"/>
<path d="M238 169.6h1v9.3h-1zM239 169.6h1v9.3h-1zM240 169.6h1v9.3h-1zM243 169.6h1v9.3h-1zM244 169.6h1v9.3h-1zM254 169.6h1v9.3h-1zM258 169.6h1v9.3h-1zM267 169.6h1v9.3h-1zM282 169.6h1v9.3h-1zM283 169.6h1v9.3h-1zM284 169.6h1v9.3h-1zM297 169.6h1v9.3h-1zM298 169.6h1v9.3h-1zM304 169.6h1v9.3h-1zM306 169.6h1v9.3h-1zM311 169.6h1v9.3h-1zM315 169.6h1v9.3h-1zM331 169.6h1v9.3h-1zM333 169.6h1v9.3h-1zM342 169.6h1v9.3h-1zM344 169.6h1v9.3h-1zM345 169.6h1v9.3h-1zM346 169.6h1v9.3h-1zM347 169.6h1v9.3h-1zM355 169.6h1v9.3h-1zM434 169.6h1v9.3h-1zM437 169.6h1v9.3h-1zM498 169.6h1v9.3h-1zM499 169.6h1v9.3h-1z" fill="#f0e8f1" shape-rendering="crispEdges"/>
<path d="M251 169.6h1v9.3h-1zM263 169.6h1v9.3h-1zM264 169.6h1v9.3h-1zM265 169.6h1v9.3h-1zM272 169.6h1v9.3h-1zM273 169.6h1v9.3h-1zM274 169.6h1v9.3h-1zM276 169.6h1v9.3h-1zM278 169.6h1v9.3h-1zM285 169.6h1v9.3h-1zM288 169.6h1v9.3h-1zM289 169.6h1v9.3h-1zM293 169.6h1v9.3h-1zM301 169.6h1v9.3h-1zM309 169.6h1v9.3h-1zM317 169.6h1v9.3h-1zM321 169.6h1v9.3h-1zM322 169.6h1v9.3h-1zM327 169.6h1v9.3h-1zM328 169.6h1v9.3h-1zM336 169.6h1v9.3h-1z" fill="#e5d2e7" shape-rendering="crispEdges"/>
<path d="M259 169.6h1v9.3h-1zM260 169.6h1v9.3h-1zM261 169.6h1v9.3h-1zM268 169.6h1v9.3h-1zM269 169.6h1v9.3h-1zM305 169.6h1v9.3h-1zM340 169.6h1v9.3h-1zM341 169.6h1v9.3h-1zM356 169.6h1v9.3h-1zM397 169.6h1v9.3h-1zM418 169.6h1v9.3h-1zM419 169.6h1v9.3h-1zM433 169.6h1v9.3h-1zM497 169.6h1v9.3h-1z" fill="#f4f0f4" shape-rendering="crispEdges"/>
<path d="M277 169.6h1v9.3h-1zM286 169.6h1v9.3h-1zM287 169.6h1v9.3h-1zM294 169.6h1v9.3h-1zM308 169.6h1v9.3h-1z" fill="#dec8e2" shape-rendering="crispEdges"/>
<path d="M323 169.6h1v9.3h-1z" fill="#772d85" shape-rendering="crispEdges"/>
<path d="M324 169.6h1v9.3h-1zM325 169.6h1v9.3h-1z" fill="#864a95" shape-rendering="crispEdges"/>
<path d="M326 169.6h1v9.3h-1z" fill="#8d599e" shape-rendering="crispEdges"/>
<path d="M357 169.6h1v9.3h-1zM361 169.6h1v9.3h-1zM364 169.6h1v9.3h-1zM365 169.6h1v9.3h-1zM366 169.6h1v9.3h-1zM371 169.6h1v9.3h-1zM388 169.6h1v9.3h-1zM390 169.6h1v9.3h-1zM400 169.6h1v9.3h-1zM402 169.6h1v9.3h-1zM403 169.6h1v9.3h-1zM411 169.6h1v9.3h-1zM412 169.6h1v9.3h-1zM430 169.6h1v9.3h-1zM431 169.6h1v9.3h-1zM432 169.6h1v9.3h-1zM440 169.6h1v9.3h-1zM442 169.6h1v9.3h-1zM455 169.6h1v9.3h-1zM459 169.6h1v9.3h-1zM466 169.6h1v9.3h-1zM467 169.6h1v9.3h-1zM468 169.6h1v9.3h-1zM469 169.6h1v9.3h-1zM474 169.6h1v9.3h-1zM475 169.6h1v9.3h-1zM477 169.6h1v9.3h-1zM494 169.6h1v9.3h-1zM502 169.6h1v9.3h-1zM503 169.6h1v9.3h-1zM504 169.6h1v9.3h-1zM510 169.6h1v9.3h-1zM513 169.6h1v9.3h-1zM524 169.6h1v9.3h-1zM525 169.6h1v9.3h-1zM529 169.6h1v9.3h-1z" fill="#ebf4e8" shape-rendering="crispEdges"/>
<path d="M358 169.6h1v9.3h-1zM375 169.6h1v9.3h-1zM377 169.6h1v9.3h-1zM379 169.6h1v9.3h-1zM380 169.6h1v9.3h-1zM381 169.6h1v9.3h-1zM386 169.6h1v9.3h-1zM387 169.6h1v9.3h-1zM391 169.6h1v9.3h-1zM394 169.6h1v9.3h-1zM395 169.6h1v9.3h-1zM401 169.6h1v9.3h-1zM404 169.6h1v9.3h-1zM405 169.6h1v9.3h-1zM406 169.6h1v9.3h-1zM407 169.6h1v9.3h-1zM409 169.6h1v9.3h-1zM410 169.6h1v9.3h-1zM413 169.6h1v9.3h-1zM414 169.6h1v9.3h-1zM415 169.6h1v9.3h-1zM416 169.6h1v9.3h-1zM421 169.6h1v9.3h-1zM424 169.6h1v9.3h-1zM425 169.6h1v9.3h-1zM426 169.6h1v9.3h-1zM439 169.6h1v9.3h-1zM441 169.6h1v9.3h-1zM446 169.6h1v9.3h-1zM447 169.6h1v9.3h-1zM451 169.6h1v9.3h-1zM452 169.6h1v9.3h-1zM453 169.6h1v9.3h-1zM454 169.6h1v9.3h-1zM457 169.6h1v9.3h-1zM461 169.6h1v9.3h-1zM462 169.6h1v9.3h-1zM470 169.6h1v9.3h-1zM473 169.6h1v9.3h-1zM476 169.6h1v9.3h-1zM478 169.6h1v9.3h-1zM482 169.6h1v9.3h-1zM484 169.6h1v9.3h-1zM485 169.6h1v9.3h-1zM489 169.6h1v9.3h-1zM490 169.6h1v9.3h-1zM492 169.6h1v9.3h-1zM493 169.6h1v9.3h-1zM501 169.6h1v9.3h-1zM505 169.6h1v9.3h-1zM506 169.6h1v9.3h-1zM507 169.6h1v9.3h-1zM508 169.6h1v9.3h-1zM509 169.6h1v9.3h-1zM514 169.6h1v9.3h-1zM517 169.6h1v9.3h-1zM520 169.6h1v9.3h-1zM521 169.6h1v9.3h-1zM526 169.6h1v9.3h-1zM528 169.6h1v9.3h-1z" fill="#f1f6ef" shape-rendering="crispEdges"/>
<path d="M359 169.6h1v9.3h-1zM360 169.6h1v9.3h-1zM372 169.6h1v9.3h-1zM373 169.6h1v9.3h-1zM374 169.6h1v9.3h-1zM376 169.6h1v9.3h-1zM378 169.6h1v9.3h-1zM382 169.6h1v9.3h-1zM383 169.6h1v9.3h-1zM384 169.6h1v9.3h-1zM385 169.6h1v9.3h-1zM392 169.6h1v9.3h-1zM393 169.6h1v9.3h-1zM396 169.6h1v9.3h-1zM398 169.6h1v9.3h-1zM399 169.6h1v9.3h-1zM408 169.6h1v9.3h-1zM417 169.6h1v9.3h-1zM420 169.6h1v9.3h-1zM422 169.6h1v9.3h-1zM423 169.6h1v9.3h-1zM427 169.6h1v9.3h-1zM428 169.6h1v9.3h-1zM429 169.6h1v9.3h-1zM438 169.6h1v9.3h-1zM443 169.6h1v9.3h-1zM444 169.6h1v9.3h-1zM445 169.6h1v9.3h-1zM448 169.6h1v9.3h-1zM449 169.6h1v9.3h-1zM450 169.6h1v9.3h-1zM456 169.6h1v9.3h-1zM458 169.6h1v9.3h-1zM460 169.6h1v9.3h-1zM471 169.6h1v9.3h-1zM472 169.6h1v9.3h-1zM483 169.6h1v9.3h-1zM486 169.6h1v9.3h-1zM487 169.6h1v9.3h-1zM488 169.6h1v9.3h-1zM491 169.6h1v9.3h-1zM495 169.6h1v9.3h-1zM496 169.6h1v9.3h-1zM500 169.6h1v9.3h-1zM515 169.6h1v9.3h-1zM516 169.6h1v9.3h-1zM518 169.6h1v9.3h-1zM519 169.6h1v9.3h-1zM522 169.6h1v9.3h-1zM523 169.6h1v9.3h-1zM527 169.6h1v9.3h-1zM530 169.6h1v9.3h-1zM531 169.6h1v9.3h-1z" fill="#f7f7f7" shape-rendering="crispEdges"/>
<path d="M362 169.6h1v9.3h-1zM363 169.6h1v9.3h-1zM367 169.6h1v9.3h-1zM368 169.6h1v9.3h-1zM370 169.6h1v9.3h-1zM389 169.6h1v9.3h-1zM479 169.6h1v9.3h-1zM480 169.6h1v9.3h-1zM481 169.6h1v9.3h-1zM511 169.6h1v9.3h-1zM512 169.6h1v9.3h-1z" fill="#e4f3e0" shape-rendering="crispEdges"/>
<path d="M369 169.6h1v9.3h-1z" fill="#def1d9" shape-rendering="crispEdges"/>
<path d="M463 169.6h1v9.3h-1zM464 169.6h1v9.3h-1zM465 169.6h1v9.3h-1z" fill="#80c480" shape-rendering="crispEdges"/>
<path d="M236 178.9h1v9.3h-1zM238 178.9h1v9.3h-1zM239 178.9h1v9.3h-1zM246 178.9h1v9.3h-1zM255 178.9h1v9.3h-1zM256 178.9h1v9.3h-1zM257 178.9h1v9.3h-1zM258 178.9h1v9.3h-1zM259 178.9h1v9.3h-1zM260 178.9h1v9.3h-1zM262 178.9h1v9.3h-1zM263 178.9h1v9.3h-1zM271 178.9h1v9.3h-1zM273 178.9h1v9.3h-1zM274 178.9h1v9.3h-1zM278 178.9h1v9.3h-1zM282 178.9h1v9.3h-1zM296 178.9h1v9.3h-1zM301 178.9h1v9.3h-1zM303 178.9h1v9.3h-1zM304 178.9h1v9.3h-1zM314 178.9h1v9.3h-1zM315 178.9h1v9.3h-1zM322 178.9h1v9.3h-1zM323 178.9h1v9.3h-1zM327 178.9h1v9.3h-1zM328 178.9h1v9.3h-1zM431 178.9h1v9.3h-1zM450 178.9h1v9.3h-1zM451 178.9h1v9.3h-1zM452 178.9h1v9.3h-1zM453 178.9h1v9.3h-1zM454 178.9h1v9.3h-1zM455 178.9h1v9.3h-1zM456 178.9h1v9.3h-1zM457 178.9h1v9.3h-1zM458 178.9h1v9.3h-1zM459 178.9h1v9.3h-1zM462 178.9h1v9.3h-1zM463 178.9h1v9.3h-1zM464 178.9h1v9.3h-1zM465 178.9h1v9.3h-1zM471 178.9h1v9.3h-1zM472 178.9h1v9.3h-1zM473 178.9h1v9.3h-1zM476 178.9h1v9.3h-1zM478 178.9h1v9.3h-1zM480 178.9h1v9.3h-1zM484 178.9h1v9.3h-1zM485 178.9h1v9.3h-1zM492 178.9h1v9.3h-1zM494 178.9h1v9.3h-1zM496 178.9h1v9.3h-1zM498 178.9h1v9.3h-1zM499 178.9h1v9.3h-1zM511 178.9h1v9.3h-1zM512 178.9h1v9.3h-1zM516 178.9h1v9.3h-1z" fill="#f7f7f7" shape-rendering="crispEdges"/>
<path d="M237 178.9h1v9.3h-1zM243 178.9h1v9.3h-1zM244 178.9h1v9.3h-1zM247 178.9h1v9.3h-1zM248 178.9h1v9.3h-1zM250 178.9h1v9.3h-1zM251 178.9h1v9.3h-1zM252 178.9h1v9.3h-1zM254 178.9h1v9.3h-1zM261 178.9h1v9.3h-1zM264 178.9h1v9.3h-1zM265 178.9h1v9.3h-1zM266 178.9h1v9.3h-1zM270 178.9h1v9.3h-1zM275 178.9h1v9.3h-1zM276 178.9h1v9.3h-1zM277 178.9h1v9.3h-1zM279 178.9h1v9.3h-1zM280 178.9h1v9.3h-1zM281 178.9h1v9.3h-1zM283 178.9h1v9.3h-1zM284 178.9h1v9.3h-1zM288 178.9h1v9.3h-1zM289 178.9h1v9.3h-1zM290 178.9h1v9.3h-1zM291 178.9h1v9.3h-1zM292 178.9h1v9.3h-1zM294 178.9h1v9.3h-1zM295 178.9h1v9.3h-1zM300 178.9h1v9.3h-1zM302 178.9h1v9.3h-1zM305 178.9h1v9.3h-1zM308 178.9h1v9.3h-1zM311 178.9h1v9.3h-1zM313 178.9h1v9.3h-1zM316 178.9h1v9.3h-1zM321 178.9h1v9.3h-1zM329 178.9h1v9.3h-1zM330 178.9h1v9.3h-1zM334 178.9h1v9.3h-1zM359 178.9h1v9.3h-1zM365 178.9h1v9.3h-1zM369 178.9h1v9.3h-1zM370 178.9h1v9.3h-1zM413 178.9h1v9.3h-1zM429 178.9h1v9.3h-1zM432 178.9h1v9.3h-1zM433 178.9h1v9.3h-1zM436 178.9h1v9.3h-1zM437 178.9h1v9.3h-1zM438 178.9h1v9.3h-1zM445 178.9h1v9.3h-1zM446 178.9h1v9.3h-1zM447 178.9h1v9.3h-1zM448 178.9h1v9.3h-1zM449 178.9h1v9.3h-1zM460 178.9h1v9.3h-1zM461 178.9h1v9.3h-1zM466 178.9h1v9.3h-1zM467 178.9h1v9.3h-1zM468 178.9h1v9.3h-1zM469 178.9h1v9.3h-1zM470 178.9h1v9.3h-1zM474 178.9h1v9.3h-1zM475 178.9h1v9.3h-1zM477 178.9h1v9.3h-1zM479 178.9h1v9.3h-1zM481 178.9h1v9.3h-1zM483 178.9h1v9.3h-1zM486 178.9h1v9.3h-1zM487 178.9h1v9.3h-1zM488 178.9h1v9.3h-1zM489 178.9h1v9.3h-1zM490 178.9h1v9.3h-1zM491 178.9h1v9.3h-1z" fill="#f1f6ef" shape-rendering="crispEdges"/>
<path d="M240 178.9h1v9.3h-1zM242 178.9h1v9.3h-1zM335 178.9h1v9.3h-1zM340 178.9h1v9.3h-1zM356 178.9h1v9.3h-1zM502 178.9h1v9.3h-1zM505 178.9h1v9.3h-1zM506 178.9h1v9.3h-1zM507 178.9h1v9.3h-1zM510 178.9h1v9.3h-1zM513 178.9h1v9.3h-1zM518 178.9h1v9.3h-1zM520 178.9h1v9.3h-1zM521 178.9h1v9.3h-1zM522 178.9h1v9.3h-1zM523 178.9h1v9.3h-1zM527 178.9h1v9.3h-1z" fill="#f0e8f1" shape-rendering="crispEdges"/>
<path d="M241 178.9h1v9.3h-1zM272 178.9h1v9.3h-1zM324 178.9h1v9.3h-1zM325 178.9h1v9.3h-1zM326 178.9h1v9.3h-1zM493 178.9h1v9.3h-1zM495 178.9h1v9.3h-1zM497 178.9h1v9.3h-1zM503 178.9h1v9.3h-1zM504 178.9h1v9.3h-1zM517 178.9h1v9.3h-1z" fill="#f4f0f4" shape-rendering="crispEdges"/>
<path d="M245 178.9h1v9.3h-1zM249 178.9h1v9.3h-1zM253 178.9h1v9.3h-1zM267 178.9h1v9.3h-1zM285 178.9h1v9.3h-1zM286 178.9h1v9.3h-1zM287 178.9h1v9.3h-1zM293 178.9h1v9.3h-1zM297 178.9h1v9.3h-1zM298 178.9h1v9.3h-1zM299 178.9h1v9.3h-1zM306 178.9h1v9.3h-1zM307 178.9h1v9.3h-1zM309 178.9h1v9.3h-1zM310 178.9h1v9.3h-1zM312 178.9h1v9.3h-1zM318 178.9h1v9.3h-1zM320 178.9h1v9.3h-1zM333 178.9h1v9.3h-1zM358 178.9h1v9.3h-1zM360 178.9h1v9.3h-1zM361 178.9h1v9.3h-1zM363 178.9h1v9.3h-1zM364 178.9h1v9.3h-1zM366 178.9h1v9.3h-1zM367 178.9h1v9.3h-1zM368 178.9h1v9.3h-1zM371 178.9h1v9.3h-1zM380 178.9h1v9.3h-1zM408 178.9h1v9.3h-1zM409 178.9h1v9.3h-1zM412 178.9h1v9.3h-1zM414 178.9h1v9.3h-1zM415 178.9h1v9.3h-1zM416 178.9h1v9.3h-1zM424 178.9h1v9.3h-1zM425 178.9h1v9.3h-1zM426 178.9h1v9.3h-1zM427 178.9h1v9.3h-1zM428 178.9h1v9.3h-1zM430 178.9h1v9.3h-1zM434 178.9h1v9.3h-1zM435 178.9h1v9.3h-1zM441 178.9h1v9.3h-1zM442 178.9h1v9.3h-1zM482 178.9h1v9.3h-1z" fill="#ebf4e8" shape-rendering="crispEdges"/>
<path d="M268 178.9h1v9.3h-1zM269 178.9h1v9.3h-1zM317 178.9h1v9.3h-1zM331 178.9h1v9.3h-1zM332 178.9h1v9.3h-1zM357 178.9h1v9.3h-1zM362 178.9h1v9.3h-1zM372 178.9h1v9.3h-1zM373 178.9h1v9.3h-1zM381 178.9h1v9.3h-1zM382 178.9h1v9.3h-1zM383 178.9h1v9.3h-1zM389 178.9h1v9.3h-1zM407 178.9h1v9.3h-1zM410 178.9h1v9.3h-1zM411 178.9h1v9.3h-1zM417 178.9h1v9.3h-1zM420 178.9h1v9.3h-1zM439 178.9h1v9.3h-1zM440 178.9h1v9.3h-1zM443 178.9h1v9.3h-1zM444 178.9h1v9.3h-1z" fill="#e4f3e0" shape-rendering="crispEdges"/>
<path d="M319 178.9h1v9.3h-1zM384 178.9h1v9.3h-1zM388 178.9h1v9.3h-1zM406 178.9h1v9.3h-1zM418 178.9h1v9.3h-1zM419 178.9h1v9.3h-1zM421 178.9h1v9.3h-1zM422 178.9h1v9.3h-1zM423 178.9h1v9.3h-1z" fill="#def1d9" shape-rendering="crispEdges"/>
<path d="M336 178.9h1v9.3h-1zM337 178.9h1v9.3h-1zM341 178.9h1v9.3h-1zM342 178.9h1v9.3h-1zM346 178.9h1v9.3h-1zM347 178.9h1v9.3h-1zM351 178.9h1v9.3h-1zM352 178.9h1v9.3h-1zM353 178.9h1v9.3h-1zM355 178.9h1v9.3h-1zM514 178.9h1v9.3h-1zM529 178.9h1v9.3h-1zM530 178.9h1v9.3h-1z" fill="#eadaea" shape-rendering="crispEdges"/>
<path d="M338 178.9h1v9.3h-1zM344 178.9h1v9.3h-1zM345 178.9h1v9.3h-1zM348 178.9h1v9.3h-1zM350 178.9h1v9.3h-1z" fill="#e5d2e7" shape-rendering="crispEdges"/>
<path d="M339 178.9h1v9.3h-1zM500 178.9h1v9.3h-1zM501 178.9h1v9.3h-1zM508 178.9h1v9.3h-1zM509 178.9h1v9.3h-1zM515 178.9h1v9.3h-1zM519 178.9h1v9.3h-1zM524 178.9h1v9.3h-1zM525 178.9h1v9.3h-1zM526 178.9h1v9.3h-1zM528 178.9h1v9.3h-1zM531 178.9h1v9.3h-1z" fill="#ede1ee" shape-rendering="crispEdges"/>
<path d="M343 178.9h1v9.3h-1zM349 178.9h1v9.3h-1zM354 178.9h1v9.3h-1z" fill="#dec8e2" shape-rendering="crispEdges"/>
<path d="M374 178.9h1v9.3h-1z" fill="#70bb73" shape-rendering="crispEdges"/>
<path d="M375 178.9h1v9.3h-1zM377 178.9h1v9.3h-1zM378 178.9h1v9.3h-1z" fill="#90ce8e" shape-rendering="crispEdges"/>
<path d="M376 178.9h1v9.3h-1z" fill="#a0d79b" shape-rendering="crispEdges"/>
<path d="M379 178.9h1v9.3h-1z" fill="#80c480" shape-rendering="crispEdges"/>
<path d="M385 178.9h1v9.3h-1z" fill="#d7efd1" shape-rendering="crispEdges"/>
<path d="M386 178.9h1v9.3h-1z" fill="#c2e6bc" shape-rendering="crispEdges"/>
<path d="M387 178.9h1v9.3h-1z" fill="#ccebc6" shape-rendering="crispEdges"/>
<path d="M390 178.9h1v9.3h-1zM396 178.9h1v9.3h-1zM398 178.9h1v9.3h-1zM404 178.9h1v9.3h-1zM405 178.9h1v9.3h-1z" fill="#459c53" shape-rendering="crispEdges"/>
<path d="M391 178.9h1v9.3h-1zM392 178.9h1v9.3h-1zM393 178.9h1v9.3h-1zM394 178.9h1v9.3h-1zM401 178.9h1v9.3h-1zM403 178.9h1v9.3h-1z" fill="#60b266" shape-rendering="crispEdges"/>
<path d="M395 178.9h1v9.3h-1zM399 178.9h1v9.3h-1zM400 178.9h1v9.3h-1zM402 178.9h1v9.3h-1z" fill="#52a75c" shape-rendering="crispEdges"/>
<path d="M397 178.9h1v9.3h-1z" fill="#38914a" shape-rendering="crispEdges"/>
<path d="M535 169.6h1v9.3h-1zM537 169.6h1v9.3h-1zM543 169.6h1v9.3h-1zM546 169.6h1v9.3h-1zM547 169.6h1v9.3h-1zM561 169.6h1v9.3h-1zM581 169.6h1v9.3h-1zM582 169.6h1v9.3h-1zM589 169.6h1v9.3h-1zM590 169.6h1v9.3h-1z" fill="#eadaea" shape-rendering="crispEdges"/>
<path d="M536 169.6h1v9.3h-1zM540 169.6h1v9.3h-1zM542 169.6h1v9.3h-1zM553 169.6h1v9.3h-1zM556 169.6h1v9.3h-1zM557 169.6h1v9.3h-1zM558 169.6h1v9.3h-1zM559 169.6h1v9.3h-1zM560 169.6h1v9.3h-1zM562 169.6h1v9.3h-1zM563 169.6h1v9.3h-1zM564 169.6h1v9.3h-1zM580 169.6h1v9.3h-1zM583 169.6h1v9.3h-1zM584 169.6h1v9.3h-1zM585 169.6h1v9.3h-1zM587 169.6h1v9.3h-1zM588 169.6h1v9.3h-1zM591 169.6h1v9.3h-1zM598 169.6h1v9.3h-1zM599 169.6h1v9.3h-1z" fill="#ede1ee" shape-rendering="crispEdges"/>
<path d="M538 169.6h1v9.3h-1zM539 169.6h1v9.3h-1zM549 169.6h1v9.3h-1zM565 169.6h1v9.3h-1zM566 169.6h1v9.3h-1zM571 169.6h1v9.3h-1zM575 169.6h1v9.3h-1zM578 169.6h1v9.3h-1zM593 169.6h1v9.3h-1zM595 169.6h1v9.3h-1z" fill="#f4f0f4" shape-rendering="crispEdges"/>
<path d="M541 169.6h1v9.3h-1zM548 169.6h1v9.3h-1zM551 169.6h1v9.3h-1zM552 169.6h1v9.3h-1zM554 169.6h1v9.3h-1zM555 169.6h1v9.3h-1zM576 169.6h1v9.3h-1zM577 169.6h1v9.3h-1zM586 169.6h1v9.3h-1zM592 169.6h1v9.3h-1zM594 169.6h1v9.3h-1zM596 169.6h1v9.3h-1zM597 169.6h1v9.3h-1z" fill="#f0e8f1" shape-rendering="crispEdges"/>
<path d="M544 169.6h1v9.3h-1zM545 169.6h1v9.3h-1z" fill="#e5d2e7" shape-rendering="crispEdges"/>
<path d="M550 169.6h1v9.3h-1zM567 169.6h1v9.3h-1zM568 169.6h1v9.3h-1zM569 169.6h1v9.3h-1zM570 169.6h1v9.3h-1zM572 169.6h1v9.3h-1zM573 169.6h1v9.3h-1zM574 169.6h1v9.3h-1zM579 169.6h1v9.3h-1zM607 169.6h1v9.3h-1zM612 169.6h1v9.3h-1zM613 169.6h1v9.3h-1zM614 169.6h1v9.3h-1z" fill="#f7f7f7" shape-rendering="crispEdges"/>
<path d="M600 169.6h1v9.3h-1zM601 169.6h1v9.3h-1zM602 169.6h1v9.3h-1zM606 169.6h1v9.3h-1zM608 169.6h1v9.3h-1zM609 169.6h1v9.3h-1zM611 169.6h1v9.3h-1zM615 169.6h1v9.3h-1zM616 169.6h1v9.3h-1zM618 169.6h1v9.3h-1zM622 169.6h1v9.3h-1zM623 169.6h1v9.3h-1z" fill="#f1f6ef" shape-rendering="crispEdges"/>
<path d="M603 169.6h1v9.3h-1zM605 169.6h1v9.3h-1zM610 169.6h1v9.3h-1zM617 169.6h1v9.3h-1zM620 169.6h1v9.3h-1zM621 169.6h1v9.3h-1z" fill="#ebf4e8" shape-rendering="crispEdges"/>
<path d="M604 169.6h1v9.3h-1zM619 169.6h1v9.3h-1z" fill="#e4f3e0" shape-rendering="crispEdges"/>
<path d="M535 178.9h1v9.3h-1zM536 178.9h1v9.3h-1zM537 178.9h1v9.3h-1zM538 178.9h1v9.3h-1zM555 178.9h1v9.3h-1zM556 178.9h1v9.3h-1zM557 178.9h1v9.3h-1zM561 178.9h1v9.3h-1zM572 178.9h1v9.3h-1zM573 178.9h1v9.3h-1zM574 178.9h1v9.3h-1zM607 178.9h1v9.3h-1zM611 178.9h1v9.3h-1zM613 178.9h1v9.3h-1z" fill="#f1f6ef" shape-rendering="crispEdges"/>
<path d="M539 178.9h1v9.3h-1zM542 178.9h1v9.3h-1zM544 178.9h1v9.3h-1zM548 178.9h1v9.3h-1zM549 178.9h1v9.3h-1zM550 178.9h1v9.3h-1zM558 178.9h1v9.3h-1zM559 178.9h1v9.3h-1zM560 178.9h1v9.3h-1zM562 178.9h1v9.3h-1zM570 178.9h1v9.3h-1zM571 178.9h1v9.3h-1z" fill="#ebf4e8" shape-rendering="crispEdges"/>
<path d="M540 178.9h1v9.3h-1zM541 178.9h1v9.3h-1zM543 178.9h1v9.3h-1zM546 178.9h1v9.3h-1zM547 178.9h1v9.3h-1zM554 178.9h1v9.3h-1zM563 178.9h1v9.3h-1zM566 178.9h1v9.3h-1zM567 178.9h1v9.3h-1zM568 178.9h1v9.3h-1zM569 178.9h1v9.3h-1z" fill="#e4f3e0" shape-rendering="crispEdges"/>
<path d="M545 178.9h1v9.3h-1zM551 178.9h1v9.3h-1zM553 178.9h1v9.3h-1zM564 178.9h1v9.3h-1zM565 178.9h1v9.3h-1z" fill="#def1d9" shape-rendering="crispEdges"/>
<path d="M552 178.9h1v9.3h-1z" fill="#d7efd1" shape-rendering="crispEdges"/>
<path d="M575 178.9h1v9.3h-1zM577 178.9h1v9.3h-1zM578 178.9h1v9.3h-1zM580 178.9h1v9.3h-1zM581 178.9h1v9.3h-1zM583 178.9h1v9.3h-1zM585 178.9h1v9.3h-1zM588 178.9h1v9.3h-1zM589 178.9h1v9.3h-1zM591 178.9h1v9.3h-1zM597 178.9h1v9.3h-1zM598 178.9h1v9.3h-1zM599 178.9h1v9.3h-1zM600 178.9h1v9.3h-1zM602 178.9h1v9.3h-1zM610 178.9h1v9.3h-1zM614 178.9h1v9.3h-1zM616 178.9h1v9.3h-1zM618 178.9h1v9.3h-1zM620 178.9h1v9.3h-1zM621 178.9h1v9.3h-1zM622 178.9h1v9.3h-1z" fill="#f4f0f4" shape-rendering="crispEdges"/>
<path d="M576 178.9h1v9.3h-1zM582 178.9h1v9.3h-1zM584 178.9h1v9.3h-1zM586 178.9h1v9.3h-1zM590 178.9h1v9.3h-1zM595 178.9h1v9.3h-1zM596 178.9h1v9.3h-1zM604 178.9h1v9.3h-1zM605 178.9h1v9.3h-1zM606 178.9h1v9.3h-1zM608 178.9h1v9.3h-1zM609 178.9h1v9.3h-1zM612 178.9h1v9.3h-1zM615 178.9h1v9.3h-1zM617 178.9h1v9.3h-1zM619 178.9h1v9.3h-1zM623 178.9h1v9.3h-1z" fill="#f7f7f7" shape-rendering="crispEdges"/>
<path d="M579 178.9h1v9.3h-1zM587 178.9h1v9.3h-1zM592 178.9h1v9.3h-1zM594 178.9h1v9.3h-1zM601 178.9h1v9.3h-1zM603 178.9h1v9.3h-1z" fill="#f0e8f1" shape-rendering="crispEdges"/>
<path d="M593 178.9h1v9.3h-1z" fill="#ede1ee" shape-rendering="crispEdges"/>
<rect x="236.6" y="169.6" width="294.7" height="18.7" fill="none" stroke="#444" stroke-width="0.9"/>
<rect x="535.2" y="169.6" width="88.3" height="18.7" fill="none" stroke="#444" stroke-width="0.9"/>
<text x="625.8" y="176.8" font-size="7.8">Factor1</text>
<text x="625.8" y="186.6" font-size="7.8">Factor2</text>
<text x="655.6" y="14.6" font-size="6.6" font-weight="bold">Max</text>
<text x="655.6" y="22.4" font-size="6.6" font-weight="bold">|log<tspan font-size="4.4" dy="1.5">2</tspan><tspan dy="-1.5">FC|</tspan></text>
<defs><linearGradient id="gv" x1="0" y1="1" x2="0" y2="0"><stop offset="0.000" stop-color="#440154"/><stop offset="0.111" stop-color="#482878"/><stop offset="0.222" stop-color="#3e4989"/><stop offset="0.333" stop-color="#31688e"/><stop offset="0.444" stop-color="#26828e"/><stop offset="0.556" stop-color="#1f9e89"/><stop offset="0.667" stop-color="#35b779"/><stop offset="0.778" stop-color="#6ece58"/><stop offset="0.889" stop-color="#b5de2b"/><stop offset="1.000" stop-color="#fde725"/></linearGradient><linearGradient id="gz" x1="0" y1="1" x2="0" y2="0"><stop offset="0.00" stop-color="#67001f"/><stop offset="0.10" stop-color="#b2182b"/><stop offset="0.20" stop-color="#d6604d"/><stop offset="0.30" stop-color="#f4a582"/><stop offset="0.40" stop-color="#fddbc7"/><stop offset="0.50" stop-color="#f7f7f7"/><stop offset="0.60" stop-color="#d1e5f0"/><stop offset="0.70" stop-color="#92c5de"/><stop offset="0.80" stop-color="#4393c3"/><stop offset="0.90" stop-color="#2166ac"/><stop offset="1.00" stop-color="#053061"/></linearGradient><linearGradient id="gm" x1="0" y1="1" x2="0" y2="0"><stop offset="0.00" stop-color="#40004b"/><stop offset="0.10" stop-color="#762a83"/><stop offset="0.20" stop-color="#9970ab"/><stop offset="0.30" stop-color="#c2a5cf"/><stop offset="0.40" stop-color="#e7d4e8"/><stop offset="0.50" stop-color="#f7f7f7"/><stop offset="0.60" stop-color="#d9f0d3"/><stop offset="0.70" stop-color="#a6dba0"/><stop offset="0.80" stop-color="#5aae61"/><stop offset="0.90" stop-color="#1b7837"/><stop offset="1.00" stop-color="#00441b"/></linearGradient></defs>
<rect x="655.3" y="27" width="7.7" height="38.8" fill="url(#gv)"/>
<line x1="655.3" y1="27.7" x2="656.5" y2="27.7" stroke="#000" stroke-width="0.5"/>
<line x1="661.8" y1="27.7" x2="663" y2="27.7" stroke="#000" stroke-width="0.5"/>
<text x="664.4" y="31" font-size="7.2">15</text>
<line x1="655.3" y1="40.2" x2="656.5" y2="40.2" stroke="#000" stroke-width="0.5"/>
<line x1="661.8" y1="40.2" x2="663" y2="40.2" stroke="#000" stroke-width="0.5"/>
<text x="664.4" y="43.5" font-size="7.2">10</text>
<line x1="655.3" y1="52.6" x2="656.5" y2="52.6" stroke="#000" stroke-width="0.5"/>
<line x1="661.8" y1="52.6" x2="663" y2="52.6" stroke="#000" stroke-width="0.5"/>
<text x="664.4" y="55.9" font-size="7.2">5</text>
<line x1="655.3" y1="65.1" x2="656.5" y2="65.1" stroke="#000" stroke-width="0.5"/>
<line x1="661.8" y1="65.1" x2="663" y2="65.1" stroke="#000" stroke-width="0.5"/>
<text x="664.4" y="68.4" font-size="7.2">0</text>
<text x="655.6" y="78.6" font-size="6.6" font-weight="bold">Z score</text>
<rect x="655.3" y="81.6" width="7.7" height="39.5" fill="url(#gz)"/>
<line x1="655.3" y1="82.8" x2="656.5" y2="82.8" stroke="#000" stroke-width="0.5"/>
<line x1="661.8" y1="82.8" x2="663" y2="82.8" stroke="#000" stroke-width="0.5"/>
<text x="664.4" y="86.1" font-size="7.2">4</text>
<line x1="655.3" y1="92.1" x2="656.5" y2="92.1" stroke="#000" stroke-width="0.5"/>
<line x1="661.8" y1="92.1" x2="663" y2="92.1" stroke="#000" stroke-width="0.5"/>
<text x="664.4" y="95.4" font-size="7.2">2</text>
<line x1="655.3" y1="101.4" x2="656.5" y2="101.4" stroke="#000" stroke-width="0.5"/>
<line x1="661.8" y1="101.4" x2="663" y2="101.4" stroke="#000" stroke-width="0.5"/>
<text x="664.4" y="104.7" font-size="7.2">0</text>
<line x1="655.3" y1="110.7" x2="656.5" y2="110.7" stroke="#000" stroke-width="0.5"/>
<line x1="661.8" y1="110.7" x2="663" y2="110.7" stroke="#000" stroke-width="0.5"/>
<text x="664.4" y="114" font-size="7.2">−2</text>
<line x1="655.3" y1="120" x2="656.5" y2="120" stroke="#000" stroke-width="0.5"/>
<line x1="661.8" y1="120" x2="663" y2="120" stroke="#000" stroke-width="0.5"/>
<text x="664.4" y="123.3" font-size="7.2">−4</text>
<text x="655.6" y="133.6" font-size="6.6" font-weight="bold">MOFA</text>
<text x="655.6" y="141" font-size="6.6" font-weight="bold">weight</text>
<rect x="655.3" y="144.3" width="7.7" height="39.5" fill="url(#gm)"/>
<line x1="655.3" y1="145.8" x2="656.5" y2="145.8" stroke="#000" stroke-width="0.5"/>
<line x1="661.8" y1="145.8" x2="663" y2="145.8" stroke="#000" stroke-width="0.5"/>
<text x="664.4" y="149.1" font-size="7.2">4</text>
<line x1="655.3" y1="154.9" x2="656.5" y2="154.9" stroke="#000" stroke-width="0.5"/>
<line x1="661.8" y1="154.9" x2="663" y2="154.9" stroke="#000" stroke-width="0.5"/>
<text x="664.4" y="158.2" font-size="7.2">2</text>
<line x1="655.3" y1="164" x2="656.5" y2="164" stroke="#000" stroke-width="0.5"/>
<line x1="661.8" y1="164" x2="663" y2="164" stroke="#000" stroke-width="0.5"/>
<text x="664.4" y="167.3" font-size="7.2">0</text>
<line x1="655.3" y1="173.1" x2="656.5" y2="173.1" stroke="#000" stroke-width="0.5"/>
<line x1="661.8" y1="173.1" x2="663" y2="173.1" stroke="#000" stroke-width="0.5"/>
<text x="664.4" y="176.4" font-size="7.2">−2</text>
<line x1="655.3" y1="182.2" x2="656.5" y2="182.2" stroke="#000" stroke-width="0.5"/>
<line x1="661.8" y1="182.2" x2="663" y2="182.2" stroke="#000" stroke-width="0.5"/>
<text x="664.4" y="185.5" font-size="7.2">−4</text>
<text x="1" y="218.6" font-size="12">c</text>
<defs>
<g id="tc"><path d="M2.7 4.9h0M-4.5 3.5h0M0.2 -3.4h0M15.3 -1.1h0M1.7 2h0M9.9 -2.2h0M6.1 -7.4h0M-0.6 -4.4h0M-7.3 -10.3h0M-9.4 -3.3h0M0.8 -3.8h0M2.5 -9.3h0M1.4 -0.7h0M7.3 -6.7h0M-0.8 -13.1h0M-1.5 -14.1h0M-7.9 4.1h0M4.3 -3.7h0M5.2 0.9h0M9.3 -3.3h0M-2.1 -5.3h0M-4.9 -2.2h0M-3.5 3.9h0M-11.1 -8h0M-4.7 -13.5h0M0 -4.9h0M9.5 -6h0M0.9 -5.7h0M6.5 -8.3h0M1.4 -0.1h0M12.7 3.2h0M-1.4 -0.3h0M-1.3 7.1h0M3.5 -3.2h0M0.4 -3.1h0M0.8 -6.8h0M1 0h0M0.6 -2.8h0M4.3 3.3h0M-1.1 -4.1h0M15.6 0.9h0M7.4 -5.2h0M-6.2 -0.4h0M-3.8 -7.8h0M-7.1 -4.8h0M9.8 -4.4h0M-8.1 1.7h0M2.5 2.6h0M10.4 -2.9h0M1 -2.3h0M-5.9 1.7h0M11.6 -1h0M0.3 -3.4h0M-3.5 -6.4h0M-0.8 -6.6h0M-1.1 -10.7h0M4.5 -1.7h0M1.9 4.1h0M-3.1 -4.7h0M-2 1.6h0M-4.4 3.4h0M-0.1 3.1h0M2.2 -3.3h0M-8.3 -5.8h0M0.2 1.6h0M3.7 -5.8h0M4.9 3.4h0M1 -4.4h0M-0.8 2.5h0M5.8 -7.1h0M4.6 -4.6h0M-3.3 4.8h0M7.7 -6h0M2.6 0.8h0M-2.5 -2.7h0M6.7 -11.8h0M4.3 2.1h0M5.5 -9.4h0M4.2 -6.7h0M6 1.3h0M3.5 -6.2h0M-2.1 2.7h0M-4.3 0.7h0M5.6 -3.5h0M6.5 -3.7h0M1.6 -12.5h0M-2.4 -7.7h0M0.4 2.9h0M2.4 0h0M-2.9 -4.4h0M2.8 -3.6h0M10.9 -6.8h0M15.2 -7.4h0M9.4 -6.3h0M13.5 -1.2h0M4.8 2.1h0M-2.4 -7.7h0M-2.9 -5.3h0M1.8 8.9h0M-10.1 -0.6h0M-0.8 0.9h0M-10.6 -4.2h0M7.9 6.6h0M13.2 -6.7h0M2.4 -2.6h0M-7.6 -9.9h0M7.3 -0.6h0M1 4.7h0M-5 0.9h0M2.1 -2.3h0M5.4 -1h0M3.9 -0.5h0M15.6 -3.7h0M9.1 1.3h0M-0.4 2.4h0M-4 4.4h0M-3.7 -4.7h0M4.3 2.6h0M8.4 2.9h0M0.6 -7.3h0M5.8 -0.3h0M-4.7 3.4h0M3.4 -7.3h0M5.1 -9.3h0M-4.1 0.2h0M-8.9 -1.8h0M-7.5 2.1h0M-3.1 -1h0M-8.5 -3.9h0M8.6 0.5h0M-10.9 3.1h0M8.2 -4.1h0M11.9 -7.8h0M1.4 4.1h0M11.2 5h0M-5.7 -11.8h0M4.7 -9.9h0M1.1 -9h0M9.4 2.4h0M5.9 -1.9h0M2.3 -3.6h0M4.7 -0.6h0M5.2 -4.4h0M15.3 -0.4h0M11.8 5.3h0M-4.2 -11.3h0M10.8 -4.1h0M2.6 -3.4h0M2.9 -8.5h0M1.3 -4.6h0M1.9 -14.8h0M7.7 -0.2h0M-10.1 -6h0M2.2 1.5h0M2 5.6h0M2.2 -7.5h0M-2.7 2.1h0M-2.3 2.6h0M9.1 1.2h0M9.1 -3h0M1.9 -5.3h0M-2.3 -10.6h0M-1.9 -7.9h0M-8 -1.2h0M5.2 -3.9h0M11.6 3.2h0M9.3 -5.3h0M-8.4 1.1h0M4.2 2h0M4.9 4.9h0M0 1.7h0M-1.1 6.2h0M-9.7 3.6h0M-2.8 -4.2h0M2.3 -0.8h0M-4.8 -1.3h0M5.1 2.6h0M-3.3 6.5h0M-7.4 -1h0M-11 0.1h0M5.9 -8.3h0M-9.1 -1h0M6.4 -6.4h0M-3 -1.2h0M3.1 6.7h0M5.2 -5.3h0M4 2h0M6.2 5.9h0M11.5 -11.2h0M1.6 9h0M-0.8 3.3h0M1.6 -4.3h0M13.1 3.7h0M0.3 3h0M-7.2 -6h0M8.3 -1.8h0M-5.4 0.5h0M4.3 5.1h0M8.7 -3.5h0M-1.4 -2.8h0M0.4 6h0M13.1 5.5h0M4.7 -3.3h0M8.3 -3.9h0M3.7 -11.2h0M-1 5.9h0M-5.2 -10.2h0M0.9 7.2h0M12.2 -4h0M-1.3 -2.6h0M-4.5 -1.8h0M-0.1 -10.1h0M-2.1 -3.4h0M-4 -8.2h0M8.3 8.4h0M0 -4.3h0M5.5 -3.3h0M-3.5 5.7h0M-5.3 -6h0M-2.7 -6.9h0M0.3 1.2h0M12.1 1.6h0M2.2 -8.9h0M1.6 -7.2h0M1.3 3.4h0M3.4 -3.2h0M-3.3 -2.1h0M2.8 -7.1h0M-1.5 2.8h0M-9.6 -4.4h0M-5.7 -6.3h0M1.4 -11.4h0M0.6 -12.6h0M0.2 -21.9h0M0 -11h0M-6.7 -9.9h0M1.7 -21.6h0M-2.9 -15.5h0M-3.1 -12h0M-6.1 -15.1h0M-0.1 -10.4h0M-0.8 -15.2h0M1.8 -23.9h0M2.7 -15.5h0M-6 -16.1h0M-2.3 -17.9h0M1.9 -18.4h0M-6.2 -18.8h0M5.9 -13.9h0M-3.4 -19h0M-5.4 -14.8h0M0.7 -8.2h0M3.6 -12.6h0M-3.6 -18.3h0M0.7 -15.7h0M0.5 -20.7h0M2.6 -12.5h0M-0.8 -12h0M-4.6 -4.9h0M-1.7 -16.5h0M2.4 -19.3h0M4.7 -17.5h0M-1.2 -18.6h0M2.2 -24.9h0M1.8 -18.1h0M-0.8 -19.8h0M-0.1 -13.1h0M1.4 -12.4h0M1.5 -9h0M-2.6 -19.9h0M-6.1 -10.6h0M-2.5 -8.7h0M-0.8 -19.1h0M2.6 -4.3h0M-1.7 -18.7h0M-4.4 -9.6h0M-3.3 -16h0M1.7 -13.9h0M-0.5 -16.7h0M-3.6 -13.2h0M5.6 10.4h0M3 9.4h0M6.9 8.3h0M7.3 12h0M5.8 8.3h0M1.1 9.3h0M4.6 6.8h0M1.7 10.3h0M5.3 9.7h0M2.6 8.4h0M2.4 5.4h0M5.9 8.9h0M4.6 4.8h0M6.1 3.6h0M8.1 6.6h0M5 11.1h0M7.2 2.8h0M4 9.5h0M4.7 7.8h0M6.7 8.3h0M5.5 9h0M10.5 9.9h0M7.2 6.4h0M9.5 7.3h0M6 7.6h0M3.2 13.1h0M6.6 7.4h0M2.9 15.5h0M8 10.6h0M2 13.2h0M7.2 6.9h0M4.6 1.5h0M7.6 3.6h0M8.4 6.2h0M2.5 9.5h0M5.8 3.5h0M4.7 10.4h0M4 2.6h0M4 4.2h0M2.7 8.2h0M-8.3 2.2h0M-16.2 4.4h0M-9 1.4h0M-7.2 10.7h0M-4.2 -0.1h0M-1.5 -0.9h0M-10.4 6.3h0M-3.5 4.8h0M-5.7 2.5h0M-10.2 2.2h0M-1.7 5.8h0M-7.9 4.3h0M-3.9 7.7h0M-8.7 2.7h0M-6.8 8.1h0M-15.6 6.4h0M-15 -1.3h0M-11.1 2.4h0M-7.1 4.5h0M-6.9 1.3h0M-3.2 5.3h0M-6.4 10.4h0M-13.4 -0.8h0M-11.9 7.5h0M-10.3 3.7h0M-4.6 -1.6h0M-6.7 0.5h0M-13.4 1.9h0M-8.3 1.4h0M-11.3 6.8h0M-2.3 5.2h0M-8.5 -1.2h0M-12.1 -1.4h0M-7 6.6h0M-3.5 2.9h0M-9.9 3.7h0M-7.4 5.4h0M-0.7 0.3h0M-13.1 2.1h0M-2.5 1.6h0M1.8 -10.1h0M2.2 4.1h0M-1.7 -8.2h0M-17 -1.7h0M19.2 4.2h0M-2.1 10.5h0M-11.1 13.6h0M-0.2 -8.2h0M8.1 5.1h0M-4.1 2.1h0M11.6 13.9h0M-5 4.3h0M-5.1 10.3h0M-14.8 -2h0M-2.9 10.9h0M16.5 -11.8h0M-2.6 7.1h0M0.6 -1.3h0M10 9h0M-7 -1.3h0M7.7 2.1h0M1.7 -11.1h0M20.9 -2.3h0M3.2 -0.3h0M0.8 1.5h0M10.8 -69.5h0M9.1 -66.1h0M14.2 -62.7h0M15 -60.2h0M6.6 -52.6h0M15.9 -54.3h0M1.5 -48.4h0M1.5 -45h0M0.7 -40.8h0M-4.4 -32.4h0M4.1 -32.4h0M0.7 -22.3h0M1.5 -19.7h0M4.1 -14.7h0M-6.9 -6.2h0M-1 -7.9h0M4.1 -7.1h0M-1 -3.7h0M-0.1 0.5h0M3.2 3.1h0M-6.8 -6h0M-2.7 0.8h0M2.7 2.7h0M5.4 -7.4h0M-4.1 -31.9h0M1.4 -47.8h0M6.8 -51.9h0M10.9 -69.3h0M15 -62.5h0M-0.6 -12.9h0M2 -36h0M1 -27h0M0 -17h0M7.4 -59.4h0M10.8 -57.7h0M11.7 -54.3h0M15 -50.9h0M6.6 -45h0M5.8 -40h0M13.3 -37.4h0M-0.1 -36.6h0M10.8 -32.4h0M0.7 -29.8h0M-4.4 -23.9h0M-6.1 -18.9h0M-1.8 -14.7h0M7.4 -11.3h0M9.1 -7.9h0M-1.3 -27h0M3.4 -21.7h0M-3.5 -18h0M12.5 -60h0M8.5 -10h0M-64.6 -20.2h0M-62.9 -20.5h0M-56 -18.4h0M-50.3 -15h0M-27.6 -6.4h0M-25 -5.5h0M-22.4 -4.6h0M-19.8 -5.5h0M-19 -2.9h0M-21.5 -2h0M-23.5 -3.5h0M-2.9 0h0M-63.8 -19.5h0M-21 -4h0M-56 -21.9h0M-52.5 -19.3h0M-49 -18.5h0M-47.9 -23.6h0M-50 -17.5h0M-37 -10.2h0M-35.5 -9.8h0M-10.3 -2.1h0M-25.3 9.4h0M-20.3 6.9h0M-16.6 5.7h0M-19.1 10.6h0M-14.1 9.4h0M-12.9 11.4h0M-26.5 18.1h0M-24 18.1h0M-17.8 11.9h0M-21.6 12.6h0M-18 8.5h0M-15.5 7.5h0M-37.7 0.7h0M-35.2 1.5h0M-29 2h0M-20.3 0.7h0M3.3 3.2h0M26.8 6.9h0M30.1 8.9h0M32.3 11.4h0M41.2 11.9h0M12 -18.4h0M-15.5 -18.4h0M-15.5 -13.3h0M-31 -0.5h0M-33 1.2h0M12.8 -38h0M-25 17h0M-22 19h0M-11 14h0M-13 16.5h0M-28.5 19.5h0M-9 12h0M20 -2h0M18 -5h0M-20 -8h0M-17 -6h0" stroke="#cbcbcb" stroke-width="4.4" stroke-linecap="round" fill="none"/></g>
<g id="pc"><path d="M5.4 5.8h0M0.9 5.1h0M13.3 5.5h0M19.1 -2.3h0M5.6 -1.2h0M-2.1 1.9h0M7 5.5h0M9.6 16.4h0M12.8 -6.6h0M6.8 -0.7h0M0.4 10.8h0M3 -8.7h0M7.8 1.3h0M-5.6 -2.5h0M-0.6 2.9h0M1.2 3.4h0M21.5 -1.8h0M-2.3 1.5h0M14.9 -1.2h0M17.9 -4.8h0M-4.3 2.7h0M-2.8 -0.7h0M9.1 7.3h0M6 1.4h0M17.1 5.4h0M2.9 10.3h0M-3.1 4h0M10.9 2.9h0M-0.2 5.1h0M0.1 -0.6h0M-4.2 10.8h0M0.1 9.9h0M8.4 1.4h0M11 4.6h0M6.2 -5.3h0M5.6 8.4h0M9.4 9h0M18.4 5.5h0M12.4 3.6h0M20.2 0.8h0M-13.2 10.7h0M-7.1 -4.6h0M3.4 6.8h0M0.4 4.1h0M4.4 3.7h0M10.3 4h0M6.8 -2.6h0M4 5.6h0M14.4 2.3h0M5.8 5h0M10.1 4.2h0M2.7 -0.1h0M15.1 4.8h0M12.9 8.1h0M6.4 -3.1h0M15.2 2.5h0M5.5 9.2h0M14.2 4.4h0M5.2 15.6h0M10.2 -3.2h0M11.8 3.9h0M5.3 7.1h0M7.1 15h0M6.8 4.5h0M15.5 -0.4h0M14.1 2.6h0M15.7 -2.1h0M8.8 -6.6h0M1 3.1h0M9.5 14.8h0M21.5 -5h0M-1.8 10.5h0M9 -5.2h0M9.4 -3.8h0M-2.7 -4.5h0M2.7 16.5h0M8.4 2.4h0M3.7 1.4h0M8.8 1.1h0M18.1 1.3h0M10.1 4.3h0M-2.7 -2.8h0M4.5 -10.7h0M5.1 3.5h0M6.3 2.5h0M8.2 0.9h0M10.8 -6.8h0M13.2 -2.3h0M9.4 0.2h0M1.2 -1.7h0M17.1 -3.5h0M-5.8 4.3h0M7.3 3.3h0M-3.6 -0.9h0M13.1 -3.2h0M10.5 7.4h0M6.2 -4.3h0M22.1 3.8h0M6.8 0.8h0M-3.5 1.4h0M6.8 -2h0M6.1 9.9h0M8.9 2.4h0M14.4 8.5h0M13.1 -1.7h0M-11.3 7.8h0M5.6 0.8h0M9.4 0.3h0M-0.5 13.8h0M-9.2 8h0M14.1 13.6h0M7.3 6.1h0M-3.2 3.2h0M-13.8 -0.4h0M4.8 2.4h0M0.7 10h0M-9.2 3.8h0M1.4 3.2h0M5.5 14.6h0M-4.5 11h0M17.6 2.2h0M-0.5 -4.4h0M-2.7 15.2h0M-14.4 5.7h0M-1.2 14.3h0M7.8 -5h0M0.4 4.2h0M6.1 -2.6h0M2.5 0.3h0M9.4 4.7h0M7 -0.5h0M12.1 -0.3h0M-2.4 0.4h0M2.1 1.2h0M-12.3 11.1h0M10.6 10.9h0M1.5 7.5h0M6.8 3.2h0M21.1 -0.5h0M10.2 -7.3h0M10.1 2h0M-4.1 -0.5h0M-14 -3.3h0M14.7 8.8h0M-1.7 -5.9h0M-7.5 -4.6h0M-1.7 16h0M-5.1 7.5h0M16.2 -2.6h0M2.6 7h0M-0.9 10.5h0M24.3 2.7h0M-2.4 6.6h0M8 -1.5h0M3.8 3.5h0M9.5 9.8h0M0.7 -4.8h0M1.3 0.6h0M25.2 2h0M-1.2 -0.2h0M10.8 5.5h0M8.6 16.6h0M17.2 -3.5h0M8.9 6.6h0M13.2 12.1h0M0.2 -3.8h0M11.8 1.8h0M-0.2 2.5h0M6.9 3.9h0M3.1 5.8h0M0.4 15.2h0M0.7 -6.3h0M15.4 -3.6h0M-7.9 -0.4h0M3.1 -4.5h0M-0.2 2.9h0M10.8 -2.7h0M10 4.5h0M9.9 -0.3h0M-5.6 8.7h0M10.2 -1.1h0M-2.2 7.1h0M23.1 5.2h0M8 5.9h0M14.7 -6.1h0M6.3 10.6h0M-9.2 4.4h0M11.7 13.3h0M19.1 2.8h0M23.6 -3.7h0M-7.7 11h0M11 -3.9h0M14.8 8.2h0M11.5 0.3h0M-6.6 -7.2h0M3 2h0M0.3 -0.4h0M13.3 -3.9h0M-1.8 14.9h0M-0.8 -0.9h0M14.6 -7.9h0M19.6 -4.7h0M-2.6 -4.8h0M-3.7 -1.5h0M13.4 2.6h0M17.4 7.6h0M-6.3 3.1h0M-0.6 0.4h0M6.1 5.2h0M8.9 -9.9h0M3.5 0.2h0M21.7 1.5h0M4.6 3h0M12 -4h0M3.8 2.2h0M4.7 1.4h0M0 3.5h0M-7 12.7h0M4.8 -8h0M2.3 8.7h0M3.1 2h0M5.5 -9h0M0.8 11.8h0M8.4 -6.1h0M-0.2 4.4h0M23.7 4.4h0M11.6 1h0M5.3 -3.1h0M-7 -5.3h0M-0.4 10.5h0M4.6 10.2h0M11.9 3.9h0M0.4 15.9h0M15.2 10.5h0M7 5.3h0M10 16.5h0M-4.2 -8h0M0.6 3h0M-0.3 8.6h0M10.4 2.8h0M5.6 14.5h0M1.6 10.4h0M-5.4 -8.1h0M20.5 8.3h0M11.2 11.6h0M20.1 4.7h0M7.6 6.7h0M12.8 4.2h0M-1.7 -0.6h0M10.5 2.8h0M18 0.3h0M8.1 2.7h0M16.5 -2.3h0M-3.5 -7.1h0M9.8 5.4h0M11.7 8.2h0M-5.8 0.9h0M-4.6 10.5h0M13 -5.6h0M10 3.8h0M6.3 7.3h0M-0.3 1.2h0M-0.9 -0.9h0M-4.3 10.1h0M10.5 1.7h0M5.5 4.4h0M11.1 13.5h0M2.4 3h0M0 12h0M1.1 5.1h0M-2.1 7.7h0M-1 8.1h0M6.4 4.1h0M8.1 -6.5h0M1.1 4.5h0M1.8 10.4h0M13.1 -1.2h0M15.9 1.8h0M10.2 10.5h0M-4.8 -1.8h0M4.7 1.7h0M-9.9 7.2h0M6.7 4.4h0M8 7.5h0M-2.2 5.1h0M1.4 0.3h0M-2.6 10.4h0M11.4 1.2h0M-0.7 9.4h0M-3.3 1.4h0M8.9 0h0M0.5 3.5h0M14 -2.4h0M10 2.7h0M2.1 -4.8h0M20.8 6.5h0M7.6 1.3h0M19.7 -0.8h0M-3.9 -1.6h0M4.7 5.1h0M-30.7 1.6h0M1 8.3h0M-7.4 11.8h0M25.4 -5.5h0M-6.4 7.6h0M14.2 -0.8h0M13.4 -14.1h0M10.4 3h0M9.9 3.3h0M6.8 -4.6h0M0.9 -6.2h0M24.6 -10.5h0M-1 -1h0M8.6 -0.8h0M-17.6 -2h0M13.7 5.7h0M-12.8 -11.4h0M-20.6 -1.7h0M-4.9 -3.9h0M-10 0.8h0M15.8 7.8h0M-8.7 5.9h0M-6.2 10.1h0M11.8 7.2h0M10.2 11.1h0M-17.1 -3.5h0M-7.4 6.6h0M-2 -11.4h0M-13.3 -2.5h0M-9.1 -4.7h0M-23.2 0.4h0M-20.7 -4.1h0M-11.3 -3.4h0M17.5 -4.4h0M-15 1.3h0M-7.1 6h0M-6.8 6h0M1.1 8.5h0M-6.5 6.9h0M-9.3 -7.3h0M13.4 -12.5h0M-15.6 13.2h0M-0.2 2.4h0M0.6 -1.1h0M25.1 -0.4h0M17.4 -0.8h0M-12.3 -3.1h0M-11.2 2.9h0M-24.2 4h0M-4.5 2.6h0M-1.4 -4.7h0M-1.7 -0.7h0M11.9 -1.4h0M-4.4 -11.8h0M9.7 -2.2h0M-15.4 9.4h0M10.3 -1h0M-1.9 -12.1h0M-35.8 0.3h0M-23.7 4.6h0M-7.6 1.3h0M-10.3 2.8h0M8.3 0.2h0M7.9 5.7h0M-4.8 -15.3h0M6.1 -6h0M-17.2 -16.6h0M-27.6 10.4h0M22.2 10.5h0M7.7 -12.7h0M-23.4 4.4h0M10.2 -8.7h0M-25.9 -14.4h0M-5.7 6.5h0M25 2.9h0M-17.4 -10.2h0M-2.3 4.4h0M-31.4 1.3h0M-12 6h0M-26.5 7.1h0M17 11h0M18.6 0h0M-1.7 -10.5h0M-3.6 -7.9h0M5.4 5.2h0M-5.1 12.4h0M-21.9 -5.9h0M20.8 -3.2h0M17.8 -7.1h0M-12.6 7.3h0M-2.1 -15.9h0M15.6 -9.2h0M-8.2 -6.7h0M-9.5 -4.8h0M-8.3 -5.2h0M5.2 -6.3h0M21.8 3.4h0M-1.9 -5.9h0M7.9 -15.8h0M-13 -4.1h0M1.8 0.1h0M-23.9 3.9h0M-9.5 -5.6h0M-1.5 -3.9h0M-9.5 -4.5h0M6.2 -0.8h0M-0.2 -6.7h0M13 -0.1h0M-13.7 8h0M-22.4 -7.2h0M8 -4.9h0M-7.7 -4.2h0M-3 2.8h0M5.2 -6.9h0M-10 -17.9h0M-10.1 2.8h0M-2.8 8.9h0M-7.1 1.1h0M8.8 -10.8h0M15.8 -12.8h0M-7 -16.7h0M-7.2 -9.6h0M10.1 -18.3h0M3.1 2h0M4.5 7.2h0M8.3 -8.8h0M5.2 -7.4h0M-12.7 -3.6h0M-10.1 -6.2h0M11.1 -0.6h0M-29.6 -7.8h0M-10.3 17.9h0M0.1 -5.6h0M2.9 -20.6h0M17.9 -4.1h0M-16.5 5.8h0M-14.3 -10.5h0M7.9 15.4h0M-8.2 -1.8h0M-5 2.3h0M-9 -0.1h0M-14.1 -2.3h0M8.2 -13.9h0M6.8 13.4h0M-12.7 -4.3h0M-1.7 -1.5h0M-18.2 5.8h0M5.5 7.4h0M6.6 -6.2h0M-5.3 -6.3h0M9.1 11.4h0M-4.8 0.9h0M2.5 12.3h0M-19.8 1.3h0M3 2.8h0M-14.1 6.6h0M3.5 -9.4h0M-17.6 15.6h0M-11.6 -14.3h0M2.5 -10.2h0M-3.4 3.1h0M-15.8 -12.8h0M22.7 -12h0M-19.2 -1.2h0M2.8 -1.8h0M-15.4 6.6h0M-18.4 -8h0M6.1 7.5h0M3.2 6.5h0M2.3 5.7h0M-12.9 -7.1h0M4.8 7.3h0M-8.7 -7.3h0M-5.1 8h0M-4.3 -3.2h0M-5.2 -3.5h0M4 -4.5h0M-1.3 -3h0M-13.8 -0.7h0M0.9 -15.4h0M0.2 1h0M-4.8 -9.8h0M-12 4.6h0M-15.3 7.3h0M-8.6 1.9h0M-0.7 -14.5h0M10.6 -5h0M-19.1 10.5h0M16.1 7.7h0M8.7 8.5h0M-35.4 -13.7h0M-7.6 -10.1h0M-18.8 -14.2h0M-23 -16.7h0M-10.8 -12.9h0M-18.1 -13.6h0M-14 -9.1h0M-14.7 -21.3h0M-24.6 -15.9h0M-21.4 -20.9h0M-15 -14.3h0M-11.9 -12.4h0M-20.3 -8.1h0M-8.5 -10.5h0M-26.3 -11.3h0M-10.6 -9.1h0M-5.5 -7.2h0M-13.6 -9.5h0M-18.1 -19h0M-11 -4.6h0M-27.3 -13.4h0M-24.3 -9.7h0M-26.5 -17h0M-32.9 -13.8h0M-11.2 -19h0M-23.8 -5.9h0M-28.4 -9h0M-19.7 -17.5h0M-25.8 -6.8h0M-32.2 -6.1h0M-23.2 -3.1h0M-28.3 -10.3h0M-27.7 -3.4h0M-25.5 -10.8h0M-26.9 -8.6h0M-9.2 -14.1h0M-16.7 -14h0M-15.3 -8.5h0M-15 -7.2h0M-12.5 -2.5h0M-16.6 -2.8h0M-23.6 -7.7h0M-26.1 -3.1h0M-17 -6.7h0M-29 -6.3h0M-16.1 -2.1h0M-24.9 -2.4h0M-29.6 -8.2h0M-28.4 -4.9h0M-27.1 -9.6h0M-11.8 -0.8h0M-33.2 -0.7h0M-13.2 -1.4h0M-23.5 0.7h0M-15.2 -12.6h0M-30.5 -3.3h0M-18.6 -5.1h0M-14.6 -0.7h0M-19.1 2.9h0M-13.4 0.1h0M-10 -10.5h0M-6.8 -10.3h0M-18.6 -7.1h0M-26.7 -6.3h0M-32 -3h0M-20.6 -9.4h0M-18.5 -4.3h0M-21 -15.3h0M-16.4 -4.5h0M-10.6 -3.2h0M-16.5 -8.1h0M-23 -10.2h0M-25.7 -10.4h0M-21.6 -7.4h0M-27.1 -13.6h0M-16 -10h0M-23.2 -12.9h0M-10.7 -3.7h0M-10.8 -8.7h0M-19.3 -7.8h0M-28.2 -3h0M-34.6 -9.3h0M-30.3 -5.6h0M-31.9 -6.9h0M-27 -8.4h0M-23.5 3.7h0M-27.7 0.3h0M-18.2 -0.9h0M-31.1 1.5h0M-20.7 -9.9h0M1.3 19.8h0M-11.9 2.5h0M23.8 12.8h0M-19.2 -18.4h0M20.3 6.4h0M16 12.3h0M1.8 8.6h0M-11.1 -2.7h0M3.3 -7h0M-3.5 20h0M-1.5 10.1h0M5.4 -15.1h0M14.9 -22.5h0M8.3 -1.2h0M-17.2 8.2h0M-9.2 23.5h0M19.6 5.6h0M-24.3 -15.2h0M-42.6 2.8h0M-5.5 10.8h0M4.6 7.3h0M-32.3 1.7h0M8.2 13h0M-36.4 1h0M4.1 25.4h0M11.3 1h0M-16.3 -11h0M-27.5 -2.8h0M-17 14.4h0M-21.1 9.6h0M-3.8 -10.1h0M2.6 -22.3h0M7.2 -0.3h0M-10.7 3.2h0M11.1 11.8h0M10.3 -63h0M14.3 -54.9h0M4.5 -47.3h0M3.2 -42h0M-13.9 -34.1h0M-15.7 -24.9h0M-7.3 -23.4h0M-8.6 -20.2h0M8 -23.6h0M3.7 -12.8h0M-5.5 -10.5h0M-1.5 -5.2h0M-6 -0.5h0M-8.6 5.5h0M9 -19.4h0M17.9 -15.4h0M26.9 -12.3h0M-12 -12.3h0M10.3 -8.4h0M21.6 -7.1h0M25.6 -7.1h0M19.5 -3.1h0M-5.2 -4.4h0M2.7 -1.8h0M5.9 0.8h0M8 2.1h0M2.7 4.2h0M9 11.3h0M-53 -4.6h0M-21.3 0h0M-1.8 2.2h0M-65.6 10h0M-23 14.7h0M-36.7 18.7h0M-42.2 18.2h0M-38.8 16.6h0M-25.7 12.9h0M-27.8 22.1h0M-14.4 12.1h0M38.2 4.2h0M34 13.4h0M35.3 15.3h0M40 26.6h0M-4.1 -48.9h0M-29.6 -34.6h0M21.6 -29.2h0M-52.5 -4.9h0M-46.7 -11.2h0M-50.6 2.9h0M-50.6 10.8h0M40.5 -4.7h0M32.1 -18h0M38.7 4.8h0M33.5 12.6h0M40.5 25.8h0M-41.5 17.9h0M-35.3 23.6h0M-25.5 25.7h0M-19 -23h0M-33 -14h0M-38 -6h0M30 -15h0" stroke="#cbcbcb" stroke-width="4.4" stroke-linecap="round" fill="none"/></g>
<clipPath id="ctl"><rect x="44.6" y="0" width="115.9" height="623"/></clipPath>
<clipPath id="cpl"><rect x="194.2" y="0" width="115.8" height="623"/></clipPath>
</defs>
<rect x="44.6" y="239.5" width="115.9" height="19.4" fill="#d9d9d9" stroke="#3a3a3a" stroke-width="1.1"/>
<text x="102.5" y="252.6" font-size="10" text-anchor="middle" fill="#1a1a1a">transcript</text>
<rect x="194.2" y="239.5" width="115.8" height="19.4" fill="#d9d9d9" stroke="#3a3a3a" stroke-width="1.1"/>
<text x="252.1" y="252.6" font-size="10" text-anchor="middle" fill="#1a1a1a">protein</text>
<rect x="44.6" y="258.9" width="115.9" height="98.1" fill="#fff"/>
<line x1="44.6" y1="332.9" x2="160.5" y2="332.9" stroke="#333" stroke-width="1.25"/>
<line x1="114.6" y1="258.9" x2="114.6" y2="357" stroke="#333" stroke-width="1.25"/>
<g clip-path="url(#ctl)"><use href="#tc" transform="translate(114.6 332.9)"/></g>
<path d="M122 273.5h0M125.4 275.2h0M126.3 278.6h0M129.6 282h0M121.2 287.9h0M120.4 292.9h0M127.9 295.5h0M114.5 296.3h0M125.4 300.5h0M115.3 303.1h0M110.2 309h0M108.5 314h0M112.8 318.2h0M122 321.6h0M123.7 325h0M113.3 305.9h0M118 311.2h0M111.1 314.9h0M127.1 272.9h0M123.1 322.9h0" stroke="#b2df8a" stroke-width="5.4" stroke-linecap="round" fill="none"/>
<path d="M125.4 263.4h0M123.7 266.8h0M128.8 270.2h0M129.6 272.7h0M121.2 280.3h0M130.5 278.6h0M116.1 284.5h0M116.1 287.9h0M115.3 292.1h0M110.2 300.5h0M118.7 300.5h0M115.3 310.6h0M116.1 313.2h0M118.7 318.2h0M107.7 326.7h0M113.6 325h0M118.7 325.8h0M113.6 329.2h0M114.5 333.4h0M117.8 336h0M107.8 326.9h0M111.9 333.7h0M117.3 335.6h0M120 325.5h0M110.5 301h0M116 285.1h0M121.4 281h0M125.5 263.6h0M129.6 270.4h0M114 320h0M116.6 296.9h0M115.6 305.9h0M114.6 315.9h0" stroke="#33a02c" stroke-width="5.4" stroke-linecap="round" fill="none"/>
<rect x="44.6" y="258.9" width="115.9" height="98.1" fill="none" stroke="#3a3a3a" stroke-width="1.1"/>
<rect x="194.2" y="258.9" width="115.8" height="98.1" fill="#fff"/>
<line x1="194.2" y1="326.4" x2="310" y2="326.4" stroke="#333" stroke-width="1.25"/>
<line x1="264.5" y1="258.9" x2="264.5" y2="357" stroke="#333" stroke-width="1.25"/>
<g clip-path="url(#cpl)"><use href="#pc" transform="translate(264.5 326.4)"/></g>
<path d="M274.8 263.4h0M278.8 271.5h0M269 279.1h0M267.7 284.4h0M250.6 292.3h0M248.8 301.5h0M257.2 303h0M255.9 306.2h0M272.5 302.8h0M268.2 313.6h0M259 315.9h0M263 321.2h0M258.5 325.9h0M255.9 331.9h0" stroke="#b2df8a" stroke-width="5.4" stroke-linecap="round" fill="none"/>
<path d="M273.5 307h0M282.4 311h0M291.4 314.1h0M252.5 314.1h0M274.8 318h0M286.1 319.3h0M290.1 319.3h0M284 323.3h0M259.3 322h0M267.2 324.6h0M270.4 327.2h0M272.5 328.5h0M267.2 330.6h0M273.5 337.7h0" stroke="#33a02c" stroke-width="5.4" stroke-linecap="round" fill="none"/>
<rect x="194.2" y="258.9" width="115.8" height="98.1" fill="none" stroke="#3a3a3a" stroke-width="1.1"/>
<text x="319.3" y="258.6" font-size="11" fill="#1a1a1a" transform="rotate(90 319.3 258.6)">Natural competence</text>
<line x1="41.2" y1="354.2" x2="44.6" y2="354.2" stroke="#333" stroke-width="1.1"/>
<text x="38.7" y="357.8" font-size="9.6" text-anchor="end" fill="#4d4d4d">−1</text>
<line x1="41.2" y1="332.9" x2="44.6" y2="332.9" stroke="#333" stroke-width="1.1"/>
<text x="38.7" y="336.4" font-size="9.6" text-anchor="end" fill="#4d4d4d">0</text>
<line x1="41.2" y1="311.5" x2="44.6" y2="311.5" stroke="#333" stroke-width="1.1"/>
<text x="38.7" y="315" font-size="9.6" text-anchor="end" fill="#4d4d4d">1</text>
<line x1="41.2" y1="290.2" x2="44.6" y2="290.2" stroke="#333" stroke-width="1.1"/>
<text x="38.7" y="293.7" font-size="9.6" text-anchor="end" fill="#4d4d4d">2</text>
<line x1="41.2" y1="268.8" x2="44.6" y2="268.8" stroke="#333" stroke-width="1.1"/>
<text x="38.7" y="272.3" font-size="9.6" text-anchor="end" fill="#4d4d4d">3</text>
<line x1="190.6" y1="351.8" x2="194.2" y2="351.8" stroke="#333" stroke-width="1.1"/>
<text x="188.1" y="355.3" font-size="9.6" text-anchor="end" fill="#4d4d4d">−0.5</text>
<line x1="190.6" y1="326.4" x2="194.2" y2="326.4" stroke="#333" stroke-width="1.1"/>
<text x="188.1" y="329.9" font-size="9.6" text-anchor="end" fill="#4d4d4d">0.0</text>
<line x1="190.6" y1="300.9" x2="194.2" y2="300.9" stroke="#333" stroke-width="1.1"/>
<text x="188.1" y="304.4" font-size="9.6" text-anchor="end" fill="#4d4d4d">0.5</text>
<line x1="190.6" y1="275.5" x2="194.2" y2="275.5" stroke="#333" stroke-width="1.1"/>
<text x="188.1" y="279" font-size="9.6" text-anchor="end" fill="#4d4d4d">1.0</text>
<circle cx="51.8" cy="266.5" r="2.4" fill="#b2df8a"/>
<text x="64.6" y="269.3" font-size="7.9">ComE</text>
<circle cx="51.8" cy="280.7" r="2.4" fill="#33a02c"/>
<text x="64.6" y="283.5" font-size="7.9">ComX</text>
<rect x="44.6" y="374.3" width="115.9" height="98.1" fill="#fff"/>
<line x1="44.6" y1="447.4" x2="160.5" y2="447.4" stroke="#333" stroke-width="1.25"/>
<line x1="114.6" y1="374.3" x2="114.6" y2="472.4" stroke="#333" stroke-width="1.25"/>
<g clip-path="url(#ctl)"><use href="#tc" transform="translate(114.6 447.4)"/></g>
<path d="M58.6 425.5h0M62.1 428.1h0M65.6 428.9h0M66.7 423.8h0M64.6 429.9h0M77.6 437.2h0M79.1 437.6h0M104.3 445.3h0" stroke="#cab2d6" stroke-width="5.4" stroke-linecap="round" fill="none"/>
<path d="M50 427.2h0M51.7 426.9h0M58.6 429h0M64.3 432.4h0M87 441h0M89.6 441.9h0M92.2 442.8h0M94.8 441.9h0M95.6 444.5h0M93.1 445.4h0M91.1 443.9h0M111.7 447.4h0M50.8 427.9h0M93.6 443.4h0" stroke="#6a3d9a" stroke-width="5.4" stroke-linecap="round" fill="none"/>
<rect x="44.6" y="374.3" width="115.9" height="98.1" fill="none" stroke="#3a3a3a" stroke-width="1.1"/>
<rect x="194.2" y="374.3" width="115.8" height="98.1" fill="#fff"/>
<line x1="194.2" y1="440.7" x2="310" y2="440.7" stroke="#333" stroke-width="1.25"/>
<line x1="264.5" y1="374.3" x2="264.5" y2="472.4" stroke="#333" stroke-width="1.25"/>
<g clip-path="url(#cpl)"><use href="#pc" transform="translate(264.5 440.7)"/></g>
<path d="M262.7 442.9h0" stroke="#cab2d6" stroke-width="5.4" stroke-linecap="round" fill="none"/>
<path d="M211.5 436.1h0M243.2 440.7h0" stroke="#6a3d9a" stroke-width="5.4" stroke-linecap="round" fill="none"/>
<rect x="194.2" y="374.3" width="115.8" height="98.1" fill="none" stroke="#3a3a3a" stroke-width="1.1"/>
<text x="319.3" y="374" font-size="11" fill="#1a1a1a" transform="rotate(90 319.3 374)">Peptide signaling</text>
<line x1="41.2" y1="468.8" x2="44.6" y2="468.8" stroke="#333" stroke-width="1.1"/>
<text x="38.7" y="472.2" font-size="9.6" text-anchor="end" fill="#4d4d4d">−1</text>
<line x1="41.2" y1="447.4" x2="44.6" y2="447.4" stroke="#333" stroke-width="1.1"/>
<text x="38.7" y="450.9" font-size="9.6" text-anchor="end" fill="#4d4d4d">0</text>
<line x1="41.2" y1="426" x2="44.6" y2="426" stroke="#333" stroke-width="1.1"/>
<text x="38.7" y="429.5" font-size="9.6" text-anchor="end" fill="#4d4d4d">1</text>
<line x1="41.2" y1="404.7" x2="44.6" y2="404.7" stroke="#333" stroke-width="1.1"/>
<text x="38.7" y="408.2" font-size="9.6" text-anchor="end" fill="#4d4d4d">2</text>
<line x1="41.2" y1="383.3" x2="44.6" y2="383.3" stroke="#333" stroke-width="1.1"/>
<text x="38.7" y="386.8" font-size="9.6" text-anchor="end" fill="#4d4d4d">3</text>
<line x1="190.6" y1="466.1" x2="194.2" y2="466.1" stroke="#333" stroke-width="1.1"/>
<text x="188.1" y="469.6" font-size="9.6" text-anchor="end" fill="#4d4d4d">−0.5</text>
<line x1="190.6" y1="440.7" x2="194.2" y2="440.7" stroke="#333" stroke-width="1.1"/>
<text x="188.1" y="444.2" font-size="9.6" text-anchor="end" fill="#4d4d4d">0.0</text>
<line x1="190.6" y1="415.2" x2="194.2" y2="415.2" stroke="#333" stroke-width="1.1"/>
<text x="188.1" y="418.8" font-size="9.6" text-anchor="end" fill="#4d4d4d">0.5</text>
<line x1="190.6" y1="389.8" x2="194.2" y2="389.8" stroke="#333" stroke-width="1.1"/>
<text x="188.1" y="393.3" font-size="9.6" text-anchor="end" fill="#4d4d4d">1.0</text>
<circle cx="51.8" cy="381.9" r="2.4" fill="#cab2d6"/>
<text x="64.6" y="384.7" font-size="7.9" font-style="italic">vp1</text>
<circle cx="51.8" cy="396.1" r="2.4" fill="#6a3d9a"/>
<text x="64.6" y="398.9" font-size="7.9" font-style="italic">rtg</text>
<rect x="44.6" y="488.8" width="115.9" height="98.1" fill="#fff"/>
<line x1="44.6" y1="562.4" x2="160.5" y2="562.4" stroke="#333" stroke-width="1.25"/>
<line x1="114.6" y1="488.8" x2="114.6" y2="586.9" stroke="#333" stroke-width="1.25"/>
<g clip-path="url(#ctl)"><use href="#tc" transform="translate(114.6 562.4)"/></g>
<path d="M89.3 571.8h0M94.3 569.3h0M98 568.1h0M95.5 573h0M100.5 571.8h0M101.7 573.8h0M88.1 580.5h0M90.6 580.5h0M96.8 574.3h0M93 575h0M96.6 570.9h0M99.1 569.9h0" stroke="#fdbf6f" stroke-width="5.4" stroke-linecap="round" fill="none"/>
<path d="M76.9 563.1h0M79.4 563.9h0M85.6 564.4h0M94.3 563.1h0M117.9 565.6h0" stroke="#ff7f00" stroke-width="5.4" stroke-linecap="round" fill="none"/>
<path d="M141.4 569.3h0M144.7 571.3h0M146.9 573.8h0M155.8 574.3h0" stroke="#b15928" stroke-width="5.4" stroke-linecap="round" fill="none"/>
<rect x="44.6" y="488.8" width="115.9" height="98.1" fill="none" stroke="#3a3a3a" stroke-width="1.1"/>
<rect x="194.2" y="488.8" width="115.8" height="98.1" fill="#fff"/>
<line x1="194.2" y1="555.9" x2="310" y2="555.9" stroke="#333" stroke-width="1.25"/>
<line x1="264.5" y1="488.8" x2="264.5" y2="586.9" stroke="#333" stroke-width="1.25"/>
<g clip-path="url(#cpl)"><use href="#pc" transform="translate(264.5 555.9)"/></g>
<path d="M222.3 574.1h0M225.7 572.5h0M238.8 568.8h0M236.7 578h0M250.1 568h0" stroke="#fdbf6f" stroke-width="5.4" stroke-linecap="round" fill="none"/>
<path d="M198.9 565.9h0M241.5 570.6h0M227.8 574.6h0" stroke="#ff7f00" stroke-width="5.4" stroke-linecap="round" fill="none"/>
<path d="M302.7 560.1h0M298.5 569.3h0M299.8 571.2h0M304.5 582.5h0" stroke="#b15928" stroke-width="5.4" stroke-linecap="round" fill="none"/>
<rect x="194.2" y="488.8" width="115.8" height="98.1" fill="none" stroke="#3a3a3a" stroke-width="1.1"/>
<text x="319.3" y="488.5" font-size="11" fill="#1a1a1a" transform="rotate(90 319.3 488.5)">Carbon metabolism</text>
<line x1="41.2" y1="583.8" x2="44.6" y2="583.8" stroke="#333" stroke-width="1.1"/>
<text x="38.7" y="587.2" font-size="9.6" text-anchor="end" fill="#4d4d4d">−1</text>
<line x1="41.2" y1="562.4" x2="44.6" y2="562.4" stroke="#333" stroke-width="1.1"/>
<text x="38.7" y="565.9" font-size="9.6" text-anchor="end" fill="#4d4d4d">0</text>
<line x1="41.2" y1="541" x2="44.6" y2="541" stroke="#333" stroke-width="1.1"/>
<text x="38.7" y="544.5" font-size="9.6" text-anchor="end" fill="#4d4d4d">1</text>
<line x1="41.2" y1="519.7" x2="44.6" y2="519.7" stroke="#333" stroke-width="1.1"/>
<text x="38.7" y="523.2" font-size="9.6" text-anchor="end" fill="#4d4d4d">2</text>
<line x1="41.2" y1="498.3" x2="44.6" y2="498.3" stroke="#333" stroke-width="1.1"/>
<text x="38.7" y="501.8" font-size="9.6" text-anchor="end" fill="#4d4d4d">3</text>
<line x1="190.6" y1="581.4" x2="194.2" y2="581.4" stroke="#333" stroke-width="1.1"/>
<text x="188.1" y="584.9" font-size="9.6" text-anchor="end" fill="#4d4d4d">−0.5</text>
<line x1="190.6" y1="555.9" x2="194.2" y2="555.9" stroke="#333" stroke-width="1.1"/>
<text x="188.1" y="559.4" font-size="9.6" text-anchor="end" fill="#4d4d4d">0.0</text>
<line x1="190.6" y1="530.4" x2="194.2" y2="530.4" stroke="#333" stroke-width="1.1"/>
<text x="188.1" y="533.9" font-size="9.6" text-anchor="end" fill="#4d4d4d">0.5</text>
<line x1="190.6" y1="505" x2="194.2" y2="505" stroke="#333" stroke-width="1.1"/>
<text x="188.1" y="508.5" font-size="9.6" text-anchor="end" fill="#4d4d4d">1.0</text>
<circle cx="51.8" cy="496.4" r="2.4" fill="#fdbf6f"/>
<text x="64.6" y="499.2" font-size="7.9">amino sugar</text>
<circle cx="51.8" cy="510.6" r="2.4" fill="#ff7f00"/>
<text x="64.6" y="513.4" font-size="7.9">glycerol</text>
<circle cx="51.8" cy="524.8" r="2.4" fill="#b15928"/>
<text x="64.6" y="527.6" font-size="7.9">sucrose</text>
<line x1="75.3" y1="586.9" x2="75.3" y2="589.3" stroke="#333" stroke-width="0.9"/>
<text x="75.3" y="601" font-size="9.6" text-anchor="middle" fill="#4d4d4d">−2</text>
<line x1="114.6" y1="586.9" x2="114.6" y2="589.3" stroke="#333" stroke-width="0.9"/>
<text x="114.6" y="601" font-size="9.6" text-anchor="middle" fill="#4d4d4d">0</text>
<line x1="153.9" y1="586.9" x2="153.9" y2="589.3" stroke="#333" stroke-width="0.9"/>
<text x="153.9" y="601" font-size="9.6" text-anchor="middle" fill="#4d4d4d">2</text>
<line x1="197.9" y1="586.9" x2="197.9" y2="589.3" stroke="#333" stroke-width="0.9"/>
<text x="197.9" y="601" font-size="9.6" text-anchor="middle" fill="#4d4d4d">−1.5</text>
<line x1="220.1" y1="586.9" x2="220.1" y2="589.3" stroke="#333" stroke-width="0.9"/>
<text x="220.1" y="601" font-size="9.6" text-anchor="middle" fill="#4d4d4d">−1.0</text>
<line x1="242.3" y1="586.9" x2="242.3" y2="589.3" stroke="#333" stroke-width="0.9"/>
<text x="242.3" y="601" font-size="9.6" text-anchor="middle" fill="#4d4d4d">−0.5</text>
<line x1="264.5" y1="586.9" x2="264.5" y2="589.3" stroke="#333" stroke-width="0.9"/>
<text x="264.5" y="601" font-size="9.6" text-anchor="middle" fill="#4d4d4d">0.0</text>
<line x1="286.7" y1="586.9" x2="286.7" y2="589.3" stroke="#333" stroke-width="0.9"/>
<text x="286.7" y="601" font-size="9.6" text-anchor="middle" fill="#4d4d4d">0.5</text>
<line x1="308.9" y1="586.9" x2="308.9" y2="589.3" stroke="#333" stroke-width="0.9"/>
<text x="308.9" y="601" font-size="9.6" text-anchor="middle" fill="#4d4d4d">1.0</text>
<text x="177.3" y="615" font-size="12" text-anchor="middle">Factor 1</text>
<text x="21.6" y="423.6" font-size="12" text-anchor="middle" transform="rotate(-90 21.6 423.6)">Factor 2</text>
<text x="351.6" y="218.6" font-size="12">d</text>
<circle cx="373.4" cy="249.6" r="2.1" fill="#b2df8a"/>
<text x="386.8" y="253.2" font-size="10">ComE</text>
<circle cx="428.5" cy="249.6" r="2.1" fill="#cab2d6"/>
<text x="441.9" y="253.2" font-size="10" font-style="italic">vp1</text>
<circle cx="470.6" cy="249.6" r="2.1" fill="#fdbf6f"/>
<text x="484" y="253.2" font-size="10">amino sugar</text>
<circle cx="553.1" cy="249.6" r="2.1" fill="#b15928"/>
<text x="566.5" y="253.2" font-size="10">sucrose</text>
<circle cx="615.9" cy="249.6" r="2.1" fill="#e31a1c"/>
<text x="629.3" y="253.2" font-size="10">Shikimate</text>
<circle cx="373.4" cy="269.8" r="2.1" fill="#33a02c"/>
<text x="386.8" y="273.4" font-size="10">ComX</text>
<circle cx="428.5" cy="269.8" r="2.1" fill="#6a3d9a"/>
<text x="441.9" y="273.4" font-size="10" font-style="italic">rtg</text>
<circle cx="470.6" cy="269.8" r="2.1" fill="#ff7f00"/>
<text x="484" y="273.4" font-size="10">glycerol</text>
<circle cx="553.1" cy="269.8" r="2.1" fill="#1f78b4"/>
<text x="566.5" y="273.4" font-size="10">arginine</text>
<circle cx="615.9" cy="269.8" r="2.1" fill="#666666"/>
<text x="629.3" y="273.4" font-size="10">heat-shock</text>
<rect x="394.7" y="295.1" width="128.2" height="20.9" fill="#d9d9d9" stroke="#333" stroke-width="0.9"/>
<text x="458.8" y="309.4" font-size="10" text-anchor="middle" fill="#1a1a1a">FEVER vs C+Y</text>
<rect x="529.4" y="295.1" width="128.7" height="20.9" fill="#d9d9d9" stroke="#333" stroke-width="0.9"/>
<text x="593.8" y="309.4" font-size="10" text-anchor="middle" fill="#1a1a1a">LMC vs C+Y</text>
<rect x="658.1" y="316.1" width="20.5" height="133.3" fill="#d9d9d9" stroke="#333" stroke-width="0.9"/>
<text x="664.9" y="382.8" font-size="10" text-anchor="middle" fill="#1a1a1a" transform="rotate(90 664.9 382.8)">protein</text>
<rect x="658.1" y="456.5" width="20.5" height="133.1" fill="#d9d9d9" stroke="#333" stroke-width="0.9"/>
<text x="664.9" y="523" font-size="10" text-anchor="middle" fill="#1a1a1a" transform="rotate(90 664.9 523)">transcript</text>
<rect x="394.7" y="316.1" width="128.2" height="133.3" fill="#fff"/>
<line x1="394.7" y1="400.1" x2="522.9" y2="400.1" stroke="#333" stroke-width="1.1"/>
<line x1="458" y1="316.1" x2="458" y2="449.4" stroke="#333" stroke-width="1.1"/>
<clipPath id="cd0"><rect x="394.7" y="316.1" width="128.2" height="133.3"/></clipPath>
<g clip-path="url(#cd0)">
<path d="M481.4 405.8h0M462.9 398.9h0M476.5 407.1h0M477.1 398h0M463.2 401.5h0M483.6 401.7h0M468.1 401h0M474.4 399.4h0M472.4 402.5h0M491.7 401.5h0M483.7 398.5h0M482.5 402.2h0M466 401.6h0M483 400.7h0M484.5 406.5h0M491.5 406.8h0M457.4 402.8h0M464.4 404.7h0M473.3 402.4h0M477.8 399.9h0M473.6 399.5h0M496.9 400.3h0M472.6 396.2h0M455 399.1h0M481.8 404.1h0M475.7 399.7h0M494.2 398.5h0M462.4 403.2h0M460.7 402.6h0M483.9 401.5h0M477.2 401.8h0M458 401.7h0M453.1 399.9h0M474.9 405.9h0M456.3 400h0M475.1 403.4h0M456.1 407.6h0M462.8 405.1h0M470 403h0M492.2 404h0M474 398.5h0M464.7 397.2h0M496.3 396.8h0M487.6 400.6h0M482.4 399.1h0M465.6 403.3h0M477.1 400.3h0M491.7 404h0M474.1 398h0M474 400.7h0M471.5 404.2h0M465.6 402.5h0M481.9 402.8h0M471.6 397.9h0M471.6 409.7h0M452.9 400.8h0M480.2 402h0M483.3 396.8h0M484 398.7h0M457.8 403.5h0M478 399.4h0M462.6 401h0M472.2 401.1h0M460.2 394.3h0M487.9 402.2h0M457.5 396.7h0M464 400.4h0M446.9 406.1h0M477.3 400.6h0M476.4 402.4h0M484.9 402.2h0M487.3 406.6h0M468.5 400.2h0M461.7 400.9h0M463.6 401.7h0M475.9 403.4h0M458.4 405.1h0M468.5 401.3h0M466.1 395.3h0M475.2 396h0M485.4 401.8h0M490.8 403.7h0M480.6 406.1h0M471.7 406.5h0M470.6 402.5h0M464.1 403.4h0M480.1 400h0M456.9 401.5h0M477.2 401.1h0M460.5 399.3h0M469 393.3h0M465.1 406.2h0M456.8 400.9h0M492.3 403.9h0M483.1 401.2h0M475.7 402.4h0M491.7 404.2h0M472.8 398.1h0M470.3 401.2h0M464 398.9h0M460.2 401.3h0M465 402.9h0M484.2 402.6h0M472.3 406.6h0M479.9 396.9h0M463.5 402.2h0M461.6 404h0M451.2 395.5h0M483.8 403.5h0M453 401.9h0M488.1 398.1h0M457.9 397.7h0M460.3 396.1h0M466.3 397h0M472.8 408.7h0M459.5 404.5h0M486 394.3h0M473.4 401.6h0M468 404.2h0M466.8 402.7h0M467.4 401.2h0M462.7 408.9h0M471.4 398h0M495.3 406.6h0M469.7 399.5h0M463.2 405.5h0M468.1 399.3h0M482.1 400.7h0M471.4 407.8h0M482.3 405.6h0M477 405.7h0M470 404.7h0M484.5 400.3h0M456.7 403.3h0M470.6 403.5h0M464.8 403.3h0M483.5 409.1h0M493.4 402.9h0M489.2 399.6h0M486.1 402h0M487.9 402.7h0M469.3 399.3h0M487 401.8h0M480.6 403.1h0M447.6 403.5h0M467.6 402.9h0M477.8 395.9h0M468.3 401.4h0M476.7 404.6h0M463.9 400.9h0M479.5 395.8h0M494.2 398.6h0M487.8 402.1h0M494.5 404.9h0M471.6 396.2h0M473.6 402.6h0M478.5 397.6h0M462.1 399.1h0M475.4 398.8h0M470.6 404.6h0M467 405.9h0M475.6 400.8h0M485.1 403.2h0M468.6 399.7h0M471.5 402.7h0M485.6 402.5h0M464.6 397.4h0M475.1 402.9h0M485.5 399.9h0M456.6 404.3h0M470 397.7h0M491.8 404.4h0M472.8 402.5h0M463.1 404.8h0M466.9 400.2h0M468.5 398h0M484.3 406.9h0M481.1 395.1h0M468.4 399.6h0M476.5 394.8h0M446.3 400.1h0M483.7 401h0M498.3 398.9h0M472.5 401.1h0M462.1 405.1h0M456.3 398.2h0M467.7 400.1h0M485.5 399.9h0M478 400.1h0M487.3 401.6h0M475.2 396.4h0M480.4 399.6h0M482.6 403.2h0M478.5 405.2h0M476.5 398.8h0M473.9 402.1h0M458 403.6h0M489.5 402.4h0M473.4 403.1h0M485.1 399.9h0M483.4 399.2h0M478.4 403.3h0M456.7 403.7h0M474.6 396.3h0M466.6 399.6h0M461.4 402.9h0M462.6 401.8h0M459.1 400.8h0M493.8 402.9h0M453.5 398.6h0M470.4 396.4h0M483.7 401.5h0M471.2 401.8h0M463.9 398h0M474.8 403.8h0M469.8 395.8h0M468 401.7h0M456.6 406h0M458.6 401.6h0M459 404.5h0M457 398.7h0M485.3 397.6h0M465.6 403.3h0M476.2 396h0M479.2 400.7h0M486.5 396.1h0M481.1 402.9h0M467.5 400.3h0M476.6 399.4h0M467.9 399.2h0M473.6 403.7h0M453 401.7h0M475.7 406.4h0M463.1 405.6h0M466.7 403.1h0M474.6 402.5h0M467.9 398.5h0M489.7 406.2h0M470.6 401.1h0M469.5 397.4h0M458.7 402.9h0M483.3 400.9h0M460.8 398.2h0M464.6 403.8h0M472.5 397.1h0M458.1 402.6h0M475.5 407.2h0M489.1 402.2h0M463.8 402.2h0M458.4 399.4h0M483.9 403.5h0M482.9 406.5h0M467 404.1h0M472.8 402.6h0M474.7 403.3h0M455.5 397.2h0M473.1 403.1h0M466.2 401.3h0M455.2 404.6h0M477.4 406.3h0M432.2 401.7h0M435 400.9h0M412.3 400.8h0M444.8 403.7h0M431.4 399.4h0M421.6 399.2h0M422.3 402.3h0M443.3 398h0M409.5 392.6h0M442.7 399.7h0M434.1 402.7h0M411.6 406.5h0M451.4 400.5h0M431.9 394.4h0M415.4 397h0M437.5 403.7h0M425.5 399.9h0M420.9 398.6h0M412.1 396.9h0M441.9 404.8h0M414.7 399h0M437.8 401.1h0M427.9 400h0M446.9 402.8h0M427.1 397.9h0M429.3 395.3h0M433 398.2h0M430.2 401.3h0M421.7 398.6h0M449.1 401.5h0M427.1 399.9h0M417.6 400.4h0M447.1 397.1h0M418.4 403.8h0M437.3 394.5h0M431.8 401.3h0M424.9 398.8h0M445.4 404h0M439.1 396.7h0M448.1 400h0M446.1 402.6h0M442.7 403.5h0M438.4 406.2h0M419.1 398.1h0M452.9 398.1h0M451.9 402.4h0M415.5 395.9h0M420.3 402.4h0M420 400.8h0M441.5 395.2h0M443.5 404.4h0M445.1 394.6h0M452 394.5h0M431.1 399.6h0M451.6 397.6h0M437.9 396.7h0M421.3 401.8h0M414.2 402h0M408.2 402.6h0M442.4 401.6h0M410.2 398.6h0M431 398.4h0M421.3 394.7h0M426.6 401.3h0M425.6 399.4h0M423.7 398h0M439.6 404.3h0M419.6 391.7h0M436.1 397.6h0M446.1 404.3h0M461 399.6h0M462.3 391.2h0M451.8 383.2h0M456.4 407.9h0M462.6 394.3h0M460.3 400.5h0M458.3 395.9h0M459 389.4h0M452.3 389.6h0M463.7 381.5h0M455.8 390.7h0M458.2 390.5h0M461.9 391.1h0M457.9 399.7h0M451 402.7h0M463.1 383.6h0M457.5 388.2h0M456.2 400.2h0M448.7 400.7h0M460.1 394h0M450.5 397.1h0M458.7 389.1h0M464.8 400.5h0M461.1 402.8h0M464.6 404h0M457.8 392.1h0M457 398.2h0M453.4 385.6h0M463.3 392.2h0M453.8 390.7h0M454 389.1h0M450.2 398.9h0M459.6 400.3h0M458.3 388.4h0M460.8 401h0M456.5 399.8h0M454.3 402h0M462.6 400.7h0M459.9 395.1h0M459.1 399.8h0M498.2 398.9h0M507.7 404.7h0M502.2 400.6h0M497.5 396.3h0M506.5 400h0M510.6 397h0M507 401.9h0M508.1 399.2h0M517.3 394.8h0M490.8 399.1h0M509.7 399.7h0M500.7 404.2h0M504.1 400.1h0M514 402h0M507.3 399.2h0M496.8 399.2h0M517 401h0M508.9 403.1h0M503.3 393.9h0M511.4 397.9h0M458.5 354.4h0M456.6 373.7h0M445.2 382.9h0M448 385.1h0M411.1 390.4h0M401.6 396.9h0M401.6 410.7h0M472.7 387h0M475 389.1h0M486 417h0M498.9 414h0M496.5 397.8h0M500.3 397.8h0M511.6 393.6h0M518.3 398.1h0M438 388.1h0M428 392.1h0M463 415.1h0M468 412.1h0" stroke="#cbcbcb" stroke-width="3.9" stroke-linecap="round" fill="none"/>
<path d="M467.1 343.7h0M467.1 366.1h0M460.8 367.6h0M487.9 376.9h0M458.5 376.5h0M460.4 375.5h0M469.9 397.7h0M469.9 408.7h0M459.5 398.3h0M462 380h0M461 383h0M457 396h0M463 402h0" stroke="#b2df8a" stroke-width="4.2" stroke-linecap="round" fill="none"/>
<path d="M466.1 397.4h0M462 398h0M464 393h0" stroke="#fdbf6f" stroke-width="4.2" stroke-linecap="round" fill="none"/>
<path d="M462.3 414.8h0M468 417.9h0M461.4 419.8h0M467.4 427.7h0" stroke="#b15928" stroke-width="4.2" stroke-linecap="round" fill="none"/>
<path d="M400.3 399.3h0M418.7 393.6h0M422.1 392.6h0M425.3 393.6h0M429.5 394.1h0M452.8 387.9h0M453.8 392.6h0" stroke="#e31a1c" stroke-width="4.2" stroke-linecap="round" fill="none"/>
<path d="M434.8 394h0M457.6 386h0M454.7 390.3h0M459.5 391.7h0M464.2 390.7h0M465.2 400.2h0M457.6 411.2h0M456.6 403h0M460 395h0M462 388h0M455 398h0" stroke="#33a02c" stroke-width="4.2" stroke-linecap="round" fill="none"/>
<path d="M460.8 380.3h0" stroke="#6a3d9a" stroke-width="4.2" stroke-linecap="round" fill="none"/>
<path d="M450 405.9h0M458.9 382.2h0M462 392h0M458 395h0" stroke="#ff7f00" stroke-width="4.2" stroke-linecap="round" fill="none"/>
<path d="M507.9 397.9h0M512.6 399.8h0" stroke="#1f78b4" stroke-width="4.2" stroke-linecap="round" fill="none"/>
<path d="M431.6 386h0M442 392h0M428.2 396.8h0M415.8 397.9h0" stroke="#666666" stroke-width="4.2" stroke-linecap="round" fill="none"/>
<path d="M409.2 400.6h0M444.3 406.5h0M449.4 408.7h0" stroke="#000000" stroke-width="4.2" stroke-linecap="round" fill="none"/>
<circle cx="467.4" cy="427.7" r="1.5" fill="#b15928" stroke="#000" stroke-width="0.8"/>
</g>
<rect x="394.7" y="316.1" width="128.2" height="133.3" fill="none" stroke="#333" stroke-width="1.0"/>
<rect x="394.7" y="456.5" width="128.2" height="133.1" fill="#fff"/>
<line x1="394.7" y1="540.4" x2="522.9" y2="540.4" stroke="#333" stroke-width="1.1"/>
<line x1="458" y1="456.5" x2="458" y2="589.6" stroke="#333" stroke-width="1.1"/>
<clipPath id="cd1"><rect x="394.7" y="456.5" width="128.2" height="133.1"/></clipPath>
<g clip-path="url(#cd1)">
<path d="M476 540.9h0M471.1 542.9h0M460 539h0M476.4 539.9h0M480.7 540.7h0M440 537h0M454.5 534.7h0M466.8 540.4h0M482.7 538.5h0M464.4 543.3h0M479.6 538h0M491.9 539.3h0M486.8 540.4h0M461.4 537.2h0M466 549.4h0M458 546.6h0M488.9 540.1h0M485.6 546.1h0M463.2 539.6h0M485.6 542.6h0M501.4 542.9h0M449.9 541.2h0M449.4 543.9h0M479.1 540h0M454.1 544.4h0M462.1 545.5h0M452.6 540.5h0M459.5 537.9h0M458.2 544.1h0M439.7 545.6h0M485.2 540.3h0M462.5 542.2h0M475.3 540.2h0M454.7 540.5h0M461.3 544.1h0M469.5 542.2h0M441.9 540.1h0M461.9 539.7h0M466.3 540.4h0M444.2 544.6h0M482.7 539.7h0M478 538.3h0M448.3 540.8h0M492.7 541.1h0M444.2 542.3h0M459.3 539.1h0M473.9 535.6h0M440.1 536.6h0M485.5 541.8h0M458.9 539.2h0M478.9 545.7h0M457.1 542.4h0M463.5 542.7h0M470.4 543.8h0M474.3 539.9h0M466.9 542.8h0M457.9 541.8h0M454.4 545.7h0M493.3 538.6h0M482.2 542.1h0M470.3 540.7h0M473 545h0M449.5 545h0M464.7 537.9h0M468.1 543.7h0M467.4 542.6h0M463.6 539.8h0M484.6 538.4h0M484.5 542.7h0M464.5 540.8h0M464.3 541.5h0M468.1 541.1h0M474.2 539.5h0M460 541h0M451.6 546.7h0M468.8 541h0M452.4 544.5h0M480.2 546.5h0M482.9 538.9h0M449.1 546.1h0M458.3 541.2h0M466.5 543.3h0M477.5 538.2h0M458.9 535.8h0M477.6 541.1h0M442.7 545h0M469.1 538.2h0M462.5 539.7h0M470.5 542.3h0M460 543h0M479 544.7h0M481.4 538.2h0M442.7 540.5h0M457.4 536.1h0M471.1 540.1h0M476.6 542.2h0M432.6 541.2h0M481 539.6h0M450.3 537.7h0M448.3 548.8h0M490.6 539.6h0M489.9 538.1h0M460.4 539.1h0M465.8 543.7h0M500 544h0M467 542.1h0M465.2 542.8h0M455.3 542.4h0M475.7 544.7h0M455.9 542.9h0M473 538.9h0M438.3 539.7h0M482.1 540.6h0M457.5 541.2h0M475.7 543.1h0M465 543h0M471.1 540h0M441.2 542.1h0M462.3 541.4h0M460.2 544h0M485 539.2h0M447.5 542.6h0M489.8 542.9h0M476 536.9h0M460.1 543.4h0M474.2 541.5h0M477.3 544.3h0M469.9 539.2h0M447 542.2h0M465.9 540.9h0M485.5 539.4h0M464.4 543.6h0M455 534.5h0M460.1 544.2h0M459.3 540.7h0M440.2 545.4h0M441.8 539.3h0M465.7 547.8h0M470.2 539.2h0M445.7 540.5h0M449.7 539.5h0M469.2 545.5h0M451.6 545.9h0M458.6 540.3h0M461.2 542.2h0M467.6 540.4h0M457.8 539.7h0M469.3 539.8h0M458 536.8h0M468.8 543.1h0M452.9 544.7h0M467.9 541.8h0M442.5 543.5h0M487.5 547.8h0M459.1 541.3h0M479.7 543.2h0M458.8 541.7h0M483.3 543.3h0M467.6 544.9h0M445.9 542.9h0M458.5 540.3h0M480.7 547.1h0M475.3 541.9h0M493.4 543.9h0M435.1 539.6h0M458.5 539.3h0M445.9 543.6h0M471.2 547.1h0M464.3 541.9h0M457.3 544.8h0M487.7 546.9h0M484.1 539.7h0M487 538.6h0M459.4 541h0M500.2 539.3h0M453.9 542.3h0M486.7 543.4h0M477.1 538.9h0M463 545.7h0M470.5 539.5h0M463.7 545.9h0M494.7 542.9h0M456.7 546.9h0M459.3 541.9h0M475.3 541.6h0M466.4 546.8h0M473.8 537.1h0M460.2 545.8h0M466.4 538.4h0M482.7 543.2h0M469.7 543.4h0M463.4 542.2h0M477.8 539.8h0M487.7 538.3h0M500.1 541.9h0M474.7 537.8h0M480.8 539h0M476.4 541.7h0M457 547.3h0M471.6 540h0M463.7 542.7h0M469.9 544.4h0M460.7 542.3h0M461.9 539.4h0M481.3 539.1h0M444.9 543.7h0M461.5 543.4h0M477 543.3h0M470.4 546.6h0M453.6 545.4h0M467.1 542.6h0M462.9 544.4h0M476.4 540.3h0M470.1 543.2h0M467.2 549.5h0M477.8 540.4h0M484.5 542.5h0M461.7 540.6h0M445.7 544.1h0M491.9 541.4h0M457.5 536.2h0M451.3 541.7h0M459.9 541.2h0M456.9 541.2h0M466 542.3h0M470.8 542.3h0M457.3 540.8h0M451.3 540.1h0M468.8 543.1h0M449.4 538.7h0M461.5 537.9h0M465.1 541.1h0M458.7 546.8h0M463 542.4h0M443 544.3h0M474 542.3h0M437.6 541.5h0M459.3 542.9h0M468.8 540h0M462.3 545.5h0M485.4 536.2h0M462.6 543.6h0M463 542.6h0M464.4 546.8h0M479.8 541.1h0M490.1 543.7h0M494.1 540.2h0M446.9 544.2h0M469.6 536.1h0M470.1 539.1h0M462.1 542h0M448.5 545.6h0M449.8 541.7h0M469.2 540.1h0M457.5 544.3h0M445.2 541.6h0M492.9 539.2h0M446.2 540h0M451.4 539h0M455.6 543.4h0M469.3 538.3h0M487.9 538.5h0M490.6 540h0M455 540.1h0M489.9 541.9h0M468.2 536.3h0M468.2 540.5h0M463.1 539h0M444.9 545.6h0M454.1 543.4h0M477 542h0M470.6 543.6h0M463.4 541.3h0M473.4 542.1h0M463.9 533h0M468 537.6h0M485.9 545.5h0M472.1 542.3h0M438.2 540.9h0M456.9 547.3h0M448.7 548.7h0M465.9 535h0M495.5 540.8h0M474 545h0M444.9 540h0M470.5 545.6h0M466 543.4h0M442.3 543.2h0M454.8 540.4h0M470.1 544.4h0M458.4 542.9h0M464 543.5h0M461.9 546h0M453.1 538.2h0M487.7 539.2h0M478.4 543.8h0M443.4 540.6h0M461.5 541.1h0M446.4 542.1h0M471.6 538h0M468.9 542.2h0M443 541.3h0M482 543.9h0M452.2 539.1h0M468.8 542.8h0M480.7 541.8h0M480.5 539.4h0M495.9 540.9h0M454 539.7h0M441.5 539.1h0M463.6 543h0M485 538.7h0M457.1 543.6h0M483.6 543.9h0M472 537.7h0M460 536.4h0M457.6 545.4h0M491.4 540.5h0M477 545.7h0M452.1 537h0M460.1 529.9h0M472.1 538.9h0M463.3 539.6h0M470.3 539.2h0M454.9 542.2h0M461 540.6h0M459.6 539.4h0M451.8 539.8h0M463 544.1h0M458.5 535.3h0M472 530.4h0M471.3 538.8h0M461.5 539.6h0M463.1 535.1h0M472.1 535.2h0M466.7 538.3h0M459 536.4h0M468.1 537.6h0M477.6 543h0M461.6 543.7h0M453.9 533.4h0M475.4 531.9h0M459 540.6h0M447 538.5h0M473.6 536h0M478.7 535.2h0M478.3 541h0M466.7 538.1h0M456.7 543.9h0M455 539.2h0M471.9 541.3h0M471.7 536.3h0M454.1 540.2h0M464.1 544h0M447.9 539.1h0M469.1 537.1h0M451 539.2h0M474.8 536.1h0M457.2 534.6h0M456.6 531.1h0M476.1 544.4h0M460.4 541.8h0M482 545.2h0M474.7 536h0M459.9 539.4h0M479.6 536.1h0M471.8 544.5h0M473 539.3h0M460 542.5h0M462.9 541h0M461.3 537h0M461.7 534.8h0M474.2 533.2h0M469.3 537.4h0M470.3 531.9h0M465.9 539.6h0M478.6 543.9h0M469.3 539.1h0M466.4 544h0M477.7 542.1h0M437.3 541h0M439.4 538.2h0M434.4 543.5h0M440.2 545.3h0M438.2 539.9h0M424.4 533.8h0M403.3 538.2h0M408.9 536.4h0M408.3 545.3h0M405 535.2h0M403.7 539h0M437.8 537.3h0M421.5 539.7h0M434.1 538.9h0M411 536.5h0M416 541.5h0M412.7 538.9h0M409.3 540.2h0M408.2 541.6h0M442.4 537.6h0M439 543.2h0M442.5 545.5h0M420.7 535h0M422.6 540.4h0M413.5 539.6h0M418.4 537.6h0M403.9 537.2h0M408.5 545.2h0M410.6 537.7h0M403.3 541.6h0M405.2 541.7h0M434.1 545.5h0M435.2 535.9h0M413.3 528.9h0M431.3 531.9h0M420.7 542.5h0M432 541.3h0M433.6 531.5h0M416.1 536.4h0M440.6 535.2h0M412.9 539.2h0M409.3 534.7h0M407.8 535.8h0M416.1 538.2h0M427.7 542.5h0M424.4 543.3h0M436.3 539.7h0M425.3 538.6h0M408.1 535h0M431.2 539.1h0M403.4 537.9h0M423.3 539.5h0M422.7 534.3h0M414.9 540.3h0M422.1 540h0M428.3 542.1h0M409.3 540.9h0M407.5 536.9h0M434.5 542.6h0M429.2 540.3h0M403.6 538.6h0M442 535.9h0M415.5 544.3h0M423 531.8h0M406.1 536.6h0M403 545h0M428.3 534.5h0M417.8 539.2h0M440.4 542.5h0M415.2 542.2h0M425.4 540.6h0M421 543.1h0M439.9 542.6h0M408.9 540.4h0M431.6 540h0M434.3 539.3h0M438.2 535.6h0M434.7 540.9h0M440.1 540.7h0M406.2 545h0M502.8 542.8h0M507.4 538.9h0M505 539.9h0M508.1 540.5h0M518.4 540.8h0M509.9 540.8h0M515.2 539.6h0M510.4 540.8h0M510.7 540.8h0M507.7 544h0M514.2 540.6h0M510.9 542.3h0M511 543.2h0M512.5 536.5h0M493.3 537.5h0M514 541h0M501.5 542.8h0M498.2 541.4h0M506.9 540.9h0M493.8 544.5h0M508.1 542.5h0M496.9 538.4h0M507.8 541.7h0M517.5 537.9h0M515 539.6h0M511.7 541.1h0M506 541.3h0M512.4 538.4h0M496.9 540.5h0M514.9 536.4h0M461.4 537.6h0M462.6 551.1h0M459 551.3h0M455.1 543.5h0M453.1 535.8h0M460.5 546.4h0M453.9 541.4h0M451.1 550.4h0M463.3 543.3h0M457.7 543.7h0M454.8 548.5h0M465.6 534.5h0M465 541.1h0M457.8 538h0M456.9 545.6h0M458.2 561.3h0M457.5 544.7h0M458 548.9h0M464.1 550.6h0M459.7 547.5h0M454.1 547.8h0M456.5 549.6h0M458.2 549.9h0M451.8 555.6h0M451.5 546.4h0M454.1 547.1h0M466 541.1h0M461.9 551.2h0M453.9 551.2h0M456.6 549.7h0M489.3 555.3h0M443.8 528.9h0M446 527.4h0M430.8 527.8h0M408 531.4h0M459 557h0M460 559.4h0M438 525.4h0M450 522.4h0M455 520.4h0M463 528.4h0M478 533.4h0M418 546.4h0M413 549.4h0M403 550.4h0M473 553.4h0" stroke="#cbcbcb" stroke-width="3.9" stroke-linecap="round" fill="none"/>
<path d="M459.6 488h0M459 491.5h0M462.1 495h0M458.7 498.5h0M461.6 502h0M460.7 505.5h0M462.4 509h0M462.2 512.5h0M461 516h0M458.2 519.5h0M458.1 523h0M460.1 526.5h0M461.7 530h0M458.4 533.5h0M459.9 537h0M467.7 489.7h0M467.7 494h0M486.1 503.8h0M487.8 512.4h0M471.6 515.2h0M469.8 526.5h0M469.8 529.8h0M486.1 528.7h0M460 490h0M462 500h0M463 507h0M461 512h0M470 535h0M462 486h0" stroke="#b2df8a" stroke-width="4.2" stroke-linecap="round" fill="none"/>
<path d="M461.2 495h0M467.7 504.8h0M460 487h0" stroke="#cab2d6" stroke-width="4.2" stroke-linecap="round" fill="none"/>
<path d="M458 522h0M456 523h0M456 526h0M459 531h0M457 537h0M461 540h0M462 532h0" stroke="#fdbf6f" stroke-width="4.2" stroke-linecap="round" fill="none"/>
<path d="M461.2 563.3h0M467.7 565.5h0M467.7 567.7h0M462.9 576.3h0" stroke="#b15928" stroke-width="4.2" stroke-linecap="round" fill="none"/>
<path d="M400.5 538h0M414.6 537.3h0M418 537.3h0M421 538h0M424 537.3h0M427 538h0M430 537.3h0M453.6 542.8h0" stroke="#e31a1c" stroke-width="4.2" stroke-linecap="round" fill="none"/>
<path d="M457.6 462.5h0M456.8 464.8h0M456.7 467.1h0M457 469.4h0M458.8 471.7h0M457 474h0M457.5 476.3h0M458.6 478.6h0M458 480.9h0M459.5 483.2h0M457.9 485.5h0M457.6 487.8h0M458.3 490.1h0M456.9 492.4h0M459.3 494.7h0M457.4 497h0M457.5 499.3h0M458.6 501.6h0M456.6 503.9h0M458.5 506.2h0M459.2 508.5h0M457.3 510.8h0M459.5 513.1h0M458 515.4h0M458.9 517.7h0M457.8 520h0M457.5 522.3h0M457.1 524.6h0M456.1 526.9h0M456.8 529.2h0M459.7 531.5h0M458 533.8h0M457.8 536.1h0M459.3 538.4h0M458.3 540.7h0M459.6 543h0M456.5 462.6h0M459 464h0M458 468h0M459.5 473h0M458 480h0M456 488h0M458 490h0M459 495h0M457 500h0M458.5 505h0M458 510h0M459 515h0M456 520h0M458 525h0M460 530h0M465 528h0M463 535h0M458 538h0M464 540h0M457 543h0M453 533h0M435.2 537.3h0M457.6 553.5h0M466 532h0M461 536h0M455 528h0M460 470h0M457 484h0" stroke="#33a02c" stroke-width="4.2" stroke-linecap="round" fill="none"/>
<path d="M459 476.7h0M460 483.2h0M458.5 478.5h0" stroke="#6a3d9a" stroke-width="4.2" stroke-linecap="round" fill="none"/>
<path d="M459 517h0M461 519h0M460 521h0M459.5 523h0M460.5 525h0M459 527h0M452 545h0" stroke="#ff7f00" stroke-width="4.2" stroke-linecap="round" fill="none"/>
<path d="M507.8 541.7h0M513.2 539.1h0" stroke="#1f78b4" stroke-width="4.2" stroke-linecap="round" fill="none"/>
<path d="M428.2 515.7h0M428.2 517.8h0M428.2 520h0M449.9 525.4h0M449.9 527.5h0M428.2 522h0" stroke="#666666" stroke-width="4.2" stroke-linecap="round" fill="none"/>
<path d="M409.2 544.3h0M444.3 541h0M449.3 546h0" stroke="#000000" stroke-width="4.2" stroke-linecap="round" fill="none"/>
<circle cx="467.7" cy="565.5" r="1.5" fill="#b15928" stroke="#000" stroke-width="0.8"/>
</g>
<rect x="394.7" y="456.5" width="128.2" height="133.1" fill="none" stroke="#333" stroke-width="1.0"/>
<rect x="529.4" y="316.1" width="128.7" height="133.3" fill="#fff"/>
<line x1="529.4" y1="400.1" x2="658.1" y2="400.1" stroke="#333" stroke-width="1.1"/>
<line x1="592.9" y1="316.1" x2="592.9" y2="449.4" stroke="#333" stroke-width="1.1"/>
<clipPath id="cd2"><rect x="529.4" y="316.1" width="128.7" height="133.3"/></clipPath>
<g clip-path="url(#cd2)">
<path d="M621.5 392.9h0M604 398.4h0M592.5 396.4h0M596 399.5h0M604.6 406.7h0M602.8 407.1h0M604.9 400.5h0M598.4 393.5h0M585.5 399.3h0M598.8 401.8h0M603.5 391.6h0M593.7 392.5h0M609.8 399h0M601.5 393.9h0M588.3 395.9h0M599.3 402.6h0M586 401.8h0M592.2 396.3h0M597.1 396.9h0M604.5 405.3h0M603.4 396.2h0M604.2 402h0M608.3 401.4h0M585.1 394.8h0M596.5 405.6h0M599 405.5h0M603 392h0M600.7 403.2h0M604 390.1h0M604.2 395.9h0M580.5 396h0M581.8 391.5h0M610.2 402.4h0M618 401.8h0M600.8 394.1h0M610 399.1h0M602.2 402.5h0M594.8 401h0M622.2 393.6h0M601.8 403.1h0M595.2 399.4h0M584.2 396.9h0M600.7 406.9h0M609.3 396h0M589.9 411.6h0M608.8 387.4h0M597.2 393.9h0M594.6 388.6h0M596.4 396.4h0M598.2 406.5h0M602.5 391.9h0M584 396.3h0M611.3 405.9h0M594.9 407.3h0M604.6 395.9h0M604.6 399.3h0M589.9 397h0M602 408.4h0M590.7 401.4h0M600.7 399.5h0M589 408.1h0M612.9 410.3h0M605 409.5h0M605.7 406.4h0M597.4 401.4h0M597.5 393h0M596.5 392.6h0M590 397.4h0M594.9 413.4h0M617.5 407h0M608.2 394.3h0M603.3 390.5h0M594.7 396.8h0M597.2 405.6h0M595.8 405.5h0M585.6 405.9h0M588.9 401.3h0M600.6 405.3h0M606.5 402.5h0M599.3 412.8h0M596.3 400.1h0M596.2 400.9h0M591.5 397.3h0M605.5 396.2h0M605.1 396.1h0M614.3 399.1h0M617.5 403.2h0M599.5 406.2h0M611.9 410h0M614 405.8h0M589.5 406.1h0M599.9 402.6h0M612.8 395.3h0M606 397.9h0M613.9 401.2h0M610.8 408.2h0M586.3 402.1h0M586.1 395.4h0M606.5 392.1h0M593.8 397h0M603.7 402.2h0M604.9 396.6h0M593.5 402.6h0M592.3 394.6h0M607.3 394.7h0M592 407.3h0M600.2 385.3h0M593.4 412.6h0M607.3 404.7h0M603.6 388h0M610.1 401.7h0M598.3 389.3h0M594.5 399.1h0M598.1 401.3h0M596.9 406.4h0M606.5 392.3h0M594.8 402.6h0M595.3 409h0M595.4 401.4h0M606.3 392.4h0M612.4 398.5h0M593.7 395.3h0M584.4 390.9h0M614.8 399h0M597.8 401.1h0M606 394.6h0M598.5 401.6h0M610.1 401.5h0M616.3 398.4h0M597.3 390.8h0M568.4 401.8h0M561.9 403.2h0M578.1 396.9h0M563.7 399.8h0M562 398.7h0M579.8 400.3h0M569.5 397h0M578.7 397.1h0M576.4 400.9h0M590.2 402.4h0M568.2 399.5h0M576.8 403.1h0M584.4 398.2h0M560.6 406.5h0M584.4 395h0M564.6 397.7h0M581.3 403.7h0M563.4 398.8h0M588.4 401.3h0M585.5 399.9h0M562.4 404.1h0M582.2 402.4h0M589.6 398h0M568.3 397.8h0M577.7 403.8h0M587 399.9h0M566 399.7h0M562.1 395.9h0M585.3 400.9h0M561.8 401.7h0M580.4 404.5h0M559.9 405.6h0M585 400.3h0M577.6 396.7h0M584.6 399.2h0M593.4 348.7h0M593.4 365.4h0M592.9 372.1h0M589.9 386.1h0M618.8 405.3h0M628.7 403.4h0M621 414h0M610.8 415.2h0M614.9 392.1h0M618.9 396.1h0M574.9 394.1h0M580.9 391.1h0M584.9 410.1h0M590.9 413.1h0M595.9 412.1h0M601.9 387.1h0M567.9 406.1h0" stroke="#cbcbcb" stroke-width="3.9" stroke-linecap="round" fill="none"/>
<path d="M590.7 402.3h0M592 404h0M594.5 406.1h0M591 405h0M616.7 396.5h0M593 395h0M589 402h0M595 403h0M590 407.5h0M594 408.5h0M592 401h0M596.5 406h0" stroke="#b2df8a" stroke-width="4.2" stroke-linecap="round" fill="none"/>
<path d="M593.5 376.2h0M594.1 381.6h0M592 377h0M595 376.5h0M592.5 382h0" stroke="#fdbf6f" stroke-width="4.2" stroke-linecap="round" fill="none"/>
<path d="M594.1 417.7h0M594.1 419.6h0M605.7 415.7h0M605.7 417.7h0" stroke="#b15928" stroke-width="4.2" stroke-linecap="round" fill="none"/>
<path d="M557.9 394.5h0M560.8 396.5h0M580.6 396.5h0M585.8 397h0M586.8 391.3h0" stroke="#e31a1c" stroke-width="4.2" stroke-linecap="round" fill="none"/>
<path d="M586.8 396.5h0M589 397.5h0M591 398h0M593 396.5h0M595.5 399h0M588 400h0M592 393h0M590 395h0M588 393h0M594 392.5h0M596 395h0M587 399.5h0" stroke="#33a02c" stroke-width="4.2" stroke-linecap="round" fill="none"/>
<path d="M593.5 369.5h0M610 401.7h0" stroke="#ff7f00" stroke-width="4.2" stroke-linecap="round" fill="none"/>
<path d="M601.3 400.3h0" stroke="#1f78b4" stroke-width="4.2" stroke-linecap="round" fill="none"/>
<path d="M599.3 385.9h0M602.2 402.3h0M602.2 406.1h0" stroke="#666666" stroke-width="4.2" stroke-linecap="round" fill="none"/>
<path d="M564.6 395.9h0M567.5 396.5h0M574.7 395.1h0" stroke="#000000" stroke-width="4.2" stroke-linecap="round" fill="none"/>
<circle cx="605.7" cy="415.7" r="1.5" fill="#b15928" stroke="#000" stroke-width="0.8"/>
</g>
<rect x="529.4" y="316.1" width="128.7" height="133.3" fill="none" stroke="#333" stroke-width="1.0"/>
<rect x="529.4" y="456.5" width="128.7" height="133.1" fill="#fff"/>
<line x1="529.4" y1="540.4" x2="658.1" y2="540.4" stroke="#333" stroke-width="1.1"/>
<line x1="592.9" y1="456.5" x2="592.9" y2="589.6" stroke="#333" stroke-width="1.1"/>
<clipPath id="cd3"><rect x="529.4" y="456.5" width="128.7" height="133.1"/></clipPath>
<g clip-path="url(#cd3)">
<path d="M600.4 532.5h0M610 547.2h0M619 545h0M614 546.6h0M602.2 533.3h0M586.2 544.1h0M609.8 540.7h0M604.2 536h0M619.4 544.8h0M608.1 538.7h0M600.9 544.3h0M595.7 539.8h0M622.8 534.6h0M596.3 549.6h0M609 541.8h0M595.8 534h0M609.9 538.2h0M603.9 530.7h0M614.6 543.8h0M608 543h0M590.1 541.8h0M610.1 540.5h0M606.1 535.4h0M605.6 547.2h0M603.9 547.4h0M599 537.3h0M607.7 536.5h0M586.4 542.6h0M604.9 543.8h0M595.4 538.7h0M610.2 538.5h0M602.5 542h0M596.7 542.1h0M588.8 543.3h0M600.5 532.9h0M592.2 539.5h0M596.4 543.3h0M606.5 544.7h0M602.4 544.8h0M619.8 536.5h0M603.7 540.3h0M603.9 546.5h0M601.2 536.5h0M590.3 533.7h0M603.8 545.3h0M605.5 537h0M603.1 536.4h0M616 541.5h0M620.8 544.2h0M611.8 536.3h0M610.5 539.1h0M599 541.8h0M622.7 543.4h0M627 544.3h0M590.3 538.5h0M625.7 543.9h0M606.2 538.9h0M607.2 543.2h0M600.9 540.9h0M608.4 535.9h0M602.7 537.6h0M598.7 536.8h0M598.8 537.2h0M624.2 540.3h0M609.4 537.3h0M607 543.3h0M600.8 549.8h0M606.5 547.1h0M604.9 544.8h0M604.7 534.7h0M611.8 539.8h0M604.4 542.5h0M594.4 538.9h0M595.8 547.3h0M602.7 538.5h0M610.8 541.7h0M611.6 534.2h0M606 544.2h0M599.6 547.3h0M604.8 537.6h0M601.4 543.8h0M616.8 539h0M611.8 539.7h0M596.2 536.6h0M613.6 539.1h0M607.4 549.1h0M616.3 539.3h0M602.8 542.5h0M583.5 544.4h0M598.1 544.7h0M598.1 539.6h0M614.3 544.3h0M624.7 539h0M599.3 548.4h0M611.4 535.7h0M600.7 543.2h0M600.5 534.3h0M606.1 543.3h0M619.1 546.4h0M614 537.3h0M592.9 536.4h0M611.6 545.4h0M585.8 543.8h0M614.9 548.4h0M613.5 545.7h0M608 539.8h0M604 540.9h0M593.4 540.6h0M616.1 539.6h0M618.5 537h0M610 537.4h0M616.6 544.5h0M615.6 545h0M610.8 546.4h0M606.8 543.6h0M604.6 546h0M602.3 542h0M596.6 540h0M588.8 542.3h0M601.2 538h0M597.5 536.4h0M605 540.5h0M602 547.5h0M593.8 539h0M591.3 539.8h0M603.2 532.4h0M608.8 531.3h0M599.4 539.6h0M591.3 547.4h0M606.8 534.7h0M609 542.8h0M599.1 537h0M607.6 551.1h0M606 537.9h0M607.7 549.8h0M594.1 543h0M604.7 534.8h0M602.6 535.5h0M602.3 548h0M616.2 546h0M584.4 540.5h0M587.6 540.5h0M567.9 538.5h0M566.6 540h0M569.9 544.6h0M583.7 542.5h0M584.1 541.7h0M565.5 542.1h0M585.8 546.2h0M585.7 539.5h0M579.5 539.2h0M563.8 540.4h0M579.6 547h0M574.2 538.8h0M577 541.8h0M582.7 539.1h0M579.1 538.2h0M567.2 541.4h0M566.8 538.3h0M585 547.3h0M563.1 540.5h0M578.5 539.1h0M587.8 544.6h0M589.7 537.6h0M579.9 542.2h0M581 540.8h0M579 541.6h0M586.8 539.6h0M578.5 539.4h0M572.5 539.7h0M604.8 519.1h0M604.8 522.2h0M601.9 525.4h0M594.9 528.4h0M586.9 528.4h0M612.9 529.4h0M619.9 532.4h0M624.9 538.4h0M630.9 540.4h0M590.9 548.4h0M594.9 550.4h0M597.9 531.4h0M582.9 545.4h0M592.9 516.4h0" stroke="#cbcbcb" stroke-width="3.9" stroke-linecap="round" fill="none"/>
<path d="M593.6 535.2h0M594 538h0M593 541h0M594 544h0M616.8 537.3h0M591 533h0M595.5 531h0M596 536h0M590.5 539h0M595.8 541h0M591.5 545h0M594.5 548h0M592 550h0M595 546h0" stroke="#b2df8a" stroke-width="4.2" stroke-linecap="round" fill="none"/>
<path d="M592.3 490.8h0M592.9 495.1h0M594 499.4h0M596.2 508.1h0" stroke="#cab2d6" stroke-width="4.2" stroke-linecap="round" fill="none"/>
<path d="M592.5 505.9h0M592.5 511.3h0M592.9 522.2h0M592.9 525.4h0M592.5 518h0M592.5 515h0M594.5 520h0M591 523h0M594.8 526h0M591.5 527h0M593.5 529h0" stroke="#fdbf6f" stroke-width="4.2" stroke-linecap="round" fill="none"/>
<path d="M594 566.6h0M605.3 567.2h0M605.9 568.8h0M593.6 583.9h0" stroke="#b15928" stroke-width="4.2" stroke-linecap="round" fill="none"/>
<path d="M553.9 537.3h0M557.2 537.3h0M560.5 537.3h0M563.7 538.4h0M580.6 537.3h0M585.8 542.1h0" stroke="#e31a1c" stroke-width="4.2" stroke-linecap="round" fill="none"/>
<path d="M592.9 528.7h0M592.9 533h0M588.6 540.6h0M592.9 553.6h0M591.8 563.3h0M592.9 546h0M592.9 549h0M589.5 537h0M590 543h0" stroke="#33a02c" stroke-width="4.2" stroke-linecap="round" fill="none"/>
<path d="M593.6 472.3h0M592.3 476h0M592.9 483.2h0M592.9 487.1h0" stroke="#6a3d9a" stroke-width="4.2" stroke-linecap="round" fill="none"/>
<path d="M593.4 513.5h0M593.4 517.8h0M609.6 542.1h0M593 509h0" stroke="#ff7f00" stroke-width="4.2" stroke-linecap="round" fill="none"/>
<path d="M600.5 536.9h0" stroke="#1f78b4" stroke-width="4.2" stroke-linecap="round" fill="none"/>
<path d="M600.9 540.6h0M600.9 543.8h0" stroke="#666666" stroke-width="4.2" stroke-linecap="round" fill="none"/>
<path d="M564.8 539.5h0M566.9 537.3h0M574.9 542.1h0" stroke="#000000" stroke-width="4.2" stroke-linecap="round" fill="none"/>
<circle cx="605.3" cy="567.2" r="1.5" fill="#b15928" stroke="#000" stroke-width="0.8"/>
</g>
<rect x="529.4" y="456.5" width="128.7" height="133.1" fill="none" stroke="#333" stroke-width="1.0"/>
<text x="395.5" y="406.6" font-size="8.6" font-style="italic">spv_0647</text>
<text x="435.4" y="404.4" font-size="8.6" font-style="italic">fabB3</text>
<text x="436" y="418" font-size="8.6" font-style="italic">fabM</text>
<text x="467" y="435" font-size="8.6" font-style="italic">scrB</text>
<text x="438.4" y="538.8" font-size="8.6" font-style="italic">fabB3</text>
<text x="396.2" y="552" font-size="8.6" font-style="italic">spv_0647</text>
<text x="447" y="554.6" font-size="8.6" font-style="italic">fabM</text>
<text x="467.7" y="574.6" font-size="8.6" font-style="italic">scrB</text>
<text x="542.5" y="397.6" font-size="8.6" font-style="italic">nagA</text>
<text x="551.7" y="405.8" font-size="8.6" font-style="italic">nagB</text>
<text x="565.6" y="393.5" font-size="8.6" font-style="italic">manLMN</text>
<text x="604.1" y="425.2" font-size="8.6" font-style="italic">scrB</text>
<text x="564.3" y="535" font-size="8.6" font-style="italic">nagB</text>
<text x="543.7" y="548" font-size="8.6" font-style="italic">nagA</text>
<text x="568.4" y="550.2" font-size="8.6" font-style="italic">manLMN</text>
<text x="605.9" y="576.2" font-size="8.6" font-style="italic">scrB</text>
<line x1="391.2" y1="426.8" x2="394.7" y2="426.8" stroke="#333" stroke-width="1.1"/>
<text x="388.6" y="430.4" font-size="10" text-anchor="end" fill="#4d4d4d">-4</text>
<line x1="391.2" y1="400.1" x2="394.7" y2="400.1" stroke="#333" stroke-width="1.1"/>
<text x="388.6" y="403.7" font-size="10" text-anchor="end" fill="#4d4d4d">0</text>
<line x1="391.2" y1="373.4" x2="394.7" y2="373.4" stroke="#333" stroke-width="1.1"/>
<text x="388.6" y="377" font-size="10" text-anchor="end" fill="#4d4d4d">4</text>
<line x1="391.2" y1="346.7" x2="394.7" y2="346.7" stroke="#333" stroke-width="1.1"/>
<text x="388.6" y="350.3" font-size="10" text-anchor="end" fill="#4d4d4d">8</text>
<line x1="391.2" y1="320.1" x2="394.7" y2="320.1" stroke="#333" stroke-width="1.1"/>
<text x="388.6" y="323.7" font-size="10" text-anchor="end" fill="#4d4d4d">12</text>
<line x1="391.2" y1="567.1" x2="394.7" y2="567.1" stroke="#333" stroke-width="1.1"/>
<text x="388.6" y="570.7" font-size="10" text-anchor="end" fill="#4d4d4d">-4</text>
<line x1="391.2" y1="540.4" x2="394.7" y2="540.4" stroke="#333" stroke-width="1.1"/>
<text x="388.6" y="544" font-size="10" text-anchor="end" fill="#4d4d4d">0</text>
<line x1="391.2" y1="513.7" x2="394.7" y2="513.7" stroke="#333" stroke-width="1.1"/>
<text x="388.6" y="517.3" font-size="10" text-anchor="end" fill="#4d4d4d">4</text>
<line x1="391.2" y1="487" x2="394.7" y2="487" stroke="#333" stroke-width="1.1"/>
<text x="388.6" y="490.6" font-size="10" text-anchor="end" fill="#4d4d4d">8</text>
<line x1="391.2" y1="460.4" x2="394.7" y2="460.4" stroke="#333" stroke-width="1.1"/>
<text x="388.6" y="464" font-size="10" text-anchor="end" fill="#4d4d4d">12</text>
<line x1="426.4" y1="589.6" x2="426.4" y2="592" stroke="#333" stroke-width="0.9"/>
<text x="426.4" y="604.6" font-size="10" text-anchor="middle" fill="#4d4d4d">-3</text>
<line x1="458" y1="589.6" x2="458" y2="592" stroke="#333" stroke-width="0.9"/>
<text x="458" y="604.6" font-size="10" text-anchor="middle" fill="#4d4d4d">0</text>
<line x1="489.6" y1="589.6" x2="489.6" y2="592" stroke="#333" stroke-width="0.9"/>
<text x="489.6" y="604.6" font-size="10" text-anchor="middle" fill="#4d4d4d">3</text>
<line x1="521.3" y1="589.6" x2="521.3" y2="592" stroke="#333" stroke-width="0.9"/>
<text x="521.3" y="604.6" font-size="10" text-anchor="middle" fill="#4d4d4d">6</text>
<line x1="561.2" y1="589.6" x2="561.2" y2="592" stroke="#333" stroke-width="0.9"/>
<text x="561.2" y="604.6" font-size="10" text-anchor="middle" fill="#4d4d4d">-3</text>
<line x1="592.9" y1="589.6" x2="592.9" y2="592" stroke="#333" stroke-width="0.9"/>
<text x="592.9" y="604.6" font-size="10" text-anchor="middle" fill="#4d4d4d">0</text>
<line x1="624.5" y1="589.6" x2="624.5" y2="592" stroke="#333" stroke-width="0.9"/>
<text x="624.5" y="604.6" font-size="10" text-anchor="middle" fill="#4d4d4d">3</text>
<line x1="656.2" y1="589.6" x2="656.2" y2="592" stroke="#333" stroke-width="0.9"/>
<text x="656.2" y="604.6" font-size="10" text-anchor="middle" fill="#4d4d4d">6</text>
<text x="526.5" y="618.4" font-size="13" text-anchor="middle">Δ fitness (log<tspan font-size="9.2" dy="3.2">2</tspan><tspan dy="-3.2">FC)</tspan></text>
<text x="0" y="0" font-size="13" text-anchor="middle" transform="translate(369.4 452.8) rotate(-90)">Δ expression (log<tspan font-size="9.2" dy="3.2">2</tspan><tspan dy="-3.2">FC)</tspan></text>
</svg>
</body></html>
